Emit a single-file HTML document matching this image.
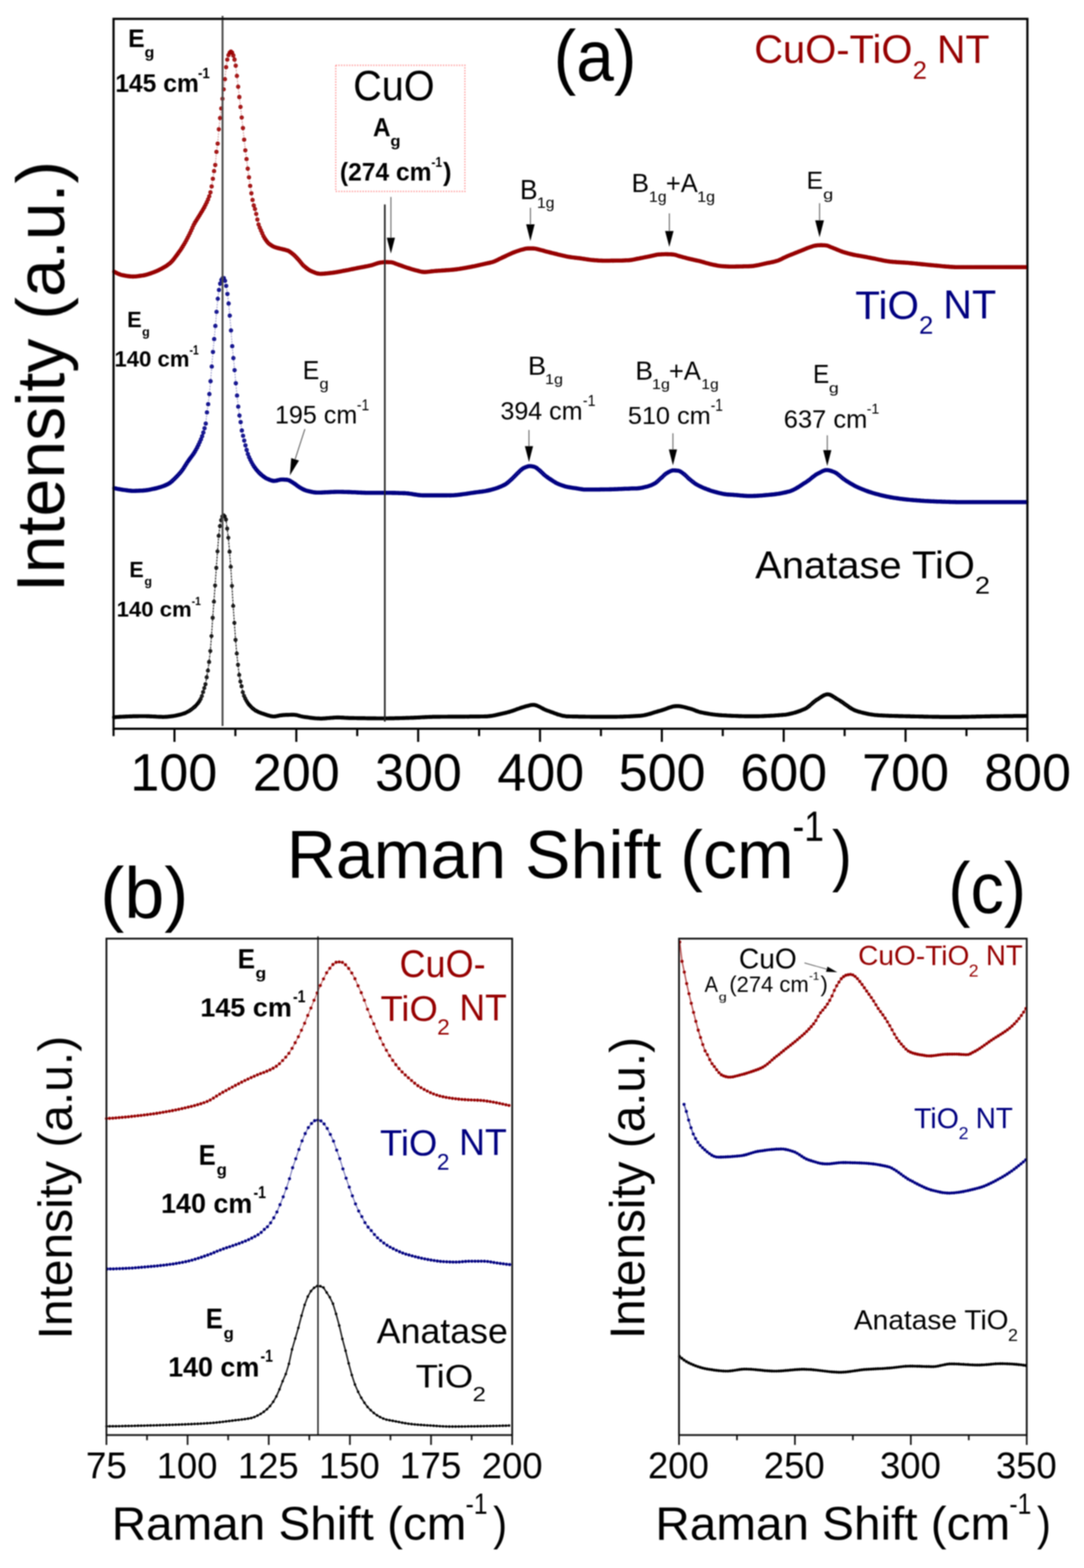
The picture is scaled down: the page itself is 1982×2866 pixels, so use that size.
<!DOCTYPE html>
<html><head><meta charset="utf-8"><title>Raman spectra</title><style>html,body{margin:0;padding:0;background:#fff;}svg{display:block;}</style></head><body>
<svg width="1982" height="2866" viewBox="0 0 1982 2866" font-family="Liberation Sans, Arial, Helvetica, sans-serif">
<rect width="1982" height="2866" fill="#fff"/>
<defs><filter id="soft" filterUnits="userSpaceOnUse" x="0" y="0" width="1982" height="2866"><feGaussianBlur stdDeviation="0.8"/></filter></defs>
<g filter="url(#soft)">
<path d="M208.8,496.6 L211.0,497.8 L213.2,498.9 L215.4,500.0 L217.6,500.9 L219.8,501.8 L222.0,502.5 L224.2,503.0 L226.4,503.4 L228.6,503.9 L230.8,504.2 L233.0,504.6 L235.2,504.9 L237.4,505.1 L239.6,505.3 L241.8,505.4 L244.0,505.4 L246.2,505.3 L248.4,505.2 L250.6,505.0 L252.8,504.7 L255.0,504.4 L257.2,504.1 L259.4,503.8 L261.6,503.5 L263.8,503.1 L266.0,502.6 L268.2,502.0 L270.4,501.3 L272.6,500.6 L274.8,499.9 L277.0,499.1 L279.2,498.3 L281.4,497.5 L283.6,496.6 L285.8,495.7 L288.0,494.7 L290.2,493.7 L292.4,492.6 L294.6,491.5 L296.8,490.3 L299.0,489.1 L301.2,487.8 L303.4,486.5 L305.6,485.0 L307.8,483.4 L310.0,481.7 L312.2,479.8 L314.4,477.5 L316.6,475.0 L318.8,472.2 L321.0,469.3 L323.2,466.4 L325.4,463.4 L327.6,460.3 L329.8,457.2 L332.0,453.9 L334.2,450.4 L336.4,446.8 L338.6,443.0 L340.8,439.0 L343.0,434.8 L345.2,430.5 L347.4,426.1 L349.6,421.3 L351.8,416.4 L354.0,411.6 L356.2,407.4 L358.4,403.7 L360.6,400.2 L362.8,396.8 L365.0,393.3 L367.2,389.6 L369.4,386.0 L371.6,382.3 L373.8,378.4 L376.0,374.1 L378.2,369.6 L380.4,364.6 L382.6,358.8 L384.8,351.6 L387.0,340.8 L389.2,326.8 L391.4,312.7 L393.6,301.6 L395.8,277.6 L398.0,262.5 L400.2,236.2 L402.4,215.8 L404.6,198.2 L406.8,180.5 L409.0,163.3 L411.2,144.7 L413.4,122.7 L415.6,109.0 L417.8,100.8 L420.0,96.4 L422.2,94.4 L424.4,96.3 L426.6,101.4 L428.8,108.9 L431.0,120.1 L433.2,138.7 L435.4,158.5 L437.6,177.4 L439.8,195.4 L442.0,214.8 L444.2,234.1 L446.4,255.2 L448.6,274.8 L450.8,290.8 L453.0,308.3 L455.2,324.0 L457.4,339.8 L459.6,353.3 L461.8,365.5 L464.0,375.5 L466.2,382.0 L468.4,391.0 L470.6,401.2 L472.8,410.2 L475.0,416.1 L477.2,421.2 L479.4,426.3 L481.6,431.2 L483.8,435.2 L486.0,438.6 L488.2,441.6 L490.4,444.1 L492.6,446.0 L494.8,447.6 L497.0,449.1 L499.2,450.3 L501.4,451.3 L503.6,452.1 L505.8,452.8 L508.0,453.4 L510.2,453.9 L512.4,454.5 L514.6,455.0 L516.8,455.6 L519.0,456.1 L521.2,456.6 L523.4,457.2 L525.6,457.9 L527.8,458.8 L530.0,460.2 L532.2,461.8 L534.4,463.5 L536.6,465.3 L538.8,467.3 L541.0,469.5 L543.2,471.9 L545.4,474.2 L547.6,476.7 L549.8,479.5 L552.0,482.2 L554.2,484.7 L556.4,486.8 L558.6,488.6 L560.8,490.4 L563.0,492.0 L565.2,493.5 L567.4,494.7 L569.6,495.7 L571.8,496.7 L574.0,497.6 L576.2,498.5 L578.4,499.2 L580.6,499.9 L582.8,500.3 L585.0,500.5 L587.2,500.5 L589.4,500.4 L591.6,500.3 L593.8,500.1 L596.0,499.9 L598.2,499.7 L600.4,499.4 L602.6,499.2 L604.8,498.9 L607.0,498.7 L609.2,498.4 L611.4,498.1 L613.6,497.7 L615.8,497.4 L618.0,497.0 L620.2,496.6 L622.4,496.2 L624.6,495.7 L626.8,495.3 L629.0,494.9 L631.2,494.5 L633.4,494.1 L635.6,493.7 L637.8,493.2 L640.0,492.8 L642.2,492.3 L644.4,491.9 L646.6,491.4 L648.8,491.0 L651.0,490.5 L653.2,490.1 L655.4,489.6 L657.6,489.2 L659.8,488.8 L662.0,488.4 L664.2,488.0 L666.4,487.6 L668.6,487.1 L670.8,486.7 L673.0,486.2 L675.2,485.8 L677.4,485.3 L679.6,484.7 L681.8,484.0 L684.0,483.3 L686.2,482.5 L688.4,481.7 L690.6,481.1 L692.8,480.5 L695.0,480.1 L697.2,479.7 L699.4,479.5 L701.6,479.2 L703.8,479.1 L706.0,479.1 L708.2,479.1 L710.4,479.2 L712.6,479.2 L714.8,479.3 L717.0,479.7 L719.2,480.3 L721.4,481.1 L723.6,482.0 L725.8,482.8 L728.0,483.6 L730.2,484.4 L732.4,485.1 L734.6,485.9 L736.8,486.7 L739.0,487.5 L741.2,488.3 L743.4,489.0 L745.6,489.7 L747.8,490.4 L750.0,491.1 L752.2,491.8 L754.4,492.5 L756.6,493.1 L758.8,493.7 L761.0,494.2 L763.2,494.8 L765.4,495.4 L767.6,496.0 L769.8,496.5 L772.0,496.9 L774.2,497.1 L776.4,497.2 L778.6,497.1 L780.8,497.0 L783.0,496.7 L785.2,496.5 L787.4,496.2 L789.6,495.9 L791.8,495.7 L794.0,495.5 L796.2,495.3 L798.4,495.1 L800.6,495.0 L802.8,494.8 L805.0,494.7 L807.2,494.5 L809.4,494.4 L811.6,494.2 L813.8,494.1 L816.0,493.9 L818.2,493.8 L820.4,493.6 L822.6,493.5 L824.8,493.3 L827.0,493.1 L829.2,492.9 L831.4,492.6 L833.6,492.4 L835.8,492.1 L838.0,491.8 L840.2,491.5 L842.4,491.1 L844.6,490.8 L846.8,490.4 L849.0,490.0 L851.2,489.6 L853.4,489.2 L855.6,488.8 L857.8,488.4 L860.0,488.0 L862.2,487.6 L864.4,487.1 L866.6,486.7 L868.8,486.2 L871.0,485.8 L873.2,485.3 L875.4,484.8 L877.6,484.3 L879.8,483.8 L882.0,483.3 L884.2,482.8 L886.4,482.3 L888.6,481.8 L890.8,481.3 L893.0,480.9 L895.2,480.4 L897.4,479.8 L899.6,479.2 L901.8,478.5 L904.0,477.7 L906.2,476.7 L908.4,475.7 L910.6,474.7 L912.8,473.6 L915.0,472.5 L917.2,471.4 L919.4,470.4 L921.6,469.4 L923.8,468.4 L926.0,467.3 L928.2,466.3 L930.4,465.3 L932.6,464.3 L934.8,463.3 L937.0,462.3 L939.2,461.4 L941.4,460.6 L943.6,459.8 L945.8,459.0 L948.0,458.2 L950.2,457.5 L952.4,456.8 L954.6,456.2 L956.8,455.7 L959.0,455.1 L961.2,454.6 L963.4,454.2 L965.6,454.1 L967.8,454.1 L970.0,454.1 L972.2,454.1 L974.4,454.1 L976.6,454.2 L978.8,454.5 L981.0,455.0 L983.2,455.6 L985.4,456.1 L987.6,456.7 L989.8,457.2 L992.0,457.8 L994.2,458.4 L996.4,459.1 L998.6,459.7 L1000.8,460.2 L1003.0,460.8 L1005.2,461.4 L1007.4,461.9 L1009.6,462.5 L1011.8,463.0 L1014.0,463.6 L1016.2,464.1 L1018.4,464.6 L1020.6,465.2 L1022.8,465.7 L1025.0,466.2 L1027.2,466.8 L1029.4,467.3 L1031.6,467.8 L1033.8,468.3 L1036.0,468.8 L1038.2,469.2 L1040.4,469.6 L1042.6,469.9 L1044.8,470.3 L1047.0,470.5 L1049.2,470.8 L1051.4,471.1 L1053.6,471.3 L1055.8,471.6 L1058.0,471.8 L1060.2,472.1 L1062.4,472.4 L1064.6,472.7 L1066.8,473.1 L1069.0,473.4 L1071.2,473.8 L1073.4,474.1 L1075.6,474.4 L1077.8,474.7 L1080.0,475.0 L1082.2,475.2 L1084.4,475.4 L1086.6,475.6 L1088.8,475.8 L1091.0,475.9 L1093.2,476.1 L1095.4,476.2 L1097.6,476.4 L1099.8,476.4 L1102.0,476.5 L1104.2,476.5 L1106.4,476.5 L1108.6,476.5 L1110.8,476.5 L1113.0,476.5 L1115.2,476.5 L1117.4,476.4 L1119.6,476.4 L1121.8,476.4 L1124.0,476.4 L1126.2,476.3 L1128.4,476.3 L1130.6,476.3 L1132.8,476.3 L1135.0,476.2 L1137.2,476.2 L1139.4,476.1 L1141.6,476.0 L1143.8,475.9 L1146.0,475.8 L1148.2,475.7 L1150.4,475.6 L1152.6,475.4 L1154.8,475.1 L1157.0,474.7 L1159.2,474.3 L1161.4,473.9 L1163.6,473.4 L1165.8,472.9 L1168.0,472.5 L1170.2,472.1 L1172.4,471.6 L1174.6,471.2 L1176.8,470.8 L1179.0,470.3 L1181.2,469.9 L1183.4,469.5 L1185.6,469.0 L1187.8,468.6 L1190.0,468.1 L1192.2,467.6 L1194.4,467.1 L1196.6,466.6 L1198.8,466.1 L1201.0,465.6 L1203.2,465.3 L1205.4,465.1 L1207.6,465.0 L1209.8,464.9 L1212.0,464.8 L1214.2,464.7 L1216.4,464.6 L1218.6,464.6 L1220.8,464.6 L1223.0,464.7 L1225.2,464.7 L1227.4,464.9 L1229.6,465.1 L1231.8,465.3 L1234.0,465.7 L1236.2,466.3 L1238.4,467.0 L1240.6,467.7 L1242.8,468.4 L1245.0,469.0 L1247.2,469.6 L1249.4,470.2 L1251.6,470.8 L1253.8,471.4 L1256.0,472.0 L1258.2,472.6 L1260.4,473.1 L1262.6,473.6 L1264.8,474.1 L1267.0,474.6 L1269.2,475.1 L1271.4,475.6 L1273.6,476.1 L1275.8,476.5 L1278.0,477.0 L1280.2,477.6 L1282.4,478.1 L1284.6,478.8 L1286.8,479.4 L1289.0,480.0 L1291.2,480.7 L1293.4,481.3 L1295.6,481.9 L1297.8,482.5 L1300.0,483.0 L1302.2,483.5 L1304.4,484.0 L1306.6,484.4 L1308.8,484.9 L1311.0,485.3 L1313.2,485.7 L1315.4,486.0 L1317.6,486.3 L1319.8,486.5 L1322.0,486.6 L1324.2,486.8 L1326.4,486.9 L1328.6,487.0 L1330.8,487.1 L1333.0,487.2 L1335.2,487.2 L1337.4,487.2 L1339.6,487.2 L1341.8,487.2 L1344.0,487.2 L1346.2,487.1 L1348.4,487.1 L1350.6,487.1 L1352.8,487.0 L1355.0,487.0 L1357.2,487.0 L1359.4,486.9 L1361.6,486.8 L1363.8,486.8 L1366.0,486.7 L1368.2,486.7 L1370.4,486.6 L1372.6,486.5 L1374.8,486.4 L1377.0,486.2 L1379.2,485.9 L1381.4,485.5 L1383.6,485.1 L1385.8,484.7 L1388.0,484.2 L1390.2,483.7 L1392.4,483.2 L1394.6,482.7 L1396.8,482.2 L1399.0,481.7 L1401.2,481.3 L1403.4,480.8 L1405.6,480.4 L1407.8,480.0 L1410.0,479.5 L1412.2,479.1 L1414.4,478.6 L1416.6,478.0 L1418.8,477.4 L1421.0,476.8 L1423.2,476.0 L1425.4,475.1 L1427.6,474.1 L1429.8,473.0 L1432.0,471.9 L1434.2,470.8 L1436.4,469.7 L1438.6,468.7 L1440.8,467.8 L1443.0,466.9 L1445.2,466.0 L1447.4,465.1 L1449.6,464.2 L1451.8,463.4 L1454.0,462.5 L1456.2,461.6 L1458.4,460.8 L1460.6,459.9 L1462.8,459.0 L1465.0,458.1 L1467.2,457.2 L1469.4,456.3 L1471.6,455.4 L1473.8,454.5 L1476.0,453.6 L1478.2,452.8 L1480.4,452.0 L1482.6,451.3 L1484.8,450.5 L1487.0,449.8 L1489.2,449.3 L1491.4,448.9 L1493.6,448.6 L1495.8,448.3 L1498.0,448.2 L1500.2,448.1 L1502.4,448.1 L1504.6,448.2 L1506.8,448.3 L1509.0,448.5 L1511.2,448.7 L1513.4,449.3 L1515.6,450.1 L1517.8,451.1 L1520.0,452.0 L1522.2,452.8 L1524.4,453.7 L1526.6,454.6 L1528.8,455.5 L1531.0,456.4 L1533.2,457.3 L1535.4,458.2 L1537.6,459.1 L1539.8,459.9 L1542.0,460.7 L1544.2,461.4 L1546.4,462.0 L1548.6,462.6 L1550.8,463.2 L1553.0,463.8 L1555.2,464.4 L1557.4,464.9 L1559.6,465.4 L1561.8,465.9 L1564.0,466.3 L1566.2,466.7 L1568.4,467.1 L1570.6,467.5 L1572.8,467.8 L1575.0,468.2 L1577.2,468.6 L1579.4,469.0 L1581.6,469.4 L1583.8,469.8 L1586.0,470.2 L1588.2,470.7 L1590.4,471.1 L1592.6,471.6 L1594.8,472.0 L1597.0,472.4 L1599.2,472.8 L1601.4,473.3 L1603.6,473.7 L1605.8,474.2 L1608.0,474.7 L1610.2,475.1 L1612.4,475.6 L1614.6,476.1 L1616.8,476.5 L1619.0,476.9 L1621.2,477.3 L1623.4,477.6 L1625.6,477.9 L1627.8,478.2 L1630.0,478.4 L1632.2,478.6 L1634.4,478.8 L1636.6,478.9 L1638.8,479.1 L1641.0,479.2 L1643.2,479.4 L1645.4,479.5 L1647.6,479.6 L1649.8,479.8 L1652.0,479.9 L1654.2,480.0 L1656.4,480.2 L1658.6,480.3 L1660.8,480.5 L1663.0,480.7 L1665.2,480.9 L1667.4,481.1 L1669.6,481.3 L1671.8,481.5 L1674.0,481.7 L1676.2,481.9 L1678.4,482.2 L1680.6,482.4 L1682.8,482.6 L1685.0,482.9 L1687.2,483.1 L1689.4,483.3 L1691.6,483.5 L1693.8,483.8 L1696.0,484.0 L1698.2,484.2 L1700.4,484.4 L1702.6,484.6 L1704.8,484.8 L1707.0,485.0 L1709.2,485.2 L1711.4,485.4 L1713.6,485.6 L1715.8,485.8 L1718.0,486.0 L1720.2,486.3 L1722.4,486.5 L1724.6,486.7 L1726.8,486.9 L1729.0,487.1 L1731.2,487.2 L1733.4,487.4 L1735.6,487.6 L1737.8,487.7 L1740.0,487.9 L1742.2,488.0 L1744.4,488.1 L1746.6,488.2 L1748.8,488.2 L1751.0,488.3 L1753.2,488.3 L1755.4,488.3 L1757.6,488.3 L1759.8,488.3 L1762.0,488.3 L1764.2,488.3 L1766.4,488.3 L1768.6,488.3 L1770.8,488.3 L1773.0,488.3 L1775.2,488.3 L1777.4,488.3 L1779.6,488.3 L1781.8,488.3 L1784.0,488.3 L1786.2,488.3 L1788.4,488.3 L1790.6,488.3 L1792.8,488.3 L1795.0,488.3 L1797.2,488.3 L1799.4,488.3 L1801.6,488.3 L1803.8,488.3 L1806.0,488.3 L1808.2,488.3 L1810.4,488.3 L1812.6,488.3 L1814.8,488.3 L1817.0,488.3 L1819.2,488.3 L1821.4,488.3 L1823.6,488.3 L1825.8,488.3 L1828.0,488.3 L1830.2,488.3 L1832.4,488.3 L1834.6,488.3 L1836.8,488.3 L1839.0,488.3 L1841.2,488.3 L1843.4,488.3 L1845.6,488.3 L1847.8,488.3 L1850.0,488.3 L1852.2,488.3 L1854.4,488.3 L1856.6,488.3 L1858.8,488.3 L1861.0,488.3 L1863.2,488.3 L1865.4,488.3 L1867.6,488.3 L1869.8,488.3 L1872.0,488.3 L1874.2,488.3 L1876.4,488.3" fill="none" stroke="#960000" stroke-width="1.6" stroke-opacity="0.45" stroke-dasharray="3 2"/>
<path d="M205.7,496.6a3.1,3.1 0 1,0 6.2,0a3.1,3.1 0 1,0 -6.2,0M207.9,497.8a3.1,3.1 0 1,0 6.2,0a3.1,3.1 0 1,0 -6.2,0M210.1,498.9a3.1,3.1 0 1,0 6.2,0a3.1,3.1 0 1,0 -6.2,0M212.3,500.0a3.1,3.1 0 1,0 6.2,0a3.1,3.1 0 1,0 -6.2,0M214.5,500.9a3.1,3.1 0 1,0 6.2,0a3.1,3.1 0 1,0 -6.2,0M216.7,501.8a3.1,3.1 0 1,0 6.2,0a3.1,3.1 0 1,0 -6.2,0M218.9,502.5a3.1,3.1 0 1,0 6.2,0a3.1,3.1 0 1,0 -6.2,0M221.1,503.0a3.1,3.1 0 1,0 6.2,0a3.1,3.1 0 1,0 -6.2,0M223.3,503.4a3.1,3.1 0 1,0 6.2,0a3.1,3.1 0 1,0 -6.2,0M225.5,503.9a3.1,3.1 0 1,0 6.2,0a3.1,3.1 0 1,0 -6.2,0M227.7,504.2a3.1,3.1 0 1,0 6.2,0a3.1,3.1 0 1,0 -6.2,0M229.9,504.6a3.1,3.1 0 1,0 6.2,0a3.1,3.1 0 1,0 -6.2,0M232.1,504.9a3.1,3.1 0 1,0 6.2,0a3.1,3.1 0 1,0 -6.2,0M234.3,505.1a3.1,3.1 0 1,0 6.2,0a3.1,3.1 0 1,0 -6.2,0M236.5,505.3a3.1,3.1 0 1,0 6.2,0a3.1,3.1 0 1,0 -6.2,0M238.7,505.4a3.1,3.1 0 1,0 6.2,0a3.1,3.1 0 1,0 -6.2,0M240.9,505.4a3.1,3.1 0 1,0 6.2,0a3.1,3.1 0 1,0 -6.2,0M243.1,505.3a3.1,3.1 0 1,0 6.2,0a3.1,3.1 0 1,0 -6.2,0M245.3,505.2a3.1,3.1 0 1,0 6.2,0a3.1,3.1 0 1,0 -6.2,0M247.5,505.0a3.1,3.1 0 1,0 6.2,0a3.1,3.1 0 1,0 -6.2,0M249.7,504.7a3.1,3.1 0 1,0 6.2,0a3.1,3.1 0 1,0 -6.2,0M251.9,504.4a3.1,3.1 0 1,0 6.2,0a3.1,3.1 0 1,0 -6.2,0M254.1,504.1a3.1,3.1 0 1,0 6.2,0a3.1,3.1 0 1,0 -6.2,0M256.3,503.8a3.1,3.1 0 1,0 6.2,0a3.1,3.1 0 1,0 -6.2,0M258.5,503.5a3.1,3.1 0 1,0 6.2,0a3.1,3.1 0 1,0 -6.2,0M260.7,503.1a3.1,3.1 0 1,0 6.2,0a3.1,3.1 0 1,0 -6.2,0M262.9,502.6a3.1,3.1 0 1,0 6.2,0a3.1,3.1 0 1,0 -6.2,0M265.1,502.0a3.1,3.1 0 1,0 6.2,0a3.1,3.1 0 1,0 -6.2,0M267.3,501.3a3.1,3.1 0 1,0 6.2,0a3.1,3.1 0 1,0 -6.2,0M269.5,500.6a3.1,3.1 0 1,0 6.2,0a3.1,3.1 0 1,0 -6.2,0M271.7,499.9a3.1,3.1 0 1,0 6.2,0a3.1,3.1 0 1,0 -6.2,0M273.9,499.1a3.1,3.1 0 1,0 6.2,0a3.1,3.1 0 1,0 -6.2,0M276.1,498.3a3.1,3.1 0 1,0 6.2,0a3.1,3.1 0 1,0 -6.2,0M278.3,497.5a3.1,3.1 0 1,0 6.2,0a3.1,3.1 0 1,0 -6.2,0M280.5,496.6a3.1,3.1 0 1,0 6.2,0a3.1,3.1 0 1,0 -6.2,0M282.7,495.7a3.1,3.1 0 1,0 6.2,0a3.1,3.1 0 1,0 -6.2,0M284.9,494.7a3.1,3.1 0 1,0 6.2,0a3.1,3.1 0 1,0 -6.2,0M287.1,493.7a3.1,3.1 0 1,0 6.2,0a3.1,3.1 0 1,0 -6.2,0M289.3,492.6a3.1,3.1 0 1,0 6.2,0a3.1,3.1 0 1,0 -6.2,0M291.5,491.5a3.1,3.1 0 1,0 6.2,0a3.1,3.1 0 1,0 -6.2,0M293.7,490.3a3.1,3.1 0 1,0 6.2,0a3.1,3.1 0 1,0 -6.2,0M295.9,489.1a3.1,3.1 0 1,0 6.2,0a3.1,3.1 0 1,0 -6.2,0M298.1,487.8a3.1,3.1 0 1,0 6.2,0a3.1,3.1 0 1,0 -6.2,0M300.3,486.5a3.1,3.1 0 1,0 6.2,0a3.1,3.1 0 1,0 -6.2,0M302.5,485.0a3.1,3.1 0 1,0 6.2,0a3.1,3.1 0 1,0 -6.2,0M304.7,483.4a3.1,3.1 0 1,0 6.2,0a3.1,3.1 0 1,0 -6.2,0M306.9,481.7a3.1,3.1 0 1,0 6.2,0a3.1,3.1 0 1,0 -6.2,0M309.1,479.8a3.1,3.1 0 1,0 6.2,0a3.1,3.1 0 1,0 -6.2,0M311.3,477.5a3.1,3.1 0 1,0 6.2,0a3.1,3.1 0 1,0 -6.2,0M313.5,475.0a3.1,3.1 0 1,0 6.2,0a3.1,3.1 0 1,0 -6.2,0M315.7,472.2a3.1,3.1 0 1,0 6.2,0a3.1,3.1 0 1,0 -6.2,0M317.9,469.3a3.1,3.1 0 1,0 6.2,0a3.1,3.1 0 1,0 -6.2,0M320.1,466.4a3.1,3.1 0 1,0 6.2,0a3.1,3.1 0 1,0 -6.2,0M322.3,463.4a3.1,3.1 0 1,0 6.2,0a3.1,3.1 0 1,0 -6.2,0M324.5,460.3a3.1,3.1 0 1,0 6.2,0a3.1,3.1 0 1,0 -6.2,0M326.7,457.2a3.1,3.1 0 1,0 6.2,0a3.1,3.1 0 1,0 -6.2,0M328.9,453.9a3.1,3.1 0 1,0 6.2,0a3.1,3.1 0 1,0 -6.2,0M331.1,450.4a3.1,3.1 0 1,0 6.2,0a3.1,3.1 0 1,0 -6.2,0M333.3,446.8a3.1,3.1 0 1,0 6.2,0a3.1,3.1 0 1,0 -6.2,0M335.5,443.0a3.1,3.1 0 1,0 6.2,0a3.1,3.1 0 1,0 -6.2,0M337.7,439.0a3.1,3.1 0 1,0 6.2,0a3.1,3.1 0 1,0 -6.2,0M339.9,434.8a3.1,3.1 0 1,0 6.2,0a3.1,3.1 0 1,0 -6.2,0M342.1,430.5a3.1,3.1 0 1,0 6.2,0a3.1,3.1 0 1,0 -6.2,0M344.3,426.1a3.1,3.1 0 1,0 6.2,0a3.1,3.1 0 1,0 -6.2,0M346.5,421.3a3.1,3.1 0 1,0 6.2,0a3.1,3.1 0 1,0 -6.2,0M348.7,416.4a3.1,3.1 0 1,0 6.2,0a3.1,3.1 0 1,0 -6.2,0M350.9,411.6a3.1,3.1 0 1,0 6.2,0a3.1,3.1 0 1,0 -6.2,0M353.1,407.4a3.1,3.1 0 1,0 6.2,0a3.1,3.1 0 1,0 -6.2,0M355.3,403.7a3.1,3.1 0 1,0 6.2,0a3.1,3.1 0 1,0 -6.2,0M357.5,400.2a3.1,3.1 0 1,0 6.2,0a3.1,3.1 0 1,0 -6.2,0M359.7,396.8a3.1,3.1 0 1,0 6.2,0a3.1,3.1 0 1,0 -6.2,0M361.9,393.3a3.1,3.1 0 1,0 6.2,0a3.1,3.1 0 1,0 -6.2,0M364.1,389.6a3.1,3.1 0 1,0 6.2,0a3.1,3.1 0 1,0 -6.2,0M366.3,386.0a3.1,3.1 0 1,0 6.2,0a3.1,3.1 0 1,0 -6.2,0M368.5,382.3a3.1,3.1 0 1,0 6.2,0a3.1,3.1 0 1,0 -6.2,0M370.7,378.4a3.1,3.1 0 1,0 6.2,0a3.1,3.1 0 1,0 -6.2,0M372.9,374.1a3.1,3.1 0 1,0 6.2,0a3.1,3.1 0 1,0 -6.2,0M375.1,369.6a3.1,3.1 0 1,0 6.2,0a3.1,3.1 0 1,0 -6.2,0M377.3,364.6a3.1,3.1 0 1,0 6.2,0a3.1,3.1 0 1,0 -6.2,0M379.5,358.8a3.1,3.1 0 1,0 6.2,0a3.1,3.1 0 1,0 -6.2,0M381.7,351.6a3.1,3.1 0 1,0 6.2,0a3.1,3.1 0 1,0 -6.2,0M383.9,340.8a3.1,3.1 0 1,0 6.2,0a3.1,3.1 0 1,0 -6.2,0M386.1,326.8a3.1,3.1 0 1,0 6.2,0a3.1,3.1 0 1,0 -6.2,0M388.3,312.7a3.1,3.1 0 1,0 6.2,0a3.1,3.1 0 1,0 -6.2,0M390.5,301.6a3.1,3.1 0 1,0 6.2,0a3.1,3.1 0 1,0 -6.2,0M392.7,277.6a3.1,3.1 0 1,0 6.2,0a3.1,3.1 0 1,0 -6.2,0M394.9,262.5a3.1,3.1 0 1,0 6.2,0a3.1,3.1 0 1,0 -6.2,0M397.1,236.2a3.1,3.1 0 1,0 6.2,0a3.1,3.1 0 1,0 -6.2,0M399.3,215.8a3.1,3.1 0 1,0 6.2,0a3.1,3.1 0 1,0 -6.2,0M401.5,198.2a3.1,3.1 0 1,0 6.2,0a3.1,3.1 0 1,0 -6.2,0M403.7,180.5a3.1,3.1 0 1,0 6.2,0a3.1,3.1 0 1,0 -6.2,0M405.9,163.3a3.1,3.1 0 1,0 6.2,0a3.1,3.1 0 1,0 -6.2,0M408.1,144.7a3.1,3.1 0 1,0 6.2,0a3.1,3.1 0 1,0 -6.2,0M410.3,122.7a3.1,3.1 0 1,0 6.2,0a3.1,3.1 0 1,0 -6.2,0M412.5,109.0a3.1,3.1 0 1,0 6.2,0a3.1,3.1 0 1,0 -6.2,0M414.7,100.8a3.1,3.1 0 1,0 6.2,0a3.1,3.1 0 1,0 -6.2,0M416.9,96.4a3.1,3.1 0 1,0 6.2,0a3.1,3.1 0 1,0 -6.2,0M419.1,94.4a3.1,3.1 0 1,0 6.2,0a3.1,3.1 0 1,0 -6.2,0M421.3,96.3a3.1,3.1 0 1,0 6.2,0a3.1,3.1 0 1,0 -6.2,0M423.5,101.4a3.1,3.1 0 1,0 6.2,0a3.1,3.1 0 1,0 -6.2,0M425.7,108.9a3.1,3.1 0 1,0 6.2,0a3.1,3.1 0 1,0 -6.2,0M427.9,120.1a3.1,3.1 0 1,0 6.2,0a3.1,3.1 0 1,0 -6.2,0M430.1,138.7a3.1,3.1 0 1,0 6.2,0a3.1,3.1 0 1,0 -6.2,0M432.3,158.5a3.1,3.1 0 1,0 6.2,0a3.1,3.1 0 1,0 -6.2,0M434.5,177.4a3.1,3.1 0 1,0 6.2,0a3.1,3.1 0 1,0 -6.2,0M436.7,195.4a3.1,3.1 0 1,0 6.2,0a3.1,3.1 0 1,0 -6.2,0M438.9,214.8a3.1,3.1 0 1,0 6.2,0a3.1,3.1 0 1,0 -6.2,0M441.1,234.1a3.1,3.1 0 1,0 6.2,0a3.1,3.1 0 1,0 -6.2,0M443.3,255.2a3.1,3.1 0 1,0 6.2,0a3.1,3.1 0 1,0 -6.2,0M445.5,274.8a3.1,3.1 0 1,0 6.2,0a3.1,3.1 0 1,0 -6.2,0M447.7,290.8a3.1,3.1 0 1,0 6.2,0a3.1,3.1 0 1,0 -6.2,0M449.9,308.3a3.1,3.1 0 1,0 6.2,0a3.1,3.1 0 1,0 -6.2,0M452.1,324.0a3.1,3.1 0 1,0 6.2,0a3.1,3.1 0 1,0 -6.2,0M454.3,339.8a3.1,3.1 0 1,0 6.2,0a3.1,3.1 0 1,0 -6.2,0M456.5,353.3a3.1,3.1 0 1,0 6.2,0a3.1,3.1 0 1,0 -6.2,0M458.7,365.5a3.1,3.1 0 1,0 6.2,0a3.1,3.1 0 1,0 -6.2,0M460.9,375.5a3.1,3.1 0 1,0 6.2,0a3.1,3.1 0 1,0 -6.2,0M463.1,382.0a3.1,3.1 0 1,0 6.2,0a3.1,3.1 0 1,0 -6.2,0M465.3,391.0a3.1,3.1 0 1,0 6.2,0a3.1,3.1 0 1,0 -6.2,0M467.5,401.2a3.1,3.1 0 1,0 6.2,0a3.1,3.1 0 1,0 -6.2,0M469.7,410.2a3.1,3.1 0 1,0 6.2,0a3.1,3.1 0 1,0 -6.2,0M471.9,416.1a3.1,3.1 0 1,0 6.2,0a3.1,3.1 0 1,0 -6.2,0M474.1,421.2a3.1,3.1 0 1,0 6.2,0a3.1,3.1 0 1,0 -6.2,0M476.3,426.3a3.1,3.1 0 1,0 6.2,0a3.1,3.1 0 1,0 -6.2,0M478.5,431.2a3.1,3.1 0 1,0 6.2,0a3.1,3.1 0 1,0 -6.2,0M480.7,435.2a3.1,3.1 0 1,0 6.2,0a3.1,3.1 0 1,0 -6.2,0M482.9,438.6a3.1,3.1 0 1,0 6.2,0a3.1,3.1 0 1,0 -6.2,0M485.1,441.6a3.1,3.1 0 1,0 6.2,0a3.1,3.1 0 1,0 -6.2,0M487.3,444.1a3.1,3.1 0 1,0 6.2,0a3.1,3.1 0 1,0 -6.2,0M489.5,446.0a3.1,3.1 0 1,0 6.2,0a3.1,3.1 0 1,0 -6.2,0M491.7,447.6a3.1,3.1 0 1,0 6.2,0a3.1,3.1 0 1,0 -6.2,0M493.9,449.1a3.1,3.1 0 1,0 6.2,0a3.1,3.1 0 1,0 -6.2,0M496.1,450.3a3.1,3.1 0 1,0 6.2,0a3.1,3.1 0 1,0 -6.2,0M498.3,451.3a3.1,3.1 0 1,0 6.2,0a3.1,3.1 0 1,0 -6.2,0M500.5,452.1a3.1,3.1 0 1,0 6.2,0a3.1,3.1 0 1,0 -6.2,0M502.7,452.8a3.1,3.1 0 1,0 6.2,0a3.1,3.1 0 1,0 -6.2,0M504.9,453.4a3.1,3.1 0 1,0 6.2,0a3.1,3.1 0 1,0 -6.2,0M507.1,453.9a3.1,3.1 0 1,0 6.2,0a3.1,3.1 0 1,0 -6.2,0M509.3,454.5a3.1,3.1 0 1,0 6.2,0a3.1,3.1 0 1,0 -6.2,0M511.5,455.0a3.1,3.1 0 1,0 6.2,0a3.1,3.1 0 1,0 -6.2,0M513.7,455.6a3.1,3.1 0 1,0 6.2,0a3.1,3.1 0 1,0 -6.2,0M515.9,456.1a3.1,3.1 0 1,0 6.2,0a3.1,3.1 0 1,0 -6.2,0M518.1,456.6a3.1,3.1 0 1,0 6.2,0a3.1,3.1 0 1,0 -6.2,0M520.3,457.2a3.1,3.1 0 1,0 6.2,0a3.1,3.1 0 1,0 -6.2,0M522.5,457.9a3.1,3.1 0 1,0 6.2,0a3.1,3.1 0 1,0 -6.2,0M524.7,458.8a3.1,3.1 0 1,0 6.2,0a3.1,3.1 0 1,0 -6.2,0M526.9,460.2a3.1,3.1 0 1,0 6.2,0a3.1,3.1 0 1,0 -6.2,0M529.1,461.8a3.1,3.1 0 1,0 6.2,0a3.1,3.1 0 1,0 -6.2,0M531.3,463.5a3.1,3.1 0 1,0 6.2,0a3.1,3.1 0 1,0 -6.2,0M533.5,465.3a3.1,3.1 0 1,0 6.2,0a3.1,3.1 0 1,0 -6.2,0M535.7,467.3a3.1,3.1 0 1,0 6.2,0a3.1,3.1 0 1,0 -6.2,0M537.9,469.5a3.1,3.1 0 1,0 6.2,0a3.1,3.1 0 1,0 -6.2,0M540.1,471.9a3.1,3.1 0 1,0 6.2,0a3.1,3.1 0 1,0 -6.2,0M542.3,474.2a3.1,3.1 0 1,0 6.2,0a3.1,3.1 0 1,0 -6.2,0M544.5,476.7a3.1,3.1 0 1,0 6.2,0a3.1,3.1 0 1,0 -6.2,0M546.7,479.5a3.1,3.1 0 1,0 6.2,0a3.1,3.1 0 1,0 -6.2,0M548.9,482.2a3.1,3.1 0 1,0 6.2,0a3.1,3.1 0 1,0 -6.2,0M551.1,484.7a3.1,3.1 0 1,0 6.2,0a3.1,3.1 0 1,0 -6.2,0M553.3,486.8a3.1,3.1 0 1,0 6.2,0a3.1,3.1 0 1,0 -6.2,0M555.5,488.6a3.1,3.1 0 1,0 6.2,0a3.1,3.1 0 1,0 -6.2,0M557.7,490.4a3.1,3.1 0 1,0 6.2,0a3.1,3.1 0 1,0 -6.2,0M559.9,492.0a3.1,3.1 0 1,0 6.2,0a3.1,3.1 0 1,0 -6.2,0M562.1,493.5a3.1,3.1 0 1,0 6.2,0a3.1,3.1 0 1,0 -6.2,0M564.3,494.7a3.1,3.1 0 1,0 6.2,0a3.1,3.1 0 1,0 -6.2,0M566.5,495.7a3.1,3.1 0 1,0 6.2,0a3.1,3.1 0 1,0 -6.2,0M568.7,496.7a3.1,3.1 0 1,0 6.2,0a3.1,3.1 0 1,0 -6.2,0M570.9,497.6a3.1,3.1 0 1,0 6.2,0a3.1,3.1 0 1,0 -6.2,0M573.1,498.5a3.1,3.1 0 1,0 6.2,0a3.1,3.1 0 1,0 -6.2,0M575.3,499.2a3.1,3.1 0 1,0 6.2,0a3.1,3.1 0 1,0 -6.2,0M577.5,499.9a3.1,3.1 0 1,0 6.2,0a3.1,3.1 0 1,0 -6.2,0M579.7,500.3a3.1,3.1 0 1,0 6.2,0a3.1,3.1 0 1,0 -6.2,0M581.9,500.5a3.1,3.1 0 1,0 6.2,0a3.1,3.1 0 1,0 -6.2,0M584.1,500.5a3.1,3.1 0 1,0 6.2,0a3.1,3.1 0 1,0 -6.2,0M586.3,500.4a3.1,3.1 0 1,0 6.2,0a3.1,3.1 0 1,0 -6.2,0M588.5,500.3a3.1,3.1 0 1,0 6.2,0a3.1,3.1 0 1,0 -6.2,0M590.7,500.1a3.1,3.1 0 1,0 6.2,0a3.1,3.1 0 1,0 -6.2,0M592.9,499.9a3.1,3.1 0 1,0 6.2,0a3.1,3.1 0 1,0 -6.2,0M595.1,499.7a3.1,3.1 0 1,0 6.2,0a3.1,3.1 0 1,0 -6.2,0M597.3,499.4a3.1,3.1 0 1,0 6.2,0a3.1,3.1 0 1,0 -6.2,0M599.5,499.2a3.1,3.1 0 1,0 6.2,0a3.1,3.1 0 1,0 -6.2,0M601.7,498.9a3.1,3.1 0 1,0 6.2,0a3.1,3.1 0 1,0 -6.2,0M603.9,498.7a3.1,3.1 0 1,0 6.2,0a3.1,3.1 0 1,0 -6.2,0M606.1,498.4a3.1,3.1 0 1,0 6.2,0a3.1,3.1 0 1,0 -6.2,0M608.3,498.1a3.1,3.1 0 1,0 6.2,0a3.1,3.1 0 1,0 -6.2,0M610.5,497.7a3.1,3.1 0 1,0 6.2,0a3.1,3.1 0 1,0 -6.2,0M612.7,497.4a3.1,3.1 0 1,0 6.2,0a3.1,3.1 0 1,0 -6.2,0M614.9,497.0a3.1,3.1 0 1,0 6.2,0a3.1,3.1 0 1,0 -6.2,0M617.1,496.6a3.1,3.1 0 1,0 6.2,0a3.1,3.1 0 1,0 -6.2,0M619.3,496.2a3.1,3.1 0 1,0 6.2,0a3.1,3.1 0 1,0 -6.2,0M621.5,495.7a3.1,3.1 0 1,0 6.2,0a3.1,3.1 0 1,0 -6.2,0M623.7,495.3a3.1,3.1 0 1,0 6.2,0a3.1,3.1 0 1,0 -6.2,0M625.9,494.9a3.1,3.1 0 1,0 6.2,0a3.1,3.1 0 1,0 -6.2,0M628.1,494.5a3.1,3.1 0 1,0 6.2,0a3.1,3.1 0 1,0 -6.2,0M630.3,494.1a3.1,3.1 0 1,0 6.2,0a3.1,3.1 0 1,0 -6.2,0M632.5,493.7a3.1,3.1 0 1,0 6.2,0a3.1,3.1 0 1,0 -6.2,0M634.7,493.2a3.1,3.1 0 1,0 6.2,0a3.1,3.1 0 1,0 -6.2,0M636.9,492.8a3.1,3.1 0 1,0 6.2,0a3.1,3.1 0 1,0 -6.2,0M639.1,492.3a3.1,3.1 0 1,0 6.2,0a3.1,3.1 0 1,0 -6.2,0M641.3,491.9a3.1,3.1 0 1,0 6.2,0a3.1,3.1 0 1,0 -6.2,0M643.5,491.4a3.1,3.1 0 1,0 6.2,0a3.1,3.1 0 1,0 -6.2,0M645.7,491.0a3.1,3.1 0 1,0 6.2,0a3.1,3.1 0 1,0 -6.2,0M647.9,490.5a3.1,3.1 0 1,0 6.2,0a3.1,3.1 0 1,0 -6.2,0M650.1,490.1a3.1,3.1 0 1,0 6.2,0a3.1,3.1 0 1,0 -6.2,0M652.3,489.6a3.1,3.1 0 1,0 6.2,0a3.1,3.1 0 1,0 -6.2,0M654.5,489.2a3.1,3.1 0 1,0 6.2,0a3.1,3.1 0 1,0 -6.2,0M656.7,488.8a3.1,3.1 0 1,0 6.2,0a3.1,3.1 0 1,0 -6.2,0M658.9,488.4a3.1,3.1 0 1,0 6.2,0a3.1,3.1 0 1,0 -6.2,0M661.1,488.0a3.1,3.1 0 1,0 6.2,0a3.1,3.1 0 1,0 -6.2,0M663.3,487.6a3.1,3.1 0 1,0 6.2,0a3.1,3.1 0 1,0 -6.2,0M665.5,487.1a3.1,3.1 0 1,0 6.2,0a3.1,3.1 0 1,0 -6.2,0M667.7,486.7a3.1,3.1 0 1,0 6.2,0a3.1,3.1 0 1,0 -6.2,0M669.9,486.2a3.1,3.1 0 1,0 6.2,0a3.1,3.1 0 1,0 -6.2,0M672.1,485.8a3.1,3.1 0 1,0 6.2,0a3.1,3.1 0 1,0 -6.2,0M674.3,485.3a3.1,3.1 0 1,0 6.2,0a3.1,3.1 0 1,0 -6.2,0M676.5,484.7a3.1,3.1 0 1,0 6.2,0a3.1,3.1 0 1,0 -6.2,0M678.7,484.0a3.1,3.1 0 1,0 6.2,0a3.1,3.1 0 1,0 -6.2,0M680.9,483.3a3.1,3.1 0 1,0 6.2,0a3.1,3.1 0 1,0 -6.2,0M683.1,482.5a3.1,3.1 0 1,0 6.2,0a3.1,3.1 0 1,0 -6.2,0M685.3,481.7a3.1,3.1 0 1,0 6.2,0a3.1,3.1 0 1,0 -6.2,0M687.5,481.1a3.1,3.1 0 1,0 6.2,0a3.1,3.1 0 1,0 -6.2,0M689.7,480.5a3.1,3.1 0 1,0 6.2,0a3.1,3.1 0 1,0 -6.2,0M691.9,480.1a3.1,3.1 0 1,0 6.2,0a3.1,3.1 0 1,0 -6.2,0M694.1,479.7a3.1,3.1 0 1,0 6.2,0a3.1,3.1 0 1,0 -6.2,0M696.3,479.5a3.1,3.1 0 1,0 6.2,0a3.1,3.1 0 1,0 -6.2,0M698.5,479.2a3.1,3.1 0 1,0 6.2,0a3.1,3.1 0 1,0 -6.2,0M700.7,479.1a3.1,3.1 0 1,0 6.2,0a3.1,3.1 0 1,0 -6.2,0M702.9,479.1a3.1,3.1 0 1,0 6.2,0a3.1,3.1 0 1,0 -6.2,0M705.1,479.1a3.1,3.1 0 1,0 6.2,0a3.1,3.1 0 1,0 -6.2,0M707.3,479.2a3.1,3.1 0 1,0 6.2,0a3.1,3.1 0 1,0 -6.2,0M709.5,479.2a3.1,3.1 0 1,0 6.2,0a3.1,3.1 0 1,0 -6.2,0M711.7,479.3a3.1,3.1 0 1,0 6.2,0a3.1,3.1 0 1,0 -6.2,0M713.9,479.7a3.1,3.1 0 1,0 6.2,0a3.1,3.1 0 1,0 -6.2,0M716.1,480.3a3.1,3.1 0 1,0 6.2,0a3.1,3.1 0 1,0 -6.2,0M718.3,481.1a3.1,3.1 0 1,0 6.2,0a3.1,3.1 0 1,0 -6.2,0M720.5,482.0a3.1,3.1 0 1,0 6.2,0a3.1,3.1 0 1,0 -6.2,0M722.7,482.8a3.1,3.1 0 1,0 6.2,0a3.1,3.1 0 1,0 -6.2,0M724.9,483.6a3.1,3.1 0 1,0 6.2,0a3.1,3.1 0 1,0 -6.2,0M727.1,484.4a3.1,3.1 0 1,0 6.2,0a3.1,3.1 0 1,0 -6.2,0M729.3,485.1a3.1,3.1 0 1,0 6.2,0a3.1,3.1 0 1,0 -6.2,0M731.5,485.9a3.1,3.1 0 1,0 6.2,0a3.1,3.1 0 1,0 -6.2,0M733.7,486.7a3.1,3.1 0 1,0 6.2,0a3.1,3.1 0 1,0 -6.2,0M735.9,487.5a3.1,3.1 0 1,0 6.2,0a3.1,3.1 0 1,0 -6.2,0M738.1,488.3a3.1,3.1 0 1,0 6.2,0a3.1,3.1 0 1,0 -6.2,0M740.3,489.0a3.1,3.1 0 1,0 6.2,0a3.1,3.1 0 1,0 -6.2,0M742.5,489.7a3.1,3.1 0 1,0 6.2,0a3.1,3.1 0 1,0 -6.2,0M744.7,490.4a3.1,3.1 0 1,0 6.2,0a3.1,3.1 0 1,0 -6.2,0M746.9,491.1a3.1,3.1 0 1,0 6.2,0a3.1,3.1 0 1,0 -6.2,0M749.1,491.8a3.1,3.1 0 1,0 6.2,0a3.1,3.1 0 1,0 -6.2,0M751.3,492.5a3.1,3.1 0 1,0 6.2,0a3.1,3.1 0 1,0 -6.2,0M753.5,493.1a3.1,3.1 0 1,0 6.2,0a3.1,3.1 0 1,0 -6.2,0M755.7,493.7a3.1,3.1 0 1,0 6.2,0a3.1,3.1 0 1,0 -6.2,0M757.9,494.2a3.1,3.1 0 1,0 6.2,0a3.1,3.1 0 1,0 -6.2,0M760.1,494.8a3.1,3.1 0 1,0 6.2,0a3.1,3.1 0 1,0 -6.2,0M762.3,495.4a3.1,3.1 0 1,0 6.2,0a3.1,3.1 0 1,0 -6.2,0M764.5,496.0a3.1,3.1 0 1,0 6.2,0a3.1,3.1 0 1,0 -6.2,0M766.7,496.5a3.1,3.1 0 1,0 6.2,0a3.1,3.1 0 1,0 -6.2,0M768.9,496.9a3.1,3.1 0 1,0 6.2,0a3.1,3.1 0 1,0 -6.2,0M771.1,497.1a3.1,3.1 0 1,0 6.2,0a3.1,3.1 0 1,0 -6.2,0M773.3,497.2a3.1,3.1 0 1,0 6.2,0a3.1,3.1 0 1,0 -6.2,0M775.5,497.1a3.1,3.1 0 1,0 6.2,0a3.1,3.1 0 1,0 -6.2,0M777.7,497.0a3.1,3.1 0 1,0 6.2,0a3.1,3.1 0 1,0 -6.2,0M779.9,496.7a3.1,3.1 0 1,0 6.2,0a3.1,3.1 0 1,0 -6.2,0M782.1,496.5a3.1,3.1 0 1,0 6.2,0a3.1,3.1 0 1,0 -6.2,0M784.3,496.2a3.1,3.1 0 1,0 6.2,0a3.1,3.1 0 1,0 -6.2,0M786.5,495.9a3.1,3.1 0 1,0 6.2,0a3.1,3.1 0 1,0 -6.2,0M788.7,495.7a3.1,3.1 0 1,0 6.2,0a3.1,3.1 0 1,0 -6.2,0M790.9,495.5a3.1,3.1 0 1,0 6.2,0a3.1,3.1 0 1,0 -6.2,0M793.1,495.3a3.1,3.1 0 1,0 6.2,0a3.1,3.1 0 1,0 -6.2,0M795.3,495.1a3.1,3.1 0 1,0 6.2,0a3.1,3.1 0 1,0 -6.2,0M797.5,495.0a3.1,3.1 0 1,0 6.2,0a3.1,3.1 0 1,0 -6.2,0M799.7,494.8a3.1,3.1 0 1,0 6.2,0a3.1,3.1 0 1,0 -6.2,0M801.9,494.7a3.1,3.1 0 1,0 6.2,0a3.1,3.1 0 1,0 -6.2,0M804.1,494.5a3.1,3.1 0 1,0 6.2,0a3.1,3.1 0 1,0 -6.2,0M806.3,494.4a3.1,3.1 0 1,0 6.2,0a3.1,3.1 0 1,0 -6.2,0M808.5,494.2a3.1,3.1 0 1,0 6.2,0a3.1,3.1 0 1,0 -6.2,0M810.7,494.1a3.1,3.1 0 1,0 6.2,0a3.1,3.1 0 1,0 -6.2,0M812.9,493.9a3.1,3.1 0 1,0 6.2,0a3.1,3.1 0 1,0 -6.2,0M815.1,493.8a3.1,3.1 0 1,0 6.2,0a3.1,3.1 0 1,0 -6.2,0M817.3,493.6a3.1,3.1 0 1,0 6.2,0a3.1,3.1 0 1,0 -6.2,0M819.5,493.5a3.1,3.1 0 1,0 6.2,0a3.1,3.1 0 1,0 -6.2,0M821.7,493.3a3.1,3.1 0 1,0 6.2,0a3.1,3.1 0 1,0 -6.2,0M823.9,493.1a3.1,3.1 0 1,0 6.2,0a3.1,3.1 0 1,0 -6.2,0M826.1,492.9a3.1,3.1 0 1,0 6.2,0a3.1,3.1 0 1,0 -6.2,0M828.3,492.6a3.1,3.1 0 1,0 6.2,0a3.1,3.1 0 1,0 -6.2,0M830.5,492.4a3.1,3.1 0 1,0 6.2,0a3.1,3.1 0 1,0 -6.2,0M832.7,492.1a3.1,3.1 0 1,0 6.2,0a3.1,3.1 0 1,0 -6.2,0M834.9,491.8a3.1,3.1 0 1,0 6.2,0a3.1,3.1 0 1,0 -6.2,0M837.1,491.5a3.1,3.1 0 1,0 6.2,0a3.1,3.1 0 1,0 -6.2,0M839.3,491.1a3.1,3.1 0 1,0 6.2,0a3.1,3.1 0 1,0 -6.2,0M841.5,490.8a3.1,3.1 0 1,0 6.2,0a3.1,3.1 0 1,0 -6.2,0M843.7,490.4a3.1,3.1 0 1,0 6.2,0a3.1,3.1 0 1,0 -6.2,0M845.9,490.0a3.1,3.1 0 1,0 6.2,0a3.1,3.1 0 1,0 -6.2,0M848.1,489.6a3.1,3.1 0 1,0 6.2,0a3.1,3.1 0 1,0 -6.2,0M850.3,489.2a3.1,3.1 0 1,0 6.2,0a3.1,3.1 0 1,0 -6.2,0M852.5,488.8a3.1,3.1 0 1,0 6.2,0a3.1,3.1 0 1,0 -6.2,0M854.7,488.4a3.1,3.1 0 1,0 6.2,0a3.1,3.1 0 1,0 -6.2,0M856.9,488.0a3.1,3.1 0 1,0 6.2,0a3.1,3.1 0 1,0 -6.2,0M859.1,487.6a3.1,3.1 0 1,0 6.2,0a3.1,3.1 0 1,0 -6.2,0M861.3,487.1a3.1,3.1 0 1,0 6.2,0a3.1,3.1 0 1,0 -6.2,0M863.5,486.7a3.1,3.1 0 1,0 6.2,0a3.1,3.1 0 1,0 -6.2,0M865.7,486.2a3.1,3.1 0 1,0 6.2,0a3.1,3.1 0 1,0 -6.2,0M867.9,485.8a3.1,3.1 0 1,0 6.2,0a3.1,3.1 0 1,0 -6.2,0M870.1,485.3a3.1,3.1 0 1,0 6.2,0a3.1,3.1 0 1,0 -6.2,0M872.3,484.8a3.1,3.1 0 1,0 6.2,0a3.1,3.1 0 1,0 -6.2,0M874.5,484.3a3.1,3.1 0 1,0 6.2,0a3.1,3.1 0 1,0 -6.2,0M876.7,483.8a3.1,3.1 0 1,0 6.2,0a3.1,3.1 0 1,0 -6.2,0M878.9,483.3a3.1,3.1 0 1,0 6.2,0a3.1,3.1 0 1,0 -6.2,0M881.1,482.8a3.1,3.1 0 1,0 6.2,0a3.1,3.1 0 1,0 -6.2,0M883.3,482.3a3.1,3.1 0 1,0 6.2,0a3.1,3.1 0 1,0 -6.2,0M885.5,481.8a3.1,3.1 0 1,0 6.2,0a3.1,3.1 0 1,0 -6.2,0M887.7,481.3a3.1,3.1 0 1,0 6.2,0a3.1,3.1 0 1,0 -6.2,0M889.9,480.9a3.1,3.1 0 1,0 6.2,0a3.1,3.1 0 1,0 -6.2,0M892.1,480.4a3.1,3.1 0 1,0 6.2,0a3.1,3.1 0 1,0 -6.2,0M894.3,479.8a3.1,3.1 0 1,0 6.2,0a3.1,3.1 0 1,0 -6.2,0M896.5,479.2a3.1,3.1 0 1,0 6.2,0a3.1,3.1 0 1,0 -6.2,0M898.7,478.5a3.1,3.1 0 1,0 6.2,0a3.1,3.1 0 1,0 -6.2,0M900.9,477.7a3.1,3.1 0 1,0 6.2,0a3.1,3.1 0 1,0 -6.2,0M903.1,476.7a3.1,3.1 0 1,0 6.2,0a3.1,3.1 0 1,0 -6.2,0M905.3,475.7a3.1,3.1 0 1,0 6.2,0a3.1,3.1 0 1,0 -6.2,0M907.5,474.7a3.1,3.1 0 1,0 6.2,0a3.1,3.1 0 1,0 -6.2,0M909.7,473.6a3.1,3.1 0 1,0 6.2,0a3.1,3.1 0 1,0 -6.2,0M911.9,472.5a3.1,3.1 0 1,0 6.2,0a3.1,3.1 0 1,0 -6.2,0M914.1,471.4a3.1,3.1 0 1,0 6.2,0a3.1,3.1 0 1,0 -6.2,0M916.3,470.4a3.1,3.1 0 1,0 6.2,0a3.1,3.1 0 1,0 -6.2,0M918.5,469.4a3.1,3.1 0 1,0 6.2,0a3.1,3.1 0 1,0 -6.2,0M920.7,468.4a3.1,3.1 0 1,0 6.2,0a3.1,3.1 0 1,0 -6.2,0M922.9,467.3a3.1,3.1 0 1,0 6.2,0a3.1,3.1 0 1,0 -6.2,0M925.1,466.3a3.1,3.1 0 1,0 6.2,0a3.1,3.1 0 1,0 -6.2,0M927.3,465.3a3.1,3.1 0 1,0 6.2,0a3.1,3.1 0 1,0 -6.2,0M929.5,464.3a3.1,3.1 0 1,0 6.2,0a3.1,3.1 0 1,0 -6.2,0M931.7,463.3a3.1,3.1 0 1,0 6.2,0a3.1,3.1 0 1,0 -6.2,0M933.9,462.3a3.1,3.1 0 1,0 6.2,0a3.1,3.1 0 1,0 -6.2,0M936.1,461.4a3.1,3.1 0 1,0 6.2,0a3.1,3.1 0 1,0 -6.2,0M938.3,460.6a3.1,3.1 0 1,0 6.2,0a3.1,3.1 0 1,0 -6.2,0M940.5,459.8a3.1,3.1 0 1,0 6.2,0a3.1,3.1 0 1,0 -6.2,0M942.7,459.0a3.1,3.1 0 1,0 6.2,0a3.1,3.1 0 1,0 -6.2,0M944.9,458.2a3.1,3.1 0 1,0 6.2,0a3.1,3.1 0 1,0 -6.2,0M947.1,457.5a3.1,3.1 0 1,0 6.2,0a3.1,3.1 0 1,0 -6.2,0M949.3,456.8a3.1,3.1 0 1,0 6.2,0a3.1,3.1 0 1,0 -6.2,0M951.5,456.2a3.1,3.1 0 1,0 6.2,0a3.1,3.1 0 1,0 -6.2,0M953.7,455.7a3.1,3.1 0 1,0 6.2,0a3.1,3.1 0 1,0 -6.2,0M955.9,455.1a3.1,3.1 0 1,0 6.2,0a3.1,3.1 0 1,0 -6.2,0M958.1,454.6a3.1,3.1 0 1,0 6.2,0a3.1,3.1 0 1,0 -6.2,0M960.3,454.2a3.1,3.1 0 1,0 6.2,0a3.1,3.1 0 1,0 -6.2,0M962.5,454.1a3.1,3.1 0 1,0 6.2,0a3.1,3.1 0 1,0 -6.2,0M964.7,454.1a3.1,3.1 0 1,0 6.2,0a3.1,3.1 0 1,0 -6.2,0M966.9,454.1a3.1,3.1 0 1,0 6.2,0a3.1,3.1 0 1,0 -6.2,0M969.1,454.1a3.1,3.1 0 1,0 6.2,0a3.1,3.1 0 1,0 -6.2,0M971.3,454.1a3.1,3.1 0 1,0 6.2,0a3.1,3.1 0 1,0 -6.2,0M973.5,454.2a3.1,3.1 0 1,0 6.2,0a3.1,3.1 0 1,0 -6.2,0M975.7,454.5a3.1,3.1 0 1,0 6.2,0a3.1,3.1 0 1,0 -6.2,0M977.9,455.0a3.1,3.1 0 1,0 6.2,0a3.1,3.1 0 1,0 -6.2,0M980.1,455.6a3.1,3.1 0 1,0 6.2,0a3.1,3.1 0 1,0 -6.2,0M982.3,456.1a3.1,3.1 0 1,0 6.2,0a3.1,3.1 0 1,0 -6.2,0M984.5,456.7a3.1,3.1 0 1,0 6.2,0a3.1,3.1 0 1,0 -6.2,0M986.7,457.2a3.1,3.1 0 1,0 6.2,0a3.1,3.1 0 1,0 -6.2,0M988.9,457.8a3.1,3.1 0 1,0 6.2,0a3.1,3.1 0 1,0 -6.2,0M991.1,458.4a3.1,3.1 0 1,0 6.2,0a3.1,3.1 0 1,0 -6.2,0M993.3,459.1a3.1,3.1 0 1,0 6.2,0a3.1,3.1 0 1,0 -6.2,0M995.5,459.7a3.1,3.1 0 1,0 6.2,0a3.1,3.1 0 1,0 -6.2,0M997.7,460.2a3.1,3.1 0 1,0 6.2,0a3.1,3.1 0 1,0 -6.2,0M999.9,460.8a3.1,3.1 0 1,0 6.2,0a3.1,3.1 0 1,0 -6.2,0M1002.1,461.4a3.1,3.1 0 1,0 6.2,0a3.1,3.1 0 1,0 -6.2,0M1004.3,461.9a3.1,3.1 0 1,0 6.2,0a3.1,3.1 0 1,0 -6.2,0M1006.5,462.5a3.1,3.1 0 1,0 6.2,0a3.1,3.1 0 1,0 -6.2,0M1008.7,463.0a3.1,3.1 0 1,0 6.2,0a3.1,3.1 0 1,0 -6.2,0M1010.9,463.6a3.1,3.1 0 1,0 6.2,0a3.1,3.1 0 1,0 -6.2,0M1013.1,464.1a3.1,3.1 0 1,0 6.2,0a3.1,3.1 0 1,0 -6.2,0M1015.3,464.6a3.1,3.1 0 1,0 6.2,0a3.1,3.1 0 1,0 -6.2,0M1017.5,465.2a3.1,3.1 0 1,0 6.2,0a3.1,3.1 0 1,0 -6.2,0M1019.7,465.7a3.1,3.1 0 1,0 6.2,0a3.1,3.1 0 1,0 -6.2,0M1021.9,466.2a3.1,3.1 0 1,0 6.2,0a3.1,3.1 0 1,0 -6.2,0M1024.1,466.8a3.1,3.1 0 1,0 6.2,0a3.1,3.1 0 1,0 -6.2,0M1026.3,467.3a3.1,3.1 0 1,0 6.2,0a3.1,3.1 0 1,0 -6.2,0M1028.5,467.8a3.1,3.1 0 1,0 6.2,0a3.1,3.1 0 1,0 -6.2,0M1030.7,468.3a3.1,3.1 0 1,0 6.2,0a3.1,3.1 0 1,0 -6.2,0M1032.9,468.8a3.1,3.1 0 1,0 6.2,0a3.1,3.1 0 1,0 -6.2,0M1035.1,469.2a3.1,3.1 0 1,0 6.2,0a3.1,3.1 0 1,0 -6.2,0M1037.3,469.6a3.1,3.1 0 1,0 6.2,0a3.1,3.1 0 1,0 -6.2,0M1039.5,469.9a3.1,3.1 0 1,0 6.2,0a3.1,3.1 0 1,0 -6.2,0M1041.7,470.3a3.1,3.1 0 1,0 6.2,0a3.1,3.1 0 1,0 -6.2,0M1043.9,470.5a3.1,3.1 0 1,0 6.2,0a3.1,3.1 0 1,0 -6.2,0M1046.1,470.8a3.1,3.1 0 1,0 6.2,0a3.1,3.1 0 1,0 -6.2,0M1048.3,471.1a3.1,3.1 0 1,0 6.2,0a3.1,3.1 0 1,0 -6.2,0M1050.5,471.3a3.1,3.1 0 1,0 6.2,0a3.1,3.1 0 1,0 -6.2,0M1052.7,471.6a3.1,3.1 0 1,0 6.2,0a3.1,3.1 0 1,0 -6.2,0M1054.9,471.8a3.1,3.1 0 1,0 6.2,0a3.1,3.1 0 1,0 -6.2,0M1057.1,472.1a3.1,3.1 0 1,0 6.2,0a3.1,3.1 0 1,0 -6.2,0M1059.3,472.4a3.1,3.1 0 1,0 6.2,0a3.1,3.1 0 1,0 -6.2,0M1061.5,472.7a3.1,3.1 0 1,0 6.2,0a3.1,3.1 0 1,0 -6.2,0M1063.7,473.1a3.1,3.1 0 1,0 6.2,0a3.1,3.1 0 1,0 -6.2,0M1065.9,473.4a3.1,3.1 0 1,0 6.2,0a3.1,3.1 0 1,0 -6.2,0M1068.1,473.8a3.1,3.1 0 1,0 6.2,0a3.1,3.1 0 1,0 -6.2,0M1070.3,474.1a3.1,3.1 0 1,0 6.2,0a3.1,3.1 0 1,0 -6.2,0M1072.5,474.4a3.1,3.1 0 1,0 6.2,0a3.1,3.1 0 1,0 -6.2,0M1074.7,474.7a3.1,3.1 0 1,0 6.2,0a3.1,3.1 0 1,0 -6.2,0M1076.9,475.0a3.1,3.1 0 1,0 6.2,0a3.1,3.1 0 1,0 -6.2,0M1079.1,475.2a3.1,3.1 0 1,0 6.2,0a3.1,3.1 0 1,0 -6.2,0M1081.3,475.4a3.1,3.1 0 1,0 6.2,0a3.1,3.1 0 1,0 -6.2,0M1083.5,475.6a3.1,3.1 0 1,0 6.2,0a3.1,3.1 0 1,0 -6.2,0M1085.7,475.8a3.1,3.1 0 1,0 6.2,0a3.1,3.1 0 1,0 -6.2,0M1087.9,475.9a3.1,3.1 0 1,0 6.2,0a3.1,3.1 0 1,0 -6.2,0M1090.1,476.1a3.1,3.1 0 1,0 6.2,0a3.1,3.1 0 1,0 -6.2,0M1092.3,476.2a3.1,3.1 0 1,0 6.2,0a3.1,3.1 0 1,0 -6.2,0M1094.5,476.4a3.1,3.1 0 1,0 6.2,0a3.1,3.1 0 1,0 -6.2,0M1096.7,476.4a3.1,3.1 0 1,0 6.2,0a3.1,3.1 0 1,0 -6.2,0M1098.9,476.5a3.1,3.1 0 1,0 6.2,0a3.1,3.1 0 1,0 -6.2,0M1101.1,476.5a3.1,3.1 0 1,0 6.2,0a3.1,3.1 0 1,0 -6.2,0M1103.3,476.5a3.1,3.1 0 1,0 6.2,0a3.1,3.1 0 1,0 -6.2,0M1105.5,476.5a3.1,3.1 0 1,0 6.2,0a3.1,3.1 0 1,0 -6.2,0M1107.7,476.5a3.1,3.1 0 1,0 6.2,0a3.1,3.1 0 1,0 -6.2,0M1109.9,476.5a3.1,3.1 0 1,0 6.2,0a3.1,3.1 0 1,0 -6.2,0M1112.1,476.5a3.1,3.1 0 1,0 6.2,0a3.1,3.1 0 1,0 -6.2,0M1114.3,476.4a3.1,3.1 0 1,0 6.2,0a3.1,3.1 0 1,0 -6.2,0M1116.5,476.4a3.1,3.1 0 1,0 6.2,0a3.1,3.1 0 1,0 -6.2,0M1118.7,476.4a3.1,3.1 0 1,0 6.2,0a3.1,3.1 0 1,0 -6.2,0M1120.9,476.4a3.1,3.1 0 1,0 6.2,0a3.1,3.1 0 1,0 -6.2,0M1123.1,476.3a3.1,3.1 0 1,0 6.2,0a3.1,3.1 0 1,0 -6.2,0M1125.3,476.3a3.1,3.1 0 1,0 6.2,0a3.1,3.1 0 1,0 -6.2,0M1127.5,476.3a3.1,3.1 0 1,0 6.2,0a3.1,3.1 0 1,0 -6.2,0M1129.7,476.3a3.1,3.1 0 1,0 6.2,0a3.1,3.1 0 1,0 -6.2,0M1131.9,476.2a3.1,3.1 0 1,0 6.2,0a3.1,3.1 0 1,0 -6.2,0M1134.1,476.2a3.1,3.1 0 1,0 6.2,0a3.1,3.1 0 1,0 -6.2,0M1136.3,476.1a3.1,3.1 0 1,0 6.2,0a3.1,3.1 0 1,0 -6.2,0M1138.5,476.0a3.1,3.1 0 1,0 6.2,0a3.1,3.1 0 1,0 -6.2,0M1140.7,475.9a3.1,3.1 0 1,0 6.2,0a3.1,3.1 0 1,0 -6.2,0M1142.9,475.8a3.1,3.1 0 1,0 6.2,0a3.1,3.1 0 1,0 -6.2,0M1145.1,475.7a3.1,3.1 0 1,0 6.2,0a3.1,3.1 0 1,0 -6.2,0M1147.3,475.6a3.1,3.1 0 1,0 6.2,0a3.1,3.1 0 1,0 -6.2,0M1149.5,475.4a3.1,3.1 0 1,0 6.2,0a3.1,3.1 0 1,0 -6.2,0M1151.7,475.1a3.1,3.1 0 1,0 6.2,0a3.1,3.1 0 1,0 -6.2,0M1153.9,474.7a3.1,3.1 0 1,0 6.2,0a3.1,3.1 0 1,0 -6.2,0M1156.1,474.3a3.1,3.1 0 1,0 6.2,0a3.1,3.1 0 1,0 -6.2,0M1158.3,473.9a3.1,3.1 0 1,0 6.2,0a3.1,3.1 0 1,0 -6.2,0M1160.5,473.4a3.1,3.1 0 1,0 6.2,0a3.1,3.1 0 1,0 -6.2,0M1162.7,472.9a3.1,3.1 0 1,0 6.2,0a3.1,3.1 0 1,0 -6.2,0M1164.9,472.5a3.1,3.1 0 1,0 6.2,0a3.1,3.1 0 1,0 -6.2,0M1167.1,472.1a3.1,3.1 0 1,0 6.2,0a3.1,3.1 0 1,0 -6.2,0M1169.3,471.6a3.1,3.1 0 1,0 6.2,0a3.1,3.1 0 1,0 -6.2,0M1171.5,471.2a3.1,3.1 0 1,0 6.2,0a3.1,3.1 0 1,0 -6.2,0M1173.7,470.8a3.1,3.1 0 1,0 6.2,0a3.1,3.1 0 1,0 -6.2,0M1175.9,470.3a3.1,3.1 0 1,0 6.2,0a3.1,3.1 0 1,0 -6.2,0M1178.1,469.9a3.1,3.1 0 1,0 6.2,0a3.1,3.1 0 1,0 -6.2,0M1180.3,469.5a3.1,3.1 0 1,0 6.2,0a3.1,3.1 0 1,0 -6.2,0M1182.5,469.0a3.1,3.1 0 1,0 6.2,0a3.1,3.1 0 1,0 -6.2,0M1184.7,468.6a3.1,3.1 0 1,0 6.2,0a3.1,3.1 0 1,0 -6.2,0M1186.9,468.1a3.1,3.1 0 1,0 6.2,0a3.1,3.1 0 1,0 -6.2,0M1189.1,467.6a3.1,3.1 0 1,0 6.2,0a3.1,3.1 0 1,0 -6.2,0M1191.3,467.1a3.1,3.1 0 1,0 6.2,0a3.1,3.1 0 1,0 -6.2,0M1193.5,466.6a3.1,3.1 0 1,0 6.2,0a3.1,3.1 0 1,0 -6.2,0M1195.7,466.1a3.1,3.1 0 1,0 6.2,0a3.1,3.1 0 1,0 -6.2,0M1197.9,465.6a3.1,3.1 0 1,0 6.2,0a3.1,3.1 0 1,0 -6.2,0M1200.1,465.3a3.1,3.1 0 1,0 6.2,0a3.1,3.1 0 1,0 -6.2,0M1202.3,465.1a3.1,3.1 0 1,0 6.2,0a3.1,3.1 0 1,0 -6.2,0M1204.5,465.0a3.1,3.1 0 1,0 6.2,0a3.1,3.1 0 1,0 -6.2,0M1206.7,464.9a3.1,3.1 0 1,0 6.2,0a3.1,3.1 0 1,0 -6.2,0M1208.9,464.8a3.1,3.1 0 1,0 6.2,0a3.1,3.1 0 1,0 -6.2,0M1211.1,464.7a3.1,3.1 0 1,0 6.2,0a3.1,3.1 0 1,0 -6.2,0M1213.3,464.6a3.1,3.1 0 1,0 6.2,0a3.1,3.1 0 1,0 -6.2,0M1215.5,464.6a3.1,3.1 0 1,0 6.2,0a3.1,3.1 0 1,0 -6.2,0M1217.7,464.6a3.1,3.1 0 1,0 6.2,0a3.1,3.1 0 1,0 -6.2,0M1219.9,464.7a3.1,3.1 0 1,0 6.2,0a3.1,3.1 0 1,0 -6.2,0M1222.1,464.7a3.1,3.1 0 1,0 6.2,0a3.1,3.1 0 1,0 -6.2,0M1224.3,464.9a3.1,3.1 0 1,0 6.2,0a3.1,3.1 0 1,0 -6.2,0M1226.5,465.1a3.1,3.1 0 1,0 6.2,0a3.1,3.1 0 1,0 -6.2,0M1228.7,465.3a3.1,3.1 0 1,0 6.2,0a3.1,3.1 0 1,0 -6.2,0M1230.9,465.7a3.1,3.1 0 1,0 6.2,0a3.1,3.1 0 1,0 -6.2,0M1233.1,466.3a3.1,3.1 0 1,0 6.2,0a3.1,3.1 0 1,0 -6.2,0M1235.3,467.0a3.1,3.1 0 1,0 6.2,0a3.1,3.1 0 1,0 -6.2,0M1237.5,467.7a3.1,3.1 0 1,0 6.2,0a3.1,3.1 0 1,0 -6.2,0M1239.7,468.4a3.1,3.1 0 1,0 6.2,0a3.1,3.1 0 1,0 -6.2,0M1241.9,469.0a3.1,3.1 0 1,0 6.2,0a3.1,3.1 0 1,0 -6.2,0M1244.1,469.6a3.1,3.1 0 1,0 6.2,0a3.1,3.1 0 1,0 -6.2,0M1246.3,470.2a3.1,3.1 0 1,0 6.2,0a3.1,3.1 0 1,0 -6.2,0M1248.5,470.8a3.1,3.1 0 1,0 6.2,0a3.1,3.1 0 1,0 -6.2,0M1250.7,471.4a3.1,3.1 0 1,0 6.2,0a3.1,3.1 0 1,0 -6.2,0M1252.9,472.0a3.1,3.1 0 1,0 6.2,0a3.1,3.1 0 1,0 -6.2,0M1255.1,472.6a3.1,3.1 0 1,0 6.2,0a3.1,3.1 0 1,0 -6.2,0M1257.3,473.1a3.1,3.1 0 1,0 6.2,0a3.1,3.1 0 1,0 -6.2,0M1259.5,473.6a3.1,3.1 0 1,0 6.2,0a3.1,3.1 0 1,0 -6.2,0M1261.7,474.1a3.1,3.1 0 1,0 6.2,0a3.1,3.1 0 1,0 -6.2,0M1263.9,474.6a3.1,3.1 0 1,0 6.2,0a3.1,3.1 0 1,0 -6.2,0M1266.1,475.1a3.1,3.1 0 1,0 6.2,0a3.1,3.1 0 1,0 -6.2,0M1268.3,475.6a3.1,3.1 0 1,0 6.2,0a3.1,3.1 0 1,0 -6.2,0M1270.5,476.1a3.1,3.1 0 1,0 6.2,0a3.1,3.1 0 1,0 -6.2,0M1272.7,476.5a3.1,3.1 0 1,0 6.2,0a3.1,3.1 0 1,0 -6.2,0M1274.9,477.0a3.1,3.1 0 1,0 6.2,0a3.1,3.1 0 1,0 -6.2,0M1277.1,477.6a3.1,3.1 0 1,0 6.2,0a3.1,3.1 0 1,0 -6.2,0M1279.3,478.1a3.1,3.1 0 1,0 6.2,0a3.1,3.1 0 1,0 -6.2,0M1281.5,478.8a3.1,3.1 0 1,0 6.2,0a3.1,3.1 0 1,0 -6.2,0M1283.7,479.4a3.1,3.1 0 1,0 6.2,0a3.1,3.1 0 1,0 -6.2,0M1285.9,480.0a3.1,3.1 0 1,0 6.2,0a3.1,3.1 0 1,0 -6.2,0M1288.1,480.7a3.1,3.1 0 1,0 6.2,0a3.1,3.1 0 1,0 -6.2,0M1290.3,481.3a3.1,3.1 0 1,0 6.2,0a3.1,3.1 0 1,0 -6.2,0M1292.5,481.9a3.1,3.1 0 1,0 6.2,0a3.1,3.1 0 1,0 -6.2,0M1294.7,482.5a3.1,3.1 0 1,0 6.2,0a3.1,3.1 0 1,0 -6.2,0M1296.9,483.0a3.1,3.1 0 1,0 6.2,0a3.1,3.1 0 1,0 -6.2,0M1299.1,483.5a3.1,3.1 0 1,0 6.2,0a3.1,3.1 0 1,0 -6.2,0M1301.3,484.0a3.1,3.1 0 1,0 6.2,0a3.1,3.1 0 1,0 -6.2,0M1303.5,484.4a3.1,3.1 0 1,0 6.2,0a3.1,3.1 0 1,0 -6.2,0M1305.7,484.9a3.1,3.1 0 1,0 6.2,0a3.1,3.1 0 1,0 -6.2,0M1307.9,485.3a3.1,3.1 0 1,0 6.2,0a3.1,3.1 0 1,0 -6.2,0M1310.1,485.7a3.1,3.1 0 1,0 6.2,0a3.1,3.1 0 1,0 -6.2,0M1312.3,486.0a3.1,3.1 0 1,0 6.2,0a3.1,3.1 0 1,0 -6.2,0M1314.5,486.3a3.1,3.1 0 1,0 6.2,0a3.1,3.1 0 1,0 -6.2,0M1316.7,486.5a3.1,3.1 0 1,0 6.2,0a3.1,3.1 0 1,0 -6.2,0M1318.9,486.6a3.1,3.1 0 1,0 6.2,0a3.1,3.1 0 1,0 -6.2,0M1321.1,486.8a3.1,3.1 0 1,0 6.2,0a3.1,3.1 0 1,0 -6.2,0M1323.3,486.9a3.1,3.1 0 1,0 6.2,0a3.1,3.1 0 1,0 -6.2,0M1325.5,487.0a3.1,3.1 0 1,0 6.2,0a3.1,3.1 0 1,0 -6.2,0M1327.7,487.1a3.1,3.1 0 1,0 6.2,0a3.1,3.1 0 1,0 -6.2,0M1329.9,487.2a3.1,3.1 0 1,0 6.2,0a3.1,3.1 0 1,0 -6.2,0M1332.1,487.2a3.1,3.1 0 1,0 6.2,0a3.1,3.1 0 1,0 -6.2,0M1334.3,487.2a3.1,3.1 0 1,0 6.2,0a3.1,3.1 0 1,0 -6.2,0M1336.5,487.2a3.1,3.1 0 1,0 6.2,0a3.1,3.1 0 1,0 -6.2,0M1338.7,487.2a3.1,3.1 0 1,0 6.2,0a3.1,3.1 0 1,0 -6.2,0M1340.9,487.2a3.1,3.1 0 1,0 6.2,0a3.1,3.1 0 1,0 -6.2,0M1343.1,487.1a3.1,3.1 0 1,0 6.2,0a3.1,3.1 0 1,0 -6.2,0M1345.3,487.1a3.1,3.1 0 1,0 6.2,0a3.1,3.1 0 1,0 -6.2,0M1347.5,487.1a3.1,3.1 0 1,0 6.2,0a3.1,3.1 0 1,0 -6.2,0M1349.7,487.0a3.1,3.1 0 1,0 6.2,0a3.1,3.1 0 1,0 -6.2,0M1351.9,487.0a3.1,3.1 0 1,0 6.2,0a3.1,3.1 0 1,0 -6.2,0M1354.1,487.0a3.1,3.1 0 1,0 6.2,0a3.1,3.1 0 1,0 -6.2,0M1356.3,486.9a3.1,3.1 0 1,0 6.2,0a3.1,3.1 0 1,0 -6.2,0M1358.5,486.8a3.1,3.1 0 1,0 6.2,0a3.1,3.1 0 1,0 -6.2,0M1360.7,486.8a3.1,3.1 0 1,0 6.2,0a3.1,3.1 0 1,0 -6.2,0M1362.9,486.7a3.1,3.1 0 1,0 6.2,0a3.1,3.1 0 1,0 -6.2,0M1365.1,486.7a3.1,3.1 0 1,0 6.2,0a3.1,3.1 0 1,0 -6.2,0M1367.3,486.6a3.1,3.1 0 1,0 6.2,0a3.1,3.1 0 1,0 -6.2,0M1369.5,486.5a3.1,3.1 0 1,0 6.2,0a3.1,3.1 0 1,0 -6.2,0M1371.7,486.4a3.1,3.1 0 1,0 6.2,0a3.1,3.1 0 1,0 -6.2,0M1373.9,486.2a3.1,3.1 0 1,0 6.2,0a3.1,3.1 0 1,0 -6.2,0M1376.1,485.9a3.1,3.1 0 1,0 6.2,0a3.1,3.1 0 1,0 -6.2,0M1378.3,485.5a3.1,3.1 0 1,0 6.2,0a3.1,3.1 0 1,0 -6.2,0M1380.5,485.1a3.1,3.1 0 1,0 6.2,0a3.1,3.1 0 1,0 -6.2,0M1382.7,484.7a3.1,3.1 0 1,0 6.2,0a3.1,3.1 0 1,0 -6.2,0M1384.9,484.2a3.1,3.1 0 1,0 6.2,0a3.1,3.1 0 1,0 -6.2,0M1387.1,483.7a3.1,3.1 0 1,0 6.2,0a3.1,3.1 0 1,0 -6.2,0M1389.3,483.2a3.1,3.1 0 1,0 6.2,0a3.1,3.1 0 1,0 -6.2,0M1391.5,482.7a3.1,3.1 0 1,0 6.2,0a3.1,3.1 0 1,0 -6.2,0M1393.7,482.2a3.1,3.1 0 1,0 6.2,0a3.1,3.1 0 1,0 -6.2,0M1395.9,481.7a3.1,3.1 0 1,0 6.2,0a3.1,3.1 0 1,0 -6.2,0M1398.1,481.3a3.1,3.1 0 1,0 6.2,0a3.1,3.1 0 1,0 -6.2,0M1400.3,480.8a3.1,3.1 0 1,0 6.2,0a3.1,3.1 0 1,0 -6.2,0M1402.5,480.4a3.1,3.1 0 1,0 6.2,0a3.1,3.1 0 1,0 -6.2,0M1404.7,480.0a3.1,3.1 0 1,0 6.2,0a3.1,3.1 0 1,0 -6.2,0M1406.9,479.5a3.1,3.1 0 1,0 6.2,0a3.1,3.1 0 1,0 -6.2,0M1409.1,479.1a3.1,3.1 0 1,0 6.2,0a3.1,3.1 0 1,0 -6.2,0M1411.3,478.6a3.1,3.1 0 1,0 6.2,0a3.1,3.1 0 1,0 -6.2,0M1413.5,478.0a3.1,3.1 0 1,0 6.2,0a3.1,3.1 0 1,0 -6.2,0M1415.7,477.4a3.1,3.1 0 1,0 6.2,0a3.1,3.1 0 1,0 -6.2,0M1417.9,476.8a3.1,3.1 0 1,0 6.2,0a3.1,3.1 0 1,0 -6.2,0M1420.1,476.0a3.1,3.1 0 1,0 6.2,0a3.1,3.1 0 1,0 -6.2,0M1422.3,475.1a3.1,3.1 0 1,0 6.2,0a3.1,3.1 0 1,0 -6.2,0M1424.5,474.1a3.1,3.1 0 1,0 6.2,0a3.1,3.1 0 1,0 -6.2,0M1426.7,473.0a3.1,3.1 0 1,0 6.2,0a3.1,3.1 0 1,0 -6.2,0M1428.9,471.9a3.1,3.1 0 1,0 6.2,0a3.1,3.1 0 1,0 -6.2,0M1431.1,470.8a3.1,3.1 0 1,0 6.2,0a3.1,3.1 0 1,0 -6.2,0M1433.3,469.7a3.1,3.1 0 1,0 6.2,0a3.1,3.1 0 1,0 -6.2,0M1435.5,468.7a3.1,3.1 0 1,0 6.2,0a3.1,3.1 0 1,0 -6.2,0M1437.7,467.8a3.1,3.1 0 1,0 6.2,0a3.1,3.1 0 1,0 -6.2,0M1439.9,466.9a3.1,3.1 0 1,0 6.2,0a3.1,3.1 0 1,0 -6.2,0M1442.1,466.0a3.1,3.1 0 1,0 6.2,0a3.1,3.1 0 1,0 -6.2,0M1444.3,465.1a3.1,3.1 0 1,0 6.2,0a3.1,3.1 0 1,0 -6.2,0M1446.5,464.2a3.1,3.1 0 1,0 6.2,0a3.1,3.1 0 1,0 -6.2,0M1448.7,463.4a3.1,3.1 0 1,0 6.2,0a3.1,3.1 0 1,0 -6.2,0M1450.9,462.5a3.1,3.1 0 1,0 6.2,0a3.1,3.1 0 1,0 -6.2,0M1453.1,461.6a3.1,3.1 0 1,0 6.2,0a3.1,3.1 0 1,0 -6.2,0M1455.3,460.8a3.1,3.1 0 1,0 6.2,0a3.1,3.1 0 1,0 -6.2,0M1457.5,459.9a3.1,3.1 0 1,0 6.2,0a3.1,3.1 0 1,0 -6.2,0M1459.7,459.0a3.1,3.1 0 1,0 6.2,0a3.1,3.1 0 1,0 -6.2,0M1461.9,458.1a3.1,3.1 0 1,0 6.2,0a3.1,3.1 0 1,0 -6.2,0M1464.1,457.2a3.1,3.1 0 1,0 6.2,0a3.1,3.1 0 1,0 -6.2,0M1466.3,456.3a3.1,3.1 0 1,0 6.2,0a3.1,3.1 0 1,0 -6.2,0M1468.5,455.4a3.1,3.1 0 1,0 6.2,0a3.1,3.1 0 1,0 -6.2,0M1470.7,454.5a3.1,3.1 0 1,0 6.2,0a3.1,3.1 0 1,0 -6.2,0M1472.9,453.6a3.1,3.1 0 1,0 6.2,0a3.1,3.1 0 1,0 -6.2,0M1475.1,452.8a3.1,3.1 0 1,0 6.2,0a3.1,3.1 0 1,0 -6.2,0M1477.3,452.0a3.1,3.1 0 1,0 6.2,0a3.1,3.1 0 1,0 -6.2,0M1479.5,451.3a3.1,3.1 0 1,0 6.2,0a3.1,3.1 0 1,0 -6.2,0M1481.7,450.5a3.1,3.1 0 1,0 6.2,0a3.1,3.1 0 1,0 -6.2,0M1483.9,449.8a3.1,3.1 0 1,0 6.2,0a3.1,3.1 0 1,0 -6.2,0M1486.1,449.3a3.1,3.1 0 1,0 6.2,0a3.1,3.1 0 1,0 -6.2,0M1488.3,448.9a3.1,3.1 0 1,0 6.2,0a3.1,3.1 0 1,0 -6.2,0M1490.5,448.6a3.1,3.1 0 1,0 6.2,0a3.1,3.1 0 1,0 -6.2,0M1492.7,448.3a3.1,3.1 0 1,0 6.2,0a3.1,3.1 0 1,0 -6.2,0M1494.9,448.2a3.1,3.1 0 1,0 6.2,0a3.1,3.1 0 1,0 -6.2,0M1497.1,448.1a3.1,3.1 0 1,0 6.2,0a3.1,3.1 0 1,0 -6.2,0M1499.3,448.1a3.1,3.1 0 1,0 6.2,0a3.1,3.1 0 1,0 -6.2,0M1501.5,448.2a3.1,3.1 0 1,0 6.2,0a3.1,3.1 0 1,0 -6.2,0M1503.7,448.3a3.1,3.1 0 1,0 6.2,0a3.1,3.1 0 1,0 -6.2,0M1505.9,448.5a3.1,3.1 0 1,0 6.2,0a3.1,3.1 0 1,0 -6.2,0M1508.1,448.7a3.1,3.1 0 1,0 6.2,0a3.1,3.1 0 1,0 -6.2,0M1510.3,449.3a3.1,3.1 0 1,0 6.2,0a3.1,3.1 0 1,0 -6.2,0M1512.5,450.1a3.1,3.1 0 1,0 6.2,0a3.1,3.1 0 1,0 -6.2,0M1514.7,451.1a3.1,3.1 0 1,0 6.2,0a3.1,3.1 0 1,0 -6.2,0M1516.9,452.0a3.1,3.1 0 1,0 6.2,0a3.1,3.1 0 1,0 -6.2,0M1519.1,452.8a3.1,3.1 0 1,0 6.2,0a3.1,3.1 0 1,0 -6.2,0M1521.3,453.7a3.1,3.1 0 1,0 6.2,0a3.1,3.1 0 1,0 -6.2,0M1523.5,454.6a3.1,3.1 0 1,0 6.2,0a3.1,3.1 0 1,0 -6.2,0M1525.7,455.5a3.1,3.1 0 1,0 6.2,0a3.1,3.1 0 1,0 -6.2,0M1527.9,456.4a3.1,3.1 0 1,0 6.2,0a3.1,3.1 0 1,0 -6.2,0M1530.1,457.3a3.1,3.1 0 1,0 6.2,0a3.1,3.1 0 1,0 -6.2,0M1532.3,458.2a3.1,3.1 0 1,0 6.2,0a3.1,3.1 0 1,0 -6.2,0M1534.5,459.1a3.1,3.1 0 1,0 6.2,0a3.1,3.1 0 1,0 -6.2,0M1536.7,459.9a3.1,3.1 0 1,0 6.2,0a3.1,3.1 0 1,0 -6.2,0M1538.9,460.7a3.1,3.1 0 1,0 6.2,0a3.1,3.1 0 1,0 -6.2,0M1541.1,461.4a3.1,3.1 0 1,0 6.2,0a3.1,3.1 0 1,0 -6.2,0M1543.3,462.0a3.1,3.1 0 1,0 6.2,0a3.1,3.1 0 1,0 -6.2,0M1545.5,462.6a3.1,3.1 0 1,0 6.2,0a3.1,3.1 0 1,0 -6.2,0M1547.7,463.2a3.1,3.1 0 1,0 6.2,0a3.1,3.1 0 1,0 -6.2,0M1549.9,463.8a3.1,3.1 0 1,0 6.2,0a3.1,3.1 0 1,0 -6.2,0M1552.1,464.4a3.1,3.1 0 1,0 6.2,0a3.1,3.1 0 1,0 -6.2,0M1554.3,464.9a3.1,3.1 0 1,0 6.2,0a3.1,3.1 0 1,0 -6.2,0M1556.5,465.4a3.1,3.1 0 1,0 6.2,0a3.1,3.1 0 1,0 -6.2,0M1558.7,465.9a3.1,3.1 0 1,0 6.2,0a3.1,3.1 0 1,0 -6.2,0M1560.9,466.3a3.1,3.1 0 1,0 6.2,0a3.1,3.1 0 1,0 -6.2,0M1563.1,466.7a3.1,3.1 0 1,0 6.2,0a3.1,3.1 0 1,0 -6.2,0M1565.3,467.1a3.1,3.1 0 1,0 6.2,0a3.1,3.1 0 1,0 -6.2,0M1567.5,467.5a3.1,3.1 0 1,0 6.2,0a3.1,3.1 0 1,0 -6.2,0M1569.7,467.8a3.1,3.1 0 1,0 6.2,0a3.1,3.1 0 1,0 -6.2,0M1571.9,468.2a3.1,3.1 0 1,0 6.2,0a3.1,3.1 0 1,0 -6.2,0M1574.1,468.6a3.1,3.1 0 1,0 6.2,0a3.1,3.1 0 1,0 -6.2,0M1576.3,469.0a3.1,3.1 0 1,0 6.2,0a3.1,3.1 0 1,0 -6.2,0M1578.5,469.4a3.1,3.1 0 1,0 6.2,0a3.1,3.1 0 1,0 -6.2,0M1580.7,469.8a3.1,3.1 0 1,0 6.2,0a3.1,3.1 0 1,0 -6.2,0M1582.9,470.2a3.1,3.1 0 1,0 6.2,0a3.1,3.1 0 1,0 -6.2,0M1585.1,470.7a3.1,3.1 0 1,0 6.2,0a3.1,3.1 0 1,0 -6.2,0M1587.3,471.1a3.1,3.1 0 1,0 6.2,0a3.1,3.1 0 1,0 -6.2,0M1589.5,471.6a3.1,3.1 0 1,0 6.2,0a3.1,3.1 0 1,0 -6.2,0M1591.7,472.0a3.1,3.1 0 1,0 6.2,0a3.1,3.1 0 1,0 -6.2,0M1593.9,472.4a3.1,3.1 0 1,0 6.2,0a3.1,3.1 0 1,0 -6.2,0M1596.1,472.8a3.1,3.1 0 1,0 6.2,0a3.1,3.1 0 1,0 -6.2,0M1598.3,473.3a3.1,3.1 0 1,0 6.2,0a3.1,3.1 0 1,0 -6.2,0M1600.5,473.7a3.1,3.1 0 1,0 6.2,0a3.1,3.1 0 1,0 -6.2,0M1602.7,474.2a3.1,3.1 0 1,0 6.2,0a3.1,3.1 0 1,0 -6.2,0M1604.9,474.7a3.1,3.1 0 1,0 6.2,0a3.1,3.1 0 1,0 -6.2,0M1607.1,475.1a3.1,3.1 0 1,0 6.2,0a3.1,3.1 0 1,0 -6.2,0M1609.3,475.6a3.1,3.1 0 1,0 6.2,0a3.1,3.1 0 1,0 -6.2,0M1611.5,476.1a3.1,3.1 0 1,0 6.2,0a3.1,3.1 0 1,0 -6.2,0M1613.7,476.5a3.1,3.1 0 1,0 6.2,0a3.1,3.1 0 1,0 -6.2,0M1615.9,476.9a3.1,3.1 0 1,0 6.2,0a3.1,3.1 0 1,0 -6.2,0M1618.1,477.3a3.1,3.1 0 1,0 6.2,0a3.1,3.1 0 1,0 -6.2,0M1620.3,477.6a3.1,3.1 0 1,0 6.2,0a3.1,3.1 0 1,0 -6.2,0M1622.5,477.9a3.1,3.1 0 1,0 6.2,0a3.1,3.1 0 1,0 -6.2,0M1624.7,478.2a3.1,3.1 0 1,0 6.2,0a3.1,3.1 0 1,0 -6.2,0M1626.9,478.4a3.1,3.1 0 1,0 6.2,0a3.1,3.1 0 1,0 -6.2,0M1629.1,478.6a3.1,3.1 0 1,0 6.2,0a3.1,3.1 0 1,0 -6.2,0M1631.3,478.8a3.1,3.1 0 1,0 6.2,0a3.1,3.1 0 1,0 -6.2,0M1633.5,478.9a3.1,3.1 0 1,0 6.2,0a3.1,3.1 0 1,0 -6.2,0M1635.7,479.1a3.1,3.1 0 1,0 6.2,0a3.1,3.1 0 1,0 -6.2,0M1637.9,479.2a3.1,3.1 0 1,0 6.2,0a3.1,3.1 0 1,0 -6.2,0M1640.1,479.4a3.1,3.1 0 1,0 6.2,0a3.1,3.1 0 1,0 -6.2,0M1642.3,479.5a3.1,3.1 0 1,0 6.2,0a3.1,3.1 0 1,0 -6.2,0M1644.5,479.6a3.1,3.1 0 1,0 6.2,0a3.1,3.1 0 1,0 -6.2,0M1646.7,479.8a3.1,3.1 0 1,0 6.2,0a3.1,3.1 0 1,0 -6.2,0M1648.9,479.9a3.1,3.1 0 1,0 6.2,0a3.1,3.1 0 1,0 -6.2,0M1651.1,480.0a3.1,3.1 0 1,0 6.2,0a3.1,3.1 0 1,0 -6.2,0M1653.3,480.2a3.1,3.1 0 1,0 6.2,0a3.1,3.1 0 1,0 -6.2,0M1655.5,480.3a3.1,3.1 0 1,0 6.2,0a3.1,3.1 0 1,0 -6.2,0M1657.7,480.5a3.1,3.1 0 1,0 6.2,0a3.1,3.1 0 1,0 -6.2,0M1659.9,480.7a3.1,3.1 0 1,0 6.2,0a3.1,3.1 0 1,0 -6.2,0M1662.1,480.9a3.1,3.1 0 1,0 6.2,0a3.1,3.1 0 1,0 -6.2,0M1664.3,481.1a3.1,3.1 0 1,0 6.2,0a3.1,3.1 0 1,0 -6.2,0M1666.5,481.3a3.1,3.1 0 1,0 6.2,0a3.1,3.1 0 1,0 -6.2,0M1668.7,481.5a3.1,3.1 0 1,0 6.2,0a3.1,3.1 0 1,0 -6.2,0M1670.9,481.7a3.1,3.1 0 1,0 6.2,0a3.1,3.1 0 1,0 -6.2,0M1673.1,481.9a3.1,3.1 0 1,0 6.2,0a3.1,3.1 0 1,0 -6.2,0M1675.3,482.2a3.1,3.1 0 1,0 6.2,0a3.1,3.1 0 1,0 -6.2,0M1677.5,482.4a3.1,3.1 0 1,0 6.2,0a3.1,3.1 0 1,0 -6.2,0M1679.7,482.6a3.1,3.1 0 1,0 6.2,0a3.1,3.1 0 1,0 -6.2,0M1681.9,482.9a3.1,3.1 0 1,0 6.2,0a3.1,3.1 0 1,0 -6.2,0M1684.1,483.1a3.1,3.1 0 1,0 6.2,0a3.1,3.1 0 1,0 -6.2,0M1686.3,483.3a3.1,3.1 0 1,0 6.2,0a3.1,3.1 0 1,0 -6.2,0M1688.5,483.5a3.1,3.1 0 1,0 6.2,0a3.1,3.1 0 1,0 -6.2,0M1690.7,483.8a3.1,3.1 0 1,0 6.2,0a3.1,3.1 0 1,0 -6.2,0M1692.9,484.0a3.1,3.1 0 1,0 6.2,0a3.1,3.1 0 1,0 -6.2,0M1695.1,484.2a3.1,3.1 0 1,0 6.2,0a3.1,3.1 0 1,0 -6.2,0M1697.3,484.4a3.1,3.1 0 1,0 6.2,0a3.1,3.1 0 1,0 -6.2,0M1699.5,484.6a3.1,3.1 0 1,0 6.2,0a3.1,3.1 0 1,0 -6.2,0M1701.7,484.8a3.1,3.1 0 1,0 6.2,0a3.1,3.1 0 1,0 -6.2,0M1703.9,485.0a3.1,3.1 0 1,0 6.2,0a3.1,3.1 0 1,0 -6.2,0M1706.1,485.2a3.1,3.1 0 1,0 6.2,0a3.1,3.1 0 1,0 -6.2,0M1708.3,485.4a3.1,3.1 0 1,0 6.2,0a3.1,3.1 0 1,0 -6.2,0M1710.5,485.6a3.1,3.1 0 1,0 6.2,0a3.1,3.1 0 1,0 -6.2,0M1712.7,485.8a3.1,3.1 0 1,0 6.2,0a3.1,3.1 0 1,0 -6.2,0M1714.9,486.0a3.1,3.1 0 1,0 6.2,0a3.1,3.1 0 1,0 -6.2,0M1717.1,486.3a3.1,3.1 0 1,0 6.2,0a3.1,3.1 0 1,0 -6.2,0M1719.3,486.5a3.1,3.1 0 1,0 6.2,0a3.1,3.1 0 1,0 -6.2,0M1721.5,486.7a3.1,3.1 0 1,0 6.2,0a3.1,3.1 0 1,0 -6.2,0M1723.7,486.9a3.1,3.1 0 1,0 6.2,0a3.1,3.1 0 1,0 -6.2,0M1725.9,487.1a3.1,3.1 0 1,0 6.2,0a3.1,3.1 0 1,0 -6.2,0M1728.1,487.2a3.1,3.1 0 1,0 6.2,0a3.1,3.1 0 1,0 -6.2,0M1730.3,487.4a3.1,3.1 0 1,0 6.2,0a3.1,3.1 0 1,0 -6.2,0M1732.5,487.6a3.1,3.1 0 1,0 6.2,0a3.1,3.1 0 1,0 -6.2,0M1734.7,487.7a3.1,3.1 0 1,0 6.2,0a3.1,3.1 0 1,0 -6.2,0M1736.9,487.9a3.1,3.1 0 1,0 6.2,0a3.1,3.1 0 1,0 -6.2,0M1739.1,488.0a3.1,3.1 0 1,0 6.2,0a3.1,3.1 0 1,0 -6.2,0M1741.3,488.1a3.1,3.1 0 1,0 6.2,0a3.1,3.1 0 1,0 -6.2,0M1743.5,488.2a3.1,3.1 0 1,0 6.2,0a3.1,3.1 0 1,0 -6.2,0M1745.7,488.2a3.1,3.1 0 1,0 6.2,0a3.1,3.1 0 1,0 -6.2,0M1747.9,488.3a3.1,3.1 0 1,0 6.2,0a3.1,3.1 0 1,0 -6.2,0M1750.1,488.3a3.1,3.1 0 1,0 6.2,0a3.1,3.1 0 1,0 -6.2,0M1752.3,488.3a3.1,3.1 0 1,0 6.2,0a3.1,3.1 0 1,0 -6.2,0M1754.5,488.3a3.1,3.1 0 1,0 6.2,0a3.1,3.1 0 1,0 -6.2,0M1756.7,488.3a3.1,3.1 0 1,0 6.2,0a3.1,3.1 0 1,0 -6.2,0M1758.9,488.3a3.1,3.1 0 1,0 6.2,0a3.1,3.1 0 1,0 -6.2,0M1761.1,488.3a3.1,3.1 0 1,0 6.2,0a3.1,3.1 0 1,0 -6.2,0M1763.3,488.3a3.1,3.1 0 1,0 6.2,0a3.1,3.1 0 1,0 -6.2,0M1765.5,488.3a3.1,3.1 0 1,0 6.2,0a3.1,3.1 0 1,0 -6.2,0M1767.7,488.3a3.1,3.1 0 1,0 6.2,0a3.1,3.1 0 1,0 -6.2,0M1769.9,488.3a3.1,3.1 0 1,0 6.2,0a3.1,3.1 0 1,0 -6.2,0M1772.1,488.3a3.1,3.1 0 1,0 6.2,0a3.1,3.1 0 1,0 -6.2,0M1774.3,488.3a3.1,3.1 0 1,0 6.2,0a3.1,3.1 0 1,0 -6.2,0M1776.5,488.3a3.1,3.1 0 1,0 6.2,0a3.1,3.1 0 1,0 -6.2,0M1778.7,488.3a3.1,3.1 0 1,0 6.2,0a3.1,3.1 0 1,0 -6.2,0M1780.9,488.3a3.1,3.1 0 1,0 6.2,0a3.1,3.1 0 1,0 -6.2,0M1783.1,488.3a3.1,3.1 0 1,0 6.2,0a3.1,3.1 0 1,0 -6.2,0M1785.3,488.3a3.1,3.1 0 1,0 6.2,0a3.1,3.1 0 1,0 -6.2,0M1787.5,488.3a3.1,3.1 0 1,0 6.2,0a3.1,3.1 0 1,0 -6.2,0M1789.7,488.3a3.1,3.1 0 1,0 6.2,0a3.1,3.1 0 1,0 -6.2,0M1791.9,488.3a3.1,3.1 0 1,0 6.2,0a3.1,3.1 0 1,0 -6.2,0M1794.1,488.3a3.1,3.1 0 1,0 6.2,0a3.1,3.1 0 1,0 -6.2,0M1796.3,488.3a3.1,3.1 0 1,0 6.2,0a3.1,3.1 0 1,0 -6.2,0M1798.5,488.3a3.1,3.1 0 1,0 6.2,0a3.1,3.1 0 1,0 -6.2,0M1800.7,488.3a3.1,3.1 0 1,0 6.2,0a3.1,3.1 0 1,0 -6.2,0M1802.9,488.3a3.1,3.1 0 1,0 6.2,0a3.1,3.1 0 1,0 -6.2,0M1805.1,488.3a3.1,3.1 0 1,0 6.2,0a3.1,3.1 0 1,0 -6.2,0M1807.3,488.3a3.1,3.1 0 1,0 6.2,0a3.1,3.1 0 1,0 -6.2,0M1809.5,488.3a3.1,3.1 0 1,0 6.2,0a3.1,3.1 0 1,0 -6.2,0M1811.7,488.3a3.1,3.1 0 1,0 6.2,0a3.1,3.1 0 1,0 -6.2,0M1813.9,488.3a3.1,3.1 0 1,0 6.2,0a3.1,3.1 0 1,0 -6.2,0M1816.1,488.3a3.1,3.1 0 1,0 6.2,0a3.1,3.1 0 1,0 -6.2,0M1818.3,488.3a3.1,3.1 0 1,0 6.2,0a3.1,3.1 0 1,0 -6.2,0M1820.5,488.3a3.1,3.1 0 1,0 6.2,0a3.1,3.1 0 1,0 -6.2,0M1822.7,488.3a3.1,3.1 0 1,0 6.2,0a3.1,3.1 0 1,0 -6.2,0M1824.9,488.3a3.1,3.1 0 1,0 6.2,0a3.1,3.1 0 1,0 -6.2,0M1827.1,488.3a3.1,3.1 0 1,0 6.2,0a3.1,3.1 0 1,0 -6.2,0M1829.3,488.3a3.1,3.1 0 1,0 6.2,0a3.1,3.1 0 1,0 -6.2,0M1831.5,488.3a3.1,3.1 0 1,0 6.2,0a3.1,3.1 0 1,0 -6.2,0M1833.7,488.3a3.1,3.1 0 1,0 6.2,0a3.1,3.1 0 1,0 -6.2,0M1835.9,488.3a3.1,3.1 0 1,0 6.2,0a3.1,3.1 0 1,0 -6.2,0M1838.1,488.3a3.1,3.1 0 1,0 6.2,0a3.1,3.1 0 1,0 -6.2,0M1840.3,488.3a3.1,3.1 0 1,0 6.2,0a3.1,3.1 0 1,0 -6.2,0M1842.5,488.3a3.1,3.1 0 1,0 6.2,0a3.1,3.1 0 1,0 -6.2,0M1844.7,488.3a3.1,3.1 0 1,0 6.2,0a3.1,3.1 0 1,0 -6.2,0M1846.9,488.3a3.1,3.1 0 1,0 6.2,0a3.1,3.1 0 1,0 -6.2,0M1849.1,488.3a3.1,3.1 0 1,0 6.2,0a3.1,3.1 0 1,0 -6.2,0M1851.3,488.3a3.1,3.1 0 1,0 6.2,0a3.1,3.1 0 1,0 -6.2,0M1853.5,488.3a3.1,3.1 0 1,0 6.2,0a3.1,3.1 0 1,0 -6.2,0M1855.7,488.3a3.1,3.1 0 1,0 6.2,0a3.1,3.1 0 1,0 -6.2,0M1857.9,488.3a3.1,3.1 0 1,0 6.2,0a3.1,3.1 0 1,0 -6.2,0M1860.1,488.3a3.1,3.1 0 1,0 6.2,0a3.1,3.1 0 1,0 -6.2,0M1862.3,488.3a3.1,3.1 0 1,0 6.2,0a3.1,3.1 0 1,0 -6.2,0M1864.5,488.3a3.1,3.1 0 1,0 6.2,0a3.1,3.1 0 1,0 -6.2,0M1866.7,488.3a3.1,3.1 0 1,0 6.2,0a3.1,3.1 0 1,0 -6.2,0M1868.9,488.3a3.1,3.1 0 1,0 6.2,0a3.1,3.1 0 1,0 -6.2,0M1871.1,488.3a3.1,3.1 0 1,0 6.2,0a3.1,3.1 0 1,0 -6.2,0M1873.3,488.3a3.1,3.1 0 1,0 6.2,0a3.1,3.1 0 1,0 -6.2,0" fill="#ac1c1c" stroke="#960000" stroke-width="1.4"/>
<path d="M209.0,892.2 L211.2,892.7 L213.4,893.2 L215.6,893.7 L217.8,894.1 L220.0,894.5 L222.2,894.9 L224.4,895.2 L226.6,895.5 L228.8,895.8 L231.0,896.1 L233.2,896.4 L235.4,896.7 L237.6,896.9 L239.8,897.1 L242.0,897.2 L244.2,897.2 L246.4,897.2 L248.6,897.1 L250.8,897.1 L253.0,897.0 L255.2,896.9 L257.4,896.8 L259.6,896.7 L261.8,896.6 L264.0,896.4 L266.2,896.2 L268.4,895.9 L270.6,895.6 L272.8,895.2 L275.0,894.8 L277.2,894.3 L279.4,893.8 L281.6,893.4 L283.8,892.9 L286.0,892.4 L288.2,891.8 L290.4,891.1 L292.6,890.5 L294.8,889.8 L297.0,889.0 L299.2,888.2 L301.4,887.4 L303.6,886.4 L305.8,885.4 L308.0,884.2 L310.2,882.9 L312.4,881.3 L314.6,879.4 L316.8,877.3 L319.0,875.2 L321.2,873.1 L323.4,870.8 L325.6,868.5 L327.8,866.1 L330.0,863.5 L332.2,860.7 L334.4,857.7 L336.6,854.4 L338.8,850.9 L341.0,847.4 L343.2,844.0 L345.4,840.9 L347.6,837.9 L349.8,835.0 L352.0,832.0 L354.2,828.9 L356.4,825.4 L358.6,821.6 L360.8,817.4 L363.0,812.9 L365.2,808.0 L367.4,803.0 L369.6,797.3 L371.8,790.6 L374.0,782.7 L376.2,774.2 L378.4,753.7 L380.6,738.8 L382.8,720.3 L385.0,696.8 L387.2,670.0 L389.4,643.3 L391.6,619.7 L393.8,595.7 L396.0,570.0 L398.2,546.1 L400.4,530.0 L402.6,518.4 L404.8,511.5 L407.0,508.6 L409.2,508.3 L411.4,513.3 L413.6,522.5 L415.8,537.2 L418.0,554.8 L420.2,576.9 L422.4,604.0 L424.6,632.7 L426.8,654.5 L429.0,676.6 L431.2,700.5 L433.4,723.0 L435.6,743.3 L437.8,759.5 L440.0,771.6 L442.2,786.9 L444.4,796.5 L446.6,805.2 L448.8,814.1 L451.0,822.4 L453.2,829.7 L455.4,835.5 L457.6,840.3 L459.8,844.6 L462.0,848.6 L464.2,852.2 L466.4,855.3 L468.6,858.2 L470.8,860.8 L473.0,863.3 L475.2,865.4 L477.4,867.4 L479.6,869.2 L481.8,870.9 L484.0,872.5 L486.2,873.9 L488.4,875.0 L490.6,875.9 L492.8,876.9 L495.0,877.7 L497.2,878.4 L499.4,878.9 L501.6,879.0 L503.8,878.8 L506.0,878.4 L508.2,877.8 L510.4,877.2 L512.6,876.7 L514.8,876.5 L517.0,876.5 L519.2,876.6 L521.4,876.8 L523.6,876.9 L525.8,877.2 L528.0,877.8 L530.2,878.9 L532.4,880.2 L534.6,881.6 L536.8,883.0 L539.0,884.4 L541.2,886.0 L543.4,887.7 L545.6,889.3 L547.8,890.8 L550.0,892.0 L552.2,893.2 L554.4,894.4 L556.6,895.4 L558.8,896.3 L561.0,897.0 L563.2,897.6 L565.4,898.1 L567.6,898.6 L569.8,899.1 L572.0,899.5 L574.2,899.9 L576.4,900.1 L578.6,900.3 L580.8,900.3 L583.0,900.3 L585.2,900.2 L587.4,900.2 L589.6,900.1 L591.8,900.0 L594.0,899.9 L596.2,899.8 L598.4,899.7 L600.6,899.6 L602.8,899.6 L605.0,899.4 L607.2,899.3 L609.4,899.2 L611.6,899.1 L613.8,899.1 L616.0,899.0 L618.2,899.0 L620.4,899.0 L622.6,899.0 L624.8,899.1 L627.0,899.1 L629.2,899.2 L631.4,899.2 L633.6,899.3 L635.8,899.4 L638.0,899.4 L640.2,899.5 L642.4,899.6 L644.6,899.7 L646.8,899.7 L649.0,899.8 L651.2,900.0 L653.4,900.1 L655.6,900.2 L657.8,900.3 L660.0,900.4 L662.2,900.5 L664.4,900.6 L666.6,900.6 L668.8,900.7 L671.0,900.8 L673.2,900.8 L675.4,900.8 L677.6,900.8 L679.8,900.8 L682.0,900.8 L684.2,900.8 L686.4,900.8 L688.6,900.8 L690.8,900.8 L693.0,900.8 L695.2,900.8 L697.4,900.8 L699.6,900.8 L701.8,900.8 L704.0,900.8 L706.2,900.8 L708.4,900.8 L710.6,900.8 L712.8,900.8 L715.0,900.8 L717.2,900.9 L719.4,900.9 L721.6,900.9 L723.8,901.0 L726.0,901.0 L728.2,901.1 L730.4,901.2 L732.6,901.2 L734.8,901.3 L737.0,901.4 L739.2,901.4 L741.4,901.5 L743.6,901.7 L745.8,901.9 L748.0,902.2 L750.2,902.5 L752.4,902.8 L754.6,903.2 L756.8,903.6 L759.0,903.9 L761.2,904.3 L763.4,904.6 L765.6,904.9 L767.8,905.1 L770.0,905.3 L772.2,905.4 L774.4,905.4 L776.6,905.4 L778.8,905.4 L781.0,905.4 L783.2,905.4 L785.4,905.4 L787.6,905.4 L789.8,905.4 L792.0,905.4 L794.2,905.4 L796.4,905.4 L798.6,905.4 L800.8,905.4 L803.0,905.4 L805.2,905.4 L807.4,905.4 L809.6,905.4 L811.8,905.4 L814.0,905.4 L816.2,905.4 L818.4,905.4 L820.6,905.4 L822.8,905.4 L825.0,905.4 L827.2,905.3 L829.4,905.2 L831.6,905.0 L833.8,904.9 L836.0,904.7 L838.2,904.4 L840.4,904.2 L842.6,903.9 L844.8,903.6 L847.0,903.3 L849.2,903.0 L851.4,902.7 L853.6,902.4 L855.8,902.0 L858.0,901.7 L860.2,901.3 L862.4,901.0 L864.6,900.7 L866.8,900.4 L869.0,900.1 L871.2,899.8 L873.4,899.5 L875.6,899.2 L877.8,898.9 L880.0,898.7 L882.2,898.4 L884.4,898.0 L886.6,897.7 L888.8,897.3 L891.0,896.9 L893.2,896.4 L895.4,895.9 L897.6,895.4 L899.8,894.8 L902.0,894.1 L904.2,893.5 L906.4,892.8 L908.6,892.0 L910.8,891.3 L913.0,890.4 L915.2,889.5 L917.4,888.6 L919.6,887.5 L921.8,886.4 L924.0,885.2 L926.2,883.7 L928.4,882.1 L930.6,880.2 L932.8,878.3 L935.0,876.3 L937.2,874.2 L939.4,872.0 L941.6,869.8 L943.8,867.5 L946.0,865.4 L948.2,863.3 L950.4,861.1 L952.6,859.0 L954.8,857.2 L957.0,855.7 L959.2,854.7 L961.4,853.8 L963.6,853.0 L965.8,852.4 L968.0,852.0 L970.2,852.0 L972.4,852.3 L974.6,852.8 L976.8,853.3 L979.0,854.1 L981.2,855.4 L983.4,857.2 L985.6,859.1 L987.8,860.9 L990.0,863.0 L992.2,865.1 L994.4,867.2 L996.6,869.1 L998.8,870.8 L1001.0,872.4 L1003.2,874.0 L1005.4,875.4 L1007.6,876.9 L1009.8,878.3 L1012.0,879.7 L1014.2,881.1 L1016.4,882.4 L1018.6,883.6 L1020.8,884.6 L1023.0,885.5 L1025.2,886.3 L1027.4,887.1 L1029.6,887.9 L1031.8,888.6 L1034.0,889.2 L1036.2,889.7 L1038.4,890.2 L1040.6,890.6 L1042.8,891.0 L1045.0,891.3 L1047.2,891.7 L1049.4,892.0 L1051.6,892.3 L1053.8,892.6 L1056.0,893.0 L1058.2,893.4 L1060.4,893.8 L1062.6,894.1 L1064.8,894.4 L1067.0,894.7 L1069.2,894.8 L1071.4,894.8 L1073.6,894.8 L1075.8,894.8 L1078.0,894.8 L1080.2,894.8 L1082.4,894.8 L1084.6,894.8 L1086.8,894.7 L1089.0,894.7 L1091.2,894.7 L1093.4,894.7 L1095.6,894.7 L1097.8,894.6 L1100.0,894.6 L1102.2,894.6 L1104.4,894.6 L1106.6,894.5 L1108.8,894.5 L1111.0,894.5 L1113.2,894.5 L1115.4,894.4 L1117.6,894.4 L1119.8,894.3 L1122.0,894.2 L1124.2,894.1 L1126.4,894.1 L1128.6,894.0 L1130.8,893.9 L1133.0,893.8 L1135.2,893.7 L1137.4,893.6 L1139.6,893.5 L1141.8,893.4 L1144.0,893.3 L1146.2,893.2 L1148.4,893.2 L1150.6,893.1 L1152.8,893.0 L1155.0,892.9 L1157.2,892.9 L1159.4,892.8 L1161.6,892.8 L1163.8,892.7 L1166.0,892.6 L1168.2,892.4 L1170.4,892.1 L1172.6,891.8 L1174.8,891.4 L1177.0,890.9 L1179.2,890.3 L1181.4,889.8 L1183.6,889.2 L1185.8,888.5 L1188.0,887.8 L1190.2,887.0 L1192.4,886.0 L1194.6,885.0 L1196.8,883.8 L1199.0,882.5 L1201.2,880.7 L1203.4,878.7 L1205.6,876.6 L1207.8,874.6 L1210.0,872.7 L1212.2,870.6 L1214.4,868.5 L1216.6,866.6 L1218.8,865.0 L1221.0,863.7 L1223.2,862.5 L1225.4,861.4 L1227.6,860.5 L1229.8,859.9 L1232.0,859.8 L1234.2,859.9 L1236.4,860.0 L1238.6,860.2 L1240.8,860.5 L1243.0,861.3 L1245.2,862.6 L1247.4,864.1 L1249.6,865.7 L1251.8,867.4 L1254.0,869.5 L1256.2,871.6 L1258.4,873.7 L1260.6,875.7 L1262.8,877.5 L1265.0,879.3 L1267.2,881.0 L1269.4,882.7 L1271.6,884.2 L1273.8,885.6 L1276.0,886.9 L1278.2,888.0 L1280.4,889.1 L1282.6,890.1 L1284.8,891.1 L1287.0,892.0 L1289.2,892.9 L1291.4,893.8 L1293.6,894.6 L1295.8,895.4 L1298.0,896.2 L1300.2,897.0 L1302.4,897.7 L1304.6,898.4 L1306.8,899.0 L1309.0,899.6 L1311.2,900.1 L1313.4,900.7 L1315.6,901.2 L1317.8,901.8 L1320.0,902.3 L1322.2,902.7 L1324.4,903.1 L1326.6,903.4 L1328.8,903.7 L1331.0,903.9 L1333.2,904.0 L1335.4,904.1 L1337.6,904.3 L1339.8,904.4 L1342.0,904.6 L1344.2,904.7 L1346.4,904.9 L1348.6,905.1 L1350.8,905.3 L1353.0,905.6 L1355.2,905.8 L1357.4,905.9 L1359.6,906.1 L1361.8,906.3 L1364.0,906.4 L1366.2,906.5 L1368.4,906.6 L1370.6,906.6 L1372.8,906.6 L1375.0,906.6 L1377.2,906.5 L1379.4,906.4 L1381.6,906.4 L1383.8,906.2 L1386.0,906.1 L1388.2,906.0 L1390.4,905.8 L1392.6,905.7 L1394.8,905.5 L1397.0,905.3 L1399.2,905.1 L1401.4,904.9 L1403.6,904.7 L1405.8,904.5 L1408.0,904.3 L1410.2,904.1 L1412.4,903.9 L1414.6,903.7 L1416.8,903.4 L1419.0,903.1 L1421.2,902.8 L1423.4,902.5 L1425.6,902.1 L1427.8,901.7 L1430.0,901.3 L1432.2,900.8 L1434.4,900.4 L1436.6,899.9 L1438.8,899.3 L1441.0,898.8 L1443.2,898.2 L1445.4,897.5 L1447.6,896.6 L1449.8,895.7 L1452.0,894.6 L1454.2,893.5 L1456.4,892.2 L1458.6,890.9 L1460.8,889.6 L1463.0,888.2 L1465.2,886.8 L1467.4,885.3 L1469.6,883.9 L1471.8,882.5 L1474.0,881.1 L1476.2,879.6 L1478.4,878.0 L1480.6,876.4 L1482.8,874.6 L1485.0,872.9 L1487.2,871.1 L1489.4,869.5 L1491.6,867.9 L1493.8,866.6 L1496.0,865.3 L1498.2,864.2 L1500.4,863.0 L1502.6,861.9 L1504.8,860.8 L1507.0,860.0 L1509.2,859.4 L1511.4,859.2 L1513.6,859.3 L1515.8,859.7 L1518.0,860.2 L1520.2,860.9 L1522.4,861.7 L1524.6,862.5 L1526.8,863.5 L1529.0,864.8 L1531.2,866.3 L1533.4,868.0 L1535.6,869.8 L1537.8,871.7 L1540.0,873.5 L1542.2,875.3 L1544.4,876.9 L1546.6,878.4 L1548.8,879.8 L1551.0,881.1 L1553.2,882.5 L1555.4,883.8 L1557.6,885.1 L1559.8,886.3 L1562.0,887.5 L1564.2,888.7 L1566.4,889.8 L1568.6,890.8 L1570.8,891.8 L1573.0,892.7 L1575.2,893.6 L1577.4,894.5 L1579.6,895.4 L1581.8,896.3 L1584.0,897.1 L1586.2,897.9 L1588.4,898.7 L1590.6,899.4 L1592.8,900.1 L1595.0,900.8 L1597.2,901.5 L1599.4,902.1 L1601.6,902.7 L1603.8,903.3 L1606.0,903.9 L1608.2,904.5 L1610.4,905.1 L1612.6,905.6 L1614.8,906.1 L1617.0,906.6 L1619.2,907.1 L1621.4,907.6 L1623.6,908.0 L1625.8,908.4 L1628.0,908.9 L1630.2,909.2 L1632.4,909.6 L1634.6,910.0 L1636.8,910.3 L1639.0,910.6 L1641.2,910.9 L1643.4,911.3 L1645.6,911.6 L1647.8,911.8 L1650.0,912.1 L1652.2,912.4 L1654.4,912.6 L1656.6,912.9 L1658.8,913.1 L1661.0,913.3 L1663.2,913.5 L1665.4,913.7 L1667.6,913.9 L1669.8,914.1 L1672.0,914.3 L1674.2,914.4 L1676.4,914.6 L1678.6,914.8 L1680.8,914.9 L1683.0,915.1 L1685.2,915.2 L1687.4,915.4 L1689.6,915.5 L1691.8,915.7 L1694.0,915.8 L1696.2,915.9 L1698.4,916.0 L1700.6,916.1 L1702.8,916.2 L1705.0,916.3 L1707.2,916.4 L1709.4,916.5 L1711.6,916.6 L1713.8,916.7 L1716.0,916.8 L1718.2,916.8 L1720.4,916.9 L1722.6,917.0 L1724.8,917.1 L1727.0,917.1 L1729.2,917.2 L1731.4,917.3 L1733.6,917.3 L1735.8,917.4 L1738.0,917.5 L1740.2,917.5 L1742.4,917.6 L1744.6,917.6 L1746.8,917.6 L1749.0,917.7 L1751.2,917.7 L1753.4,917.7 L1755.6,917.7 L1757.8,917.7 L1760.0,917.7 L1762.2,917.7 L1764.4,917.7 L1766.6,917.7 L1768.8,917.7 L1771.0,917.7 L1773.2,917.7 L1775.4,917.7 L1777.6,917.7 L1779.8,917.7 L1782.0,917.7 L1784.2,917.7 L1786.4,917.7 L1788.6,917.7 L1790.8,917.7 L1793.0,917.7 L1795.2,917.7 L1797.4,917.7 L1799.6,917.7 L1801.8,917.7 L1804.0,917.7 L1806.2,917.7 L1808.4,917.7 L1810.6,917.7 L1812.8,917.7 L1815.0,917.7 L1817.2,917.7 L1819.4,917.7 L1821.6,917.7 L1823.8,917.7 L1826.0,917.7 L1828.2,917.7 L1830.4,917.7 L1832.6,917.7 L1834.8,917.7 L1837.0,917.7 L1839.2,917.7 L1841.4,917.7 L1843.6,917.7 L1845.8,917.7 L1848.0,917.7 L1850.2,917.7 L1852.4,917.7 L1854.6,917.7 L1856.8,917.7 L1859.0,917.7 L1861.2,917.7 L1863.4,917.7 L1865.6,917.7 L1867.8,917.7 L1870.0,917.7 L1872.2,917.7 L1874.4,917.7 L1876.6,917.7" fill="none" stroke="#000080" stroke-width="1.6" stroke-opacity="0.45" stroke-dasharray="3 2"/>
<path d="M205.9,892.2a3.1,3.1 0 1,0 6.2,0a3.1,3.1 0 1,0 -6.2,0M208.1,892.7a3.1,3.1 0 1,0 6.2,0a3.1,3.1 0 1,0 -6.2,0M210.3,893.2a3.1,3.1 0 1,0 6.2,0a3.1,3.1 0 1,0 -6.2,0M212.5,893.7a3.1,3.1 0 1,0 6.2,0a3.1,3.1 0 1,0 -6.2,0M214.7,894.1a3.1,3.1 0 1,0 6.2,0a3.1,3.1 0 1,0 -6.2,0M216.9,894.5a3.1,3.1 0 1,0 6.2,0a3.1,3.1 0 1,0 -6.2,0M219.1,894.9a3.1,3.1 0 1,0 6.2,0a3.1,3.1 0 1,0 -6.2,0M221.3,895.2a3.1,3.1 0 1,0 6.2,0a3.1,3.1 0 1,0 -6.2,0M223.5,895.5a3.1,3.1 0 1,0 6.2,0a3.1,3.1 0 1,0 -6.2,0M225.7,895.8a3.1,3.1 0 1,0 6.2,0a3.1,3.1 0 1,0 -6.2,0M227.9,896.1a3.1,3.1 0 1,0 6.2,0a3.1,3.1 0 1,0 -6.2,0M230.1,896.4a3.1,3.1 0 1,0 6.2,0a3.1,3.1 0 1,0 -6.2,0M232.3,896.7a3.1,3.1 0 1,0 6.2,0a3.1,3.1 0 1,0 -6.2,0M234.5,896.9a3.1,3.1 0 1,0 6.2,0a3.1,3.1 0 1,0 -6.2,0M236.7,897.1a3.1,3.1 0 1,0 6.2,0a3.1,3.1 0 1,0 -6.2,0M238.9,897.2a3.1,3.1 0 1,0 6.2,0a3.1,3.1 0 1,0 -6.2,0M241.1,897.2a3.1,3.1 0 1,0 6.2,0a3.1,3.1 0 1,0 -6.2,0M243.3,897.2a3.1,3.1 0 1,0 6.2,0a3.1,3.1 0 1,0 -6.2,0M245.5,897.1a3.1,3.1 0 1,0 6.2,0a3.1,3.1 0 1,0 -6.2,0M247.7,897.1a3.1,3.1 0 1,0 6.2,0a3.1,3.1 0 1,0 -6.2,0M249.9,897.0a3.1,3.1 0 1,0 6.2,0a3.1,3.1 0 1,0 -6.2,0M252.1,896.9a3.1,3.1 0 1,0 6.2,0a3.1,3.1 0 1,0 -6.2,0M254.3,896.8a3.1,3.1 0 1,0 6.2,0a3.1,3.1 0 1,0 -6.2,0M256.5,896.7a3.1,3.1 0 1,0 6.2,0a3.1,3.1 0 1,0 -6.2,0M258.7,896.6a3.1,3.1 0 1,0 6.2,0a3.1,3.1 0 1,0 -6.2,0M260.9,896.4a3.1,3.1 0 1,0 6.2,0a3.1,3.1 0 1,0 -6.2,0M263.1,896.2a3.1,3.1 0 1,0 6.2,0a3.1,3.1 0 1,0 -6.2,0M265.3,895.9a3.1,3.1 0 1,0 6.2,0a3.1,3.1 0 1,0 -6.2,0M267.5,895.6a3.1,3.1 0 1,0 6.2,0a3.1,3.1 0 1,0 -6.2,0M269.7,895.2a3.1,3.1 0 1,0 6.2,0a3.1,3.1 0 1,0 -6.2,0M271.9,894.8a3.1,3.1 0 1,0 6.2,0a3.1,3.1 0 1,0 -6.2,0M274.1,894.3a3.1,3.1 0 1,0 6.2,0a3.1,3.1 0 1,0 -6.2,0M276.3,893.8a3.1,3.1 0 1,0 6.2,0a3.1,3.1 0 1,0 -6.2,0M278.5,893.4a3.1,3.1 0 1,0 6.2,0a3.1,3.1 0 1,0 -6.2,0M280.7,892.9a3.1,3.1 0 1,0 6.2,0a3.1,3.1 0 1,0 -6.2,0M282.9,892.4a3.1,3.1 0 1,0 6.2,0a3.1,3.1 0 1,0 -6.2,0M285.1,891.8a3.1,3.1 0 1,0 6.2,0a3.1,3.1 0 1,0 -6.2,0M287.3,891.1a3.1,3.1 0 1,0 6.2,0a3.1,3.1 0 1,0 -6.2,0M289.5,890.5a3.1,3.1 0 1,0 6.2,0a3.1,3.1 0 1,0 -6.2,0M291.7,889.8a3.1,3.1 0 1,0 6.2,0a3.1,3.1 0 1,0 -6.2,0M293.9,889.0a3.1,3.1 0 1,0 6.2,0a3.1,3.1 0 1,0 -6.2,0M296.1,888.2a3.1,3.1 0 1,0 6.2,0a3.1,3.1 0 1,0 -6.2,0M298.3,887.4a3.1,3.1 0 1,0 6.2,0a3.1,3.1 0 1,0 -6.2,0M300.5,886.4a3.1,3.1 0 1,0 6.2,0a3.1,3.1 0 1,0 -6.2,0M302.7,885.4a3.1,3.1 0 1,0 6.2,0a3.1,3.1 0 1,0 -6.2,0M304.9,884.2a3.1,3.1 0 1,0 6.2,0a3.1,3.1 0 1,0 -6.2,0M307.1,882.9a3.1,3.1 0 1,0 6.2,0a3.1,3.1 0 1,0 -6.2,0M309.3,881.3a3.1,3.1 0 1,0 6.2,0a3.1,3.1 0 1,0 -6.2,0M311.5,879.4a3.1,3.1 0 1,0 6.2,0a3.1,3.1 0 1,0 -6.2,0M313.7,877.3a3.1,3.1 0 1,0 6.2,0a3.1,3.1 0 1,0 -6.2,0M315.9,875.2a3.1,3.1 0 1,0 6.2,0a3.1,3.1 0 1,0 -6.2,0M318.1,873.1a3.1,3.1 0 1,0 6.2,0a3.1,3.1 0 1,0 -6.2,0M320.3,870.8a3.1,3.1 0 1,0 6.2,0a3.1,3.1 0 1,0 -6.2,0M322.5,868.5a3.1,3.1 0 1,0 6.2,0a3.1,3.1 0 1,0 -6.2,0M324.7,866.1a3.1,3.1 0 1,0 6.2,0a3.1,3.1 0 1,0 -6.2,0M326.9,863.5a3.1,3.1 0 1,0 6.2,0a3.1,3.1 0 1,0 -6.2,0M329.1,860.7a3.1,3.1 0 1,0 6.2,0a3.1,3.1 0 1,0 -6.2,0M331.3,857.7a3.1,3.1 0 1,0 6.2,0a3.1,3.1 0 1,0 -6.2,0M333.5,854.4a3.1,3.1 0 1,0 6.2,0a3.1,3.1 0 1,0 -6.2,0M335.7,850.9a3.1,3.1 0 1,0 6.2,0a3.1,3.1 0 1,0 -6.2,0M337.9,847.4a3.1,3.1 0 1,0 6.2,0a3.1,3.1 0 1,0 -6.2,0M340.1,844.0a3.1,3.1 0 1,0 6.2,0a3.1,3.1 0 1,0 -6.2,0M342.3,840.9a3.1,3.1 0 1,0 6.2,0a3.1,3.1 0 1,0 -6.2,0M344.5,837.9a3.1,3.1 0 1,0 6.2,0a3.1,3.1 0 1,0 -6.2,0M346.7,835.0a3.1,3.1 0 1,0 6.2,0a3.1,3.1 0 1,0 -6.2,0M348.9,832.0a3.1,3.1 0 1,0 6.2,0a3.1,3.1 0 1,0 -6.2,0M351.1,828.9a3.1,3.1 0 1,0 6.2,0a3.1,3.1 0 1,0 -6.2,0M353.3,825.4a3.1,3.1 0 1,0 6.2,0a3.1,3.1 0 1,0 -6.2,0M355.5,821.6a3.1,3.1 0 1,0 6.2,0a3.1,3.1 0 1,0 -6.2,0M357.7,817.4a3.1,3.1 0 1,0 6.2,0a3.1,3.1 0 1,0 -6.2,0M359.9,812.9a3.1,3.1 0 1,0 6.2,0a3.1,3.1 0 1,0 -6.2,0M362.1,808.0a3.1,3.1 0 1,0 6.2,0a3.1,3.1 0 1,0 -6.2,0M364.3,803.0a3.1,3.1 0 1,0 6.2,0a3.1,3.1 0 1,0 -6.2,0M366.5,797.3a3.1,3.1 0 1,0 6.2,0a3.1,3.1 0 1,0 -6.2,0M368.7,790.6a3.1,3.1 0 1,0 6.2,0a3.1,3.1 0 1,0 -6.2,0M370.9,782.7a3.1,3.1 0 1,0 6.2,0a3.1,3.1 0 1,0 -6.2,0M373.1,774.2a3.1,3.1 0 1,0 6.2,0a3.1,3.1 0 1,0 -6.2,0M375.3,753.7a3.1,3.1 0 1,0 6.2,0a3.1,3.1 0 1,0 -6.2,0M377.5,738.8a3.1,3.1 0 1,0 6.2,0a3.1,3.1 0 1,0 -6.2,0M379.7,720.3a3.1,3.1 0 1,0 6.2,0a3.1,3.1 0 1,0 -6.2,0M381.9,696.8a3.1,3.1 0 1,0 6.2,0a3.1,3.1 0 1,0 -6.2,0M384.1,670.0a3.1,3.1 0 1,0 6.2,0a3.1,3.1 0 1,0 -6.2,0M386.3,643.3a3.1,3.1 0 1,0 6.2,0a3.1,3.1 0 1,0 -6.2,0M388.5,619.7a3.1,3.1 0 1,0 6.2,0a3.1,3.1 0 1,0 -6.2,0M390.7,595.7a3.1,3.1 0 1,0 6.2,0a3.1,3.1 0 1,0 -6.2,0M392.9,570.0a3.1,3.1 0 1,0 6.2,0a3.1,3.1 0 1,0 -6.2,0M395.1,546.1a3.1,3.1 0 1,0 6.2,0a3.1,3.1 0 1,0 -6.2,0M397.3,530.0a3.1,3.1 0 1,0 6.2,0a3.1,3.1 0 1,0 -6.2,0M399.5,518.4a3.1,3.1 0 1,0 6.2,0a3.1,3.1 0 1,0 -6.2,0M401.7,511.5a3.1,3.1 0 1,0 6.2,0a3.1,3.1 0 1,0 -6.2,0M403.9,508.6a3.1,3.1 0 1,0 6.2,0a3.1,3.1 0 1,0 -6.2,0M406.1,508.3a3.1,3.1 0 1,0 6.2,0a3.1,3.1 0 1,0 -6.2,0M408.3,513.3a3.1,3.1 0 1,0 6.2,0a3.1,3.1 0 1,0 -6.2,0M410.5,522.5a3.1,3.1 0 1,0 6.2,0a3.1,3.1 0 1,0 -6.2,0M412.7,537.2a3.1,3.1 0 1,0 6.2,0a3.1,3.1 0 1,0 -6.2,0M414.9,554.8a3.1,3.1 0 1,0 6.2,0a3.1,3.1 0 1,0 -6.2,0M417.1,576.9a3.1,3.1 0 1,0 6.2,0a3.1,3.1 0 1,0 -6.2,0M419.3,604.0a3.1,3.1 0 1,0 6.2,0a3.1,3.1 0 1,0 -6.2,0M421.5,632.7a3.1,3.1 0 1,0 6.2,0a3.1,3.1 0 1,0 -6.2,0M423.7,654.5a3.1,3.1 0 1,0 6.2,0a3.1,3.1 0 1,0 -6.2,0M425.9,676.6a3.1,3.1 0 1,0 6.2,0a3.1,3.1 0 1,0 -6.2,0M428.1,700.5a3.1,3.1 0 1,0 6.2,0a3.1,3.1 0 1,0 -6.2,0M430.3,723.0a3.1,3.1 0 1,0 6.2,0a3.1,3.1 0 1,0 -6.2,0M432.5,743.3a3.1,3.1 0 1,0 6.2,0a3.1,3.1 0 1,0 -6.2,0M434.7,759.5a3.1,3.1 0 1,0 6.2,0a3.1,3.1 0 1,0 -6.2,0M436.9,771.6a3.1,3.1 0 1,0 6.2,0a3.1,3.1 0 1,0 -6.2,0M439.1,786.9a3.1,3.1 0 1,0 6.2,0a3.1,3.1 0 1,0 -6.2,0M441.3,796.5a3.1,3.1 0 1,0 6.2,0a3.1,3.1 0 1,0 -6.2,0M443.5,805.2a3.1,3.1 0 1,0 6.2,0a3.1,3.1 0 1,0 -6.2,0M445.7,814.1a3.1,3.1 0 1,0 6.2,0a3.1,3.1 0 1,0 -6.2,0M447.9,822.4a3.1,3.1 0 1,0 6.2,0a3.1,3.1 0 1,0 -6.2,0M450.1,829.7a3.1,3.1 0 1,0 6.2,0a3.1,3.1 0 1,0 -6.2,0M452.3,835.5a3.1,3.1 0 1,0 6.2,0a3.1,3.1 0 1,0 -6.2,0M454.5,840.3a3.1,3.1 0 1,0 6.2,0a3.1,3.1 0 1,0 -6.2,0M456.7,844.6a3.1,3.1 0 1,0 6.2,0a3.1,3.1 0 1,0 -6.2,0M458.9,848.6a3.1,3.1 0 1,0 6.2,0a3.1,3.1 0 1,0 -6.2,0M461.1,852.2a3.1,3.1 0 1,0 6.2,0a3.1,3.1 0 1,0 -6.2,0M463.3,855.3a3.1,3.1 0 1,0 6.2,0a3.1,3.1 0 1,0 -6.2,0M465.5,858.2a3.1,3.1 0 1,0 6.2,0a3.1,3.1 0 1,0 -6.2,0M467.7,860.8a3.1,3.1 0 1,0 6.2,0a3.1,3.1 0 1,0 -6.2,0M469.9,863.3a3.1,3.1 0 1,0 6.2,0a3.1,3.1 0 1,0 -6.2,0M472.1,865.4a3.1,3.1 0 1,0 6.2,0a3.1,3.1 0 1,0 -6.2,0M474.3,867.4a3.1,3.1 0 1,0 6.2,0a3.1,3.1 0 1,0 -6.2,0M476.5,869.2a3.1,3.1 0 1,0 6.2,0a3.1,3.1 0 1,0 -6.2,0M478.7,870.9a3.1,3.1 0 1,0 6.2,0a3.1,3.1 0 1,0 -6.2,0M480.9,872.5a3.1,3.1 0 1,0 6.2,0a3.1,3.1 0 1,0 -6.2,0M483.1,873.9a3.1,3.1 0 1,0 6.2,0a3.1,3.1 0 1,0 -6.2,0M485.3,875.0a3.1,3.1 0 1,0 6.2,0a3.1,3.1 0 1,0 -6.2,0M487.5,875.9a3.1,3.1 0 1,0 6.2,0a3.1,3.1 0 1,0 -6.2,0M489.7,876.9a3.1,3.1 0 1,0 6.2,0a3.1,3.1 0 1,0 -6.2,0M491.9,877.7a3.1,3.1 0 1,0 6.2,0a3.1,3.1 0 1,0 -6.2,0M494.1,878.4a3.1,3.1 0 1,0 6.2,0a3.1,3.1 0 1,0 -6.2,0M496.3,878.9a3.1,3.1 0 1,0 6.2,0a3.1,3.1 0 1,0 -6.2,0M498.5,879.0a3.1,3.1 0 1,0 6.2,0a3.1,3.1 0 1,0 -6.2,0M500.7,878.8a3.1,3.1 0 1,0 6.2,0a3.1,3.1 0 1,0 -6.2,0M502.9,878.4a3.1,3.1 0 1,0 6.2,0a3.1,3.1 0 1,0 -6.2,0M505.1,877.8a3.1,3.1 0 1,0 6.2,0a3.1,3.1 0 1,0 -6.2,0M507.3,877.2a3.1,3.1 0 1,0 6.2,0a3.1,3.1 0 1,0 -6.2,0M509.5,876.7a3.1,3.1 0 1,0 6.2,0a3.1,3.1 0 1,0 -6.2,0M511.7,876.5a3.1,3.1 0 1,0 6.2,0a3.1,3.1 0 1,0 -6.2,0M513.9,876.5a3.1,3.1 0 1,0 6.2,0a3.1,3.1 0 1,0 -6.2,0M516.1,876.6a3.1,3.1 0 1,0 6.2,0a3.1,3.1 0 1,0 -6.2,0M518.3,876.8a3.1,3.1 0 1,0 6.2,0a3.1,3.1 0 1,0 -6.2,0M520.5,876.9a3.1,3.1 0 1,0 6.2,0a3.1,3.1 0 1,0 -6.2,0M522.7,877.2a3.1,3.1 0 1,0 6.2,0a3.1,3.1 0 1,0 -6.2,0M524.9,877.8a3.1,3.1 0 1,0 6.2,0a3.1,3.1 0 1,0 -6.2,0M527.1,878.9a3.1,3.1 0 1,0 6.2,0a3.1,3.1 0 1,0 -6.2,0M529.3,880.2a3.1,3.1 0 1,0 6.2,0a3.1,3.1 0 1,0 -6.2,0M531.5,881.6a3.1,3.1 0 1,0 6.2,0a3.1,3.1 0 1,0 -6.2,0M533.7,883.0a3.1,3.1 0 1,0 6.2,0a3.1,3.1 0 1,0 -6.2,0M535.9,884.4a3.1,3.1 0 1,0 6.2,0a3.1,3.1 0 1,0 -6.2,0M538.1,886.0a3.1,3.1 0 1,0 6.2,0a3.1,3.1 0 1,0 -6.2,0M540.3,887.7a3.1,3.1 0 1,0 6.2,0a3.1,3.1 0 1,0 -6.2,0M542.5,889.3a3.1,3.1 0 1,0 6.2,0a3.1,3.1 0 1,0 -6.2,0M544.7,890.8a3.1,3.1 0 1,0 6.2,0a3.1,3.1 0 1,0 -6.2,0M546.9,892.0a3.1,3.1 0 1,0 6.2,0a3.1,3.1 0 1,0 -6.2,0M549.1,893.2a3.1,3.1 0 1,0 6.2,0a3.1,3.1 0 1,0 -6.2,0M551.3,894.4a3.1,3.1 0 1,0 6.2,0a3.1,3.1 0 1,0 -6.2,0M553.5,895.4a3.1,3.1 0 1,0 6.2,0a3.1,3.1 0 1,0 -6.2,0M555.7,896.3a3.1,3.1 0 1,0 6.2,0a3.1,3.1 0 1,0 -6.2,0M557.9,897.0a3.1,3.1 0 1,0 6.2,0a3.1,3.1 0 1,0 -6.2,0M560.1,897.6a3.1,3.1 0 1,0 6.2,0a3.1,3.1 0 1,0 -6.2,0M562.3,898.1a3.1,3.1 0 1,0 6.2,0a3.1,3.1 0 1,0 -6.2,0M564.5,898.6a3.1,3.1 0 1,0 6.2,0a3.1,3.1 0 1,0 -6.2,0M566.7,899.1a3.1,3.1 0 1,0 6.2,0a3.1,3.1 0 1,0 -6.2,0M568.9,899.5a3.1,3.1 0 1,0 6.2,0a3.1,3.1 0 1,0 -6.2,0M571.1,899.9a3.1,3.1 0 1,0 6.2,0a3.1,3.1 0 1,0 -6.2,0M573.3,900.1a3.1,3.1 0 1,0 6.2,0a3.1,3.1 0 1,0 -6.2,0M575.5,900.3a3.1,3.1 0 1,0 6.2,0a3.1,3.1 0 1,0 -6.2,0M577.7,900.3a3.1,3.1 0 1,0 6.2,0a3.1,3.1 0 1,0 -6.2,0M579.9,900.3a3.1,3.1 0 1,0 6.2,0a3.1,3.1 0 1,0 -6.2,0M582.1,900.2a3.1,3.1 0 1,0 6.2,0a3.1,3.1 0 1,0 -6.2,0M584.3,900.2a3.1,3.1 0 1,0 6.2,0a3.1,3.1 0 1,0 -6.2,0M586.5,900.1a3.1,3.1 0 1,0 6.2,0a3.1,3.1 0 1,0 -6.2,0M588.7,900.0a3.1,3.1 0 1,0 6.2,0a3.1,3.1 0 1,0 -6.2,0M590.9,899.9a3.1,3.1 0 1,0 6.2,0a3.1,3.1 0 1,0 -6.2,0M593.1,899.8a3.1,3.1 0 1,0 6.2,0a3.1,3.1 0 1,0 -6.2,0M595.3,899.7a3.1,3.1 0 1,0 6.2,0a3.1,3.1 0 1,0 -6.2,0M597.5,899.6a3.1,3.1 0 1,0 6.2,0a3.1,3.1 0 1,0 -6.2,0M599.7,899.6a3.1,3.1 0 1,0 6.2,0a3.1,3.1 0 1,0 -6.2,0M601.9,899.4a3.1,3.1 0 1,0 6.2,0a3.1,3.1 0 1,0 -6.2,0M604.1,899.3a3.1,3.1 0 1,0 6.2,0a3.1,3.1 0 1,0 -6.2,0M606.3,899.2a3.1,3.1 0 1,0 6.2,0a3.1,3.1 0 1,0 -6.2,0M608.5,899.1a3.1,3.1 0 1,0 6.2,0a3.1,3.1 0 1,0 -6.2,0M610.7,899.1a3.1,3.1 0 1,0 6.2,0a3.1,3.1 0 1,0 -6.2,0M612.9,899.0a3.1,3.1 0 1,0 6.2,0a3.1,3.1 0 1,0 -6.2,0M615.1,899.0a3.1,3.1 0 1,0 6.2,0a3.1,3.1 0 1,0 -6.2,0M617.3,899.0a3.1,3.1 0 1,0 6.2,0a3.1,3.1 0 1,0 -6.2,0M619.5,899.0a3.1,3.1 0 1,0 6.2,0a3.1,3.1 0 1,0 -6.2,0M621.7,899.1a3.1,3.1 0 1,0 6.2,0a3.1,3.1 0 1,0 -6.2,0M623.9,899.1a3.1,3.1 0 1,0 6.2,0a3.1,3.1 0 1,0 -6.2,0M626.1,899.2a3.1,3.1 0 1,0 6.2,0a3.1,3.1 0 1,0 -6.2,0M628.3,899.2a3.1,3.1 0 1,0 6.2,0a3.1,3.1 0 1,0 -6.2,0M630.5,899.3a3.1,3.1 0 1,0 6.2,0a3.1,3.1 0 1,0 -6.2,0M632.7,899.4a3.1,3.1 0 1,0 6.2,0a3.1,3.1 0 1,0 -6.2,0M634.9,899.4a3.1,3.1 0 1,0 6.2,0a3.1,3.1 0 1,0 -6.2,0M637.1,899.5a3.1,3.1 0 1,0 6.2,0a3.1,3.1 0 1,0 -6.2,0M639.3,899.6a3.1,3.1 0 1,0 6.2,0a3.1,3.1 0 1,0 -6.2,0M641.5,899.7a3.1,3.1 0 1,0 6.2,0a3.1,3.1 0 1,0 -6.2,0M643.7,899.7a3.1,3.1 0 1,0 6.2,0a3.1,3.1 0 1,0 -6.2,0M645.9,899.8a3.1,3.1 0 1,0 6.2,0a3.1,3.1 0 1,0 -6.2,0M648.1,900.0a3.1,3.1 0 1,0 6.2,0a3.1,3.1 0 1,0 -6.2,0M650.3,900.1a3.1,3.1 0 1,0 6.2,0a3.1,3.1 0 1,0 -6.2,0M652.5,900.2a3.1,3.1 0 1,0 6.2,0a3.1,3.1 0 1,0 -6.2,0M654.7,900.3a3.1,3.1 0 1,0 6.2,0a3.1,3.1 0 1,0 -6.2,0M656.9,900.4a3.1,3.1 0 1,0 6.2,0a3.1,3.1 0 1,0 -6.2,0M659.1,900.5a3.1,3.1 0 1,0 6.2,0a3.1,3.1 0 1,0 -6.2,0M661.3,900.6a3.1,3.1 0 1,0 6.2,0a3.1,3.1 0 1,0 -6.2,0M663.5,900.6a3.1,3.1 0 1,0 6.2,0a3.1,3.1 0 1,0 -6.2,0M665.7,900.7a3.1,3.1 0 1,0 6.2,0a3.1,3.1 0 1,0 -6.2,0M667.9,900.8a3.1,3.1 0 1,0 6.2,0a3.1,3.1 0 1,0 -6.2,0M670.1,900.8a3.1,3.1 0 1,0 6.2,0a3.1,3.1 0 1,0 -6.2,0M672.3,900.8a3.1,3.1 0 1,0 6.2,0a3.1,3.1 0 1,0 -6.2,0M674.5,900.8a3.1,3.1 0 1,0 6.2,0a3.1,3.1 0 1,0 -6.2,0M676.7,900.8a3.1,3.1 0 1,0 6.2,0a3.1,3.1 0 1,0 -6.2,0M678.9,900.8a3.1,3.1 0 1,0 6.2,0a3.1,3.1 0 1,0 -6.2,0M681.1,900.8a3.1,3.1 0 1,0 6.2,0a3.1,3.1 0 1,0 -6.2,0M683.3,900.8a3.1,3.1 0 1,0 6.2,0a3.1,3.1 0 1,0 -6.2,0M685.5,900.8a3.1,3.1 0 1,0 6.2,0a3.1,3.1 0 1,0 -6.2,0M687.7,900.8a3.1,3.1 0 1,0 6.2,0a3.1,3.1 0 1,0 -6.2,0M689.9,900.8a3.1,3.1 0 1,0 6.2,0a3.1,3.1 0 1,0 -6.2,0M692.1,900.8a3.1,3.1 0 1,0 6.2,0a3.1,3.1 0 1,0 -6.2,0M694.3,900.8a3.1,3.1 0 1,0 6.2,0a3.1,3.1 0 1,0 -6.2,0M696.5,900.8a3.1,3.1 0 1,0 6.2,0a3.1,3.1 0 1,0 -6.2,0M698.7,900.8a3.1,3.1 0 1,0 6.2,0a3.1,3.1 0 1,0 -6.2,0M700.9,900.8a3.1,3.1 0 1,0 6.2,0a3.1,3.1 0 1,0 -6.2,0M703.1,900.8a3.1,3.1 0 1,0 6.2,0a3.1,3.1 0 1,0 -6.2,0M705.3,900.8a3.1,3.1 0 1,0 6.2,0a3.1,3.1 0 1,0 -6.2,0M707.5,900.8a3.1,3.1 0 1,0 6.2,0a3.1,3.1 0 1,0 -6.2,0M709.7,900.8a3.1,3.1 0 1,0 6.2,0a3.1,3.1 0 1,0 -6.2,0M711.9,900.8a3.1,3.1 0 1,0 6.2,0a3.1,3.1 0 1,0 -6.2,0M714.1,900.9a3.1,3.1 0 1,0 6.2,0a3.1,3.1 0 1,0 -6.2,0M716.3,900.9a3.1,3.1 0 1,0 6.2,0a3.1,3.1 0 1,0 -6.2,0M718.5,900.9a3.1,3.1 0 1,0 6.2,0a3.1,3.1 0 1,0 -6.2,0M720.7,901.0a3.1,3.1 0 1,0 6.2,0a3.1,3.1 0 1,0 -6.2,0M722.9,901.0a3.1,3.1 0 1,0 6.2,0a3.1,3.1 0 1,0 -6.2,0M725.1,901.1a3.1,3.1 0 1,0 6.2,0a3.1,3.1 0 1,0 -6.2,0M727.3,901.2a3.1,3.1 0 1,0 6.2,0a3.1,3.1 0 1,0 -6.2,0M729.5,901.2a3.1,3.1 0 1,0 6.2,0a3.1,3.1 0 1,0 -6.2,0M731.7,901.3a3.1,3.1 0 1,0 6.2,0a3.1,3.1 0 1,0 -6.2,0M733.9,901.4a3.1,3.1 0 1,0 6.2,0a3.1,3.1 0 1,0 -6.2,0M736.1,901.4a3.1,3.1 0 1,0 6.2,0a3.1,3.1 0 1,0 -6.2,0M738.3,901.5a3.1,3.1 0 1,0 6.2,0a3.1,3.1 0 1,0 -6.2,0M740.5,901.7a3.1,3.1 0 1,0 6.2,0a3.1,3.1 0 1,0 -6.2,0M742.7,901.9a3.1,3.1 0 1,0 6.2,0a3.1,3.1 0 1,0 -6.2,0M744.9,902.2a3.1,3.1 0 1,0 6.2,0a3.1,3.1 0 1,0 -6.2,0M747.1,902.5a3.1,3.1 0 1,0 6.2,0a3.1,3.1 0 1,0 -6.2,0M749.3,902.8a3.1,3.1 0 1,0 6.2,0a3.1,3.1 0 1,0 -6.2,0M751.5,903.2a3.1,3.1 0 1,0 6.2,0a3.1,3.1 0 1,0 -6.2,0M753.7,903.6a3.1,3.1 0 1,0 6.2,0a3.1,3.1 0 1,0 -6.2,0M755.9,903.9a3.1,3.1 0 1,0 6.2,0a3.1,3.1 0 1,0 -6.2,0M758.1,904.3a3.1,3.1 0 1,0 6.2,0a3.1,3.1 0 1,0 -6.2,0M760.3,904.6a3.1,3.1 0 1,0 6.2,0a3.1,3.1 0 1,0 -6.2,0M762.5,904.9a3.1,3.1 0 1,0 6.2,0a3.1,3.1 0 1,0 -6.2,0M764.7,905.1a3.1,3.1 0 1,0 6.2,0a3.1,3.1 0 1,0 -6.2,0M766.9,905.3a3.1,3.1 0 1,0 6.2,0a3.1,3.1 0 1,0 -6.2,0M769.1,905.4a3.1,3.1 0 1,0 6.2,0a3.1,3.1 0 1,0 -6.2,0M771.3,905.4a3.1,3.1 0 1,0 6.2,0a3.1,3.1 0 1,0 -6.2,0M773.5,905.4a3.1,3.1 0 1,0 6.2,0a3.1,3.1 0 1,0 -6.2,0M775.7,905.4a3.1,3.1 0 1,0 6.2,0a3.1,3.1 0 1,0 -6.2,0M777.9,905.4a3.1,3.1 0 1,0 6.2,0a3.1,3.1 0 1,0 -6.2,0M780.1,905.4a3.1,3.1 0 1,0 6.2,0a3.1,3.1 0 1,0 -6.2,0M782.3,905.4a3.1,3.1 0 1,0 6.2,0a3.1,3.1 0 1,0 -6.2,0M784.5,905.4a3.1,3.1 0 1,0 6.2,0a3.1,3.1 0 1,0 -6.2,0M786.7,905.4a3.1,3.1 0 1,0 6.2,0a3.1,3.1 0 1,0 -6.2,0M788.9,905.4a3.1,3.1 0 1,0 6.2,0a3.1,3.1 0 1,0 -6.2,0M791.1,905.4a3.1,3.1 0 1,0 6.2,0a3.1,3.1 0 1,0 -6.2,0M793.3,905.4a3.1,3.1 0 1,0 6.2,0a3.1,3.1 0 1,0 -6.2,0M795.5,905.4a3.1,3.1 0 1,0 6.2,0a3.1,3.1 0 1,0 -6.2,0M797.7,905.4a3.1,3.1 0 1,0 6.2,0a3.1,3.1 0 1,0 -6.2,0M799.9,905.4a3.1,3.1 0 1,0 6.2,0a3.1,3.1 0 1,0 -6.2,0M802.1,905.4a3.1,3.1 0 1,0 6.2,0a3.1,3.1 0 1,0 -6.2,0M804.3,905.4a3.1,3.1 0 1,0 6.2,0a3.1,3.1 0 1,0 -6.2,0M806.5,905.4a3.1,3.1 0 1,0 6.2,0a3.1,3.1 0 1,0 -6.2,0M808.7,905.4a3.1,3.1 0 1,0 6.2,0a3.1,3.1 0 1,0 -6.2,0M810.9,905.4a3.1,3.1 0 1,0 6.2,0a3.1,3.1 0 1,0 -6.2,0M813.1,905.4a3.1,3.1 0 1,0 6.2,0a3.1,3.1 0 1,0 -6.2,0M815.3,905.4a3.1,3.1 0 1,0 6.2,0a3.1,3.1 0 1,0 -6.2,0M817.5,905.4a3.1,3.1 0 1,0 6.2,0a3.1,3.1 0 1,0 -6.2,0M819.7,905.4a3.1,3.1 0 1,0 6.2,0a3.1,3.1 0 1,0 -6.2,0M821.9,905.4a3.1,3.1 0 1,0 6.2,0a3.1,3.1 0 1,0 -6.2,0M824.1,905.3a3.1,3.1 0 1,0 6.2,0a3.1,3.1 0 1,0 -6.2,0M826.3,905.2a3.1,3.1 0 1,0 6.2,0a3.1,3.1 0 1,0 -6.2,0M828.5,905.0a3.1,3.1 0 1,0 6.2,0a3.1,3.1 0 1,0 -6.2,0M830.7,904.9a3.1,3.1 0 1,0 6.2,0a3.1,3.1 0 1,0 -6.2,0M832.9,904.7a3.1,3.1 0 1,0 6.2,0a3.1,3.1 0 1,0 -6.2,0M835.1,904.4a3.1,3.1 0 1,0 6.2,0a3.1,3.1 0 1,0 -6.2,0M837.3,904.2a3.1,3.1 0 1,0 6.2,0a3.1,3.1 0 1,0 -6.2,0M839.5,903.9a3.1,3.1 0 1,0 6.2,0a3.1,3.1 0 1,0 -6.2,0M841.7,903.6a3.1,3.1 0 1,0 6.2,0a3.1,3.1 0 1,0 -6.2,0M843.9,903.3a3.1,3.1 0 1,0 6.2,0a3.1,3.1 0 1,0 -6.2,0M846.1,903.0a3.1,3.1 0 1,0 6.2,0a3.1,3.1 0 1,0 -6.2,0M848.3,902.7a3.1,3.1 0 1,0 6.2,0a3.1,3.1 0 1,0 -6.2,0M850.5,902.4a3.1,3.1 0 1,0 6.2,0a3.1,3.1 0 1,0 -6.2,0M852.7,902.0a3.1,3.1 0 1,0 6.2,0a3.1,3.1 0 1,0 -6.2,0M854.9,901.7a3.1,3.1 0 1,0 6.2,0a3.1,3.1 0 1,0 -6.2,0M857.1,901.3a3.1,3.1 0 1,0 6.2,0a3.1,3.1 0 1,0 -6.2,0M859.3,901.0a3.1,3.1 0 1,0 6.2,0a3.1,3.1 0 1,0 -6.2,0M861.5,900.7a3.1,3.1 0 1,0 6.2,0a3.1,3.1 0 1,0 -6.2,0M863.7,900.4a3.1,3.1 0 1,0 6.2,0a3.1,3.1 0 1,0 -6.2,0M865.9,900.1a3.1,3.1 0 1,0 6.2,0a3.1,3.1 0 1,0 -6.2,0M868.1,899.8a3.1,3.1 0 1,0 6.2,0a3.1,3.1 0 1,0 -6.2,0M870.3,899.5a3.1,3.1 0 1,0 6.2,0a3.1,3.1 0 1,0 -6.2,0M872.5,899.2a3.1,3.1 0 1,0 6.2,0a3.1,3.1 0 1,0 -6.2,0M874.7,898.9a3.1,3.1 0 1,0 6.2,0a3.1,3.1 0 1,0 -6.2,0M876.9,898.7a3.1,3.1 0 1,0 6.2,0a3.1,3.1 0 1,0 -6.2,0M879.1,898.4a3.1,3.1 0 1,0 6.2,0a3.1,3.1 0 1,0 -6.2,0M881.3,898.0a3.1,3.1 0 1,0 6.2,0a3.1,3.1 0 1,0 -6.2,0M883.5,897.7a3.1,3.1 0 1,0 6.2,0a3.1,3.1 0 1,0 -6.2,0M885.7,897.3a3.1,3.1 0 1,0 6.2,0a3.1,3.1 0 1,0 -6.2,0M887.9,896.9a3.1,3.1 0 1,0 6.2,0a3.1,3.1 0 1,0 -6.2,0M890.1,896.4a3.1,3.1 0 1,0 6.2,0a3.1,3.1 0 1,0 -6.2,0M892.3,895.9a3.1,3.1 0 1,0 6.2,0a3.1,3.1 0 1,0 -6.2,0M894.5,895.4a3.1,3.1 0 1,0 6.2,0a3.1,3.1 0 1,0 -6.2,0M896.7,894.8a3.1,3.1 0 1,0 6.2,0a3.1,3.1 0 1,0 -6.2,0M898.9,894.1a3.1,3.1 0 1,0 6.2,0a3.1,3.1 0 1,0 -6.2,0M901.1,893.5a3.1,3.1 0 1,0 6.2,0a3.1,3.1 0 1,0 -6.2,0M903.3,892.8a3.1,3.1 0 1,0 6.2,0a3.1,3.1 0 1,0 -6.2,0M905.5,892.0a3.1,3.1 0 1,0 6.2,0a3.1,3.1 0 1,0 -6.2,0M907.7,891.3a3.1,3.1 0 1,0 6.2,0a3.1,3.1 0 1,0 -6.2,0M909.9,890.4a3.1,3.1 0 1,0 6.2,0a3.1,3.1 0 1,0 -6.2,0M912.1,889.5a3.1,3.1 0 1,0 6.2,0a3.1,3.1 0 1,0 -6.2,0M914.3,888.6a3.1,3.1 0 1,0 6.2,0a3.1,3.1 0 1,0 -6.2,0M916.5,887.5a3.1,3.1 0 1,0 6.2,0a3.1,3.1 0 1,0 -6.2,0M918.7,886.4a3.1,3.1 0 1,0 6.2,0a3.1,3.1 0 1,0 -6.2,0M920.9,885.2a3.1,3.1 0 1,0 6.2,0a3.1,3.1 0 1,0 -6.2,0M923.1,883.7a3.1,3.1 0 1,0 6.2,0a3.1,3.1 0 1,0 -6.2,0M925.3,882.1a3.1,3.1 0 1,0 6.2,0a3.1,3.1 0 1,0 -6.2,0M927.5,880.2a3.1,3.1 0 1,0 6.2,0a3.1,3.1 0 1,0 -6.2,0M929.7,878.3a3.1,3.1 0 1,0 6.2,0a3.1,3.1 0 1,0 -6.2,0M931.9,876.3a3.1,3.1 0 1,0 6.2,0a3.1,3.1 0 1,0 -6.2,0M934.1,874.2a3.1,3.1 0 1,0 6.2,0a3.1,3.1 0 1,0 -6.2,0M936.3,872.0a3.1,3.1 0 1,0 6.2,0a3.1,3.1 0 1,0 -6.2,0M938.5,869.8a3.1,3.1 0 1,0 6.2,0a3.1,3.1 0 1,0 -6.2,0M940.7,867.5a3.1,3.1 0 1,0 6.2,0a3.1,3.1 0 1,0 -6.2,0M942.9,865.4a3.1,3.1 0 1,0 6.2,0a3.1,3.1 0 1,0 -6.2,0M945.1,863.3a3.1,3.1 0 1,0 6.2,0a3.1,3.1 0 1,0 -6.2,0M947.3,861.1a3.1,3.1 0 1,0 6.2,0a3.1,3.1 0 1,0 -6.2,0M949.5,859.0a3.1,3.1 0 1,0 6.2,0a3.1,3.1 0 1,0 -6.2,0M951.7,857.2a3.1,3.1 0 1,0 6.2,0a3.1,3.1 0 1,0 -6.2,0M953.9,855.7a3.1,3.1 0 1,0 6.2,0a3.1,3.1 0 1,0 -6.2,0M956.1,854.7a3.1,3.1 0 1,0 6.2,0a3.1,3.1 0 1,0 -6.2,0M958.3,853.8a3.1,3.1 0 1,0 6.2,0a3.1,3.1 0 1,0 -6.2,0M960.5,853.0a3.1,3.1 0 1,0 6.2,0a3.1,3.1 0 1,0 -6.2,0M962.7,852.4a3.1,3.1 0 1,0 6.2,0a3.1,3.1 0 1,0 -6.2,0M964.9,852.0a3.1,3.1 0 1,0 6.2,0a3.1,3.1 0 1,0 -6.2,0M967.1,852.0a3.1,3.1 0 1,0 6.2,0a3.1,3.1 0 1,0 -6.2,0M969.3,852.3a3.1,3.1 0 1,0 6.2,0a3.1,3.1 0 1,0 -6.2,0M971.5,852.8a3.1,3.1 0 1,0 6.2,0a3.1,3.1 0 1,0 -6.2,0M973.7,853.3a3.1,3.1 0 1,0 6.2,0a3.1,3.1 0 1,0 -6.2,0M975.9,854.1a3.1,3.1 0 1,0 6.2,0a3.1,3.1 0 1,0 -6.2,0M978.1,855.4a3.1,3.1 0 1,0 6.2,0a3.1,3.1 0 1,0 -6.2,0M980.3,857.2a3.1,3.1 0 1,0 6.2,0a3.1,3.1 0 1,0 -6.2,0M982.5,859.1a3.1,3.1 0 1,0 6.2,0a3.1,3.1 0 1,0 -6.2,0M984.7,860.9a3.1,3.1 0 1,0 6.2,0a3.1,3.1 0 1,0 -6.2,0M986.9,863.0a3.1,3.1 0 1,0 6.2,0a3.1,3.1 0 1,0 -6.2,0M989.1,865.1a3.1,3.1 0 1,0 6.2,0a3.1,3.1 0 1,0 -6.2,0M991.3,867.2a3.1,3.1 0 1,0 6.2,0a3.1,3.1 0 1,0 -6.2,0M993.5,869.1a3.1,3.1 0 1,0 6.2,0a3.1,3.1 0 1,0 -6.2,0M995.7,870.8a3.1,3.1 0 1,0 6.2,0a3.1,3.1 0 1,0 -6.2,0M997.9,872.4a3.1,3.1 0 1,0 6.2,0a3.1,3.1 0 1,0 -6.2,0M1000.1,874.0a3.1,3.1 0 1,0 6.2,0a3.1,3.1 0 1,0 -6.2,0M1002.3,875.4a3.1,3.1 0 1,0 6.2,0a3.1,3.1 0 1,0 -6.2,0M1004.5,876.9a3.1,3.1 0 1,0 6.2,0a3.1,3.1 0 1,0 -6.2,0M1006.7,878.3a3.1,3.1 0 1,0 6.2,0a3.1,3.1 0 1,0 -6.2,0M1008.9,879.7a3.1,3.1 0 1,0 6.2,0a3.1,3.1 0 1,0 -6.2,0M1011.1,881.1a3.1,3.1 0 1,0 6.2,0a3.1,3.1 0 1,0 -6.2,0M1013.3,882.4a3.1,3.1 0 1,0 6.2,0a3.1,3.1 0 1,0 -6.2,0M1015.5,883.6a3.1,3.1 0 1,0 6.2,0a3.1,3.1 0 1,0 -6.2,0M1017.7,884.6a3.1,3.1 0 1,0 6.2,0a3.1,3.1 0 1,0 -6.2,0M1019.9,885.5a3.1,3.1 0 1,0 6.2,0a3.1,3.1 0 1,0 -6.2,0M1022.1,886.3a3.1,3.1 0 1,0 6.2,0a3.1,3.1 0 1,0 -6.2,0M1024.3,887.1a3.1,3.1 0 1,0 6.2,0a3.1,3.1 0 1,0 -6.2,0M1026.5,887.9a3.1,3.1 0 1,0 6.2,0a3.1,3.1 0 1,0 -6.2,0M1028.7,888.6a3.1,3.1 0 1,0 6.2,0a3.1,3.1 0 1,0 -6.2,0M1030.9,889.2a3.1,3.1 0 1,0 6.2,0a3.1,3.1 0 1,0 -6.2,0M1033.1,889.7a3.1,3.1 0 1,0 6.2,0a3.1,3.1 0 1,0 -6.2,0M1035.3,890.2a3.1,3.1 0 1,0 6.2,0a3.1,3.1 0 1,0 -6.2,0M1037.5,890.6a3.1,3.1 0 1,0 6.2,0a3.1,3.1 0 1,0 -6.2,0M1039.7,891.0a3.1,3.1 0 1,0 6.2,0a3.1,3.1 0 1,0 -6.2,0M1041.9,891.3a3.1,3.1 0 1,0 6.2,0a3.1,3.1 0 1,0 -6.2,0M1044.1,891.7a3.1,3.1 0 1,0 6.2,0a3.1,3.1 0 1,0 -6.2,0M1046.3,892.0a3.1,3.1 0 1,0 6.2,0a3.1,3.1 0 1,0 -6.2,0M1048.5,892.3a3.1,3.1 0 1,0 6.2,0a3.1,3.1 0 1,0 -6.2,0M1050.7,892.6a3.1,3.1 0 1,0 6.2,0a3.1,3.1 0 1,0 -6.2,0M1052.9,893.0a3.1,3.1 0 1,0 6.2,0a3.1,3.1 0 1,0 -6.2,0M1055.1,893.4a3.1,3.1 0 1,0 6.2,0a3.1,3.1 0 1,0 -6.2,0M1057.3,893.8a3.1,3.1 0 1,0 6.2,0a3.1,3.1 0 1,0 -6.2,0M1059.5,894.1a3.1,3.1 0 1,0 6.2,0a3.1,3.1 0 1,0 -6.2,0M1061.7,894.4a3.1,3.1 0 1,0 6.2,0a3.1,3.1 0 1,0 -6.2,0M1063.9,894.7a3.1,3.1 0 1,0 6.2,0a3.1,3.1 0 1,0 -6.2,0M1066.1,894.8a3.1,3.1 0 1,0 6.2,0a3.1,3.1 0 1,0 -6.2,0M1068.3,894.8a3.1,3.1 0 1,0 6.2,0a3.1,3.1 0 1,0 -6.2,0M1070.5,894.8a3.1,3.1 0 1,0 6.2,0a3.1,3.1 0 1,0 -6.2,0M1072.7,894.8a3.1,3.1 0 1,0 6.2,0a3.1,3.1 0 1,0 -6.2,0M1074.9,894.8a3.1,3.1 0 1,0 6.2,0a3.1,3.1 0 1,0 -6.2,0M1077.1,894.8a3.1,3.1 0 1,0 6.2,0a3.1,3.1 0 1,0 -6.2,0M1079.3,894.8a3.1,3.1 0 1,0 6.2,0a3.1,3.1 0 1,0 -6.2,0M1081.5,894.8a3.1,3.1 0 1,0 6.2,0a3.1,3.1 0 1,0 -6.2,0M1083.7,894.7a3.1,3.1 0 1,0 6.2,0a3.1,3.1 0 1,0 -6.2,0M1085.9,894.7a3.1,3.1 0 1,0 6.2,0a3.1,3.1 0 1,0 -6.2,0M1088.1,894.7a3.1,3.1 0 1,0 6.2,0a3.1,3.1 0 1,0 -6.2,0M1090.3,894.7a3.1,3.1 0 1,0 6.2,0a3.1,3.1 0 1,0 -6.2,0M1092.5,894.7a3.1,3.1 0 1,0 6.2,0a3.1,3.1 0 1,0 -6.2,0M1094.7,894.6a3.1,3.1 0 1,0 6.2,0a3.1,3.1 0 1,0 -6.2,0M1096.9,894.6a3.1,3.1 0 1,0 6.2,0a3.1,3.1 0 1,0 -6.2,0M1099.1,894.6a3.1,3.1 0 1,0 6.2,0a3.1,3.1 0 1,0 -6.2,0M1101.3,894.6a3.1,3.1 0 1,0 6.2,0a3.1,3.1 0 1,0 -6.2,0M1103.5,894.5a3.1,3.1 0 1,0 6.2,0a3.1,3.1 0 1,0 -6.2,0M1105.7,894.5a3.1,3.1 0 1,0 6.2,0a3.1,3.1 0 1,0 -6.2,0M1107.9,894.5a3.1,3.1 0 1,0 6.2,0a3.1,3.1 0 1,0 -6.2,0M1110.1,894.5a3.1,3.1 0 1,0 6.2,0a3.1,3.1 0 1,0 -6.2,0M1112.3,894.4a3.1,3.1 0 1,0 6.2,0a3.1,3.1 0 1,0 -6.2,0M1114.5,894.4a3.1,3.1 0 1,0 6.2,0a3.1,3.1 0 1,0 -6.2,0M1116.7,894.3a3.1,3.1 0 1,0 6.2,0a3.1,3.1 0 1,0 -6.2,0M1118.9,894.2a3.1,3.1 0 1,0 6.2,0a3.1,3.1 0 1,0 -6.2,0M1121.1,894.1a3.1,3.1 0 1,0 6.2,0a3.1,3.1 0 1,0 -6.2,0M1123.3,894.1a3.1,3.1 0 1,0 6.2,0a3.1,3.1 0 1,0 -6.2,0M1125.5,894.0a3.1,3.1 0 1,0 6.2,0a3.1,3.1 0 1,0 -6.2,0M1127.7,893.9a3.1,3.1 0 1,0 6.2,0a3.1,3.1 0 1,0 -6.2,0M1129.9,893.8a3.1,3.1 0 1,0 6.2,0a3.1,3.1 0 1,0 -6.2,0M1132.1,893.7a3.1,3.1 0 1,0 6.2,0a3.1,3.1 0 1,0 -6.2,0M1134.3,893.6a3.1,3.1 0 1,0 6.2,0a3.1,3.1 0 1,0 -6.2,0M1136.5,893.5a3.1,3.1 0 1,0 6.2,0a3.1,3.1 0 1,0 -6.2,0M1138.7,893.4a3.1,3.1 0 1,0 6.2,0a3.1,3.1 0 1,0 -6.2,0M1140.9,893.3a3.1,3.1 0 1,0 6.2,0a3.1,3.1 0 1,0 -6.2,0M1143.1,893.2a3.1,3.1 0 1,0 6.2,0a3.1,3.1 0 1,0 -6.2,0M1145.3,893.2a3.1,3.1 0 1,0 6.2,0a3.1,3.1 0 1,0 -6.2,0M1147.5,893.1a3.1,3.1 0 1,0 6.2,0a3.1,3.1 0 1,0 -6.2,0M1149.7,893.0a3.1,3.1 0 1,0 6.2,0a3.1,3.1 0 1,0 -6.2,0M1151.9,892.9a3.1,3.1 0 1,0 6.2,0a3.1,3.1 0 1,0 -6.2,0M1154.1,892.9a3.1,3.1 0 1,0 6.2,0a3.1,3.1 0 1,0 -6.2,0M1156.3,892.8a3.1,3.1 0 1,0 6.2,0a3.1,3.1 0 1,0 -6.2,0M1158.5,892.8a3.1,3.1 0 1,0 6.2,0a3.1,3.1 0 1,0 -6.2,0M1160.7,892.7a3.1,3.1 0 1,0 6.2,0a3.1,3.1 0 1,0 -6.2,0M1162.9,892.6a3.1,3.1 0 1,0 6.2,0a3.1,3.1 0 1,0 -6.2,0M1165.1,892.4a3.1,3.1 0 1,0 6.2,0a3.1,3.1 0 1,0 -6.2,0M1167.3,892.1a3.1,3.1 0 1,0 6.2,0a3.1,3.1 0 1,0 -6.2,0M1169.5,891.8a3.1,3.1 0 1,0 6.2,0a3.1,3.1 0 1,0 -6.2,0M1171.7,891.4a3.1,3.1 0 1,0 6.2,0a3.1,3.1 0 1,0 -6.2,0M1173.9,890.9a3.1,3.1 0 1,0 6.2,0a3.1,3.1 0 1,0 -6.2,0M1176.1,890.3a3.1,3.1 0 1,0 6.2,0a3.1,3.1 0 1,0 -6.2,0M1178.3,889.8a3.1,3.1 0 1,0 6.2,0a3.1,3.1 0 1,0 -6.2,0M1180.5,889.2a3.1,3.1 0 1,0 6.2,0a3.1,3.1 0 1,0 -6.2,0M1182.7,888.5a3.1,3.1 0 1,0 6.2,0a3.1,3.1 0 1,0 -6.2,0M1184.9,887.8a3.1,3.1 0 1,0 6.2,0a3.1,3.1 0 1,0 -6.2,0M1187.1,887.0a3.1,3.1 0 1,0 6.2,0a3.1,3.1 0 1,0 -6.2,0M1189.3,886.0a3.1,3.1 0 1,0 6.2,0a3.1,3.1 0 1,0 -6.2,0M1191.5,885.0a3.1,3.1 0 1,0 6.2,0a3.1,3.1 0 1,0 -6.2,0M1193.7,883.8a3.1,3.1 0 1,0 6.2,0a3.1,3.1 0 1,0 -6.2,0M1195.9,882.5a3.1,3.1 0 1,0 6.2,0a3.1,3.1 0 1,0 -6.2,0M1198.1,880.7a3.1,3.1 0 1,0 6.2,0a3.1,3.1 0 1,0 -6.2,0M1200.3,878.7a3.1,3.1 0 1,0 6.2,0a3.1,3.1 0 1,0 -6.2,0M1202.5,876.6a3.1,3.1 0 1,0 6.2,0a3.1,3.1 0 1,0 -6.2,0M1204.7,874.6a3.1,3.1 0 1,0 6.2,0a3.1,3.1 0 1,0 -6.2,0M1206.9,872.7a3.1,3.1 0 1,0 6.2,0a3.1,3.1 0 1,0 -6.2,0M1209.1,870.6a3.1,3.1 0 1,0 6.2,0a3.1,3.1 0 1,0 -6.2,0M1211.3,868.5a3.1,3.1 0 1,0 6.2,0a3.1,3.1 0 1,0 -6.2,0M1213.5,866.6a3.1,3.1 0 1,0 6.2,0a3.1,3.1 0 1,0 -6.2,0M1215.7,865.0a3.1,3.1 0 1,0 6.2,0a3.1,3.1 0 1,0 -6.2,0M1217.9,863.7a3.1,3.1 0 1,0 6.2,0a3.1,3.1 0 1,0 -6.2,0M1220.1,862.5a3.1,3.1 0 1,0 6.2,0a3.1,3.1 0 1,0 -6.2,0M1222.3,861.4a3.1,3.1 0 1,0 6.2,0a3.1,3.1 0 1,0 -6.2,0M1224.5,860.5a3.1,3.1 0 1,0 6.2,0a3.1,3.1 0 1,0 -6.2,0M1226.7,859.9a3.1,3.1 0 1,0 6.2,0a3.1,3.1 0 1,0 -6.2,0M1228.9,859.8a3.1,3.1 0 1,0 6.2,0a3.1,3.1 0 1,0 -6.2,0M1231.1,859.9a3.1,3.1 0 1,0 6.2,0a3.1,3.1 0 1,0 -6.2,0M1233.3,860.0a3.1,3.1 0 1,0 6.2,0a3.1,3.1 0 1,0 -6.2,0M1235.5,860.2a3.1,3.1 0 1,0 6.2,0a3.1,3.1 0 1,0 -6.2,0M1237.7,860.5a3.1,3.1 0 1,0 6.2,0a3.1,3.1 0 1,0 -6.2,0M1239.9,861.3a3.1,3.1 0 1,0 6.2,0a3.1,3.1 0 1,0 -6.2,0M1242.1,862.6a3.1,3.1 0 1,0 6.2,0a3.1,3.1 0 1,0 -6.2,0M1244.3,864.1a3.1,3.1 0 1,0 6.2,0a3.1,3.1 0 1,0 -6.2,0M1246.5,865.7a3.1,3.1 0 1,0 6.2,0a3.1,3.1 0 1,0 -6.2,0M1248.7,867.4a3.1,3.1 0 1,0 6.2,0a3.1,3.1 0 1,0 -6.2,0M1250.9,869.5a3.1,3.1 0 1,0 6.2,0a3.1,3.1 0 1,0 -6.2,0M1253.1,871.6a3.1,3.1 0 1,0 6.2,0a3.1,3.1 0 1,0 -6.2,0M1255.3,873.7a3.1,3.1 0 1,0 6.2,0a3.1,3.1 0 1,0 -6.2,0M1257.5,875.7a3.1,3.1 0 1,0 6.2,0a3.1,3.1 0 1,0 -6.2,0M1259.7,877.5a3.1,3.1 0 1,0 6.2,0a3.1,3.1 0 1,0 -6.2,0M1261.9,879.3a3.1,3.1 0 1,0 6.2,0a3.1,3.1 0 1,0 -6.2,0M1264.1,881.0a3.1,3.1 0 1,0 6.2,0a3.1,3.1 0 1,0 -6.2,0M1266.3,882.7a3.1,3.1 0 1,0 6.2,0a3.1,3.1 0 1,0 -6.2,0M1268.5,884.2a3.1,3.1 0 1,0 6.2,0a3.1,3.1 0 1,0 -6.2,0M1270.7,885.6a3.1,3.1 0 1,0 6.2,0a3.1,3.1 0 1,0 -6.2,0M1272.9,886.9a3.1,3.1 0 1,0 6.2,0a3.1,3.1 0 1,0 -6.2,0M1275.1,888.0a3.1,3.1 0 1,0 6.2,0a3.1,3.1 0 1,0 -6.2,0M1277.3,889.1a3.1,3.1 0 1,0 6.2,0a3.1,3.1 0 1,0 -6.2,0M1279.5,890.1a3.1,3.1 0 1,0 6.2,0a3.1,3.1 0 1,0 -6.2,0M1281.7,891.1a3.1,3.1 0 1,0 6.2,0a3.1,3.1 0 1,0 -6.2,0M1283.9,892.0a3.1,3.1 0 1,0 6.2,0a3.1,3.1 0 1,0 -6.2,0M1286.1,892.9a3.1,3.1 0 1,0 6.2,0a3.1,3.1 0 1,0 -6.2,0M1288.3,893.8a3.1,3.1 0 1,0 6.2,0a3.1,3.1 0 1,0 -6.2,0M1290.5,894.6a3.1,3.1 0 1,0 6.2,0a3.1,3.1 0 1,0 -6.2,0M1292.7,895.4a3.1,3.1 0 1,0 6.2,0a3.1,3.1 0 1,0 -6.2,0M1294.9,896.2a3.1,3.1 0 1,0 6.2,0a3.1,3.1 0 1,0 -6.2,0M1297.1,897.0a3.1,3.1 0 1,0 6.2,0a3.1,3.1 0 1,0 -6.2,0M1299.3,897.7a3.1,3.1 0 1,0 6.2,0a3.1,3.1 0 1,0 -6.2,0M1301.5,898.4a3.1,3.1 0 1,0 6.2,0a3.1,3.1 0 1,0 -6.2,0M1303.7,899.0a3.1,3.1 0 1,0 6.2,0a3.1,3.1 0 1,0 -6.2,0M1305.9,899.6a3.1,3.1 0 1,0 6.2,0a3.1,3.1 0 1,0 -6.2,0M1308.1,900.1a3.1,3.1 0 1,0 6.2,0a3.1,3.1 0 1,0 -6.2,0M1310.3,900.7a3.1,3.1 0 1,0 6.2,0a3.1,3.1 0 1,0 -6.2,0M1312.5,901.2a3.1,3.1 0 1,0 6.2,0a3.1,3.1 0 1,0 -6.2,0M1314.7,901.8a3.1,3.1 0 1,0 6.2,0a3.1,3.1 0 1,0 -6.2,0M1316.9,902.3a3.1,3.1 0 1,0 6.2,0a3.1,3.1 0 1,0 -6.2,0M1319.1,902.7a3.1,3.1 0 1,0 6.2,0a3.1,3.1 0 1,0 -6.2,0M1321.3,903.1a3.1,3.1 0 1,0 6.2,0a3.1,3.1 0 1,0 -6.2,0M1323.5,903.4a3.1,3.1 0 1,0 6.2,0a3.1,3.1 0 1,0 -6.2,0M1325.7,903.7a3.1,3.1 0 1,0 6.2,0a3.1,3.1 0 1,0 -6.2,0M1327.9,903.9a3.1,3.1 0 1,0 6.2,0a3.1,3.1 0 1,0 -6.2,0M1330.1,904.0a3.1,3.1 0 1,0 6.2,0a3.1,3.1 0 1,0 -6.2,0M1332.3,904.1a3.1,3.1 0 1,0 6.2,0a3.1,3.1 0 1,0 -6.2,0M1334.5,904.3a3.1,3.1 0 1,0 6.2,0a3.1,3.1 0 1,0 -6.2,0M1336.7,904.4a3.1,3.1 0 1,0 6.2,0a3.1,3.1 0 1,0 -6.2,0M1338.9,904.6a3.1,3.1 0 1,0 6.2,0a3.1,3.1 0 1,0 -6.2,0M1341.1,904.7a3.1,3.1 0 1,0 6.2,0a3.1,3.1 0 1,0 -6.2,0M1343.3,904.9a3.1,3.1 0 1,0 6.2,0a3.1,3.1 0 1,0 -6.2,0M1345.5,905.1a3.1,3.1 0 1,0 6.2,0a3.1,3.1 0 1,0 -6.2,0M1347.7,905.3a3.1,3.1 0 1,0 6.2,0a3.1,3.1 0 1,0 -6.2,0M1349.9,905.6a3.1,3.1 0 1,0 6.2,0a3.1,3.1 0 1,0 -6.2,0M1352.1,905.8a3.1,3.1 0 1,0 6.2,0a3.1,3.1 0 1,0 -6.2,0M1354.3,905.9a3.1,3.1 0 1,0 6.2,0a3.1,3.1 0 1,0 -6.2,0M1356.5,906.1a3.1,3.1 0 1,0 6.2,0a3.1,3.1 0 1,0 -6.2,0M1358.7,906.3a3.1,3.1 0 1,0 6.2,0a3.1,3.1 0 1,0 -6.2,0M1360.9,906.4a3.1,3.1 0 1,0 6.2,0a3.1,3.1 0 1,0 -6.2,0M1363.1,906.5a3.1,3.1 0 1,0 6.2,0a3.1,3.1 0 1,0 -6.2,0M1365.3,906.6a3.1,3.1 0 1,0 6.2,0a3.1,3.1 0 1,0 -6.2,0M1367.5,906.6a3.1,3.1 0 1,0 6.2,0a3.1,3.1 0 1,0 -6.2,0M1369.7,906.6a3.1,3.1 0 1,0 6.2,0a3.1,3.1 0 1,0 -6.2,0M1371.9,906.6a3.1,3.1 0 1,0 6.2,0a3.1,3.1 0 1,0 -6.2,0M1374.1,906.5a3.1,3.1 0 1,0 6.2,0a3.1,3.1 0 1,0 -6.2,0M1376.3,906.4a3.1,3.1 0 1,0 6.2,0a3.1,3.1 0 1,0 -6.2,0M1378.5,906.4a3.1,3.1 0 1,0 6.2,0a3.1,3.1 0 1,0 -6.2,0M1380.7,906.2a3.1,3.1 0 1,0 6.2,0a3.1,3.1 0 1,0 -6.2,0M1382.9,906.1a3.1,3.1 0 1,0 6.2,0a3.1,3.1 0 1,0 -6.2,0M1385.1,906.0a3.1,3.1 0 1,0 6.2,0a3.1,3.1 0 1,0 -6.2,0M1387.3,905.8a3.1,3.1 0 1,0 6.2,0a3.1,3.1 0 1,0 -6.2,0M1389.5,905.7a3.1,3.1 0 1,0 6.2,0a3.1,3.1 0 1,0 -6.2,0M1391.7,905.5a3.1,3.1 0 1,0 6.2,0a3.1,3.1 0 1,0 -6.2,0M1393.9,905.3a3.1,3.1 0 1,0 6.2,0a3.1,3.1 0 1,0 -6.2,0M1396.1,905.1a3.1,3.1 0 1,0 6.2,0a3.1,3.1 0 1,0 -6.2,0M1398.3,904.9a3.1,3.1 0 1,0 6.2,0a3.1,3.1 0 1,0 -6.2,0M1400.5,904.7a3.1,3.1 0 1,0 6.2,0a3.1,3.1 0 1,0 -6.2,0M1402.7,904.5a3.1,3.1 0 1,0 6.2,0a3.1,3.1 0 1,0 -6.2,0M1404.9,904.3a3.1,3.1 0 1,0 6.2,0a3.1,3.1 0 1,0 -6.2,0M1407.1,904.1a3.1,3.1 0 1,0 6.2,0a3.1,3.1 0 1,0 -6.2,0M1409.3,903.9a3.1,3.1 0 1,0 6.2,0a3.1,3.1 0 1,0 -6.2,0M1411.5,903.7a3.1,3.1 0 1,0 6.2,0a3.1,3.1 0 1,0 -6.2,0M1413.7,903.4a3.1,3.1 0 1,0 6.2,0a3.1,3.1 0 1,0 -6.2,0M1415.9,903.1a3.1,3.1 0 1,0 6.2,0a3.1,3.1 0 1,0 -6.2,0M1418.1,902.8a3.1,3.1 0 1,0 6.2,0a3.1,3.1 0 1,0 -6.2,0M1420.3,902.5a3.1,3.1 0 1,0 6.2,0a3.1,3.1 0 1,0 -6.2,0M1422.5,902.1a3.1,3.1 0 1,0 6.2,0a3.1,3.1 0 1,0 -6.2,0M1424.7,901.7a3.1,3.1 0 1,0 6.2,0a3.1,3.1 0 1,0 -6.2,0M1426.9,901.3a3.1,3.1 0 1,0 6.2,0a3.1,3.1 0 1,0 -6.2,0M1429.1,900.8a3.1,3.1 0 1,0 6.2,0a3.1,3.1 0 1,0 -6.2,0M1431.3,900.4a3.1,3.1 0 1,0 6.2,0a3.1,3.1 0 1,0 -6.2,0M1433.5,899.9a3.1,3.1 0 1,0 6.2,0a3.1,3.1 0 1,0 -6.2,0M1435.7,899.3a3.1,3.1 0 1,0 6.2,0a3.1,3.1 0 1,0 -6.2,0M1437.9,898.8a3.1,3.1 0 1,0 6.2,0a3.1,3.1 0 1,0 -6.2,0M1440.1,898.2a3.1,3.1 0 1,0 6.2,0a3.1,3.1 0 1,0 -6.2,0M1442.3,897.5a3.1,3.1 0 1,0 6.2,0a3.1,3.1 0 1,0 -6.2,0M1444.5,896.6a3.1,3.1 0 1,0 6.2,0a3.1,3.1 0 1,0 -6.2,0M1446.7,895.7a3.1,3.1 0 1,0 6.2,0a3.1,3.1 0 1,0 -6.2,0M1448.9,894.6a3.1,3.1 0 1,0 6.2,0a3.1,3.1 0 1,0 -6.2,0M1451.1,893.5a3.1,3.1 0 1,0 6.2,0a3.1,3.1 0 1,0 -6.2,0M1453.3,892.2a3.1,3.1 0 1,0 6.2,0a3.1,3.1 0 1,0 -6.2,0M1455.5,890.9a3.1,3.1 0 1,0 6.2,0a3.1,3.1 0 1,0 -6.2,0M1457.7,889.6a3.1,3.1 0 1,0 6.2,0a3.1,3.1 0 1,0 -6.2,0M1459.9,888.2a3.1,3.1 0 1,0 6.2,0a3.1,3.1 0 1,0 -6.2,0M1462.1,886.8a3.1,3.1 0 1,0 6.2,0a3.1,3.1 0 1,0 -6.2,0M1464.3,885.3a3.1,3.1 0 1,0 6.2,0a3.1,3.1 0 1,0 -6.2,0M1466.5,883.9a3.1,3.1 0 1,0 6.2,0a3.1,3.1 0 1,0 -6.2,0M1468.7,882.5a3.1,3.1 0 1,0 6.2,0a3.1,3.1 0 1,0 -6.2,0M1470.9,881.1a3.1,3.1 0 1,0 6.2,0a3.1,3.1 0 1,0 -6.2,0M1473.1,879.6a3.1,3.1 0 1,0 6.2,0a3.1,3.1 0 1,0 -6.2,0M1475.3,878.0a3.1,3.1 0 1,0 6.2,0a3.1,3.1 0 1,0 -6.2,0M1477.5,876.4a3.1,3.1 0 1,0 6.2,0a3.1,3.1 0 1,0 -6.2,0M1479.7,874.6a3.1,3.1 0 1,0 6.2,0a3.1,3.1 0 1,0 -6.2,0M1481.9,872.9a3.1,3.1 0 1,0 6.2,0a3.1,3.1 0 1,0 -6.2,0M1484.1,871.1a3.1,3.1 0 1,0 6.2,0a3.1,3.1 0 1,0 -6.2,0M1486.3,869.5a3.1,3.1 0 1,0 6.2,0a3.1,3.1 0 1,0 -6.2,0M1488.5,867.9a3.1,3.1 0 1,0 6.2,0a3.1,3.1 0 1,0 -6.2,0M1490.7,866.6a3.1,3.1 0 1,0 6.2,0a3.1,3.1 0 1,0 -6.2,0M1492.9,865.3a3.1,3.1 0 1,0 6.2,0a3.1,3.1 0 1,0 -6.2,0M1495.1,864.2a3.1,3.1 0 1,0 6.2,0a3.1,3.1 0 1,0 -6.2,0M1497.3,863.0a3.1,3.1 0 1,0 6.2,0a3.1,3.1 0 1,0 -6.2,0M1499.5,861.9a3.1,3.1 0 1,0 6.2,0a3.1,3.1 0 1,0 -6.2,0M1501.7,860.8a3.1,3.1 0 1,0 6.2,0a3.1,3.1 0 1,0 -6.2,0M1503.9,860.0a3.1,3.1 0 1,0 6.2,0a3.1,3.1 0 1,0 -6.2,0M1506.1,859.4a3.1,3.1 0 1,0 6.2,0a3.1,3.1 0 1,0 -6.2,0M1508.3,859.2a3.1,3.1 0 1,0 6.2,0a3.1,3.1 0 1,0 -6.2,0M1510.5,859.3a3.1,3.1 0 1,0 6.2,0a3.1,3.1 0 1,0 -6.2,0M1512.7,859.7a3.1,3.1 0 1,0 6.2,0a3.1,3.1 0 1,0 -6.2,0M1514.9,860.2a3.1,3.1 0 1,0 6.2,0a3.1,3.1 0 1,0 -6.2,0M1517.1,860.9a3.1,3.1 0 1,0 6.2,0a3.1,3.1 0 1,0 -6.2,0M1519.3,861.7a3.1,3.1 0 1,0 6.2,0a3.1,3.1 0 1,0 -6.2,0M1521.5,862.5a3.1,3.1 0 1,0 6.2,0a3.1,3.1 0 1,0 -6.2,0M1523.7,863.5a3.1,3.1 0 1,0 6.2,0a3.1,3.1 0 1,0 -6.2,0M1525.9,864.8a3.1,3.1 0 1,0 6.2,0a3.1,3.1 0 1,0 -6.2,0M1528.1,866.3a3.1,3.1 0 1,0 6.2,0a3.1,3.1 0 1,0 -6.2,0M1530.3,868.0a3.1,3.1 0 1,0 6.2,0a3.1,3.1 0 1,0 -6.2,0M1532.5,869.8a3.1,3.1 0 1,0 6.2,0a3.1,3.1 0 1,0 -6.2,0M1534.7,871.7a3.1,3.1 0 1,0 6.2,0a3.1,3.1 0 1,0 -6.2,0M1536.9,873.5a3.1,3.1 0 1,0 6.2,0a3.1,3.1 0 1,0 -6.2,0M1539.1,875.3a3.1,3.1 0 1,0 6.2,0a3.1,3.1 0 1,0 -6.2,0M1541.3,876.9a3.1,3.1 0 1,0 6.2,0a3.1,3.1 0 1,0 -6.2,0M1543.5,878.4a3.1,3.1 0 1,0 6.2,0a3.1,3.1 0 1,0 -6.2,0M1545.7,879.8a3.1,3.1 0 1,0 6.2,0a3.1,3.1 0 1,0 -6.2,0M1547.9,881.1a3.1,3.1 0 1,0 6.2,0a3.1,3.1 0 1,0 -6.2,0M1550.1,882.5a3.1,3.1 0 1,0 6.2,0a3.1,3.1 0 1,0 -6.2,0M1552.3,883.8a3.1,3.1 0 1,0 6.2,0a3.1,3.1 0 1,0 -6.2,0M1554.5,885.1a3.1,3.1 0 1,0 6.2,0a3.1,3.1 0 1,0 -6.2,0M1556.7,886.3a3.1,3.1 0 1,0 6.2,0a3.1,3.1 0 1,0 -6.2,0M1558.9,887.5a3.1,3.1 0 1,0 6.2,0a3.1,3.1 0 1,0 -6.2,0M1561.1,888.7a3.1,3.1 0 1,0 6.2,0a3.1,3.1 0 1,0 -6.2,0M1563.3,889.8a3.1,3.1 0 1,0 6.2,0a3.1,3.1 0 1,0 -6.2,0M1565.5,890.8a3.1,3.1 0 1,0 6.2,0a3.1,3.1 0 1,0 -6.2,0M1567.7,891.8a3.1,3.1 0 1,0 6.2,0a3.1,3.1 0 1,0 -6.2,0M1569.9,892.7a3.1,3.1 0 1,0 6.2,0a3.1,3.1 0 1,0 -6.2,0M1572.1,893.6a3.1,3.1 0 1,0 6.2,0a3.1,3.1 0 1,0 -6.2,0M1574.3,894.5a3.1,3.1 0 1,0 6.2,0a3.1,3.1 0 1,0 -6.2,0M1576.5,895.4a3.1,3.1 0 1,0 6.2,0a3.1,3.1 0 1,0 -6.2,0M1578.7,896.3a3.1,3.1 0 1,0 6.2,0a3.1,3.1 0 1,0 -6.2,0M1580.9,897.1a3.1,3.1 0 1,0 6.2,0a3.1,3.1 0 1,0 -6.2,0M1583.1,897.9a3.1,3.1 0 1,0 6.2,0a3.1,3.1 0 1,0 -6.2,0M1585.3,898.7a3.1,3.1 0 1,0 6.2,0a3.1,3.1 0 1,0 -6.2,0M1587.5,899.4a3.1,3.1 0 1,0 6.2,0a3.1,3.1 0 1,0 -6.2,0M1589.7,900.1a3.1,3.1 0 1,0 6.2,0a3.1,3.1 0 1,0 -6.2,0M1591.9,900.8a3.1,3.1 0 1,0 6.2,0a3.1,3.1 0 1,0 -6.2,0M1594.1,901.5a3.1,3.1 0 1,0 6.2,0a3.1,3.1 0 1,0 -6.2,0M1596.3,902.1a3.1,3.1 0 1,0 6.2,0a3.1,3.1 0 1,0 -6.2,0M1598.5,902.7a3.1,3.1 0 1,0 6.2,0a3.1,3.1 0 1,0 -6.2,0M1600.7,903.3a3.1,3.1 0 1,0 6.2,0a3.1,3.1 0 1,0 -6.2,0M1602.9,903.9a3.1,3.1 0 1,0 6.2,0a3.1,3.1 0 1,0 -6.2,0M1605.1,904.5a3.1,3.1 0 1,0 6.2,0a3.1,3.1 0 1,0 -6.2,0M1607.3,905.1a3.1,3.1 0 1,0 6.2,0a3.1,3.1 0 1,0 -6.2,0M1609.5,905.6a3.1,3.1 0 1,0 6.2,0a3.1,3.1 0 1,0 -6.2,0M1611.7,906.1a3.1,3.1 0 1,0 6.2,0a3.1,3.1 0 1,0 -6.2,0M1613.9,906.6a3.1,3.1 0 1,0 6.2,0a3.1,3.1 0 1,0 -6.2,0M1616.1,907.1a3.1,3.1 0 1,0 6.2,0a3.1,3.1 0 1,0 -6.2,0M1618.3,907.6a3.1,3.1 0 1,0 6.2,0a3.1,3.1 0 1,0 -6.2,0M1620.5,908.0a3.1,3.1 0 1,0 6.2,0a3.1,3.1 0 1,0 -6.2,0M1622.7,908.4a3.1,3.1 0 1,0 6.2,0a3.1,3.1 0 1,0 -6.2,0M1624.9,908.9a3.1,3.1 0 1,0 6.2,0a3.1,3.1 0 1,0 -6.2,0M1627.1,909.2a3.1,3.1 0 1,0 6.2,0a3.1,3.1 0 1,0 -6.2,0M1629.3,909.6a3.1,3.1 0 1,0 6.2,0a3.1,3.1 0 1,0 -6.2,0M1631.5,910.0a3.1,3.1 0 1,0 6.2,0a3.1,3.1 0 1,0 -6.2,0M1633.7,910.3a3.1,3.1 0 1,0 6.2,0a3.1,3.1 0 1,0 -6.2,0M1635.9,910.6a3.1,3.1 0 1,0 6.2,0a3.1,3.1 0 1,0 -6.2,0M1638.1,910.9a3.1,3.1 0 1,0 6.2,0a3.1,3.1 0 1,0 -6.2,0M1640.3,911.3a3.1,3.1 0 1,0 6.2,0a3.1,3.1 0 1,0 -6.2,0M1642.5,911.6a3.1,3.1 0 1,0 6.2,0a3.1,3.1 0 1,0 -6.2,0M1644.7,911.8a3.1,3.1 0 1,0 6.2,0a3.1,3.1 0 1,0 -6.2,0M1646.9,912.1a3.1,3.1 0 1,0 6.2,0a3.1,3.1 0 1,0 -6.2,0M1649.1,912.4a3.1,3.1 0 1,0 6.2,0a3.1,3.1 0 1,0 -6.2,0M1651.3,912.6a3.1,3.1 0 1,0 6.2,0a3.1,3.1 0 1,0 -6.2,0M1653.5,912.9a3.1,3.1 0 1,0 6.2,0a3.1,3.1 0 1,0 -6.2,0M1655.7,913.1a3.1,3.1 0 1,0 6.2,0a3.1,3.1 0 1,0 -6.2,0M1657.9,913.3a3.1,3.1 0 1,0 6.2,0a3.1,3.1 0 1,0 -6.2,0M1660.1,913.5a3.1,3.1 0 1,0 6.2,0a3.1,3.1 0 1,0 -6.2,0M1662.3,913.7a3.1,3.1 0 1,0 6.2,0a3.1,3.1 0 1,0 -6.2,0M1664.5,913.9a3.1,3.1 0 1,0 6.2,0a3.1,3.1 0 1,0 -6.2,0M1666.7,914.1a3.1,3.1 0 1,0 6.2,0a3.1,3.1 0 1,0 -6.2,0M1668.9,914.3a3.1,3.1 0 1,0 6.2,0a3.1,3.1 0 1,0 -6.2,0M1671.1,914.4a3.1,3.1 0 1,0 6.2,0a3.1,3.1 0 1,0 -6.2,0M1673.3,914.6a3.1,3.1 0 1,0 6.2,0a3.1,3.1 0 1,0 -6.2,0M1675.5,914.8a3.1,3.1 0 1,0 6.2,0a3.1,3.1 0 1,0 -6.2,0M1677.7,914.9a3.1,3.1 0 1,0 6.2,0a3.1,3.1 0 1,0 -6.2,0M1679.9,915.1a3.1,3.1 0 1,0 6.2,0a3.1,3.1 0 1,0 -6.2,0M1682.1,915.2a3.1,3.1 0 1,0 6.2,0a3.1,3.1 0 1,0 -6.2,0M1684.3,915.4a3.1,3.1 0 1,0 6.2,0a3.1,3.1 0 1,0 -6.2,0M1686.5,915.5a3.1,3.1 0 1,0 6.2,0a3.1,3.1 0 1,0 -6.2,0M1688.7,915.7a3.1,3.1 0 1,0 6.2,0a3.1,3.1 0 1,0 -6.2,0M1690.9,915.8a3.1,3.1 0 1,0 6.2,0a3.1,3.1 0 1,0 -6.2,0M1693.1,915.9a3.1,3.1 0 1,0 6.2,0a3.1,3.1 0 1,0 -6.2,0M1695.3,916.0a3.1,3.1 0 1,0 6.2,0a3.1,3.1 0 1,0 -6.2,0M1697.5,916.1a3.1,3.1 0 1,0 6.2,0a3.1,3.1 0 1,0 -6.2,0M1699.7,916.2a3.1,3.1 0 1,0 6.2,0a3.1,3.1 0 1,0 -6.2,0M1701.9,916.3a3.1,3.1 0 1,0 6.2,0a3.1,3.1 0 1,0 -6.2,0M1704.1,916.4a3.1,3.1 0 1,0 6.2,0a3.1,3.1 0 1,0 -6.2,0M1706.3,916.5a3.1,3.1 0 1,0 6.2,0a3.1,3.1 0 1,0 -6.2,0M1708.5,916.6a3.1,3.1 0 1,0 6.2,0a3.1,3.1 0 1,0 -6.2,0M1710.7,916.7a3.1,3.1 0 1,0 6.2,0a3.1,3.1 0 1,0 -6.2,0M1712.9,916.8a3.1,3.1 0 1,0 6.2,0a3.1,3.1 0 1,0 -6.2,0M1715.1,916.8a3.1,3.1 0 1,0 6.2,0a3.1,3.1 0 1,0 -6.2,0M1717.3,916.9a3.1,3.1 0 1,0 6.2,0a3.1,3.1 0 1,0 -6.2,0M1719.5,917.0a3.1,3.1 0 1,0 6.2,0a3.1,3.1 0 1,0 -6.2,0M1721.7,917.1a3.1,3.1 0 1,0 6.2,0a3.1,3.1 0 1,0 -6.2,0M1723.9,917.1a3.1,3.1 0 1,0 6.2,0a3.1,3.1 0 1,0 -6.2,0M1726.1,917.2a3.1,3.1 0 1,0 6.2,0a3.1,3.1 0 1,0 -6.2,0M1728.3,917.3a3.1,3.1 0 1,0 6.2,0a3.1,3.1 0 1,0 -6.2,0M1730.5,917.3a3.1,3.1 0 1,0 6.2,0a3.1,3.1 0 1,0 -6.2,0M1732.7,917.4a3.1,3.1 0 1,0 6.2,0a3.1,3.1 0 1,0 -6.2,0M1734.9,917.5a3.1,3.1 0 1,0 6.2,0a3.1,3.1 0 1,0 -6.2,0M1737.1,917.5a3.1,3.1 0 1,0 6.2,0a3.1,3.1 0 1,0 -6.2,0M1739.3,917.6a3.1,3.1 0 1,0 6.2,0a3.1,3.1 0 1,0 -6.2,0M1741.5,917.6a3.1,3.1 0 1,0 6.2,0a3.1,3.1 0 1,0 -6.2,0M1743.7,917.6a3.1,3.1 0 1,0 6.2,0a3.1,3.1 0 1,0 -6.2,0M1745.9,917.7a3.1,3.1 0 1,0 6.2,0a3.1,3.1 0 1,0 -6.2,0M1748.1,917.7a3.1,3.1 0 1,0 6.2,0a3.1,3.1 0 1,0 -6.2,0M1750.3,917.7a3.1,3.1 0 1,0 6.2,0a3.1,3.1 0 1,0 -6.2,0M1752.5,917.7a3.1,3.1 0 1,0 6.2,0a3.1,3.1 0 1,0 -6.2,0M1754.7,917.7a3.1,3.1 0 1,0 6.2,0a3.1,3.1 0 1,0 -6.2,0M1756.9,917.7a3.1,3.1 0 1,0 6.2,0a3.1,3.1 0 1,0 -6.2,0M1759.1,917.7a3.1,3.1 0 1,0 6.2,0a3.1,3.1 0 1,0 -6.2,0M1761.3,917.7a3.1,3.1 0 1,0 6.2,0a3.1,3.1 0 1,0 -6.2,0M1763.5,917.7a3.1,3.1 0 1,0 6.2,0a3.1,3.1 0 1,0 -6.2,0M1765.7,917.7a3.1,3.1 0 1,0 6.2,0a3.1,3.1 0 1,0 -6.2,0M1767.9,917.7a3.1,3.1 0 1,0 6.2,0a3.1,3.1 0 1,0 -6.2,0M1770.1,917.7a3.1,3.1 0 1,0 6.2,0a3.1,3.1 0 1,0 -6.2,0M1772.3,917.7a3.1,3.1 0 1,0 6.2,0a3.1,3.1 0 1,0 -6.2,0M1774.5,917.7a3.1,3.1 0 1,0 6.2,0a3.1,3.1 0 1,0 -6.2,0M1776.7,917.7a3.1,3.1 0 1,0 6.2,0a3.1,3.1 0 1,0 -6.2,0M1778.9,917.7a3.1,3.1 0 1,0 6.2,0a3.1,3.1 0 1,0 -6.2,0M1781.1,917.7a3.1,3.1 0 1,0 6.2,0a3.1,3.1 0 1,0 -6.2,0M1783.3,917.7a3.1,3.1 0 1,0 6.2,0a3.1,3.1 0 1,0 -6.2,0M1785.5,917.7a3.1,3.1 0 1,0 6.2,0a3.1,3.1 0 1,0 -6.2,0M1787.7,917.7a3.1,3.1 0 1,0 6.2,0a3.1,3.1 0 1,0 -6.2,0M1789.9,917.7a3.1,3.1 0 1,0 6.2,0a3.1,3.1 0 1,0 -6.2,0M1792.1,917.7a3.1,3.1 0 1,0 6.2,0a3.1,3.1 0 1,0 -6.2,0M1794.3,917.7a3.1,3.1 0 1,0 6.2,0a3.1,3.1 0 1,0 -6.2,0M1796.5,917.7a3.1,3.1 0 1,0 6.2,0a3.1,3.1 0 1,0 -6.2,0M1798.7,917.7a3.1,3.1 0 1,0 6.2,0a3.1,3.1 0 1,0 -6.2,0M1800.9,917.7a3.1,3.1 0 1,0 6.2,0a3.1,3.1 0 1,0 -6.2,0M1803.1,917.7a3.1,3.1 0 1,0 6.2,0a3.1,3.1 0 1,0 -6.2,0M1805.3,917.7a3.1,3.1 0 1,0 6.2,0a3.1,3.1 0 1,0 -6.2,0M1807.5,917.7a3.1,3.1 0 1,0 6.2,0a3.1,3.1 0 1,0 -6.2,0M1809.7,917.7a3.1,3.1 0 1,0 6.2,0a3.1,3.1 0 1,0 -6.2,0M1811.9,917.7a3.1,3.1 0 1,0 6.2,0a3.1,3.1 0 1,0 -6.2,0M1814.1,917.7a3.1,3.1 0 1,0 6.2,0a3.1,3.1 0 1,0 -6.2,0M1816.3,917.7a3.1,3.1 0 1,0 6.2,0a3.1,3.1 0 1,0 -6.2,0M1818.5,917.7a3.1,3.1 0 1,0 6.2,0a3.1,3.1 0 1,0 -6.2,0M1820.7,917.7a3.1,3.1 0 1,0 6.2,0a3.1,3.1 0 1,0 -6.2,0M1822.9,917.7a3.1,3.1 0 1,0 6.2,0a3.1,3.1 0 1,0 -6.2,0M1825.1,917.7a3.1,3.1 0 1,0 6.2,0a3.1,3.1 0 1,0 -6.2,0M1827.3,917.7a3.1,3.1 0 1,0 6.2,0a3.1,3.1 0 1,0 -6.2,0M1829.5,917.7a3.1,3.1 0 1,0 6.2,0a3.1,3.1 0 1,0 -6.2,0M1831.7,917.7a3.1,3.1 0 1,0 6.2,0a3.1,3.1 0 1,0 -6.2,0M1833.9,917.7a3.1,3.1 0 1,0 6.2,0a3.1,3.1 0 1,0 -6.2,0M1836.1,917.7a3.1,3.1 0 1,0 6.2,0a3.1,3.1 0 1,0 -6.2,0M1838.3,917.7a3.1,3.1 0 1,0 6.2,0a3.1,3.1 0 1,0 -6.2,0M1840.5,917.7a3.1,3.1 0 1,0 6.2,0a3.1,3.1 0 1,0 -6.2,0M1842.7,917.7a3.1,3.1 0 1,0 6.2,0a3.1,3.1 0 1,0 -6.2,0M1844.9,917.7a3.1,3.1 0 1,0 6.2,0a3.1,3.1 0 1,0 -6.2,0M1847.1,917.7a3.1,3.1 0 1,0 6.2,0a3.1,3.1 0 1,0 -6.2,0M1849.3,917.7a3.1,3.1 0 1,0 6.2,0a3.1,3.1 0 1,0 -6.2,0M1851.5,917.7a3.1,3.1 0 1,0 6.2,0a3.1,3.1 0 1,0 -6.2,0M1853.7,917.7a3.1,3.1 0 1,0 6.2,0a3.1,3.1 0 1,0 -6.2,0M1855.9,917.7a3.1,3.1 0 1,0 6.2,0a3.1,3.1 0 1,0 -6.2,0M1858.1,917.7a3.1,3.1 0 1,0 6.2,0a3.1,3.1 0 1,0 -6.2,0M1860.3,917.7a3.1,3.1 0 1,0 6.2,0a3.1,3.1 0 1,0 -6.2,0M1862.5,917.7a3.1,3.1 0 1,0 6.2,0a3.1,3.1 0 1,0 -6.2,0M1864.7,917.7a3.1,3.1 0 1,0 6.2,0a3.1,3.1 0 1,0 -6.2,0M1866.9,917.7a3.1,3.1 0 1,0 6.2,0a3.1,3.1 0 1,0 -6.2,0M1869.1,917.7a3.1,3.1 0 1,0 6.2,0a3.1,3.1 0 1,0 -6.2,0M1871.3,917.7a3.1,3.1 0 1,0 6.2,0a3.1,3.1 0 1,0 -6.2,0M1873.5,917.7a3.1,3.1 0 1,0 6.2,0a3.1,3.1 0 1,0 -6.2,0" fill="#1c1c98" stroke="#000080" stroke-width="1.4"/>
<path d="M208.5,1311.0 L210.7,1310.8 L212.9,1310.7 L215.1,1310.5 L217.3,1310.4 L219.5,1310.2 L221.7,1310.1 L223.9,1310.0 L226.1,1309.9 L228.3,1309.8 L230.5,1309.7 L232.7,1309.6 L234.9,1309.5 L237.1,1309.4 L239.3,1309.3 L241.5,1309.3 L243.7,1309.2 L245.9,1309.2 L248.1,1309.1 L250.3,1309.1 L252.5,1309.1 L254.7,1309.0 L256.9,1309.0 L259.1,1309.0 L261.3,1309.0 L263.5,1309.0 L265.7,1309.0 L267.9,1309.1 L270.1,1309.1 L272.3,1309.2 L274.5,1309.3 L276.7,1309.4 L278.9,1309.5 L281.1,1309.6 L283.3,1309.7 L285.5,1309.9 L287.7,1310.0 L289.9,1310.1 L292.1,1310.1 L294.3,1310.2 L296.5,1310.3 L298.7,1310.3 L300.9,1310.3 L303.1,1310.2 L305.3,1310.1 L307.5,1309.9 L309.7,1309.7 L311.9,1309.4 L314.1,1309.1 L316.3,1308.8 L318.5,1308.5 L320.7,1308.1 L322.9,1307.7 L325.1,1307.2 L327.3,1306.7 L329.5,1306.2 L331.7,1305.5 L333.9,1304.8 L336.1,1304.1 L338.3,1303.3 L340.5,1302.3 L342.7,1301.2 L344.9,1300.0 L347.1,1298.6 L349.3,1297.1 L351.5,1295.5 L353.7,1293.7 L355.9,1291.9 L358.1,1289.8 L360.3,1287.3 L362.5,1284.5 L364.7,1281.3 L366.9,1277.5 L369.1,1272.2 L371.3,1264.9 L373.5,1257.6 L375.7,1250.6 L377.9,1237.9 L380.1,1225.7 L382.3,1209.9 L384.5,1189.8 L386.7,1162.5 L388.9,1129.2 L391.1,1099.7 L393.3,1070.1 L395.5,1037.8 L397.7,1007.8 L399.9,979.3 L402.1,961.5 L404.3,950.7 L406.5,944.0 L408.7,941.9 L410.9,944.1 L413.1,949.6 L415.3,966.2 L417.5,982.8 L419.7,1008.4 L421.9,1036.0 L424.1,1070.8 L426.3,1107.5 L428.5,1138.5 L430.7,1169.5 L432.9,1194.5 L435.1,1215.1 L437.3,1233.7 L439.5,1245.6 L441.7,1254.4 L443.9,1265.3 L446.1,1271.8 L448.3,1276.6 L450.5,1280.8 L452.7,1284.4 L454.9,1287.4 L457.1,1289.9 L459.3,1292.2 L461.5,1294.3 L463.7,1296.2 L465.9,1297.8 L468.1,1299.2 L470.3,1300.3 L472.5,1301.4 L474.7,1302.3 L476.9,1303.2 L479.1,1304.0 L481.3,1304.7 L483.5,1305.4 L485.7,1306.1 L487.9,1306.9 L490.1,1307.6 L492.3,1308.2 L494.5,1308.8 L496.7,1309.2 L498.9,1309.5 L501.1,1309.5 L503.3,1309.3 L505.5,1309.0 L507.7,1308.6 L509.9,1308.2 L512.1,1307.7 L514.3,1307.4 L516.5,1307.1 L518.7,1306.9 L520.9,1306.8 L523.1,1306.7 L525.3,1306.6 L527.5,1306.6 L529.7,1306.5 L531.9,1306.4 L534.1,1306.4 L536.3,1306.4 L538.5,1306.5 L540.7,1306.8 L542.9,1307.2 L545.1,1307.8 L547.3,1308.4 L549.5,1309.0 L551.7,1309.5 L553.9,1310.0 L556.1,1310.3 L558.3,1310.6 L560.5,1310.9 L562.7,1311.2 L564.9,1311.5 L567.1,1311.8 L569.3,1312.1 L571.5,1312.3 L573.7,1312.6 L575.9,1312.8 L578.1,1313.0 L580.3,1313.1 L582.5,1313.2 L584.7,1313.3 L586.9,1313.3 L589.1,1313.3 L591.3,1313.2 L593.5,1313.1 L595.7,1312.9 L597.9,1312.7 L600.1,1312.5 L602.3,1312.3 L604.5,1312.2 L606.7,1312.0 L608.9,1311.8 L611.1,1311.6 L613.3,1311.5 L615.5,1311.4 L617.7,1311.4 L619.9,1311.4 L622.1,1311.5 L624.3,1311.6 L626.5,1311.7 L628.7,1311.8 L630.9,1312.0 L633.1,1312.1 L635.3,1312.2 L637.5,1312.3 L639.7,1312.3 L641.9,1312.4 L644.1,1312.4 L646.3,1312.4 L648.5,1312.5 L650.7,1312.5 L652.9,1312.6 L655.1,1312.6 L657.3,1312.6 L659.5,1312.7 L661.7,1312.7 L663.9,1312.7 L666.1,1312.7 L668.3,1312.8 L670.5,1312.8 L672.7,1312.8 L674.9,1312.9 L677.1,1312.9 L679.3,1312.9 L681.5,1312.9 L683.7,1312.9 L685.9,1312.9 L688.1,1313.0 L690.3,1313.0 L692.5,1313.0 L694.7,1313.0 L696.9,1313.0 L699.1,1313.0 L701.3,1313.0 L703.5,1313.0 L705.7,1313.0 L707.9,1313.0 L710.1,1313.0 L712.3,1312.9 L714.5,1312.9 L716.7,1312.9 L718.9,1312.8 L721.1,1312.8 L723.3,1312.7 L725.5,1312.7 L727.7,1312.6 L729.9,1312.6 L732.1,1312.5 L734.3,1312.5 L736.5,1312.4 L738.7,1312.3 L740.9,1312.3 L743.1,1312.2 L745.3,1312.1 L747.5,1312.1 L749.7,1312.0 L751.9,1311.9 L754.1,1311.9 L756.3,1311.8 L758.5,1311.7 L760.7,1311.6 L762.9,1311.5 L765.1,1311.4 L767.3,1311.3 L769.5,1311.2 L771.7,1311.0 L773.9,1310.9 L776.1,1310.8 L778.3,1310.7 L780.5,1310.6 L782.7,1310.5 L784.9,1310.4 L787.1,1310.4 L789.3,1310.3 L791.5,1310.2 L793.7,1310.2 L795.9,1310.2 L798.1,1310.1 L800.3,1310.1 L802.5,1310.1 L804.7,1310.1 L806.9,1310.0 L809.1,1310.0 L811.3,1310.0 L813.5,1310.0 L815.7,1310.0 L817.9,1310.0 L820.1,1309.9 L822.3,1309.9 L824.5,1309.9 L826.7,1309.9 L828.9,1309.9 L831.1,1309.9 L833.3,1309.9 L835.5,1309.9 L837.7,1309.9 L839.9,1309.8 L842.1,1309.8 L844.3,1309.8 L846.5,1309.8 L848.7,1309.8 L850.9,1309.8 L853.1,1309.8 L855.3,1309.8 L857.5,1309.8 L859.7,1309.7 L861.9,1309.7 L864.1,1309.7 L866.3,1309.7 L868.5,1309.7 L870.7,1309.6 L872.9,1309.6 L875.1,1309.6 L877.3,1309.6 L879.5,1309.5 L881.7,1309.5 L883.9,1309.5 L886.1,1309.4 L888.3,1309.4 L890.5,1309.3 L892.7,1309.2 L894.9,1308.9 L897.1,1308.7 L899.3,1308.4 L901.5,1308.0 L903.7,1307.6 L905.9,1307.2 L908.1,1306.7 L910.3,1306.2 L912.5,1305.7 L914.7,1305.2 L916.9,1304.7 L919.1,1304.1 L921.3,1303.6 L923.5,1303.1 L925.7,1302.6 L927.9,1302.0 L930.1,1301.4 L932.3,1300.8 L934.5,1300.1 L936.7,1299.4 L938.9,1298.6 L941.1,1297.8 L943.3,1297.0 L945.5,1296.2 L947.7,1295.5 L949.9,1294.7 L952.1,1293.9 L954.3,1293.2 L956.5,1292.5 L958.7,1291.8 L960.9,1291.2 L963.1,1290.6 L965.3,1290.1 L967.5,1289.5 L969.7,1288.9 L971.9,1288.5 L974.1,1288.3 L976.3,1288.4 L978.5,1288.8 L980.7,1289.4 L982.9,1290.3 L985.1,1291.3 L987.3,1292.3 L989.5,1293.5 L991.7,1294.7 L993.9,1295.9 L996.1,1297.0 L998.3,1297.9 L1000.5,1298.8 L1002.7,1299.5 L1004.9,1300.3 L1007.1,1301.1 L1009.3,1301.9 L1011.5,1302.7 L1013.7,1303.6 L1015.9,1304.3 L1018.1,1305.1 L1020.3,1305.9 L1022.5,1306.5 L1024.7,1307.2 L1026.9,1307.8 L1029.1,1308.3 L1031.3,1308.7 L1033.5,1309.0 L1035.7,1309.3 L1037.9,1309.4 L1040.1,1309.4 L1042.3,1309.5 L1044.5,1309.5 L1046.7,1309.6 L1048.9,1309.6 L1051.1,1309.7 L1053.3,1309.7 L1055.5,1309.7 L1057.7,1309.8 L1059.9,1309.8 L1062.1,1309.8 L1064.3,1309.9 L1066.5,1309.9 L1068.7,1309.9 L1070.9,1310.0 L1073.1,1310.0 L1075.3,1310.0 L1077.5,1310.0 L1079.7,1310.1 L1081.9,1310.1 L1084.1,1310.1 L1086.3,1310.1 L1088.5,1310.1 L1090.7,1310.1 L1092.9,1310.1 L1095.1,1310.2 L1097.3,1310.2 L1099.5,1310.2 L1101.7,1310.2 L1103.9,1310.2 L1106.1,1310.2 L1108.3,1310.2 L1110.5,1310.2 L1112.7,1310.2 L1114.9,1310.2 L1117.1,1310.2 L1119.3,1310.2 L1121.5,1310.2 L1123.7,1310.1 L1125.9,1310.1 L1128.1,1310.1 L1130.3,1310.0 L1132.5,1310.0 L1134.7,1309.9 L1136.9,1309.8 L1139.1,1309.8 L1141.3,1309.7 L1143.5,1309.6 L1145.7,1309.5 L1147.9,1309.5 L1150.1,1309.4 L1152.3,1309.3 L1154.5,1309.2 L1156.7,1309.1 L1158.9,1308.9 L1161.1,1308.8 L1163.3,1308.7 L1165.5,1308.6 L1167.7,1308.4 L1169.9,1308.3 L1172.1,1308.1 L1174.3,1307.9 L1176.5,1307.5 L1178.7,1307.1 L1180.9,1306.6 L1183.1,1306.1 L1185.3,1305.5 L1187.5,1304.9 L1189.7,1304.3 L1191.9,1303.6 L1194.1,1302.9 L1196.3,1302.2 L1198.5,1301.5 L1200.7,1300.9 L1202.9,1300.2 L1205.1,1299.6 L1207.3,1299.0 L1209.5,1298.3 L1211.7,1297.6 L1213.9,1296.9 L1216.1,1296.1 L1218.3,1295.3 L1220.5,1294.5 L1222.7,1293.7 L1224.9,1293.0 L1227.1,1292.3 L1229.3,1291.7 L1231.5,1291.2 L1233.7,1290.9 L1235.9,1290.7 L1238.1,1290.6 L1240.3,1290.7 L1242.5,1290.9 L1244.7,1291.2 L1246.9,1291.6 L1249.1,1292.0 L1251.3,1292.5 L1253.5,1293.1 L1255.7,1293.7 L1257.9,1294.3 L1260.1,1294.9 L1262.3,1295.5 L1264.5,1296.1 L1266.7,1296.8 L1268.9,1297.6 L1271.1,1298.5 L1273.3,1299.4 L1275.5,1300.2 L1277.7,1301.0 L1279.9,1301.6 L1282.1,1302.1 L1284.3,1302.5 L1286.5,1303.0 L1288.7,1303.4 L1290.9,1303.8 L1293.1,1304.2 L1295.3,1304.6 L1297.5,1305.0 L1299.7,1305.3 L1301.9,1305.7 L1304.1,1306.0 L1306.3,1306.2 L1308.5,1306.5 L1310.7,1306.7 L1312.9,1306.9 L1315.1,1307.1 L1317.3,1307.2 L1319.5,1307.4 L1321.7,1307.5 L1323.9,1307.6 L1326.1,1307.7 L1328.3,1307.8 L1330.5,1308.0 L1332.7,1308.1 L1334.9,1308.2 L1337.1,1308.3 L1339.3,1308.4 L1341.5,1308.5 L1343.7,1308.5 L1345.9,1308.6 L1348.1,1308.7 L1350.3,1308.8 L1352.5,1308.8 L1354.7,1308.9 L1356.9,1309.0 L1359.1,1309.0 L1361.3,1309.1 L1363.5,1309.1 L1365.7,1309.1 L1367.9,1309.2 L1370.1,1309.2 L1372.3,1309.2 L1374.5,1309.2 L1376.7,1309.2 L1378.9,1309.2 L1381.1,1309.2 L1383.3,1309.1 L1385.5,1309.1 L1387.7,1309.1 L1389.9,1309.0 L1392.1,1309.0 L1394.3,1308.9 L1396.5,1308.8 L1398.7,1308.7 L1400.9,1308.6 L1403.1,1308.5 L1405.3,1308.4 L1407.5,1308.3 L1409.7,1308.2 L1411.9,1308.1 L1414.1,1308.0 L1416.3,1307.8 L1418.5,1307.7 L1420.7,1307.5 L1422.9,1307.4 L1425.1,1307.2 L1427.3,1307.0 L1429.5,1306.9 L1431.7,1306.7 L1433.9,1306.5 L1436.1,1306.3 L1438.3,1306.0 L1440.5,1305.6 L1442.7,1305.2 L1444.9,1304.7 L1447.1,1304.2 L1449.3,1303.6 L1451.5,1303.0 L1453.7,1302.4 L1455.9,1301.7 L1458.1,1300.9 L1460.3,1300.2 L1462.5,1299.4 L1464.7,1298.5 L1466.9,1297.6 L1469.1,1296.7 L1471.3,1295.8 L1473.5,1294.7 L1475.7,1293.3 L1477.9,1291.7 L1480.1,1289.9 L1482.3,1288.0 L1484.5,1286.1 L1486.7,1284.2 L1488.9,1282.3 L1491.1,1280.6 L1493.3,1279.1 L1495.5,1277.8 L1497.7,1276.3 L1499.9,1274.8 L1502.1,1273.4 L1504.3,1272.1 L1506.5,1270.9 L1508.7,1270.0 L1510.9,1269.3 L1513.1,1269.1 L1515.3,1269.3 L1517.5,1269.9 L1519.7,1270.9 L1521.9,1272.1 L1524.1,1273.5 L1526.3,1274.9 L1528.5,1276.4 L1530.7,1277.8 L1532.9,1279.0 L1535.1,1280.3 L1537.3,1281.7 L1539.5,1283.2 L1541.7,1284.7 L1543.9,1286.3 L1546.1,1287.8 L1548.3,1289.4 L1550.5,1290.9 L1552.7,1292.5 L1554.9,1293.9 L1557.1,1295.3 L1559.3,1296.5 L1561.5,1297.6 L1563.7,1298.6 L1565.9,1299.4 L1568.1,1300.1 L1570.3,1300.8 L1572.5,1301.4 L1574.7,1302.0 L1576.9,1302.6 L1579.1,1303.1 L1581.3,1303.7 L1583.5,1304.2 L1585.7,1304.6 L1587.9,1305.1 L1590.1,1305.5 L1592.3,1305.9 L1594.5,1306.2 L1596.7,1306.5 L1598.9,1306.8 L1601.1,1307.0 L1603.3,1307.2 L1605.5,1307.3 L1607.7,1307.5 L1609.9,1307.6 L1612.1,1307.7 L1614.3,1307.8 L1616.5,1307.9 L1618.7,1308.0 L1620.9,1308.1 L1623.1,1308.2 L1625.3,1308.3 L1627.5,1308.3 L1629.7,1308.4 L1631.9,1308.5 L1634.1,1308.5 L1636.3,1308.6 L1638.5,1308.7 L1640.7,1308.7 L1642.9,1308.8 L1645.1,1308.8 L1647.3,1308.9 L1649.5,1308.9 L1651.7,1309.0 L1653.9,1309.0 L1656.1,1309.1 L1658.3,1309.1 L1660.5,1309.2 L1662.7,1309.2 L1664.9,1309.3 L1667.1,1309.3 L1669.3,1309.4 L1671.5,1309.4 L1673.7,1309.5 L1675.9,1309.5 L1678.1,1309.5 L1680.3,1309.6 L1682.5,1309.6 L1684.7,1309.7 L1686.9,1309.7 L1689.1,1309.8 L1691.3,1309.8 L1693.5,1309.9 L1695.7,1309.9 L1697.9,1310.0 L1700.1,1310.0 L1702.3,1310.0 L1704.5,1310.1 L1706.7,1310.1 L1708.9,1310.1 L1711.1,1310.2 L1713.3,1310.2 L1715.5,1310.2 L1717.7,1310.3 L1719.9,1310.3 L1722.1,1310.3 L1724.3,1310.3 L1726.5,1310.4 L1728.7,1310.4 L1730.9,1310.4 L1733.1,1310.4 L1735.3,1310.4 L1737.5,1310.4 L1739.7,1310.4 L1741.9,1310.4 L1744.1,1310.4 L1746.3,1310.4 L1748.5,1310.4 L1750.7,1310.3 L1752.9,1310.3 L1755.1,1310.3 L1757.3,1310.3 L1759.5,1310.2 L1761.7,1310.2 L1763.9,1310.2 L1766.1,1310.1 L1768.3,1310.1 L1770.5,1310.1 L1772.7,1310.0 L1774.9,1310.0 L1777.1,1309.9 L1779.3,1309.9 L1781.5,1309.8 L1783.7,1309.8 L1785.9,1309.7 L1788.1,1309.7 L1790.3,1309.6 L1792.5,1309.6 L1794.7,1309.6 L1796.9,1309.5 L1799.1,1309.5 L1801.3,1309.4 L1803.5,1309.4 L1805.7,1309.3 L1807.9,1309.3 L1810.1,1309.3 L1812.3,1309.2 L1814.5,1309.2 L1816.7,1309.2 L1818.9,1309.2 L1821.1,1309.1 L1823.3,1309.1 L1825.5,1309.1 L1827.7,1309.0 L1829.9,1309.0 L1832.1,1309.0 L1834.3,1309.0 L1836.5,1308.9 L1838.7,1308.9 L1840.9,1308.9 L1843.1,1308.9 L1845.3,1308.8 L1847.5,1308.8 L1849.7,1308.8 L1851.9,1308.8 L1854.1,1308.7 L1856.3,1308.7 L1858.5,1308.7 L1860.7,1308.7 L1862.9,1308.6 L1865.1,1308.6 L1867.3,1308.6 L1869.5,1308.6 L1871.7,1308.6 L1873.9,1308.5 L1876.1,1308.5" fill="none" stroke="#000" stroke-width="1.8" stroke-opacity="0.9" stroke-dasharray="4 1.5"/>
<path d="M205.6,1311.0a2.9,2.9 0 1,0 5.8,0a2.9,2.9 0 1,0 -5.8,0M207.8,1310.8a2.9,2.9 0 1,0 5.8,0a2.9,2.9 0 1,0 -5.8,0M210.0,1310.7a2.9,2.9 0 1,0 5.8,0a2.9,2.9 0 1,0 -5.8,0M212.2,1310.5a2.9,2.9 0 1,0 5.8,0a2.9,2.9 0 1,0 -5.8,0M214.4,1310.4a2.9,2.9 0 1,0 5.8,0a2.9,2.9 0 1,0 -5.8,0M216.6,1310.2a2.9,2.9 0 1,0 5.8,0a2.9,2.9 0 1,0 -5.8,0M218.8,1310.1a2.9,2.9 0 1,0 5.8,0a2.9,2.9 0 1,0 -5.8,0M221.0,1310.0a2.9,2.9 0 1,0 5.8,0a2.9,2.9 0 1,0 -5.8,0M223.2,1309.9a2.9,2.9 0 1,0 5.8,0a2.9,2.9 0 1,0 -5.8,0M225.4,1309.8a2.9,2.9 0 1,0 5.8,0a2.9,2.9 0 1,0 -5.8,0M227.6,1309.7a2.9,2.9 0 1,0 5.8,0a2.9,2.9 0 1,0 -5.8,0M229.8,1309.6a2.9,2.9 0 1,0 5.8,0a2.9,2.9 0 1,0 -5.8,0M232.0,1309.5a2.9,2.9 0 1,0 5.8,0a2.9,2.9 0 1,0 -5.8,0M234.2,1309.4a2.9,2.9 0 1,0 5.8,0a2.9,2.9 0 1,0 -5.8,0M236.4,1309.3a2.9,2.9 0 1,0 5.8,0a2.9,2.9 0 1,0 -5.8,0M238.6,1309.3a2.9,2.9 0 1,0 5.8,0a2.9,2.9 0 1,0 -5.8,0M240.8,1309.2a2.9,2.9 0 1,0 5.8,0a2.9,2.9 0 1,0 -5.8,0M243.0,1309.2a2.9,2.9 0 1,0 5.8,0a2.9,2.9 0 1,0 -5.8,0M245.2,1309.1a2.9,2.9 0 1,0 5.8,0a2.9,2.9 0 1,0 -5.8,0M247.4,1309.1a2.9,2.9 0 1,0 5.8,0a2.9,2.9 0 1,0 -5.8,0M249.6,1309.1a2.9,2.9 0 1,0 5.8,0a2.9,2.9 0 1,0 -5.8,0M251.8,1309.0a2.9,2.9 0 1,0 5.8,0a2.9,2.9 0 1,0 -5.8,0M254.0,1309.0a2.9,2.9 0 1,0 5.8,0a2.9,2.9 0 1,0 -5.8,0M256.2,1309.0a2.9,2.9 0 1,0 5.8,0a2.9,2.9 0 1,0 -5.8,0M258.4,1309.0a2.9,2.9 0 1,0 5.8,0a2.9,2.9 0 1,0 -5.8,0M260.6,1309.0a2.9,2.9 0 1,0 5.8,0a2.9,2.9 0 1,0 -5.8,0M262.8,1309.0a2.9,2.9 0 1,0 5.8,0a2.9,2.9 0 1,0 -5.8,0M265.0,1309.1a2.9,2.9 0 1,0 5.8,0a2.9,2.9 0 1,0 -5.8,0M267.2,1309.1a2.9,2.9 0 1,0 5.8,0a2.9,2.9 0 1,0 -5.8,0M269.4,1309.2a2.9,2.9 0 1,0 5.8,0a2.9,2.9 0 1,0 -5.8,0M271.6,1309.3a2.9,2.9 0 1,0 5.8,0a2.9,2.9 0 1,0 -5.8,0M273.8,1309.4a2.9,2.9 0 1,0 5.8,0a2.9,2.9 0 1,0 -5.8,0M276.0,1309.5a2.9,2.9 0 1,0 5.8,0a2.9,2.9 0 1,0 -5.8,0M278.2,1309.6a2.9,2.9 0 1,0 5.8,0a2.9,2.9 0 1,0 -5.8,0M280.4,1309.7a2.9,2.9 0 1,0 5.8,0a2.9,2.9 0 1,0 -5.8,0M282.6,1309.9a2.9,2.9 0 1,0 5.8,0a2.9,2.9 0 1,0 -5.8,0M284.8,1310.0a2.9,2.9 0 1,0 5.8,0a2.9,2.9 0 1,0 -5.8,0M287.0,1310.1a2.9,2.9 0 1,0 5.8,0a2.9,2.9 0 1,0 -5.8,0M289.2,1310.1a2.9,2.9 0 1,0 5.8,0a2.9,2.9 0 1,0 -5.8,0M291.4,1310.2a2.9,2.9 0 1,0 5.8,0a2.9,2.9 0 1,0 -5.8,0M293.6,1310.3a2.9,2.9 0 1,0 5.8,0a2.9,2.9 0 1,0 -5.8,0M295.8,1310.3a2.9,2.9 0 1,0 5.8,0a2.9,2.9 0 1,0 -5.8,0M298.0,1310.3a2.9,2.9 0 1,0 5.8,0a2.9,2.9 0 1,0 -5.8,0M300.2,1310.2a2.9,2.9 0 1,0 5.8,0a2.9,2.9 0 1,0 -5.8,0M302.4,1310.1a2.9,2.9 0 1,0 5.8,0a2.9,2.9 0 1,0 -5.8,0M304.6,1309.9a2.9,2.9 0 1,0 5.8,0a2.9,2.9 0 1,0 -5.8,0M306.8,1309.7a2.9,2.9 0 1,0 5.8,0a2.9,2.9 0 1,0 -5.8,0M309.0,1309.4a2.9,2.9 0 1,0 5.8,0a2.9,2.9 0 1,0 -5.8,0M311.2,1309.1a2.9,2.9 0 1,0 5.8,0a2.9,2.9 0 1,0 -5.8,0M313.4,1308.8a2.9,2.9 0 1,0 5.8,0a2.9,2.9 0 1,0 -5.8,0M315.6,1308.5a2.9,2.9 0 1,0 5.8,0a2.9,2.9 0 1,0 -5.8,0M317.8,1308.1a2.9,2.9 0 1,0 5.8,0a2.9,2.9 0 1,0 -5.8,0M320.0,1307.7a2.9,2.9 0 1,0 5.8,0a2.9,2.9 0 1,0 -5.8,0M322.2,1307.2a2.9,2.9 0 1,0 5.8,0a2.9,2.9 0 1,0 -5.8,0M324.4,1306.7a2.9,2.9 0 1,0 5.8,0a2.9,2.9 0 1,0 -5.8,0M326.6,1306.2a2.9,2.9 0 1,0 5.8,0a2.9,2.9 0 1,0 -5.8,0M328.8,1305.5a2.9,2.9 0 1,0 5.8,0a2.9,2.9 0 1,0 -5.8,0M331.0,1304.8a2.9,2.9 0 1,0 5.8,0a2.9,2.9 0 1,0 -5.8,0M333.2,1304.1a2.9,2.9 0 1,0 5.8,0a2.9,2.9 0 1,0 -5.8,0M335.4,1303.3a2.9,2.9 0 1,0 5.8,0a2.9,2.9 0 1,0 -5.8,0M337.6,1302.3a2.9,2.9 0 1,0 5.8,0a2.9,2.9 0 1,0 -5.8,0M339.8,1301.2a2.9,2.9 0 1,0 5.8,0a2.9,2.9 0 1,0 -5.8,0M342.0,1300.0a2.9,2.9 0 1,0 5.8,0a2.9,2.9 0 1,0 -5.8,0M344.2,1298.6a2.9,2.9 0 1,0 5.8,0a2.9,2.9 0 1,0 -5.8,0M346.4,1297.1a2.9,2.9 0 1,0 5.8,0a2.9,2.9 0 1,0 -5.8,0M348.6,1295.5a2.9,2.9 0 1,0 5.8,0a2.9,2.9 0 1,0 -5.8,0M350.8,1293.7a2.9,2.9 0 1,0 5.8,0a2.9,2.9 0 1,0 -5.8,0M353.0,1291.9a2.9,2.9 0 1,0 5.8,0a2.9,2.9 0 1,0 -5.8,0M355.2,1289.8a2.9,2.9 0 1,0 5.8,0a2.9,2.9 0 1,0 -5.8,0M357.4,1287.3a2.9,2.9 0 1,0 5.8,0a2.9,2.9 0 1,0 -5.8,0M359.6,1284.5a2.9,2.9 0 1,0 5.8,0a2.9,2.9 0 1,0 -5.8,0M361.8,1281.3a2.9,2.9 0 1,0 5.8,0a2.9,2.9 0 1,0 -5.8,0M364.0,1277.5a2.9,2.9 0 1,0 5.8,0a2.9,2.9 0 1,0 -5.8,0M366.2,1272.2a2.9,2.9 0 1,0 5.8,0a2.9,2.9 0 1,0 -5.8,0M368.4,1264.9a2.9,2.9 0 1,0 5.8,0a2.9,2.9 0 1,0 -5.8,0M370.6,1257.6a2.9,2.9 0 1,0 5.8,0a2.9,2.9 0 1,0 -5.8,0M372.8,1250.6a2.9,2.9 0 1,0 5.8,0a2.9,2.9 0 1,0 -5.8,0M375.0,1237.9a2.9,2.9 0 1,0 5.8,0a2.9,2.9 0 1,0 -5.8,0M377.2,1225.7a2.9,2.9 0 1,0 5.8,0a2.9,2.9 0 1,0 -5.8,0M379.4,1209.9a2.9,2.9 0 1,0 5.8,0a2.9,2.9 0 1,0 -5.8,0M381.6,1189.8a2.9,2.9 0 1,0 5.8,0a2.9,2.9 0 1,0 -5.8,0M383.8,1162.5a2.9,2.9 0 1,0 5.8,0a2.9,2.9 0 1,0 -5.8,0M386.0,1129.2a2.9,2.9 0 1,0 5.8,0a2.9,2.9 0 1,0 -5.8,0M388.2,1099.7a2.9,2.9 0 1,0 5.8,0a2.9,2.9 0 1,0 -5.8,0M390.4,1070.1a2.9,2.9 0 1,0 5.8,0a2.9,2.9 0 1,0 -5.8,0M392.6,1037.8a2.9,2.9 0 1,0 5.8,0a2.9,2.9 0 1,0 -5.8,0M394.8,1007.8a2.9,2.9 0 1,0 5.8,0a2.9,2.9 0 1,0 -5.8,0M397.0,979.3a2.9,2.9 0 1,0 5.8,0a2.9,2.9 0 1,0 -5.8,0M399.2,961.5a2.9,2.9 0 1,0 5.8,0a2.9,2.9 0 1,0 -5.8,0M401.4,950.7a2.9,2.9 0 1,0 5.8,0a2.9,2.9 0 1,0 -5.8,0M403.6,944.0a2.9,2.9 0 1,0 5.8,0a2.9,2.9 0 1,0 -5.8,0M405.8,941.9a2.9,2.9 0 1,0 5.8,0a2.9,2.9 0 1,0 -5.8,0M408.0,944.1a2.9,2.9 0 1,0 5.8,0a2.9,2.9 0 1,0 -5.8,0M410.2,949.6a2.9,2.9 0 1,0 5.8,0a2.9,2.9 0 1,0 -5.8,0M412.4,966.2a2.9,2.9 0 1,0 5.8,0a2.9,2.9 0 1,0 -5.8,0M414.6,982.8a2.9,2.9 0 1,0 5.8,0a2.9,2.9 0 1,0 -5.8,0M416.8,1008.4a2.9,2.9 0 1,0 5.8,0a2.9,2.9 0 1,0 -5.8,0M419.0,1036.0a2.9,2.9 0 1,0 5.8,0a2.9,2.9 0 1,0 -5.8,0M421.2,1070.8a2.9,2.9 0 1,0 5.8,0a2.9,2.9 0 1,0 -5.8,0M423.4,1107.5a2.9,2.9 0 1,0 5.8,0a2.9,2.9 0 1,0 -5.8,0M425.6,1138.5a2.9,2.9 0 1,0 5.8,0a2.9,2.9 0 1,0 -5.8,0M427.8,1169.5a2.9,2.9 0 1,0 5.8,0a2.9,2.9 0 1,0 -5.8,0M430.0,1194.5a2.9,2.9 0 1,0 5.8,0a2.9,2.9 0 1,0 -5.8,0M432.2,1215.1a2.9,2.9 0 1,0 5.8,0a2.9,2.9 0 1,0 -5.8,0M434.4,1233.7a2.9,2.9 0 1,0 5.8,0a2.9,2.9 0 1,0 -5.8,0M436.6,1245.6a2.9,2.9 0 1,0 5.8,0a2.9,2.9 0 1,0 -5.8,0M438.8,1254.4a2.9,2.9 0 1,0 5.8,0a2.9,2.9 0 1,0 -5.8,0M441.0,1265.3a2.9,2.9 0 1,0 5.8,0a2.9,2.9 0 1,0 -5.8,0M443.2,1271.8a2.9,2.9 0 1,0 5.8,0a2.9,2.9 0 1,0 -5.8,0M445.4,1276.6a2.9,2.9 0 1,0 5.8,0a2.9,2.9 0 1,0 -5.8,0M447.6,1280.8a2.9,2.9 0 1,0 5.8,0a2.9,2.9 0 1,0 -5.8,0M449.8,1284.4a2.9,2.9 0 1,0 5.8,0a2.9,2.9 0 1,0 -5.8,0M452.0,1287.4a2.9,2.9 0 1,0 5.8,0a2.9,2.9 0 1,0 -5.8,0M454.2,1289.9a2.9,2.9 0 1,0 5.8,0a2.9,2.9 0 1,0 -5.8,0M456.4,1292.2a2.9,2.9 0 1,0 5.8,0a2.9,2.9 0 1,0 -5.8,0M458.6,1294.3a2.9,2.9 0 1,0 5.8,0a2.9,2.9 0 1,0 -5.8,0M460.8,1296.2a2.9,2.9 0 1,0 5.8,0a2.9,2.9 0 1,0 -5.8,0M463.0,1297.8a2.9,2.9 0 1,0 5.8,0a2.9,2.9 0 1,0 -5.8,0M465.2,1299.2a2.9,2.9 0 1,0 5.8,0a2.9,2.9 0 1,0 -5.8,0M467.4,1300.3a2.9,2.9 0 1,0 5.8,0a2.9,2.9 0 1,0 -5.8,0M469.6,1301.4a2.9,2.9 0 1,0 5.8,0a2.9,2.9 0 1,0 -5.8,0M471.8,1302.3a2.9,2.9 0 1,0 5.8,0a2.9,2.9 0 1,0 -5.8,0M474.0,1303.2a2.9,2.9 0 1,0 5.8,0a2.9,2.9 0 1,0 -5.8,0M476.2,1304.0a2.9,2.9 0 1,0 5.8,0a2.9,2.9 0 1,0 -5.8,0M478.4,1304.7a2.9,2.9 0 1,0 5.8,0a2.9,2.9 0 1,0 -5.8,0M480.6,1305.4a2.9,2.9 0 1,0 5.8,0a2.9,2.9 0 1,0 -5.8,0M482.8,1306.1a2.9,2.9 0 1,0 5.8,0a2.9,2.9 0 1,0 -5.8,0M485.0,1306.9a2.9,2.9 0 1,0 5.8,0a2.9,2.9 0 1,0 -5.8,0M487.2,1307.6a2.9,2.9 0 1,0 5.8,0a2.9,2.9 0 1,0 -5.8,0M489.4,1308.2a2.9,2.9 0 1,0 5.8,0a2.9,2.9 0 1,0 -5.8,0M491.6,1308.8a2.9,2.9 0 1,0 5.8,0a2.9,2.9 0 1,0 -5.8,0M493.8,1309.2a2.9,2.9 0 1,0 5.8,0a2.9,2.9 0 1,0 -5.8,0M496.0,1309.5a2.9,2.9 0 1,0 5.8,0a2.9,2.9 0 1,0 -5.8,0M498.2,1309.5a2.9,2.9 0 1,0 5.8,0a2.9,2.9 0 1,0 -5.8,0M500.4,1309.3a2.9,2.9 0 1,0 5.8,0a2.9,2.9 0 1,0 -5.8,0M502.6,1309.0a2.9,2.9 0 1,0 5.8,0a2.9,2.9 0 1,0 -5.8,0M504.8,1308.6a2.9,2.9 0 1,0 5.8,0a2.9,2.9 0 1,0 -5.8,0M507.0,1308.2a2.9,2.9 0 1,0 5.8,0a2.9,2.9 0 1,0 -5.8,0M509.2,1307.7a2.9,2.9 0 1,0 5.8,0a2.9,2.9 0 1,0 -5.8,0M511.4,1307.4a2.9,2.9 0 1,0 5.8,0a2.9,2.9 0 1,0 -5.8,0M513.6,1307.1a2.9,2.9 0 1,0 5.8,0a2.9,2.9 0 1,0 -5.8,0M515.8,1306.9a2.9,2.9 0 1,0 5.8,0a2.9,2.9 0 1,0 -5.8,0M518.0,1306.8a2.9,2.9 0 1,0 5.8,0a2.9,2.9 0 1,0 -5.8,0M520.2,1306.7a2.9,2.9 0 1,0 5.8,0a2.9,2.9 0 1,0 -5.8,0M522.4,1306.6a2.9,2.9 0 1,0 5.8,0a2.9,2.9 0 1,0 -5.8,0M524.6,1306.6a2.9,2.9 0 1,0 5.8,0a2.9,2.9 0 1,0 -5.8,0M526.8,1306.5a2.9,2.9 0 1,0 5.8,0a2.9,2.9 0 1,0 -5.8,0M529.0,1306.4a2.9,2.9 0 1,0 5.8,0a2.9,2.9 0 1,0 -5.8,0M531.2,1306.4a2.9,2.9 0 1,0 5.8,0a2.9,2.9 0 1,0 -5.8,0M533.4,1306.4a2.9,2.9 0 1,0 5.8,0a2.9,2.9 0 1,0 -5.8,0M535.6,1306.5a2.9,2.9 0 1,0 5.8,0a2.9,2.9 0 1,0 -5.8,0M537.8,1306.8a2.9,2.9 0 1,0 5.8,0a2.9,2.9 0 1,0 -5.8,0M540.0,1307.2a2.9,2.9 0 1,0 5.8,0a2.9,2.9 0 1,0 -5.8,0M542.2,1307.8a2.9,2.9 0 1,0 5.8,0a2.9,2.9 0 1,0 -5.8,0M544.4,1308.4a2.9,2.9 0 1,0 5.8,0a2.9,2.9 0 1,0 -5.8,0M546.6,1309.0a2.9,2.9 0 1,0 5.8,0a2.9,2.9 0 1,0 -5.8,0M548.8,1309.5a2.9,2.9 0 1,0 5.8,0a2.9,2.9 0 1,0 -5.8,0M551.0,1310.0a2.9,2.9 0 1,0 5.8,0a2.9,2.9 0 1,0 -5.8,0M553.2,1310.3a2.9,2.9 0 1,0 5.8,0a2.9,2.9 0 1,0 -5.8,0M555.4,1310.6a2.9,2.9 0 1,0 5.8,0a2.9,2.9 0 1,0 -5.8,0M557.6,1310.9a2.9,2.9 0 1,0 5.8,0a2.9,2.9 0 1,0 -5.8,0M559.8,1311.2a2.9,2.9 0 1,0 5.8,0a2.9,2.9 0 1,0 -5.8,0M562.0,1311.5a2.9,2.9 0 1,0 5.8,0a2.9,2.9 0 1,0 -5.8,0M564.2,1311.8a2.9,2.9 0 1,0 5.8,0a2.9,2.9 0 1,0 -5.8,0M566.4,1312.1a2.9,2.9 0 1,0 5.8,0a2.9,2.9 0 1,0 -5.8,0M568.6,1312.3a2.9,2.9 0 1,0 5.8,0a2.9,2.9 0 1,0 -5.8,0M570.8,1312.6a2.9,2.9 0 1,0 5.8,0a2.9,2.9 0 1,0 -5.8,0M573.0,1312.8a2.9,2.9 0 1,0 5.8,0a2.9,2.9 0 1,0 -5.8,0M575.2,1313.0a2.9,2.9 0 1,0 5.8,0a2.9,2.9 0 1,0 -5.8,0M577.4,1313.1a2.9,2.9 0 1,0 5.8,0a2.9,2.9 0 1,0 -5.8,0M579.6,1313.2a2.9,2.9 0 1,0 5.8,0a2.9,2.9 0 1,0 -5.8,0M581.8,1313.3a2.9,2.9 0 1,0 5.8,0a2.9,2.9 0 1,0 -5.8,0M584.0,1313.3a2.9,2.9 0 1,0 5.8,0a2.9,2.9 0 1,0 -5.8,0M586.2,1313.3a2.9,2.9 0 1,0 5.8,0a2.9,2.9 0 1,0 -5.8,0M588.4,1313.2a2.9,2.9 0 1,0 5.8,0a2.9,2.9 0 1,0 -5.8,0M590.6,1313.1a2.9,2.9 0 1,0 5.8,0a2.9,2.9 0 1,0 -5.8,0M592.8,1312.9a2.9,2.9 0 1,0 5.8,0a2.9,2.9 0 1,0 -5.8,0M595.0,1312.7a2.9,2.9 0 1,0 5.8,0a2.9,2.9 0 1,0 -5.8,0M597.2,1312.5a2.9,2.9 0 1,0 5.8,0a2.9,2.9 0 1,0 -5.8,0M599.4,1312.3a2.9,2.9 0 1,0 5.8,0a2.9,2.9 0 1,0 -5.8,0M601.6,1312.2a2.9,2.9 0 1,0 5.8,0a2.9,2.9 0 1,0 -5.8,0M603.8,1312.0a2.9,2.9 0 1,0 5.8,0a2.9,2.9 0 1,0 -5.8,0M606.0,1311.8a2.9,2.9 0 1,0 5.8,0a2.9,2.9 0 1,0 -5.8,0M608.2,1311.6a2.9,2.9 0 1,0 5.8,0a2.9,2.9 0 1,0 -5.8,0M610.4,1311.5a2.9,2.9 0 1,0 5.8,0a2.9,2.9 0 1,0 -5.8,0M612.6,1311.4a2.9,2.9 0 1,0 5.8,0a2.9,2.9 0 1,0 -5.8,0M614.8,1311.4a2.9,2.9 0 1,0 5.8,0a2.9,2.9 0 1,0 -5.8,0M617.0,1311.4a2.9,2.9 0 1,0 5.8,0a2.9,2.9 0 1,0 -5.8,0M619.2,1311.5a2.9,2.9 0 1,0 5.8,0a2.9,2.9 0 1,0 -5.8,0M621.4,1311.6a2.9,2.9 0 1,0 5.8,0a2.9,2.9 0 1,0 -5.8,0M623.6,1311.7a2.9,2.9 0 1,0 5.8,0a2.9,2.9 0 1,0 -5.8,0M625.8,1311.8a2.9,2.9 0 1,0 5.8,0a2.9,2.9 0 1,0 -5.8,0M628.0,1312.0a2.9,2.9 0 1,0 5.8,0a2.9,2.9 0 1,0 -5.8,0M630.2,1312.1a2.9,2.9 0 1,0 5.8,0a2.9,2.9 0 1,0 -5.8,0M632.4,1312.2a2.9,2.9 0 1,0 5.8,0a2.9,2.9 0 1,0 -5.8,0M634.6,1312.3a2.9,2.9 0 1,0 5.8,0a2.9,2.9 0 1,0 -5.8,0M636.8,1312.3a2.9,2.9 0 1,0 5.8,0a2.9,2.9 0 1,0 -5.8,0M639.0,1312.4a2.9,2.9 0 1,0 5.8,0a2.9,2.9 0 1,0 -5.8,0M641.2,1312.4a2.9,2.9 0 1,0 5.8,0a2.9,2.9 0 1,0 -5.8,0M643.4,1312.4a2.9,2.9 0 1,0 5.8,0a2.9,2.9 0 1,0 -5.8,0M645.6,1312.5a2.9,2.9 0 1,0 5.8,0a2.9,2.9 0 1,0 -5.8,0M647.8,1312.5a2.9,2.9 0 1,0 5.8,0a2.9,2.9 0 1,0 -5.8,0M650.0,1312.6a2.9,2.9 0 1,0 5.8,0a2.9,2.9 0 1,0 -5.8,0M652.2,1312.6a2.9,2.9 0 1,0 5.8,0a2.9,2.9 0 1,0 -5.8,0M654.4,1312.6a2.9,2.9 0 1,0 5.8,0a2.9,2.9 0 1,0 -5.8,0M656.6,1312.7a2.9,2.9 0 1,0 5.8,0a2.9,2.9 0 1,0 -5.8,0M658.8,1312.7a2.9,2.9 0 1,0 5.8,0a2.9,2.9 0 1,0 -5.8,0M661.0,1312.7a2.9,2.9 0 1,0 5.8,0a2.9,2.9 0 1,0 -5.8,0M663.2,1312.7a2.9,2.9 0 1,0 5.8,0a2.9,2.9 0 1,0 -5.8,0M665.4,1312.8a2.9,2.9 0 1,0 5.8,0a2.9,2.9 0 1,0 -5.8,0M667.6,1312.8a2.9,2.9 0 1,0 5.8,0a2.9,2.9 0 1,0 -5.8,0M669.8,1312.8a2.9,2.9 0 1,0 5.8,0a2.9,2.9 0 1,0 -5.8,0M672.0,1312.9a2.9,2.9 0 1,0 5.8,0a2.9,2.9 0 1,0 -5.8,0M674.2,1312.9a2.9,2.9 0 1,0 5.8,0a2.9,2.9 0 1,0 -5.8,0M676.4,1312.9a2.9,2.9 0 1,0 5.8,0a2.9,2.9 0 1,0 -5.8,0M678.6,1312.9a2.9,2.9 0 1,0 5.8,0a2.9,2.9 0 1,0 -5.8,0M680.8,1312.9a2.9,2.9 0 1,0 5.8,0a2.9,2.9 0 1,0 -5.8,0M683.0,1312.9a2.9,2.9 0 1,0 5.8,0a2.9,2.9 0 1,0 -5.8,0M685.2,1313.0a2.9,2.9 0 1,0 5.8,0a2.9,2.9 0 1,0 -5.8,0M687.4,1313.0a2.9,2.9 0 1,0 5.8,0a2.9,2.9 0 1,0 -5.8,0M689.6,1313.0a2.9,2.9 0 1,0 5.8,0a2.9,2.9 0 1,0 -5.8,0M691.8,1313.0a2.9,2.9 0 1,0 5.8,0a2.9,2.9 0 1,0 -5.8,0M694.0,1313.0a2.9,2.9 0 1,0 5.8,0a2.9,2.9 0 1,0 -5.8,0M696.2,1313.0a2.9,2.9 0 1,0 5.8,0a2.9,2.9 0 1,0 -5.8,0M698.4,1313.0a2.9,2.9 0 1,0 5.8,0a2.9,2.9 0 1,0 -5.8,0M700.6,1313.0a2.9,2.9 0 1,0 5.8,0a2.9,2.9 0 1,0 -5.8,0M702.8,1313.0a2.9,2.9 0 1,0 5.8,0a2.9,2.9 0 1,0 -5.8,0M705.0,1313.0a2.9,2.9 0 1,0 5.8,0a2.9,2.9 0 1,0 -5.8,0M707.2,1313.0a2.9,2.9 0 1,0 5.8,0a2.9,2.9 0 1,0 -5.8,0M709.4,1312.9a2.9,2.9 0 1,0 5.8,0a2.9,2.9 0 1,0 -5.8,0M711.6,1312.9a2.9,2.9 0 1,0 5.8,0a2.9,2.9 0 1,0 -5.8,0M713.8,1312.9a2.9,2.9 0 1,0 5.8,0a2.9,2.9 0 1,0 -5.8,0M716.0,1312.8a2.9,2.9 0 1,0 5.8,0a2.9,2.9 0 1,0 -5.8,0M718.2,1312.8a2.9,2.9 0 1,0 5.8,0a2.9,2.9 0 1,0 -5.8,0M720.4,1312.7a2.9,2.9 0 1,0 5.8,0a2.9,2.9 0 1,0 -5.8,0M722.6,1312.7a2.9,2.9 0 1,0 5.8,0a2.9,2.9 0 1,0 -5.8,0M724.8,1312.6a2.9,2.9 0 1,0 5.8,0a2.9,2.9 0 1,0 -5.8,0M727.0,1312.6a2.9,2.9 0 1,0 5.8,0a2.9,2.9 0 1,0 -5.8,0M729.2,1312.5a2.9,2.9 0 1,0 5.8,0a2.9,2.9 0 1,0 -5.8,0M731.4,1312.5a2.9,2.9 0 1,0 5.8,0a2.9,2.9 0 1,0 -5.8,0M733.6,1312.4a2.9,2.9 0 1,0 5.8,0a2.9,2.9 0 1,0 -5.8,0M735.8,1312.3a2.9,2.9 0 1,0 5.8,0a2.9,2.9 0 1,0 -5.8,0M738.0,1312.3a2.9,2.9 0 1,0 5.8,0a2.9,2.9 0 1,0 -5.8,0M740.2,1312.2a2.9,2.9 0 1,0 5.8,0a2.9,2.9 0 1,0 -5.8,0M742.4,1312.1a2.9,2.9 0 1,0 5.8,0a2.9,2.9 0 1,0 -5.8,0M744.6,1312.1a2.9,2.9 0 1,0 5.8,0a2.9,2.9 0 1,0 -5.8,0M746.8,1312.0a2.9,2.9 0 1,0 5.8,0a2.9,2.9 0 1,0 -5.8,0M749.0,1311.9a2.9,2.9 0 1,0 5.8,0a2.9,2.9 0 1,0 -5.8,0M751.2,1311.9a2.9,2.9 0 1,0 5.8,0a2.9,2.9 0 1,0 -5.8,0M753.4,1311.8a2.9,2.9 0 1,0 5.8,0a2.9,2.9 0 1,0 -5.8,0M755.6,1311.7a2.9,2.9 0 1,0 5.8,0a2.9,2.9 0 1,0 -5.8,0M757.8,1311.6a2.9,2.9 0 1,0 5.8,0a2.9,2.9 0 1,0 -5.8,0M760.0,1311.5a2.9,2.9 0 1,0 5.8,0a2.9,2.9 0 1,0 -5.8,0M762.2,1311.4a2.9,2.9 0 1,0 5.8,0a2.9,2.9 0 1,0 -5.8,0M764.4,1311.3a2.9,2.9 0 1,0 5.8,0a2.9,2.9 0 1,0 -5.8,0M766.6,1311.2a2.9,2.9 0 1,0 5.8,0a2.9,2.9 0 1,0 -5.8,0M768.8,1311.0a2.9,2.9 0 1,0 5.8,0a2.9,2.9 0 1,0 -5.8,0M771.0,1310.9a2.9,2.9 0 1,0 5.8,0a2.9,2.9 0 1,0 -5.8,0M773.2,1310.8a2.9,2.9 0 1,0 5.8,0a2.9,2.9 0 1,0 -5.8,0M775.4,1310.7a2.9,2.9 0 1,0 5.8,0a2.9,2.9 0 1,0 -5.8,0M777.6,1310.6a2.9,2.9 0 1,0 5.8,0a2.9,2.9 0 1,0 -5.8,0M779.8,1310.5a2.9,2.9 0 1,0 5.8,0a2.9,2.9 0 1,0 -5.8,0M782.0,1310.4a2.9,2.9 0 1,0 5.8,0a2.9,2.9 0 1,0 -5.8,0M784.2,1310.4a2.9,2.9 0 1,0 5.8,0a2.9,2.9 0 1,0 -5.8,0M786.4,1310.3a2.9,2.9 0 1,0 5.8,0a2.9,2.9 0 1,0 -5.8,0M788.6,1310.2a2.9,2.9 0 1,0 5.8,0a2.9,2.9 0 1,0 -5.8,0M790.8,1310.2a2.9,2.9 0 1,0 5.8,0a2.9,2.9 0 1,0 -5.8,0M793.0,1310.2a2.9,2.9 0 1,0 5.8,0a2.9,2.9 0 1,0 -5.8,0M795.2,1310.1a2.9,2.9 0 1,0 5.8,0a2.9,2.9 0 1,0 -5.8,0M797.4,1310.1a2.9,2.9 0 1,0 5.8,0a2.9,2.9 0 1,0 -5.8,0M799.6,1310.1a2.9,2.9 0 1,0 5.8,0a2.9,2.9 0 1,0 -5.8,0M801.8,1310.1a2.9,2.9 0 1,0 5.8,0a2.9,2.9 0 1,0 -5.8,0M804.0,1310.0a2.9,2.9 0 1,0 5.8,0a2.9,2.9 0 1,0 -5.8,0M806.2,1310.0a2.9,2.9 0 1,0 5.8,0a2.9,2.9 0 1,0 -5.8,0M808.4,1310.0a2.9,2.9 0 1,0 5.8,0a2.9,2.9 0 1,0 -5.8,0M810.6,1310.0a2.9,2.9 0 1,0 5.8,0a2.9,2.9 0 1,0 -5.8,0M812.8,1310.0a2.9,2.9 0 1,0 5.8,0a2.9,2.9 0 1,0 -5.8,0M815.0,1310.0a2.9,2.9 0 1,0 5.8,0a2.9,2.9 0 1,0 -5.8,0M817.2,1309.9a2.9,2.9 0 1,0 5.8,0a2.9,2.9 0 1,0 -5.8,0M819.4,1309.9a2.9,2.9 0 1,0 5.8,0a2.9,2.9 0 1,0 -5.8,0M821.6,1309.9a2.9,2.9 0 1,0 5.8,0a2.9,2.9 0 1,0 -5.8,0M823.8,1309.9a2.9,2.9 0 1,0 5.8,0a2.9,2.9 0 1,0 -5.8,0M826.0,1309.9a2.9,2.9 0 1,0 5.8,0a2.9,2.9 0 1,0 -5.8,0M828.2,1309.9a2.9,2.9 0 1,0 5.8,0a2.9,2.9 0 1,0 -5.8,0M830.4,1309.9a2.9,2.9 0 1,0 5.8,0a2.9,2.9 0 1,0 -5.8,0M832.6,1309.9a2.9,2.9 0 1,0 5.8,0a2.9,2.9 0 1,0 -5.8,0M834.8,1309.9a2.9,2.9 0 1,0 5.8,0a2.9,2.9 0 1,0 -5.8,0M837.0,1309.8a2.9,2.9 0 1,0 5.8,0a2.9,2.9 0 1,0 -5.8,0M839.2,1309.8a2.9,2.9 0 1,0 5.8,0a2.9,2.9 0 1,0 -5.8,0M841.4,1309.8a2.9,2.9 0 1,0 5.8,0a2.9,2.9 0 1,0 -5.8,0M843.6,1309.8a2.9,2.9 0 1,0 5.8,0a2.9,2.9 0 1,0 -5.8,0M845.8,1309.8a2.9,2.9 0 1,0 5.8,0a2.9,2.9 0 1,0 -5.8,0M848.0,1309.8a2.9,2.9 0 1,0 5.8,0a2.9,2.9 0 1,0 -5.8,0M850.2,1309.8a2.9,2.9 0 1,0 5.8,0a2.9,2.9 0 1,0 -5.8,0M852.4,1309.8a2.9,2.9 0 1,0 5.8,0a2.9,2.9 0 1,0 -5.8,0M854.6,1309.8a2.9,2.9 0 1,0 5.8,0a2.9,2.9 0 1,0 -5.8,0M856.8,1309.7a2.9,2.9 0 1,0 5.8,0a2.9,2.9 0 1,0 -5.8,0M859.0,1309.7a2.9,2.9 0 1,0 5.8,0a2.9,2.9 0 1,0 -5.8,0M861.2,1309.7a2.9,2.9 0 1,0 5.8,0a2.9,2.9 0 1,0 -5.8,0M863.4,1309.7a2.9,2.9 0 1,0 5.8,0a2.9,2.9 0 1,0 -5.8,0M865.6,1309.7a2.9,2.9 0 1,0 5.8,0a2.9,2.9 0 1,0 -5.8,0M867.8,1309.6a2.9,2.9 0 1,0 5.8,0a2.9,2.9 0 1,0 -5.8,0M870.0,1309.6a2.9,2.9 0 1,0 5.8,0a2.9,2.9 0 1,0 -5.8,0M872.2,1309.6a2.9,2.9 0 1,0 5.8,0a2.9,2.9 0 1,0 -5.8,0M874.4,1309.6a2.9,2.9 0 1,0 5.8,0a2.9,2.9 0 1,0 -5.8,0M876.6,1309.5a2.9,2.9 0 1,0 5.8,0a2.9,2.9 0 1,0 -5.8,0M878.8,1309.5a2.9,2.9 0 1,0 5.8,0a2.9,2.9 0 1,0 -5.8,0M881.0,1309.5a2.9,2.9 0 1,0 5.8,0a2.9,2.9 0 1,0 -5.8,0M883.2,1309.4a2.9,2.9 0 1,0 5.8,0a2.9,2.9 0 1,0 -5.8,0M885.4,1309.4a2.9,2.9 0 1,0 5.8,0a2.9,2.9 0 1,0 -5.8,0M887.6,1309.3a2.9,2.9 0 1,0 5.8,0a2.9,2.9 0 1,0 -5.8,0M889.8,1309.2a2.9,2.9 0 1,0 5.8,0a2.9,2.9 0 1,0 -5.8,0M892.0,1308.9a2.9,2.9 0 1,0 5.8,0a2.9,2.9 0 1,0 -5.8,0M894.2,1308.7a2.9,2.9 0 1,0 5.8,0a2.9,2.9 0 1,0 -5.8,0M896.4,1308.4a2.9,2.9 0 1,0 5.8,0a2.9,2.9 0 1,0 -5.8,0M898.6,1308.0a2.9,2.9 0 1,0 5.8,0a2.9,2.9 0 1,0 -5.8,0M900.8,1307.6a2.9,2.9 0 1,0 5.8,0a2.9,2.9 0 1,0 -5.8,0M903.0,1307.2a2.9,2.9 0 1,0 5.8,0a2.9,2.9 0 1,0 -5.8,0M905.2,1306.7a2.9,2.9 0 1,0 5.8,0a2.9,2.9 0 1,0 -5.8,0M907.4,1306.2a2.9,2.9 0 1,0 5.8,0a2.9,2.9 0 1,0 -5.8,0M909.6,1305.7a2.9,2.9 0 1,0 5.8,0a2.9,2.9 0 1,0 -5.8,0M911.8,1305.2a2.9,2.9 0 1,0 5.8,0a2.9,2.9 0 1,0 -5.8,0M914.0,1304.7a2.9,2.9 0 1,0 5.8,0a2.9,2.9 0 1,0 -5.8,0M916.2,1304.1a2.9,2.9 0 1,0 5.8,0a2.9,2.9 0 1,0 -5.8,0M918.4,1303.6a2.9,2.9 0 1,0 5.8,0a2.9,2.9 0 1,0 -5.8,0M920.6,1303.1a2.9,2.9 0 1,0 5.8,0a2.9,2.9 0 1,0 -5.8,0M922.8,1302.6a2.9,2.9 0 1,0 5.8,0a2.9,2.9 0 1,0 -5.8,0M925.0,1302.0a2.9,2.9 0 1,0 5.8,0a2.9,2.9 0 1,0 -5.8,0M927.2,1301.4a2.9,2.9 0 1,0 5.8,0a2.9,2.9 0 1,0 -5.8,0M929.4,1300.8a2.9,2.9 0 1,0 5.8,0a2.9,2.9 0 1,0 -5.8,0M931.6,1300.1a2.9,2.9 0 1,0 5.8,0a2.9,2.9 0 1,0 -5.8,0M933.8,1299.4a2.9,2.9 0 1,0 5.8,0a2.9,2.9 0 1,0 -5.8,0M936.0,1298.6a2.9,2.9 0 1,0 5.8,0a2.9,2.9 0 1,0 -5.8,0M938.2,1297.8a2.9,2.9 0 1,0 5.8,0a2.9,2.9 0 1,0 -5.8,0M940.4,1297.0a2.9,2.9 0 1,0 5.8,0a2.9,2.9 0 1,0 -5.8,0M942.6,1296.2a2.9,2.9 0 1,0 5.8,0a2.9,2.9 0 1,0 -5.8,0M944.8,1295.5a2.9,2.9 0 1,0 5.8,0a2.9,2.9 0 1,0 -5.8,0M947.0,1294.7a2.9,2.9 0 1,0 5.8,0a2.9,2.9 0 1,0 -5.8,0M949.2,1293.9a2.9,2.9 0 1,0 5.8,0a2.9,2.9 0 1,0 -5.8,0M951.4,1293.2a2.9,2.9 0 1,0 5.8,0a2.9,2.9 0 1,0 -5.8,0M953.6,1292.5a2.9,2.9 0 1,0 5.8,0a2.9,2.9 0 1,0 -5.8,0M955.8,1291.8a2.9,2.9 0 1,0 5.8,0a2.9,2.9 0 1,0 -5.8,0M958.0,1291.2a2.9,2.9 0 1,0 5.8,0a2.9,2.9 0 1,0 -5.8,0M960.2,1290.6a2.9,2.9 0 1,0 5.8,0a2.9,2.9 0 1,0 -5.8,0M962.4,1290.1a2.9,2.9 0 1,0 5.8,0a2.9,2.9 0 1,0 -5.8,0M964.6,1289.5a2.9,2.9 0 1,0 5.8,0a2.9,2.9 0 1,0 -5.8,0M966.8,1288.9a2.9,2.9 0 1,0 5.8,0a2.9,2.9 0 1,0 -5.8,0M969.0,1288.5a2.9,2.9 0 1,0 5.8,0a2.9,2.9 0 1,0 -5.8,0M971.2,1288.3a2.9,2.9 0 1,0 5.8,0a2.9,2.9 0 1,0 -5.8,0M973.4,1288.4a2.9,2.9 0 1,0 5.8,0a2.9,2.9 0 1,0 -5.8,0M975.6,1288.8a2.9,2.9 0 1,0 5.8,0a2.9,2.9 0 1,0 -5.8,0M977.8,1289.4a2.9,2.9 0 1,0 5.8,0a2.9,2.9 0 1,0 -5.8,0M980.0,1290.3a2.9,2.9 0 1,0 5.8,0a2.9,2.9 0 1,0 -5.8,0M982.2,1291.3a2.9,2.9 0 1,0 5.8,0a2.9,2.9 0 1,0 -5.8,0M984.4,1292.3a2.9,2.9 0 1,0 5.8,0a2.9,2.9 0 1,0 -5.8,0M986.6,1293.5a2.9,2.9 0 1,0 5.8,0a2.9,2.9 0 1,0 -5.8,0M988.8,1294.7a2.9,2.9 0 1,0 5.8,0a2.9,2.9 0 1,0 -5.8,0M991.0,1295.9a2.9,2.9 0 1,0 5.8,0a2.9,2.9 0 1,0 -5.8,0M993.2,1297.0a2.9,2.9 0 1,0 5.8,0a2.9,2.9 0 1,0 -5.8,0M995.4,1297.9a2.9,2.9 0 1,0 5.8,0a2.9,2.9 0 1,0 -5.8,0M997.6,1298.8a2.9,2.9 0 1,0 5.8,0a2.9,2.9 0 1,0 -5.8,0M999.8,1299.5a2.9,2.9 0 1,0 5.8,0a2.9,2.9 0 1,0 -5.8,0M1002.0,1300.3a2.9,2.9 0 1,0 5.8,0a2.9,2.9 0 1,0 -5.8,0M1004.2,1301.1a2.9,2.9 0 1,0 5.8,0a2.9,2.9 0 1,0 -5.8,0M1006.4,1301.9a2.9,2.9 0 1,0 5.8,0a2.9,2.9 0 1,0 -5.8,0M1008.6,1302.7a2.9,2.9 0 1,0 5.8,0a2.9,2.9 0 1,0 -5.8,0M1010.8,1303.6a2.9,2.9 0 1,0 5.8,0a2.9,2.9 0 1,0 -5.8,0M1013.0,1304.3a2.9,2.9 0 1,0 5.8,0a2.9,2.9 0 1,0 -5.8,0M1015.2,1305.1a2.9,2.9 0 1,0 5.8,0a2.9,2.9 0 1,0 -5.8,0M1017.4,1305.9a2.9,2.9 0 1,0 5.8,0a2.9,2.9 0 1,0 -5.8,0M1019.6,1306.5a2.9,2.9 0 1,0 5.8,0a2.9,2.9 0 1,0 -5.8,0M1021.8,1307.2a2.9,2.9 0 1,0 5.8,0a2.9,2.9 0 1,0 -5.8,0M1024.0,1307.8a2.9,2.9 0 1,0 5.8,0a2.9,2.9 0 1,0 -5.8,0M1026.2,1308.3a2.9,2.9 0 1,0 5.8,0a2.9,2.9 0 1,0 -5.8,0M1028.4,1308.7a2.9,2.9 0 1,0 5.8,0a2.9,2.9 0 1,0 -5.8,0M1030.6,1309.0a2.9,2.9 0 1,0 5.8,0a2.9,2.9 0 1,0 -5.8,0M1032.8,1309.3a2.9,2.9 0 1,0 5.8,0a2.9,2.9 0 1,0 -5.8,0M1035.0,1309.4a2.9,2.9 0 1,0 5.8,0a2.9,2.9 0 1,0 -5.8,0M1037.2,1309.4a2.9,2.9 0 1,0 5.8,0a2.9,2.9 0 1,0 -5.8,0M1039.4,1309.5a2.9,2.9 0 1,0 5.8,0a2.9,2.9 0 1,0 -5.8,0M1041.6,1309.5a2.9,2.9 0 1,0 5.8,0a2.9,2.9 0 1,0 -5.8,0M1043.8,1309.6a2.9,2.9 0 1,0 5.8,0a2.9,2.9 0 1,0 -5.8,0M1046.0,1309.6a2.9,2.9 0 1,0 5.8,0a2.9,2.9 0 1,0 -5.8,0M1048.2,1309.7a2.9,2.9 0 1,0 5.8,0a2.9,2.9 0 1,0 -5.8,0M1050.4,1309.7a2.9,2.9 0 1,0 5.8,0a2.9,2.9 0 1,0 -5.8,0M1052.6,1309.7a2.9,2.9 0 1,0 5.8,0a2.9,2.9 0 1,0 -5.8,0M1054.8,1309.8a2.9,2.9 0 1,0 5.8,0a2.9,2.9 0 1,0 -5.8,0M1057.0,1309.8a2.9,2.9 0 1,0 5.8,0a2.9,2.9 0 1,0 -5.8,0M1059.2,1309.8a2.9,2.9 0 1,0 5.8,0a2.9,2.9 0 1,0 -5.8,0M1061.4,1309.9a2.9,2.9 0 1,0 5.8,0a2.9,2.9 0 1,0 -5.8,0M1063.6,1309.9a2.9,2.9 0 1,0 5.8,0a2.9,2.9 0 1,0 -5.8,0M1065.8,1309.9a2.9,2.9 0 1,0 5.8,0a2.9,2.9 0 1,0 -5.8,0M1068.0,1310.0a2.9,2.9 0 1,0 5.8,0a2.9,2.9 0 1,0 -5.8,0M1070.2,1310.0a2.9,2.9 0 1,0 5.8,0a2.9,2.9 0 1,0 -5.8,0M1072.4,1310.0a2.9,2.9 0 1,0 5.8,0a2.9,2.9 0 1,0 -5.8,0M1074.6,1310.0a2.9,2.9 0 1,0 5.8,0a2.9,2.9 0 1,0 -5.8,0M1076.8,1310.1a2.9,2.9 0 1,0 5.8,0a2.9,2.9 0 1,0 -5.8,0M1079.0,1310.1a2.9,2.9 0 1,0 5.8,0a2.9,2.9 0 1,0 -5.8,0M1081.2,1310.1a2.9,2.9 0 1,0 5.8,0a2.9,2.9 0 1,0 -5.8,0M1083.4,1310.1a2.9,2.9 0 1,0 5.8,0a2.9,2.9 0 1,0 -5.8,0M1085.6,1310.1a2.9,2.9 0 1,0 5.8,0a2.9,2.9 0 1,0 -5.8,0M1087.8,1310.1a2.9,2.9 0 1,0 5.8,0a2.9,2.9 0 1,0 -5.8,0M1090.0,1310.1a2.9,2.9 0 1,0 5.8,0a2.9,2.9 0 1,0 -5.8,0M1092.2,1310.2a2.9,2.9 0 1,0 5.8,0a2.9,2.9 0 1,0 -5.8,0M1094.4,1310.2a2.9,2.9 0 1,0 5.8,0a2.9,2.9 0 1,0 -5.8,0M1096.6,1310.2a2.9,2.9 0 1,0 5.8,0a2.9,2.9 0 1,0 -5.8,0M1098.8,1310.2a2.9,2.9 0 1,0 5.8,0a2.9,2.9 0 1,0 -5.8,0M1101.0,1310.2a2.9,2.9 0 1,0 5.8,0a2.9,2.9 0 1,0 -5.8,0M1103.2,1310.2a2.9,2.9 0 1,0 5.8,0a2.9,2.9 0 1,0 -5.8,0M1105.4,1310.2a2.9,2.9 0 1,0 5.8,0a2.9,2.9 0 1,0 -5.8,0M1107.6,1310.2a2.9,2.9 0 1,0 5.8,0a2.9,2.9 0 1,0 -5.8,0M1109.8,1310.2a2.9,2.9 0 1,0 5.8,0a2.9,2.9 0 1,0 -5.8,0M1112.0,1310.2a2.9,2.9 0 1,0 5.8,0a2.9,2.9 0 1,0 -5.8,0M1114.2,1310.2a2.9,2.9 0 1,0 5.8,0a2.9,2.9 0 1,0 -5.8,0M1116.4,1310.2a2.9,2.9 0 1,0 5.8,0a2.9,2.9 0 1,0 -5.8,0M1118.6,1310.2a2.9,2.9 0 1,0 5.8,0a2.9,2.9 0 1,0 -5.8,0M1120.8,1310.1a2.9,2.9 0 1,0 5.8,0a2.9,2.9 0 1,0 -5.8,0M1123.0,1310.1a2.9,2.9 0 1,0 5.8,0a2.9,2.9 0 1,0 -5.8,0M1125.2,1310.1a2.9,2.9 0 1,0 5.8,0a2.9,2.9 0 1,0 -5.8,0M1127.4,1310.0a2.9,2.9 0 1,0 5.8,0a2.9,2.9 0 1,0 -5.8,0M1129.6,1310.0a2.9,2.9 0 1,0 5.8,0a2.9,2.9 0 1,0 -5.8,0M1131.8,1309.9a2.9,2.9 0 1,0 5.8,0a2.9,2.9 0 1,0 -5.8,0M1134.0,1309.8a2.9,2.9 0 1,0 5.8,0a2.9,2.9 0 1,0 -5.8,0M1136.2,1309.8a2.9,2.9 0 1,0 5.8,0a2.9,2.9 0 1,0 -5.8,0M1138.4,1309.7a2.9,2.9 0 1,0 5.8,0a2.9,2.9 0 1,0 -5.8,0M1140.6,1309.6a2.9,2.9 0 1,0 5.8,0a2.9,2.9 0 1,0 -5.8,0M1142.8,1309.5a2.9,2.9 0 1,0 5.8,0a2.9,2.9 0 1,0 -5.8,0M1145.0,1309.5a2.9,2.9 0 1,0 5.8,0a2.9,2.9 0 1,0 -5.8,0M1147.2,1309.4a2.9,2.9 0 1,0 5.8,0a2.9,2.9 0 1,0 -5.8,0M1149.4,1309.3a2.9,2.9 0 1,0 5.8,0a2.9,2.9 0 1,0 -5.8,0M1151.6,1309.2a2.9,2.9 0 1,0 5.8,0a2.9,2.9 0 1,0 -5.8,0M1153.8,1309.1a2.9,2.9 0 1,0 5.8,0a2.9,2.9 0 1,0 -5.8,0M1156.0,1308.9a2.9,2.9 0 1,0 5.8,0a2.9,2.9 0 1,0 -5.8,0M1158.2,1308.8a2.9,2.9 0 1,0 5.8,0a2.9,2.9 0 1,0 -5.8,0M1160.4,1308.7a2.9,2.9 0 1,0 5.8,0a2.9,2.9 0 1,0 -5.8,0M1162.6,1308.6a2.9,2.9 0 1,0 5.8,0a2.9,2.9 0 1,0 -5.8,0M1164.8,1308.4a2.9,2.9 0 1,0 5.8,0a2.9,2.9 0 1,0 -5.8,0M1167.0,1308.3a2.9,2.9 0 1,0 5.8,0a2.9,2.9 0 1,0 -5.8,0M1169.2,1308.1a2.9,2.9 0 1,0 5.8,0a2.9,2.9 0 1,0 -5.8,0M1171.4,1307.9a2.9,2.9 0 1,0 5.8,0a2.9,2.9 0 1,0 -5.8,0M1173.6,1307.5a2.9,2.9 0 1,0 5.8,0a2.9,2.9 0 1,0 -5.8,0M1175.8,1307.1a2.9,2.9 0 1,0 5.8,0a2.9,2.9 0 1,0 -5.8,0M1178.0,1306.6a2.9,2.9 0 1,0 5.8,0a2.9,2.9 0 1,0 -5.8,0M1180.2,1306.1a2.9,2.9 0 1,0 5.8,0a2.9,2.9 0 1,0 -5.8,0M1182.4,1305.5a2.9,2.9 0 1,0 5.8,0a2.9,2.9 0 1,0 -5.8,0M1184.6,1304.9a2.9,2.9 0 1,0 5.8,0a2.9,2.9 0 1,0 -5.8,0M1186.8,1304.3a2.9,2.9 0 1,0 5.8,0a2.9,2.9 0 1,0 -5.8,0M1189.0,1303.6a2.9,2.9 0 1,0 5.8,0a2.9,2.9 0 1,0 -5.8,0M1191.2,1302.9a2.9,2.9 0 1,0 5.8,0a2.9,2.9 0 1,0 -5.8,0M1193.4,1302.2a2.9,2.9 0 1,0 5.8,0a2.9,2.9 0 1,0 -5.8,0M1195.6,1301.5a2.9,2.9 0 1,0 5.8,0a2.9,2.9 0 1,0 -5.8,0M1197.8,1300.9a2.9,2.9 0 1,0 5.8,0a2.9,2.9 0 1,0 -5.8,0M1200.0,1300.2a2.9,2.9 0 1,0 5.8,0a2.9,2.9 0 1,0 -5.8,0M1202.2,1299.6a2.9,2.9 0 1,0 5.8,0a2.9,2.9 0 1,0 -5.8,0M1204.4,1299.0a2.9,2.9 0 1,0 5.8,0a2.9,2.9 0 1,0 -5.8,0M1206.6,1298.3a2.9,2.9 0 1,0 5.8,0a2.9,2.9 0 1,0 -5.8,0M1208.8,1297.6a2.9,2.9 0 1,0 5.8,0a2.9,2.9 0 1,0 -5.8,0M1211.0,1296.9a2.9,2.9 0 1,0 5.8,0a2.9,2.9 0 1,0 -5.8,0M1213.2,1296.1a2.9,2.9 0 1,0 5.8,0a2.9,2.9 0 1,0 -5.8,0M1215.4,1295.3a2.9,2.9 0 1,0 5.8,0a2.9,2.9 0 1,0 -5.8,0M1217.6,1294.5a2.9,2.9 0 1,0 5.8,0a2.9,2.9 0 1,0 -5.8,0M1219.8,1293.7a2.9,2.9 0 1,0 5.8,0a2.9,2.9 0 1,0 -5.8,0M1222.0,1293.0a2.9,2.9 0 1,0 5.8,0a2.9,2.9 0 1,0 -5.8,0M1224.2,1292.3a2.9,2.9 0 1,0 5.8,0a2.9,2.9 0 1,0 -5.8,0M1226.4,1291.7a2.9,2.9 0 1,0 5.8,0a2.9,2.9 0 1,0 -5.8,0M1228.6,1291.2a2.9,2.9 0 1,0 5.8,0a2.9,2.9 0 1,0 -5.8,0M1230.8,1290.9a2.9,2.9 0 1,0 5.8,0a2.9,2.9 0 1,0 -5.8,0M1233.0,1290.7a2.9,2.9 0 1,0 5.8,0a2.9,2.9 0 1,0 -5.8,0M1235.2,1290.6a2.9,2.9 0 1,0 5.8,0a2.9,2.9 0 1,0 -5.8,0M1237.4,1290.7a2.9,2.9 0 1,0 5.8,0a2.9,2.9 0 1,0 -5.8,0M1239.6,1290.9a2.9,2.9 0 1,0 5.8,0a2.9,2.9 0 1,0 -5.8,0M1241.8,1291.2a2.9,2.9 0 1,0 5.8,0a2.9,2.9 0 1,0 -5.8,0M1244.0,1291.6a2.9,2.9 0 1,0 5.8,0a2.9,2.9 0 1,0 -5.8,0M1246.2,1292.0a2.9,2.9 0 1,0 5.8,0a2.9,2.9 0 1,0 -5.8,0M1248.4,1292.5a2.9,2.9 0 1,0 5.8,0a2.9,2.9 0 1,0 -5.8,0M1250.6,1293.1a2.9,2.9 0 1,0 5.8,0a2.9,2.9 0 1,0 -5.8,0M1252.8,1293.7a2.9,2.9 0 1,0 5.8,0a2.9,2.9 0 1,0 -5.8,0M1255.0,1294.3a2.9,2.9 0 1,0 5.8,0a2.9,2.9 0 1,0 -5.8,0M1257.2,1294.9a2.9,2.9 0 1,0 5.8,0a2.9,2.9 0 1,0 -5.8,0M1259.4,1295.5a2.9,2.9 0 1,0 5.8,0a2.9,2.9 0 1,0 -5.8,0M1261.6,1296.1a2.9,2.9 0 1,0 5.8,0a2.9,2.9 0 1,0 -5.8,0M1263.8,1296.8a2.9,2.9 0 1,0 5.8,0a2.9,2.9 0 1,0 -5.8,0M1266.0,1297.6a2.9,2.9 0 1,0 5.8,0a2.9,2.9 0 1,0 -5.8,0M1268.2,1298.5a2.9,2.9 0 1,0 5.8,0a2.9,2.9 0 1,0 -5.8,0M1270.4,1299.4a2.9,2.9 0 1,0 5.8,0a2.9,2.9 0 1,0 -5.8,0M1272.6,1300.2a2.9,2.9 0 1,0 5.8,0a2.9,2.9 0 1,0 -5.8,0M1274.8,1301.0a2.9,2.9 0 1,0 5.8,0a2.9,2.9 0 1,0 -5.8,0M1277.0,1301.6a2.9,2.9 0 1,0 5.8,0a2.9,2.9 0 1,0 -5.8,0M1279.2,1302.1a2.9,2.9 0 1,0 5.8,0a2.9,2.9 0 1,0 -5.8,0M1281.4,1302.5a2.9,2.9 0 1,0 5.8,0a2.9,2.9 0 1,0 -5.8,0M1283.6,1303.0a2.9,2.9 0 1,0 5.8,0a2.9,2.9 0 1,0 -5.8,0M1285.8,1303.4a2.9,2.9 0 1,0 5.8,0a2.9,2.9 0 1,0 -5.8,0M1288.0,1303.8a2.9,2.9 0 1,0 5.8,0a2.9,2.9 0 1,0 -5.8,0M1290.2,1304.2a2.9,2.9 0 1,0 5.8,0a2.9,2.9 0 1,0 -5.8,0M1292.4,1304.6a2.9,2.9 0 1,0 5.8,0a2.9,2.9 0 1,0 -5.8,0M1294.6,1305.0a2.9,2.9 0 1,0 5.8,0a2.9,2.9 0 1,0 -5.8,0M1296.8,1305.3a2.9,2.9 0 1,0 5.8,0a2.9,2.9 0 1,0 -5.8,0M1299.0,1305.7a2.9,2.9 0 1,0 5.8,0a2.9,2.9 0 1,0 -5.8,0M1301.2,1306.0a2.9,2.9 0 1,0 5.8,0a2.9,2.9 0 1,0 -5.8,0M1303.4,1306.2a2.9,2.9 0 1,0 5.8,0a2.9,2.9 0 1,0 -5.8,0M1305.6,1306.5a2.9,2.9 0 1,0 5.8,0a2.9,2.9 0 1,0 -5.8,0M1307.8,1306.7a2.9,2.9 0 1,0 5.8,0a2.9,2.9 0 1,0 -5.8,0M1310.0,1306.9a2.9,2.9 0 1,0 5.8,0a2.9,2.9 0 1,0 -5.8,0M1312.2,1307.1a2.9,2.9 0 1,0 5.8,0a2.9,2.9 0 1,0 -5.8,0M1314.4,1307.2a2.9,2.9 0 1,0 5.8,0a2.9,2.9 0 1,0 -5.8,0M1316.6,1307.4a2.9,2.9 0 1,0 5.8,0a2.9,2.9 0 1,0 -5.8,0M1318.8,1307.5a2.9,2.9 0 1,0 5.8,0a2.9,2.9 0 1,0 -5.8,0M1321.0,1307.6a2.9,2.9 0 1,0 5.8,0a2.9,2.9 0 1,0 -5.8,0M1323.2,1307.7a2.9,2.9 0 1,0 5.8,0a2.9,2.9 0 1,0 -5.8,0M1325.4,1307.8a2.9,2.9 0 1,0 5.8,0a2.9,2.9 0 1,0 -5.8,0M1327.6,1308.0a2.9,2.9 0 1,0 5.8,0a2.9,2.9 0 1,0 -5.8,0M1329.8,1308.1a2.9,2.9 0 1,0 5.8,0a2.9,2.9 0 1,0 -5.8,0M1332.0,1308.2a2.9,2.9 0 1,0 5.8,0a2.9,2.9 0 1,0 -5.8,0M1334.2,1308.3a2.9,2.9 0 1,0 5.8,0a2.9,2.9 0 1,0 -5.8,0M1336.4,1308.4a2.9,2.9 0 1,0 5.8,0a2.9,2.9 0 1,0 -5.8,0M1338.6,1308.5a2.9,2.9 0 1,0 5.8,0a2.9,2.9 0 1,0 -5.8,0M1340.8,1308.5a2.9,2.9 0 1,0 5.8,0a2.9,2.9 0 1,0 -5.8,0M1343.0,1308.6a2.9,2.9 0 1,0 5.8,0a2.9,2.9 0 1,0 -5.8,0M1345.2,1308.7a2.9,2.9 0 1,0 5.8,0a2.9,2.9 0 1,0 -5.8,0M1347.4,1308.8a2.9,2.9 0 1,0 5.8,0a2.9,2.9 0 1,0 -5.8,0M1349.6,1308.8a2.9,2.9 0 1,0 5.8,0a2.9,2.9 0 1,0 -5.8,0M1351.8,1308.9a2.9,2.9 0 1,0 5.8,0a2.9,2.9 0 1,0 -5.8,0M1354.0,1309.0a2.9,2.9 0 1,0 5.8,0a2.9,2.9 0 1,0 -5.8,0M1356.2,1309.0a2.9,2.9 0 1,0 5.8,0a2.9,2.9 0 1,0 -5.8,0M1358.4,1309.1a2.9,2.9 0 1,0 5.8,0a2.9,2.9 0 1,0 -5.8,0M1360.6,1309.1a2.9,2.9 0 1,0 5.8,0a2.9,2.9 0 1,0 -5.8,0M1362.8,1309.1a2.9,2.9 0 1,0 5.8,0a2.9,2.9 0 1,0 -5.8,0M1365.0,1309.2a2.9,2.9 0 1,0 5.8,0a2.9,2.9 0 1,0 -5.8,0M1367.2,1309.2a2.9,2.9 0 1,0 5.8,0a2.9,2.9 0 1,0 -5.8,0M1369.4,1309.2a2.9,2.9 0 1,0 5.8,0a2.9,2.9 0 1,0 -5.8,0M1371.6,1309.2a2.9,2.9 0 1,0 5.8,0a2.9,2.9 0 1,0 -5.8,0M1373.8,1309.2a2.9,2.9 0 1,0 5.8,0a2.9,2.9 0 1,0 -5.8,0M1376.0,1309.2a2.9,2.9 0 1,0 5.8,0a2.9,2.9 0 1,0 -5.8,0M1378.2,1309.2a2.9,2.9 0 1,0 5.8,0a2.9,2.9 0 1,0 -5.8,0M1380.4,1309.1a2.9,2.9 0 1,0 5.8,0a2.9,2.9 0 1,0 -5.8,0M1382.6,1309.1a2.9,2.9 0 1,0 5.8,0a2.9,2.9 0 1,0 -5.8,0M1384.8,1309.1a2.9,2.9 0 1,0 5.8,0a2.9,2.9 0 1,0 -5.8,0M1387.0,1309.0a2.9,2.9 0 1,0 5.8,0a2.9,2.9 0 1,0 -5.8,0M1389.2,1309.0a2.9,2.9 0 1,0 5.8,0a2.9,2.9 0 1,0 -5.8,0M1391.4,1308.9a2.9,2.9 0 1,0 5.8,0a2.9,2.9 0 1,0 -5.8,0M1393.6,1308.8a2.9,2.9 0 1,0 5.8,0a2.9,2.9 0 1,0 -5.8,0M1395.8,1308.7a2.9,2.9 0 1,0 5.8,0a2.9,2.9 0 1,0 -5.8,0M1398.0,1308.6a2.9,2.9 0 1,0 5.8,0a2.9,2.9 0 1,0 -5.8,0M1400.2,1308.5a2.9,2.9 0 1,0 5.8,0a2.9,2.9 0 1,0 -5.8,0M1402.4,1308.4a2.9,2.9 0 1,0 5.8,0a2.9,2.9 0 1,0 -5.8,0M1404.6,1308.3a2.9,2.9 0 1,0 5.8,0a2.9,2.9 0 1,0 -5.8,0M1406.8,1308.2a2.9,2.9 0 1,0 5.8,0a2.9,2.9 0 1,0 -5.8,0M1409.0,1308.1a2.9,2.9 0 1,0 5.8,0a2.9,2.9 0 1,0 -5.8,0M1411.2,1308.0a2.9,2.9 0 1,0 5.8,0a2.9,2.9 0 1,0 -5.8,0M1413.4,1307.8a2.9,2.9 0 1,0 5.8,0a2.9,2.9 0 1,0 -5.8,0M1415.6,1307.7a2.9,2.9 0 1,0 5.8,0a2.9,2.9 0 1,0 -5.8,0M1417.8,1307.5a2.9,2.9 0 1,0 5.8,0a2.9,2.9 0 1,0 -5.8,0M1420.0,1307.4a2.9,2.9 0 1,0 5.8,0a2.9,2.9 0 1,0 -5.8,0M1422.2,1307.2a2.9,2.9 0 1,0 5.8,0a2.9,2.9 0 1,0 -5.8,0M1424.4,1307.0a2.9,2.9 0 1,0 5.8,0a2.9,2.9 0 1,0 -5.8,0M1426.6,1306.9a2.9,2.9 0 1,0 5.8,0a2.9,2.9 0 1,0 -5.8,0M1428.8,1306.7a2.9,2.9 0 1,0 5.8,0a2.9,2.9 0 1,0 -5.8,0M1431.0,1306.5a2.9,2.9 0 1,0 5.8,0a2.9,2.9 0 1,0 -5.8,0M1433.2,1306.3a2.9,2.9 0 1,0 5.8,0a2.9,2.9 0 1,0 -5.8,0M1435.4,1306.0a2.9,2.9 0 1,0 5.8,0a2.9,2.9 0 1,0 -5.8,0M1437.6,1305.6a2.9,2.9 0 1,0 5.8,0a2.9,2.9 0 1,0 -5.8,0M1439.8,1305.2a2.9,2.9 0 1,0 5.8,0a2.9,2.9 0 1,0 -5.8,0M1442.0,1304.7a2.9,2.9 0 1,0 5.8,0a2.9,2.9 0 1,0 -5.8,0M1444.2,1304.2a2.9,2.9 0 1,0 5.8,0a2.9,2.9 0 1,0 -5.8,0M1446.4,1303.6a2.9,2.9 0 1,0 5.8,0a2.9,2.9 0 1,0 -5.8,0M1448.6,1303.0a2.9,2.9 0 1,0 5.8,0a2.9,2.9 0 1,0 -5.8,0M1450.8,1302.4a2.9,2.9 0 1,0 5.8,0a2.9,2.9 0 1,0 -5.8,0M1453.0,1301.7a2.9,2.9 0 1,0 5.8,0a2.9,2.9 0 1,0 -5.8,0M1455.2,1300.9a2.9,2.9 0 1,0 5.8,0a2.9,2.9 0 1,0 -5.8,0M1457.4,1300.2a2.9,2.9 0 1,0 5.8,0a2.9,2.9 0 1,0 -5.8,0M1459.6,1299.4a2.9,2.9 0 1,0 5.8,0a2.9,2.9 0 1,0 -5.8,0M1461.8,1298.5a2.9,2.9 0 1,0 5.8,0a2.9,2.9 0 1,0 -5.8,0M1464.0,1297.6a2.9,2.9 0 1,0 5.8,0a2.9,2.9 0 1,0 -5.8,0M1466.2,1296.7a2.9,2.9 0 1,0 5.8,0a2.9,2.9 0 1,0 -5.8,0M1468.4,1295.8a2.9,2.9 0 1,0 5.8,0a2.9,2.9 0 1,0 -5.8,0M1470.6,1294.7a2.9,2.9 0 1,0 5.8,0a2.9,2.9 0 1,0 -5.8,0M1472.8,1293.3a2.9,2.9 0 1,0 5.8,0a2.9,2.9 0 1,0 -5.8,0M1475.0,1291.7a2.9,2.9 0 1,0 5.8,0a2.9,2.9 0 1,0 -5.8,0M1477.2,1289.9a2.9,2.9 0 1,0 5.8,0a2.9,2.9 0 1,0 -5.8,0M1479.4,1288.0a2.9,2.9 0 1,0 5.8,0a2.9,2.9 0 1,0 -5.8,0M1481.6,1286.1a2.9,2.9 0 1,0 5.8,0a2.9,2.9 0 1,0 -5.8,0M1483.8,1284.2a2.9,2.9 0 1,0 5.8,0a2.9,2.9 0 1,0 -5.8,0M1486.0,1282.3a2.9,2.9 0 1,0 5.8,0a2.9,2.9 0 1,0 -5.8,0M1488.2,1280.6a2.9,2.9 0 1,0 5.8,0a2.9,2.9 0 1,0 -5.8,0M1490.4,1279.1a2.9,2.9 0 1,0 5.8,0a2.9,2.9 0 1,0 -5.8,0M1492.6,1277.8a2.9,2.9 0 1,0 5.8,0a2.9,2.9 0 1,0 -5.8,0M1494.8,1276.3a2.9,2.9 0 1,0 5.8,0a2.9,2.9 0 1,0 -5.8,0M1497.0,1274.8a2.9,2.9 0 1,0 5.8,0a2.9,2.9 0 1,0 -5.8,0M1499.2,1273.4a2.9,2.9 0 1,0 5.8,0a2.9,2.9 0 1,0 -5.8,0M1501.4,1272.1a2.9,2.9 0 1,0 5.8,0a2.9,2.9 0 1,0 -5.8,0M1503.6,1270.9a2.9,2.9 0 1,0 5.8,0a2.9,2.9 0 1,0 -5.8,0M1505.8,1270.0a2.9,2.9 0 1,0 5.8,0a2.9,2.9 0 1,0 -5.8,0M1508.0,1269.3a2.9,2.9 0 1,0 5.8,0a2.9,2.9 0 1,0 -5.8,0M1510.2,1269.1a2.9,2.9 0 1,0 5.8,0a2.9,2.9 0 1,0 -5.8,0M1512.4,1269.3a2.9,2.9 0 1,0 5.8,0a2.9,2.9 0 1,0 -5.8,0M1514.6,1269.9a2.9,2.9 0 1,0 5.8,0a2.9,2.9 0 1,0 -5.8,0M1516.8,1270.9a2.9,2.9 0 1,0 5.8,0a2.9,2.9 0 1,0 -5.8,0M1519.0,1272.1a2.9,2.9 0 1,0 5.8,0a2.9,2.9 0 1,0 -5.8,0M1521.2,1273.5a2.9,2.9 0 1,0 5.8,0a2.9,2.9 0 1,0 -5.8,0M1523.4,1274.9a2.9,2.9 0 1,0 5.8,0a2.9,2.9 0 1,0 -5.8,0M1525.6,1276.4a2.9,2.9 0 1,0 5.8,0a2.9,2.9 0 1,0 -5.8,0M1527.8,1277.8a2.9,2.9 0 1,0 5.8,0a2.9,2.9 0 1,0 -5.8,0M1530.0,1279.0a2.9,2.9 0 1,0 5.8,0a2.9,2.9 0 1,0 -5.8,0M1532.2,1280.3a2.9,2.9 0 1,0 5.8,0a2.9,2.9 0 1,0 -5.8,0M1534.4,1281.7a2.9,2.9 0 1,0 5.8,0a2.9,2.9 0 1,0 -5.8,0M1536.6,1283.2a2.9,2.9 0 1,0 5.8,0a2.9,2.9 0 1,0 -5.8,0M1538.8,1284.7a2.9,2.9 0 1,0 5.8,0a2.9,2.9 0 1,0 -5.8,0M1541.0,1286.3a2.9,2.9 0 1,0 5.8,0a2.9,2.9 0 1,0 -5.8,0M1543.2,1287.8a2.9,2.9 0 1,0 5.8,0a2.9,2.9 0 1,0 -5.8,0M1545.4,1289.4a2.9,2.9 0 1,0 5.8,0a2.9,2.9 0 1,0 -5.8,0M1547.6,1290.9a2.9,2.9 0 1,0 5.8,0a2.9,2.9 0 1,0 -5.8,0M1549.8,1292.5a2.9,2.9 0 1,0 5.8,0a2.9,2.9 0 1,0 -5.8,0M1552.0,1293.9a2.9,2.9 0 1,0 5.8,0a2.9,2.9 0 1,0 -5.8,0M1554.2,1295.3a2.9,2.9 0 1,0 5.8,0a2.9,2.9 0 1,0 -5.8,0M1556.4,1296.5a2.9,2.9 0 1,0 5.8,0a2.9,2.9 0 1,0 -5.8,0M1558.6,1297.6a2.9,2.9 0 1,0 5.8,0a2.9,2.9 0 1,0 -5.8,0M1560.8,1298.6a2.9,2.9 0 1,0 5.8,0a2.9,2.9 0 1,0 -5.8,0M1563.0,1299.4a2.9,2.9 0 1,0 5.8,0a2.9,2.9 0 1,0 -5.8,0M1565.2,1300.1a2.9,2.9 0 1,0 5.8,0a2.9,2.9 0 1,0 -5.8,0M1567.4,1300.8a2.9,2.9 0 1,0 5.8,0a2.9,2.9 0 1,0 -5.8,0M1569.6,1301.4a2.9,2.9 0 1,0 5.8,0a2.9,2.9 0 1,0 -5.8,0M1571.8,1302.0a2.9,2.9 0 1,0 5.8,0a2.9,2.9 0 1,0 -5.8,0M1574.0,1302.6a2.9,2.9 0 1,0 5.8,0a2.9,2.9 0 1,0 -5.8,0M1576.2,1303.1a2.9,2.9 0 1,0 5.8,0a2.9,2.9 0 1,0 -5.8,0M1578.4,1303.7a2.9,2.9 0 1,0 5.8,0a2.9,2.9 0 1,0 -5.8,0M1580.6,1304.2a2.9,2.9 0 1,0 5.8,0a2.9,2.9 0 1,0 -5.8,0M1582.8,1304.6a2.9,2.9 0 1,0 5.8,0a2.9,2.9 0 1,0 -5.8,0M1585.0,1305.1a2.9,2.9 0 1,0 5.8,0a2.9,2.9 0 1,0 -5.8,0M1587.2,1305.5a2.9,2.9 0 1,0 5.8,0a2.9,2.9 0 1,0 -5.8,0M1589.4,1305.9a2.9,2.9 0 1,0 5.8,0a2.9,2.9 0 1,0 -5.8,0M1591.6,1306.2a2.9,2.9 0 1,0 5.8,0a2.9,2.9 0 1,0 -5.8,0M1593.8,1306.5a2.9,2.9 0 1,0 5.8,0a2.9,2.9 0 1,0 -5.8,0M1596.0,1306.8a2.9,2.9 0 1,0 5.8,0a2.9,2.9 0 1,0 -5.8,0M1598.2,1307.0a2.9,2.9 0 1,0 5.8,0a2.9,2.9 0 1,0 -5.8,0M1600.4,1307.2a2.9,2.9 0 1,0 5.8,0a2.9,2.9 0 1,0 -5.8,0M1602.6,1307.3a2.9,2.9 0 1,0 5.8,0a2.9,2.9 0 1,0 -5.8,0M1604.8,1307.5a2.9,2.9 0 1,0 5.8,0a2.9,2.9 0 1,0 -5.8,0M1607.0,1307.6a2.9,2.9 0 1,0 5.8,0a2.9,2.9 0 1,0 -5.8,0M1609.2,1307.7a2.9,2.9 0 1,0 5.8,0a2.9,2.9 0 1,0 -5.8,0M1611.4,1307.8a2.9,2.9 0 1,0 5.8,0a2.9,2.9 0 1,0 -5.8,0M1613.6,1307.9a2.9,2.9 0 1,0 5.8,0a2.9,2.9 0 1,0 -5.8,0M1615.8,1308.0a2.9,2.9 0 1,0 5.8,0a2.9,2.9 0 1,0 -5.8,0M1618.0,1308.1a2.9,2.9 0 1,0 5.8,0a2.9,2.9 0 1,0 -5.8,0M1620.2,1308.2a2.9,2.9 0 1,0 5.8,0a2.9,2.9 0 1,0 -5.8,0M1622.4,1308.3a2.9,2.9 0 1,0 5.8,0a2.9,2.9 0 1,0 -5.8,0M1624.6,1308.3a2.9,2.9 0 1,0 5.8,0a2.9,2.9 0 1,0 -5.8,0M1626.8,1308.4a2.9,2.9 0 1,0 5.8,0a2.9,2.9 0 1,0 -5.8,0M1629.0,1308.5a2.9,2.9 0 1,0 5.8,0a2.9,2.9 0 1,0 -5.8,0M1631.2,1308.5a2.9,2.9 0 1,0 5.8,0a2.9,2.9 0 1,0 -5.8,0M1633.4,1308.6a2.9,2.9 0 1,0 5.8,0a2.9,2.9 0 1,0 -5.8,0M1635.6,1308.7a2.9,2.9 0 1,0 5.8,0a2.9,2.9 0 1,0 -5.8,0M1637.8,1308.7a2.9,2.9 0 1,0 5.8,0a2.9,2.9 0 1,0 -5.8,0M1640.0,1308.8a2.9,2.9 0 1,0 5.8,0a2.9,2.9 0 1,0 -5.8,0M1642.2,1308.8a2.9,2.9 0 1,0 5.8,0a2.9,2.9 0 1,0 -5.8,0M1644.4,1308.9a2.9,2.9 0 1,0 5.8,0a2.9,2.9 0 1,0 -5.8,0M1646.6,1308.9a2.9,2.9 0 1,0 5.8,0a2.9,2.9 0 1,0 -5.8,0M1648.8,1309.0a2.9,2.9 0 1,0 5.8,0a2.9,2.9 0 1,0 -5.8,0M1651.0,1309.0a2.9,2.9 0 1,0 5.8,0a2.9,2.9 0 1,0 -5.8,0M1653.2,1309.1a2.9,2.9 0 1,0 5.8,0a2.9,2.9 0 1,0 -5.8,0M1655.4,1309.1a2.9,2.9 0 1,0 5.8,0a2.9,2.9 0 1,0 -5.8,0M1657.6,1309.2a2.9,2.9 0 1,0 5.8,0a2.9,2.9 0 1,0 -5.8,0M1659.8,1309.2a2.9,2.9 0 1,0 5.8,0a2.9,2.9 0 1,0 -5.8,0M1662.0,1309.3a2.9,2.9 0 1,0 5.8,0a2.9,2.9 0 1,0 -5.8,0M1664.2,1309.3a2.9,2.9 0 1,0 5.8,0a2.9,2.9 0 1,0 -5.8,0M1666.4,1309.4a2.9,2.9 0 1,0 5.8,0a2.9,2.9 0 1,0 -5.8,0M1668.6,1309.4a2.9,2.9 0 1,0 5.8,0a2.9,2.9 0 1,0 -5.8,0M1670.8,1309.5a2.9,2.9 0 1,0 5.8,0a2.9,2.9 0 1,0 -5.8,0M1673.0,1309.5a2.9,2.9 0 1,0 5.8,0a2.9,2.9 0 1,0 -5.8,0M1675.2,1309.5a2.9,2.9 0 1,0 5.8,0a2.9,2.9 0 1,0 -5.8,0M1677.4,1309.6a2.9,2.9 0 1,0 5.8,0a2.9,2.9 0 1,0 -5.8,0M1679.6,1309.6a2.9,2.9 0 1,0 5.8,0a2.9,2.9 0 1,0 -5.8,0M1681.8,1309.7a2.9,2.9 0 1,0 5.8,0a2.9,2.9 0 1,0 -5.8,0M1684.0,1309.7a2.9,2.9 0 1,0 5.8,0a2.9,2.9 0 1,0 -5.8,0M1686.2,1309.8a2.9,2.9 0 1,0 5.8,0a2.9,2.9 0 1,0 -5.8,0M1688.4,1309.8a2.9,2.9 0 1,0 5.8,0a2.9,2.9 0 1,0 -5.8,0M1690.6,1309.9a2.9,2.9 0 1,0 5.8,0a2.9,2.9 0 1,0 -5.8,0M1692.8,1309.9a2.9,2.9 0 1,0 5.8,0a2.9,2.9 0 1,0 -5.8,0M1695.0,1310.0a2.9,2.9 0 1,0 5.8,0a2.9,2.9 0 1,0 -5.8,0M1697.2,1310.0a2.9,2.9 0 1,0 5.8,0a2.9,2.9 0 1,0 -5.8,0M1699.4,1310.0a2.9,2.9 0 1,0 5.8,0a2.9,2.9 0 1,0 -5.8,0M1701.6,1310.1a2.9,2.9 0 1,0 5.8,0a2.9,2.9 0 1,0 -5.8,0M1703.8,1310.1a2.9,2.9 0 1,0 5.8,0a2.9,2.9 0 1,0 -5.8,0M1706.0,1310.1a2.9,2.9 0 1,0 5.8,0a2.9,2.9 0 1,0 -5.8,0M1708.2,1310.2a2.9,2.9 0 1,0 5.8,0a2.9,2.9 0 1,0 -5.8,0M1710.4,1310.2a2.9,2.9 0 1,0 5.8,0a2.9,2.9 0 1,0 -5.8,0M1712.6,1310.2a2.9,2.9 0 1,0 5.8,0a2.9,2.9 0 1,0 -5.8,0M1714.8,1310.3a2.9,2.9 0 1,0 5.8,0a2.9,2.9 0 1,0 -5.8,0M1717.0,1310.3a2.9,2.9 0 1,0 5.8,0a2.9,2.9 0 1,0 -5.8,0M1719.2,1310.3a2.9,2.9 0 1,0 5.8,0a2.9,2.9 0 1,0 -5.8,0M1721.4,1310.3a2.9,2.9 0 1,0 5.8,0a2.9,2.9 0 1,0 -5.8,0M1723.6,1310.4a2.9,2.9 0 1,0 5.8,0a2.9,2.9 0 1,0 -5.8,0M1725.8,1310.4a2.9,2.9 0 1,0 5.8,0a2.9,2.9 0 1,0 -5.8,0M1728.0,1310.4a2.9,2.9 0 1,0 5.8,0a2.9,2.9 0 1,0 -5.8,0M1730.2,1310.4a2.9,2.9 0 1,0 5.8,0a2.9,2.9 0 1,0 -5.8,0M1732.4,1310.4a2.9,2.9 0 1,0 5.8,0a2.9,2.9 0 1,0 -5.8,0M1734.6,1310.4a2.9,2.9 0 1,0 5.8,0a2.9,2.9 0 1,0 -5.8,0M1736.8,1310.4a2.9,2.9 0 1,0 5.8,0a2.9,2.9 0 1,0 -5.8,0M1739.0,1310.4a2.9,2.9 0 1,0 5.8,0a2.9,2.9 0 1,0 -5.8,0M1741.2,1310.4a2.9,2.9 0 1,0 5.8,0a2.9,2.9 0 1,0 -5.8,0M1743.4,1310.4a2.9,2.9 0 1,0 5.8,0a2.9,2.9 0 1,0 -5.8,0M1745.6,1310.4a2.9,2.9 0 1,0 5.8,0a2.9,2.9 0 1,0 -5.8,0M1747.8,1310.3a2.9,2.9 0 1,0 5.8,0a2.9,2.9 0 1,0 -5.8,0M1750.0,1310.3a2.9,2.9 0 1,0 5.8,0a2.9,2.9 0 1,0 -5.8,0M1752.2,1310.3a2.9,2.9 0 1,0 5.8,0a2.9,2.9 0 1,0 -5.8,0M1754.4,1310.3a2.9,2.9 0 1,0 5.8,0a2.9,2.9 0 1,0 -5.8,0M1756.6,1310.2a2.9,2.9 0 1,0 5.8,0a2.9,2.9 0 1,0 -5.8,0M1758.8,1310.2a2.9,2.9 0 1,0 5.8,0a2.9,2.9 0 1,0 -5.8,0M1761.0,1310.2a2.9,2.9 0 1,0 5.8,0a2.9,2.9 0 1,0 -5.8,0M1763.2,1310.1a2.9,2.9 0 1,0 5.8,0a2.9,2.9 0 1,0 -5.8,0M1765.4,1310.1a2.9,2.9 0 1,0 5.8,0a2.9,2.9 0 1,0 -5.8,0M1767.6,1310.1a2.9,2.9 0 1,0 5.8,0a2.9,2.9 0 1,0 -5.8,0M1769.8,1310.0a2.9,2.9 0 1,0 5.8,0a2.9,2.9 0 1,0 -5.8,0M1772.0,1310.0a2.9,2.9 0 1,0 5.8,0a2.9,2.9 0 1,0 -5.8,0M1774.2,1309.9a2.9,2.9 0 1,0 5.8,0a2.9,2.9 0 1,0 -5.8,0M1776.4,1309.9a2.9,2.9 0 1,0 5.8,0a2.9,2.9 0 1,0 -5.8,0M1778.6,1309.8a2.9,2.9 0 1,0 5.8,0a2.9,2.9 0 1,0 -5.8,0M1780.8,1309.8a2.9,2.9 0 1,0 5.8,0a2.9,2.9 0 1,0 -5.8,0M1783.0,1309.7a2.9,2.9 0 1,0 5.8,0a2.9,2.9 0 1,0 -5.8,0M1785.2,1309.7a2.9,2.9 0 1,0 5.8,0a2.9,2.9 0 1,0 -5.8,0M1787.4,1309.6a2.9,2.9 0 1,0 5.8,0a2.9,2.9 0 1,0 -5.8,0M1789.6,1309.6a2.9,2.9 0 1,0 5.8,0a2.9,2.9 0 1,0 -5.8,0M1791.8,1309.6a2.9,2.9 0 1,0 5.8,0a2.9,2.9 0 1,0 -5.8,0M1794.0,1309.5a2.9,2.9 0 1,0 5.8,0a2.9,2.9 0 1,0 -5.8,0M1796.2,1309.5a2.9,2.9 0 1,0 5.8,0a2.9,2.9 0 1,0 -5.8,0M1798.4,1309.4a2.9,2.9 0 1,0 5.8,0a2.9,2.9 0 1,0 -5.8,0M1800.6,1309.4a2.9,2.9 0 1,0 5.8,0a2.9,2.9 0 1,0 -5.8,0M1802.8,1309.3a2.9,2.9 0 1,0 5.8,0a2.9,2.9 0 1,0 -5.8,0M1805.0,1309.3a2.9,2.9 0 1,0 5.8,0a2.9,2.9 0 1,0 -5.8,0M1807.2,1309.3a2.9,2.9 0 1,0 5.8,0a2.9,2.9 0 1,0 -5.8,0M1809.4,1309.2a2.9,2.9 0 1,0 5.8,0a2.9,2.9 0 1,0 -5.8,0M1811.6,1309.2a2.9,2.9 0 1,0 5.8,0a2.9,2.9 0 1,0 -5.8,0M1813.8,1309.2a2.9,2.9 0 1,0 5.8,0a2.9,2.9 0 1,0 -5.8,0M1816.0,1309.2a2.9,2.9 0 1,0 5.8,0a2.9,2.9 0 1,0 -5.8,0M1818.2,1309.1a2.9,2.9 0 1,0 5.8,0a2.9,2.9 0 1,0 -5.8,0M1820.4,1309.1a2.9,2.9 0 1,0 5.8,0a2.9,2.9 0 1,0 -5.8,0M1822.6,1309.1a2.9,2.9 0 1,0 5.8,0a2.9,2.9 0 1,0 -5.8,0M1824.8,1309.0a2.9,2.9 0 1,0 5.8,0a2.9,2.9 0 1,0 -5.8,0M1827.0,1309.0a2.9,2.9 0 1,0 5.8,0a2.9,2.9 0 1,0 -5.8,0M1829.2,1309.0a2.9,2.9 0 1,0 5.8,0a2.9,2.9 0 1,0 -5.8,0M1831.4,1309.0a2.9,2.9 0 1,0 5.8,0a2.9,2.9 0 1,0 -5.8,0M1833.6,1308.9a2.9,2.9 0 1,0 5.8,0a2.9,2.9 0 1,0 -5.8,0M1835.8,1308.9a2.9,2.9 0 1,0 5.8,0a2.9,2.9 0 1,0 -5.8,0M1838.0,1308.9a2.9,2.9 0 1,0 5.8,0a2.9,2.9 0 1,0 -5.8,0M1840.2,1308.9a2.9,2.9 0 1,0 5.8,0a2.9,2.9 0 1,0 -5.8,0M1842.4,1308.8a2.9,2.9 0 1,0 5.8,0a2.9,2.9 0 1,0 -5.8,0M1844.6,1308.8a2.9,2.9 0 1,0 5.8,0a2.9,2.9 0 1,0 -5.8,0M1846.8,1308.8a2.9,2.9 0 1,0 5.8,0a2.9,2.9 0 1,0 -5.8,0M1849.0,1308.8a2.9,2.9 0 1,0 5.8,0a2.9,2.9 0 1,0 -5.8,0M1851.2,1308.7a2.9,2.9 0 1,0 5.8,0a2.9,2.9 0 1,0 -5.8,0M1853.4,1308.7a2.9,2.9 0 1,0 5.8,0a2.9,2.9 0 1,0 -5.8,0M1855.6,1308.7a2.9,2.9 0 1,0 5.8,0a2.9,2.9 0 1,0 -5.8,0M1857.8,1308.7a2.9,2.9 0 1,0 5.8,0a2.9,2.9 0 1,0 -5.8,0M1860.0,1308.6a2.9,2.9 0 1,0 5.8,0a2.9,2.9 0 1,0 -5.8,0M1862.2,1308.6a2.9,2.9 0 1,0 5.8,0a2.9,2.9 0 1,0 -5.8,0M1864.4,1308.6a2.9,2.9 0 1,0 5.8,0a2.9,2.9 0 1,0 -5.8,0M1866.6,1308.6a2.9,2.9 0 1,0 5.8,0a2.9,2.9 0 1,0 -5.8,0M1868.8,1308.6a2.9,2.9 0 1,0 5.8,0a2.9,2.9 0 1,0 -5.8,0M1871.0,1308.5a2.9,2.9 0 1,0 5.8,0a2.9,2.9 0 1,0 -5.8,0M1873.2,1308.5a2.9,2.9 0 1,0 5.8,0a2.9,2.9 0 1,0 -5.8,0" fill="#202020" stroke="#000" stroke-width="1.4"/>
<line x1="406.90" y1="29.00" x2="406.90" y2="1327.00" stroke="#454545" stroke-width="3.4"/>
<line x1="703.60" y1="373.70" x2="703.60" y2="1319.00" stroke="#222" stroke-width="3"/>
<rect x="207.6" y="34.5" width="1670.90" height="1297.50" fill="none" stroke="#000" stroke-width="4.0"/>
<line x1="207.60" y1="1332.00" x2="207.60" y2="1345.50" stroke="#000" stroke-width="3.8"/>
<line x1="318.99" y1="1332.00" x2="318.99" y2="1356.00" stroke="#000" stroke-width="3.8"/>
<line x1="430.39" y1="1332.00" x2="430.39" y2="1345.50" stroke="#000" stroke-width="3.8"/>
<line x1="541.78" y1="1332.00" x2="541.78" y2="1356.00" stroke="#000" stroke-width="3.8"/>
<line x1="653.17" y1="1332.00" x2="653.17" y2="1345.50" stroke="#000" stroke-width="3.8"/>
<line x1="764.57" y1="1332.00" x2="764.57" y2="1356.00" stroke="#000" stroke-width="3.8"/>
<line x1="875.96" y1="1332.00" x2="875.96" y2="1345.50" stroke="#000" stroke-width="3.8"/>
<line x1="987.35" y1="1332.00" x2="987.35" y2="1356.00" stroke="#000" stroke-width="3.8"/>
<line x1="1098.75" y1="1332.00" x2="1098.75" y2="1345.50" stroke="#000" stroke-width="3.8"/>
<line x1="1210.14" y1="1332.00" x2="1210.14" y2="1356.00" stroke="#000" stroke-width="3.8"/>
<line x1="1321.53" y1="1332.00" x2="1321.53" y2="1345.50" stroke="#000" stroke-width="3.8"/>
<line x1="1432.93" y1="1332.00" x2="1432.93" y2="1356.00" stroke="#000" stroke-width="3.8"/>
<line x1="1544.32" y1="1332.00" x2="1544.32" y2="1345.50" stroke="#000" stroke-width="3.8"/>
<line x1="1655.71" y1="1332.00" x2="1655.71" y2="1356.00" stroke="#000" stroke-width="3.8"/>
<line x1="1767.11" y1="1332.00" x2="1767.11" y2="1345.50" stroke="#000" stroke-width="3.8"/>
<line x1="1878.50" y1="1332.00" x2="1878.50" y2="1356.00" stroke="#000" stroke-width="3.8"/>
<text transform="matrix(0.9800 0 0 1 238.31 1445.03)" font-size="97.18" fill="#000">100</text>
<text transform="matrix(0.9800 0 0 1 462.33 1445.03)" font-size="97.18" fill="#000">200</text>
<text transform="matrix(0.9800 0 0 1 685.69 1445.03)" font-size="97.18" fill="#000">300</text>
<text transform="matrix(0.9800 0 0 1 909.19 1445.03)" font-size="97.18" fill="#000">400</text>
<text transform="matrix(0.9800 0 0 1 1131.17 1445.03)" font-size="97.18" fill="#000">500</text>
<text transform="matrix(0.9800 0 0 1 1353.43 1445.03)" font-size="97.18" fill="#000">600</text>
<text transform="matrix(0.9800 0 0 1 1576.22 1445.03)" font-size="97.18" fill="#000">700</text>
<text transform="matrix(0.9800 0 0 1 1799.39 1445.03)" font-size="97.18" fill="#000">800</text>
<text transform="matrix(1.0081 0 0 1 524.19 1604.64)" font-size="123.50" fill="#000">Raman Shift (cm</text>
<text transform="matrix(0.8351 0 0 1 1448.95 1536.60)" font-size="77.47" fill="#000">-1</text>
<text transform="matrix(0.8861 0 0 1 1521.24 1604.64)" font-size="123.50" fill="#000">)</text>
<text transform="rotate(-90) matrix(1.0071 0 0 1 -1082.45 117.20)" font-size="123.58" fill="#000">Intensity (a.u.)</text>
<text transform="matrix(0.9454 0 0 1 1012.32 147.58)" font-size="131.01" fill="#000">(a)</text>
<text transform="matrix(1.0109 0 0 1 1378.88 115.48)" font-size="72.24" fill="#960000">CuO-TiO</text>
<text transform="matrix(1.0048 0 0 1 1668.65 144.40)" font-size="46.70" fill="#960000">2</text>
<text transform="matrix(0.9835 0 0 1 1713.30 114.80)" font-size="73.11" fill="#960000">NT</text>
<text transform="matrix(1.0205 0 0 1 1563.77 582.57)" font-size="72.52" fill="#000080">TiO</text>
<text transform="matrix(1.0382 0 0 1 1680.14 610.30)" font-size="45.42" fill="#000080">2</text>
<text transform="matrix(0.9766 0 0 1 1724.86 582.00)" font-size="74.13" fill="#000080">NT</text>
<text transform="matrix(1.0277 0 0 1 1380.85 1056.79)" font-size="71.02" fill="#000">Anatase TiO</text>
<text transform="matrix(1.1209 0 0 1 1782.41 1085.00)" font-size="44.41" fill="#000">2</text>
<text transform="matrix(0.9614 0 0 1 234.27 86.40)" font-size="47.09" font-weight="bold" fill="#000">E</text>
<text transform="matrix(1.0675 0 0 1 264.19 104.96)" font-size="27.56" font-weight="bold" fill="#000">g</text>
<text transform="matrix(0.9686 0 0 1 210.66 167.93)" font-size="46.56" font-weight="bold" fill="#000">145 cm</text>
<text transform="matrix(0.8672 0 0 1 361.95 143.40)" font-size="28.20" font-weight="bold" fill="#000">-1</text>
<text transform="matrix(0.9596 0 0 1 232.44 597.90)" font-size="41.42" font-weight="bold" fill="#000">E</text>
<text transform="matrix(1.0625 0 0 1 259.85 613.70)" font-size="21.70" font-weight="bold" fill="#000">g</text>
<text transform="matrix(0.9936 0 0 1 209.35 669.89)" font-size="40.68" font-weight="bold" fill="#000">140 cm</text>
<text transform="matrix(0.8062 0 0 1 346.46 647.80)" font-size="23.69" font-weight="bold" fill="#000">-1</text>
<text transform="matrix(0.9577 0 0 1 236.46 1054.90)" font-size="41.13" font-weight="bold" fill="#000">E</text>
<text transform="matrix(1.0160 0 0 1 263.96 1070.43)" font-size="22.50" font-weight="bold" fill="#000">g</text>
<text transform="matrix(1.0191 0 0 1 213.25 1127.00)" font-size="39.69" font-weight="bold" fill="#000">140 cm</text>
<text transform="matrix(0.8424 0 0 1 350.46 1106.30)" font-size="22.38" font-weight="bold" fill="#000">-1</text>
<rect x="613.9" y="119.3" width="236.1" height="230.6" fill="none" stroke="#ff5050" stroke-opacity="0.75" stroke-width="2.2" stroke-dasharray="2 2.9"/>
<text transform="matrix(0.9277 0 0 1 645.70 182.82)" font-size="78.11" fill="#000">CuO</text>
<text transform="matrix(0.9259 0 0 1 682.09 248.70)" font-size="47.97" font-weight="bold" fill="#000">A</text>
<text transform="matrix(1.1253 0 0 1 713.75 266.67)" font-size="27.03" font-weight="bold" fill="#000">g</text>
<text transform="matrix(0.9710 0 0 1 621.45 330.47)" font-size="46.30" font-weight="bold" fill="#000">(274 cm</text>
<text transform="matrix(0.8558 0 0 1 788.64 304.60)" font-size="25.87" font-weight="bold" fill="#000">-1</text>
<text transform="translate(810.08 330.38)" font-size="46.73" font-weight="bold" fill="#000">)</text>
<text transform="matrix(0.9775 0 0 1 950.84 363.80)" font-size="49.42" fill="#000">B</text>
<text transform="matrix(1.0361 0 0 1 981.80 379.90)" font-size="27.90" fill="#000">1g</text>
<text transform="matrix(0.9864 0 0 1 1154.68 351.20)" font-size="48.40" fill="#000">B</text>
<text transform="matrix(1.0660 0 0 1 1186.60 368.66)" font-size="27.12" fill="#000">1g</text>
<text transform="matrix(0.9624 0 0 1 1217.52 351.20)" font-size="48.40" fill="#000">+A</text>
<text transform="matrix(1.0849 0 0 1 1274.66 368.66)" font-size="27.12" fill="#000">1g</text>
<text transform="translate(1474.71 344.60)" font-size="45.06" fill="#000">E</text>
<text transform="matrix(1.2983 0 0 1 1505.11 363.80)" font-size="25.50" fill="#000">g</text>
<line x1="714.70" y1="360.00" x2="714.70" y2="436.50" stroke="#555" stroke-width="1.7"/>
<polygon points="714.70,463.50 707.20,434.50 722.20,434.50" fill="#000"/>
<line x1="969.80" y1="379.80" x2="969.80" y2="412.00" stroke="#555" stroke-width="1.7"/>
<polygon points="969.80,440.50 962.05,410.00 977.55,410.00" fill="#000"/>
<line x1="1223.80" y1="390.00" x2="1223.80" y2="424.20" stroke="#555" stroke-width="1.7"/>
<polygon points="1223.80,451.20 1216.05,422.20 1231.55,422.20" fill="#000"/>
<line x1="1498.50" y1="371.40" x2="1498.50" y2="404.80" stroke="#555" stroke-width="1.7"/>
<polygon points="1498.50,433.80 1490.50,402.80 1506.50,402.80" fill="#000"/>
<text transform="matrix(0.9520 0 0 1 553.48 693.00)" font-size="47.67" fill="#000">E</text>
<text transform="matrix(1.1173 0 0 1 584.02 710.63)" font-size="27.25" fill="#000">g</text>
<text transform="matrix(0.9753 0 0 1 502.81 773.73)" font-size="47.03" fill="#000">195 cm</text>
<text transform="matrix(0.8818 0 0 1 652.58 750.20)" font-size="28.78" fill="#000">-1</text>
<line x1="557.50" y1="784.20" x2="538.95" y2="841.41" stroke="#555" stroke-width="1.7"/>
<polygon points="530.00,869.00 532.43,837.20 546.70,841.83" fill="#000"/>
<text transform="matrix(1.0545 0 0 1 965.22 685.10)" font-size="47.24" fill="#000">B</text>
<text transform="matrix(1.1614 0 0 1 996.56 702.43)" font-size="25.33" fill="#000">1g</text>
<text transform="matrix(0.9789 0 0 1 914.96 767.33)" font-size="46.75" fill="#000">394 cm</text>
<text transform="matrix(0.8643 0 0 1 1065.87 742.30)" font-size="29.80" fill="#000">-1</text>
<line x1="967.20" y1="785.90" x2="967.20" y2="817.50" stroke="#555" stroke-width="1.7"/>
<polygon points="967.20,844.50 959.70,815.50 974.70,815.50" fill="#000"/>
<text transform="matrix(1.0187 0 0 1 1161.75 693.50)" font-size="47.24" fill="#000">B</text>
<text transform="matrix(1.1124 0 0 1 1192.06 711.20)" font-size="26.45" fill="#000">1g</text>
<text transform="matrix(0.9914 0 0 1 1223.01 693.50)" font-size="47.24" fill="#000">+A</text>
<text transform="matrix(1.0774 0 0 1 1282.33 711.20)" font-size="26.45" fill="#000">1g</text>
<text transform="matrix(1.0392 0 0 1 1147.95 774.86)" font-size="44.49" fill="#000">510 cm</text>
<text transform="matrix(0.8234 0 0 1 1299.39 751.30)" font-size="30.67" fill="#000">-1</text>
<line x1="1230.40" y1="791.90" x2="1230.40" y2="823.50" stroke="#555" stroke-width="1.7"/>
<polygon points="1230.40,850.50 1222.90,821.50 1237.90,821.50" fill="#000"/>
<text transform="matrix(0.9384 0 0 1 1486.45 700.30)" font-size="47.38" fill="#000">E</text>
<text transform="matrix(1.2332 0 0 1 1515.54 717.63)" font-size="26.31" fill="#000">g</text>
<text transform="matrix(0.9934 0 0 1 1433.02 781.93)" font-size="46.89" fill="#000">637 cm</text>
<text transform="matrix(0.9947 0 0 1 1584.76 755.70)" font-size="26.02" fill="#000">-1</text>
<line x1="1512.60" y1="795.70" x2="1512.60" y2="824.80" stroke="#555" stroke-width="1.7"/>
<polygon points="1512.60,851.80 1505.10,822.80 1520.10,822.80" fill="#000"/>
<path d="M194.7,2044.5 L200.4,2044.1 L206.2,2043.7 L211.9,2043.3 L217.7,2042.8 L223.4,2042.3 L229.2,2041.8 L234.9,2041.2 L240.7,2040.6 L246.4,2040.0 L252.2,2039.3 L257.9,2038.7 L263.7,2038.0 L269.4,2037.3 L275.2,2036.5 L280.9,2035.7 L286.7,2034.9 L292.4,2034.0 L298.2,2033.0 L303.9,2032.0 L309.7,2031.0 L315.4,2029.9 L321.2,2028.8 L326.9,2027.6 L332.7,2026.3 L338.4,2025.0 L344.2,2023.6 L349.9,2022.2 L355.7,2020.7 L361.4,2019.1 L367.2,2017.4 L372.9,2015.5 L378.7,2013.3 L384.4,2010.6 L390.2,2007.1 L395.9,2003.4 L401.7,1999.7 L407.4,1996.4 L413.2,1993.2 L418.9,1990.1 L424.7,1987.0 L430.4,1983.9 L436.2,1980.9 L441.9,1977.9 L447.7,1975.0 L453.4,1972.3 L459.2,1969.6 L464.9,1967.1 L470.7,1964.6 L476.4,1962.3 L482.2,1960.2 L487.9,1957.9 L493.7,1955.4 L499.4,1952.4 L505.2,1948.9 L510.9,1944.3 L516.7,1938.5 L522.5,1932.2 L528.2,1925.2 L534.0,1916.3 L539.7,1905.9 L545.5,1895.1 L551.2,1883.1 L557.0,1870.2 L562.7,1856.1 L568.5,1842.5 L574.2,1828.3 L580.0,1814.9 L585.7,1801.2 L591.5,1789.2 L597.2,1778.1 L603.0,1769.7 L608.7,1762.9 L614.5,1758.9 L620.2,1758.2 L626.0,1759.1 L631.7,1763.4 L637.5,1770.1 L643.2,1778.5 L649.0,1788.9 L654.7,1801.8 L660.5,1814.4 L666.2,1828.2 L672.0,1844.7 L677.7,1858.4 L683.5,1871.3 L689.2,1885.0 L695.0,1897.4 L700.7,1909.2 L706.5,1919.7 L712.2,1929.5 L718.0,1938.1 L723.7,1945.9 L729.5,1953.1 L735.2,1959.2 L741.0,1964.8 L746.7,1970.0 L752.5,1975.0 L758.2,1979.9 L764.0,1984.4 L769.7,1988.0 L775.5,1991.2 L781.2,1994.2 L787.0,1997.1 L792.7,1999.5 L798.5,2001.5 L804.2,2003.2 L810.0,2004.6 L815.7,2005.8 L821.5,2006.8 L827.2,2007.6 L833.0,2008.3 L838.7,2008.9 L844.5,2009.5 L850.2,2009.9 L856.0,2010.2 L861.7,2010.5 L867.5,2010.7 L873.2,2010.9 L879.0,2011.3 L884.7,2011.8 L890.5,2012.6 L896.2,2013.5 L902.0,2014.5 L907.7,2015.6 L913.5,2016.7 L919.2,2018.0 L925.0,2019.2 L930.7,2020.5" fill="none" stroke="#960000" stroke-width="1.8" stroke-opacity="0.6"/>
<path d="M191.9,2044.5a2.8,2.8 0 1,0 5.6,0a2.8,2.8 0 1,0 -5.6,0M197.6,2044.1a2.8,2.8 0 1,0 5.6,0a2.8,2.8 0 1,0 -5.6,0M203.4,2043.7a2.8,2.8 0 1,0 5.6,0a2.8,2.8 0 1,0 -5.6,0M209.1,2043.3a2.8,2.8 0 1,0 5.6,0a2.8,2.8 0 1,0 -5.6,0M214.9,2042.8a2.8,2.8 0 1,0 5.6,0a2.8,2.8 0 1,0 -5.6,0M220.6,2042.3a2.8,2.8 0 1,0 5.6,0a2.8,2.8 0 1,0 -5.6,0M226.4,2041.8a2.8,2.8 0 1,0 5.6,0a2.8,2.8 0 1,0 -5.6,0M232.1,2041.2a2.8,2.8 0 1,0 5.6,0a2.8,2.8 0 1,0 -5.6,0M237.9,2040.6a2.8,2.8 0 1,0 5.6,0a2.8,2.8 0 1,0 -5.6,0M243.6,2040.0a2.8,2.8 0 1,0 5.6,0a2.8,2.8 0 1,0 -5.6,0M249.4,2039.3a2.8,2.8 0 1,0 5.6,0a2.8,2.8 0 1,0 -5.6,0M255.1,2038.7a2.8,2.8 0 1,0 5.6,0a2.8,2.8 0 1,0 -5.6,0M260.9,2038.0a2.8,2.8 0 1,0 5.6,0a2.8,2.8 0 1,0 -5.6,0M266.6,2037.3a2.8,2.8 0 1,0 5.6,0a2.8,2.8 0 1,0 -5.6,0M272.4,2036.5a2.8,2.8 0 1,0 5.6,0a2.8,2.8 0 1,0 -5.6,0M278.1,2035.7a2.8,2.8 0 1,0 5.6,0a2.8,2.8 0 1,0 -5.6,0M283.9,2034.9a2.8,2.8 0 1,0 5.6,0a2.8,2.8 0 1,0 -5.6,0M289.6,2034.0a2.8,2.8 0 1,0 5.6,0a2.8,2.8 0 1,0 -5.6,0M295.4,2033.0a2.8,2.8 0 1,0 5.6,0a2.8,2.8 0 1,0 -5.6,0M301.1,2032.0a2.8,2.8 0 1,0 5.6,0a2.8,2.8 0 1,0 -5.6,0M306.9,2031.0a2.8,2.8 0 1,0 5.6,0a2.8,2.8 0 1,0 -5.6,0M312.6,2029.9a2.8,2.8 0 1,0 5.6,0a2.8,2.8 0 1,0 -5.6,0M318.4,2028.8a2.8,2.8 0 1,0 5.6,0a2.8,2.8 0 1,0 -5.6,0M324.1,2027.6a2.8,2.8 0 1,0 5.6,0a2.8,2.8 0 1,0 -5.6,0M329.9,2026.3a2.8,2.8 0 1,0 5.6,0a2.8,2.8 0 1,0 -5.6,0M335.6,2025.0a2.8,2.8 0 1,0 5.6,0a2.8,2.8 0 1,0 -5.6,0M341.4,2023.6a2.8,2.8 0 1,0 5.6,0a2.8,2.8 0 1,0 -5.6,0M347.1,2022.2a2.8,2.8 0 1,0 5.6,0a2.8,2.8 0 1,0 -5.6,0M352.9,2020.7a2.8,2.8 0 1,0 5.6,0a2.8,2.8 0 1,0 -5.6,0M358.6,2019.1a2.8,2.8 0 1,0 5.6,0a2.8,2.8 0 1,0 -5.6,0M364.4,2017.4a2.8,2.8 0 1,0 5.6,0a2.8,2.8 0 1,0 -5.6,0M370.1,2015.5a2.8,2.8 0 1,0 5.6,0a2.8,2.8 0 1,0 -5.6,0M375.9,2013.3a2.8,2.8 0 1,0 5.6,0a2.8,2.8 0 1,0 -5.6,0M381.6,2010.6a2.8,2.8 0 1,0 5.6,0a2.8,2.8 0 1,0 -5.6,0M387.4,2007.1a2.8,2.8 0 1,0 5.6,0a2.8,2.8 0 1,0 -5.6,0M393.1,2003.4a2.8,2.8 0 1,0 5.6,0a2.8,2.8 0 1,0 -5.6,0M398.9,1999.7a2.8,2.8 0 1,0 5.6,0a2.8,2.8 0 1,0 -5.6,0M404.6,1996.4a2.8,2.8 0 1,0 5.6,0a2.8,2.8 0 1,0 -5.6,0M410.4,1993.2a2.8,2.8 0 1,0 5.6,0a2.8,2.8 0 1,0 -5.6,0M416.1,1990.1a2.8,2.8 0 1,0 5.6,0a2.8,2.8 0 1,0 -5.6,0M421.9,1987.0a2.8,2.8 0 1,0 5.6,0a2.8,2.8 0 1,0 -5.6,0M427.6,1983.9a2.8,2.8 0 1,0 5.6,0a2.8,2.8 0 1,0 -5.6,0M433.4,1980.9a2.8,2.8 0 1,0 5.6,0a2.8,2.8 0 1,0 -5.6,0M439.1,1977.9a2.8,2.8 0 1,0 5.6,0a2.8,2.8 0 1,0 -5.6,0M444.9,1975.0a2.8,2.8 0 1,0 5.6,0a2.8,2.8 0 1,0 -5.6,0M450.6,1972.3a2.8,2.8 0 1,0 5.6,0a2.8,2.8 0 1,0 -5.6,0M456.4,1969.6a2.8,2.8 0 1,0 5.6,0a2.8,2.8 0 1,0 -5.6,0M462.1,1967.1a2.8,2.8 0 1,0 5.6,0a2.8,2.8 0 1,0 -5.6,0M467.9,1964.6a2.8,2.8 0 1,0 5.6,0a2.8,2.8 0 1,0 -5.6,0M473.6,1962.3a2.8,2.8 0 1,0 5.6,0a2.8,2.8 0 1,0 -5.6,0M479.4,1960.2a2.8,2.8 0 1,0 5.6,0a2.8,2.8 0 1,0 -5.6,0M485.1,1957.9a2.8,2.8 0 1,0 5.6,0a2.8,2.8 0 1,0 -5.6,0M490.9,1955.4a2.8,2.8 0 1,0 5.6,0a2.8,2.8 0 1,0 -5.6,0M496.6,1952.4a2.8,2.8 0 1,0 5.6,0a2.8,2.8 0 1,0 -5.6,0M502.4,1948.9a2.8,2.8 0 1,0 5.6,0a2.8,2.8 0 1,0 -5.6,0M508.1,1944.3a2.8,2.8 0 1,0 5.6,0a2.8,2.8 0 1,0 -5.6,0M513.9,1938.5a2.8,2.8 0 1,0 5.6,0a2.8,2.8 0 1,0 -5.6,0M519.7,1932.2a2.8,2.8 0 1,0 5.6,0a2.8,2.8 0 1,0 -5.6,0M525.4,1925.2a2.8,2.8 0 1,0 5.6,0a2.8,2.8 0 1,0 -5.6,0M531.2,1916.3a2.8,2.8 0 1,0 5.6,0a2.8,2.8 0 1,0 -5.6,0M536.9,1905.9a2.8,2.8 0 1,0 5.6,0a2.8,2.8 0 1,0 -5.6,0M542.7,1895.1a2.8,2.8 0 1,0 5.6,0a2.8,2.8 0 1,0 -5.6,0M548.4,1883.1a2.8,2.8 0 1,0 5.6,0a2.8,2.8 0 1,0 -5.6,0M554.2,1870.2a2.8,2.8 0 1,0 5.6,0a2.8,2.8 0 1,0 -5.6,0M559.9,1856.1a2.8,2.8 0 1,0 5.6,0a2.8,2.8 0 1,0 -5.6,0M565.7,1842.5a2.8,2.8 0 1,0 5.6,0a2.8,2.8 0 1,0 -5.6,0M571.4,1828.3a2.8,2.8 0 1,0 5.6,0a2.8,2.8 0 1,0 -5.6,0M577.2,1814.9a2.8,2.8 0 1,0 5.6,0a2.8,2.8 0 1,0 -5.6,0M582.9,1801.2a2.8,2.8 0 1,0 5.6,0a2.8,2.8 0 1,0 -5.6,0M588.7,1789.2a2.8,2.8 0 1,0 5.6,0a2.8,2.8 0 1,0 -5.6,0M594.4,1778.1a2.8,2.8 0 1,0 5.6,0a2.8,2.8 0 1,0 -5.6,0M600.2,1769.7a2.8,2.8 0 1,0 5.6,0a2.8,2.8 0 1,0 -5.6,0M605.9,1762.9a2.8,2.8 0 1,0 5.6,0a2.8,2.8 0 1,0 -5.6,0M611.7,1758.9a2.8,2.8 0 1,0 5.6,0a2.8,2.8 0 1,0 -5.6,0M617.4,1758.2a2.8,2.8 0 1,0 5.6,0a2.8,2.8 0 1,0 -5.6,0M623.2,1759.1a2.8,2.8 0 1,0 5.6,0a2.8,2.8 0 1,0 -5.6,0M628.9,1763.4a2.8,2.8 0 1,0 5.6,0a2.8,2.8 0 1,0 -5.6,0M634.7,1770.1a2.8,2.8 0 1,0 5.6,0a2.8,2.8 0 1,0 -5.6,0M640.4,1778.5a2.8,2.8 0 1,0 5.6,0a2.8,2.8 0 1,0 -5.6,0M646.2,1788.9a2.8,2.8 0 1,0 5.6,0a2.8,2.8 0 1,0 -5.6,0M651.9,1801.8a2.8,2.8 0 1,0 5.6,0a2.8,2.8 0 1,0 -5.6,0M657.7,1814.4a2.8,2.8 0 1,0 5.6,0a2.8,2.8 0 1,0 -5.6,0M663.4,1828.2a2.8,2.8 0 1,0 5.6,0a2.8,2.8 0 1,0 -5.6,0M669.2,1844.7a2.8,2.8 0 1,0 5.6,0a2.8,2.8 0 1,0 -5.6,0M674.9,1858.4a2.8,2.8 0 1,0 5.6,0a2.8,2.8 0 1,0 -5.6,0M680.7,1871.3a2.8,2.8 0 1,0 5.6,0a2.8,2.8 0 1,0 -5.6,0M686.4,1885.0a2.8,2.8 0 1,0 5.6,0a2.8,2.8 0 1,0 -5.6,0M692.2,1897.4a2.8,2.8 0 1,0 5.6,0a2.8,2.8 0 1,0 -5.6,0M697.9,1909.2a2.8,2.8 0 1,0 5.6,0a2.8,2.8 0 1,0 -5.6,0M703.7,1919.7a2.8,2.8 0 1,0 5.6,0a2.8,2.8 0 1,0 -5.6,0M709.4,1929.5a2.8,2.8 0 1,0 5.6,0a2.8,2.8 0 1,0 -5.6,0M715.2,1938.1a2.8,2.8 0 1,0 5.6,0a2.8,2.8 0 1,0 -5.6,0M720.9,1945.9a2.8,2.8 0 1,0 5.6,0a2.8,2.8 0 1,0 -5.6,0M726.7,1953.1a2.8,2.8 0 1,0 5.6,0a2.8,2.8 0 1,0 -5.6,0M732.4,1959.2a2.8,2.8 0 1,0 5.6,0a2.8,2.8 0 1,0 -5.6,0M738.2,1964.8a2.8,2.8 0 1,0 5.6,0a2.8,2.8 0 1,0 -5.6,0M743.9,1970.0a2.8,2.8 0 1,0 5.6,0a2.8,2.8 0 1,0 -5.6,0M749.7,1975.0a2.8,2.8 0 1,0 5.6,0a2.8,2.8 0 1,0 -5.6,0M755.4,1979.9a2.8,2.8 0 1,0 5.6,0a2.8,2.8 0 1,0 -5.6,0M761.2,1984.4a2.8,2.8 0 1,0 5.6,0a2.8,2.8 0 1,0 -5.6,0M766.9,1988.0a2.8,2.8 0 1,0 5.6,0a2.8,2.8 0 1,0 -5.6,0M772.7,1991.2a2.8,2.8 0 1,0 5.6,0a2.8,2.8 0 1,0 -5.6,0M778.4,1994.2a2.8,2.8 0 1,0 5.6,0a2.8,2.8 0 1,0 -5.6,0M784.2,1997.1a2.8,2.8 0 1,0 5.6,0a2.8,2.8 0 1,0 -5.6,0M789.9,1999.5a2.8,2.8 0 1,0 5.6,0a2.8,2.8 0 1,0 -5.6,0M795.7,2001.5a2.8,2.8 0 1,0 5.6,0a2.8,2.8 0 1,0 -5.6,0M801.4,2003.2a2.8,2.8 0 1,0 5.6,0a2.8,2.8 0 1,0 -5.6,0M807.2,2004.6a2.8,2.8 0 1,0 5.6,0a2.8,2.8 0 1,0 -5.6,0M812.9,2005.8a2.8,2.8 0 1,0 5.6,0a2.8,2.8 0 1,0 -5.6,0M818.7,2006.8a2.8,2.8 0 1,0 5.6,0a2.8,2.8 0 1,0 -5.6,0M824.4,2007.6a2.8,2.8 0 1,0 5.6,0a2.8,2.8 0 1,0 -5.6,0M830.2,2008.3a2.8,2.8 0 1,0 5.6,0a2.8,2.8 0 1,0 -5.6,0M835.9,2008.9a2.8,2.8 0 1,0 5.6,0a2.8,2.8 0 1,0 -5.6,0M841.7,2009.5a2.8,2.8 0 1,0 5.6,0a2.8,2.8 0 1,0 -5.6,0M847.4,2009.9a2.8,2.8 0 1,0 5.6,0a2.8,2.8 0 1,0 -5.6,0M853.2,2010.2a2.8,2.8 0 1,0 5.6,0a2.8,2.8 0 1,0 -5.6,0M858.9,2010.5a2.8,2.8 0 1,0 5.6,0a2.8,2.8 0 1,0 -5.6,0M864.7,2010.7a2.8,2.8 0 1,0 5.6,0a2.8,2.8 0 1,0 -5.6,0M870.4,2010.9a2.8,2.8 0 1,0 5.6,0a2.8,2.8 0 1,0 -5.6,0M876.2,2011.3a2.8,2.8 0 1,0 5.6,0a2.8,2.8 0 1,0 -5.6,0M881.9,2011.8a2.8,2.8 0 1,0 5.6,0a2.8,2.8 0 1,0 -5.6,0M887.7,2012.6a2.8,2.8 0 1,0 5.6,0a2.8,2.8 0 1,0 -5.6,0M893.4,2013.5a2.8,2.8 0 1,0 5.6,0a2.8,2.8 0 1,0 -5.6,0M899.2,2014.5a2.8,2.8 0 1,0 5.6,0a2.8,2.8 0 1,0 -5.6,0M904.9,2015.6a2.8,2.8 0 1,0 5.6,0a2.8,2.8 0 1,0 -5.6,0M910.7,2016.7a2.8,2.8 0 1,0 5.6,0a2.8,2.8 0 1,0 -5.6,0M916.4,2018.0a2.8,2.8 0 1,0 5.6,0a2.8,2.8 0 1,0 -5.6,0M922.2,2019.2a2.8,2.8 0 1,0 5.6,0a2.8,2.8 0 1,0 -5.6,0M927.9,2020.5a2.8,2.8 0 1,0 5.6,0a2.8,2.8 0 1,0 -5.6,0" fill="#960000" fill-opacity="1.0"/>
<path d="M195.8,2319.4 L201.6,2319.3 L207.3,2319.2 L213.1,2319.0 L218.8,2318.8 L224.6,2318.6 L230.3,2318.3 L236.1,2318.0 L241.8,2317.7 L247.6,2317.2 L253.3,2316.7 L259.1,2316.3 L264.8,2315.8 L270.6,2315.3 L276.3,2314.8 L282.1,2314.2 L287.8,2313.7 L293.6,2313.1 L299.3,2312.5 L305.1,2311.8 L310.8,2311.0 L316.6,2310.2 L322.3,2309.3 L328.1,2308.3 L333.8,2307.2 L339.6,2306.1 L345.3,2304.8 L351.1,2303.3 L356.8,2301.6 L362.6,2299.7 L368.3,2297.9 L374.1,2295.9 L379.8,2293.9 L385.6,2291.7 L391.3,2289.4 L397.1,2287.0 L402.8,2284.7 L408.6,2282.6 L414.3,2280.6 L420.1,2278.7 L425.8,2276.7 L431.6,2274.7 L437.3,2272.7 L443.1,2270.6 L448.8,2268.2 L454.6,2265.7 L460.3,2262.9 L466.1,2260.0 L471.8,2256.8 L477.6,2252.6 L483.3,2247.1 L489.1,2242.2 L494.8,2235.1 L500.6,2225.9 L506.3,2215.3 L512.0,2201.9 L517.8,2187.6 L523.5,2172.0 L529.3,2154.5 L535.0,2134.4 L540.8,2118.1 L546.5,2101.1 L552.3,2085.3 L558.0,2071.9 L563.8,2061.1 L569.5,2053.5 L575.3,2048.4 L581.0,2047.2 L586.8,2048.7 L592.5,2054.2 L598.3,2062.6 L604.0,2073.5 L609.8,2085.7 L615.5,2102.3 L621.3,2117.7 L627.0,2136.5 L632.8,2153.5 L638.5,2169.8 L644.3,2185.7 L650.0,2200.6 L655.8,2213.6 L661.5,2223.8 L667.3,2234.7 L673.0,2242.9 L678.8,2249.2 L684.5,2256.5 L690.3,2262.5 L696.0,2267.5 L701.8,2272.1 L707.5,2276.1 L713.3,2279.5 L719.0,2282.4 L724.8,2285.2 L730.5,2287.9 L736.3,2290.2 L742.0,2292.2 L747.8,2293.9 L753.5,2295.5 L759.3,2297.0 L765.0,2298.4 L770.8,2299.8 L776.5,2301.0 L782.3,2302.1 L788.0,2303.1 L793.8,2304.0 L799.5,2304.9 L805.3,2305.6 L811.0,2306.0 L816.8,2306.3 L822.5,2306.6 L828.3,2306.7 L834.0,2306.8 L839.8,2306.6 L845.5,2306.1 L851.3,2305.6 L857.0,2305.2 L862.8,2305.2 L868.5,2305.2 L874.3,2305.2 L880.0,2305.2 L885.8,2305.2 L891.5,2305.8 L897.3,2306.6 L903.0,2307.6 L908.8,2308.5 L914.5,2309.2 L920.3,2310.0 L926.0,2310.7 L931.8,2311.4" fill="none" stroke="#000080" stroke-width="1.8" stroke-opacity="0.6"/>
<path d="M193.0,2319.4a2.8,2.8 0 1,0 5.6,0a2.8,2.8 0 1,0 -5.6,0M198.8,2319.3a2.8,2.8 0 1,0 5.6,0a2.8,2.8 0 1,0 -5.6,0M204.5,2319.2a2.8,2.8 0 1,0 5.6,0a2.8,2.8 0 1,0 -5.6,0M210.2,2319.0a2.8,2.8 0 1,0 5.6,0a2.8,2.8 0 1,0 -5.6,0M216.0,2318.8a2.8,2.8 0 1,0 5.6,0a2.8,2.8 0 1,0 -5.6,0M221.8,2318.6a2.8,2.8 0 1,0 5.6,0a2.8,2.8 0 1,0 -5.6,0M227.5,2318.3a2.8,2.8 0 1,0 5.6,0a2.8,2.8 0 1,0 -5.6,0M233.2,2318.0a2.8,2.8 0 1,0 5.6,0a2.8,2.8 0 1,0 -5.6,0M239.0,2317.7a2.8,2.8 0 1,0 5.6,0a2.8,2.8 0 1,0 -5.6,0M244.8,2317.2a2.8,2.8 0 1,0 5.6,0a2.8,2.8 0 1,0 -5.6,0M250.5,2316.7a2.8,2.8 0 1,0 5.6,0a2.8,2.8 0 1,0 -5.6,0M256.2,2316.3a2.8,2.8 0 1,0 5.6,0a2.8,2.8 0 1,0 -5.6,0M262.0,2315.8a2.8,2.8 0 1,0 5.6,0a2.8,2.8 0 1,0 -5.6,0M267.8,2315.3a2.8,2.8 0 1,0 5.6,0a2.8,2.8 0 1,0 -5.6,0M273.5,2314.8a2.8,2.8 0 1,0 5.6,0a2.8,2.8 0 1,0 -5.6,0M279.2,2314.2a2.8,2.8 0 1,0 5.6,0a2.8,2.8 0 1,0 -5.6,0M285.0,2313.7a2.8,2.8 0 1,0 5.6,0a2.8,2.8 0 1,0 -5.6,0M290.8,2313.1a2.8,2.8 0 1,0 5.6,0a2.8,2.8 0 1,0 -5.6,0M296.5,2312.5a2.8,2.8 0 1,0 5.6,0a2.8,2.8 0 1,0 -5.6,0M302.2,2311.8a2.8,2.8 0 1,0 5.6,0a2.8,2.8 0 1,0 -5.6,0M308.0,2311.0a2.8,2.8 0 1,0 5.6,0a2.8,2.8 0 1,0 -5.6,0M313.8,2310.2a2.8,2.8 0 1,0 5.6,0a2.8,2.8 0 1,0 -5.6,0M319.5,2309.3a2.8,2.8 0 1,0 5.6,0a2.8,2.8 0 1,0 -5.6,0M325.2,2308.3a2.8,2.8 0 1,0 5.6,0a2.8,2.8 0 1,0 -5.6,0M331.0,2307.2a2.8,2.8 0 1,0 5.6,0a2.8,2.8 0 1,0 -5.6,0M336.8,2306.1a2.8,2.8 0 1,0 5.6,0a2.8,2.8 0 1,0 -5.6,0M342.5,2304.8a2.8,2.8 0 1,0 5.6,0a2.8,2.8 0 1,0 -5.6,0M348.2,2303.3a2.8,2.8 0 1,0 5.6,0a2.8,2.8 0 1,0 -5.6,0M354.0,2301.6a2.8,2.8 0 1,0 5.6,0a2.8,2.8 0 1,0 -5.6,0M359.8,2299.7a2.8,2.8 0 1,0 5.6,0a2.8,2.8 0 1,0 -5.6,0M365.5,2297.9a2.8,2.8 0 1,0 5.6,0a2.8,2.8 0 1,0 -5.6,0M371.2,2295.9a2.8,2.8 0 1,0 5.6,0a2.8,2.8 0 1,0 -5.6,0M377.0,2293.9a2.8,2.8 0 1,0 5.6,0a2.8,2.8 0 1,0 -5.6,0M382.8,2291.7a2.8,2.8 0 1,0 5.6,0a2.8,2.8 0 1,0 -5.6,0M388.5,2289.4a2.8,2.8 0 1,0 5.6,0a2.8,2.8 0 1,0 -5.6,0M394.2,2287.0a2.8,2.8 0 1,0 5.6,0a2.8,2.8 0 1,0 -5.6,0M400.0,2284.7a2.8,2.8 0 1,0 5.6,0a2.8,2.8 0 1,0 -5.6,0M405.8,2282.6a2.8,2.8 0 1,0 5.6,0a2.8,2.8 0 1,0 -5.6,0M411.5,2280.6a2.8,2.8 0 1,0 5.6,0a2.8,2.8 0 1,0 -5.6,0M417.2,2278.7a2.8,2.8 0 1,0 5.6,0a2.8,2.8 0 1,0 -5.6,0M423.0,2276.7a2.8,2.8 0 1,0 5.6,0a2.8,2.8 0 1,0 -5.6,0M428.8,2274.7a2.8,2.8 0 1,0 5.6,0a2.8,2.8 0 1,0 -5.6,0M434.5,2272.7a2.8,2.8 0 1,0 5.6,0a2.8,2.8 0 1,0 -5.6,0M440.2,2270.6a2.8,2.8 0 1,0 5.6,0a2.8,2.8 0 1,0 -5.6,0M446.0,2268.2a2.8,2.8 0 1,0 5.6,0a2.8,2.8 0 1,0 -5.6,0M451.8,2265.7a2.8,2.8 0 1,0 5.6,0a2.8,2.8 0 1,0 -5.6,0M457.5,2262.9a2.8,2.8 0 1,0 5.6,0a2.8,2.8 0 1,0 -5.6,0M463.2,2260.0a2.8,2.8 0 1,0 5.6,0a2.8,2.8 0 1,0 -5.6,0M469.0,2256.8a2.8,2.8 0 1,0 5.6,0a2.8,2.8 0 1,0 -5.6,0M474.8,2252.6a2.8,2.8 0 1,0 5.6,0a2.8,2.8 0 1,0 -5.6,0M480.5,2247.1a2.8,2.8 0 1,0 5.6,0a2.8,2.8 0 1,0 -5.6,0M486.2,2242.2a2.8,2.8 0 1,0 5.6,0a2.8,2.8 0 1,0 -5.6,0M492.0,2235.1a2.8,2.8 0 1,0 5.6,0a2.8,2.8 0 1,0 -5.6,0M497.8,2225.9a2.8,2.8 0 1,0 5.6,0a2.8,2.8 0 1,0 -5.6,0M503.5,2215.3a2.8,2.8 0 1,0 5.6,0a2.8,2.8 0 1,0 -5.6,0M509.2,2201.9a2.8,2.8 0 1,0 5.6,0a2.8,2.8 0 1,0 -5.6,0M515.0,2187.6a2.8,2.8 0 1,0 5.6,0a2.8,2.8 0 1,0 -5.6,0M520.8,2172.0a2.8,2.8 0 1,0 5.6,0a2.8,2.8 0 1,0 -5.6,0M526.5,2154.5a2.8,2.8 0 1,0 5.6,0a2.8,2.8 0 1,0 -5.6,0M532.2,2134.4a2.8,2.8 0 1,0 5.6,0a2.8,2.8 0 1,0 -5.6,0M538.0,2118.1a2.8,2.8 0 1,0 5.6,0a2.8,2.8 0 1,0 -5.6,0M543.8,2101.1a2.8,2.8 0 1,0 5.6,0a2.8,2.8 0 1,0 -5.6,0M549.5,2085.3a2.8,2.8 0 1,0 5.6,0a2.8,2.8 0 1,0 -5.6,0M555.2,2071.9a2.8,2.8 0 1,0 5.6,0a2.8,2.8 0 1,0 -5.6,0M561.0,2061.1a2.8,2.8 0 1,0 5.6,0a2.8,2.8 0 1,0 -5.6,0M566.8,2053.5a2.8,2.8 0 1,0 5.6,0a2.8,2.8 0 1,0 -5.6,0M572.5,2048.4a2.8,2.8 0 1,0 5.6,0a2.8,2.8 0 1,0 -5.6,0M578.2,2047.2a2.8,2.8 0 1,0 5.6,0a2.8,2.8 0 1,0 -5.6,0M584.0,2048.7a2.8,2.8 0 1,0 5.6,0a2.8,2.8 0 1,0 -5.6,0M589.8,2054.2a2.8,2.8 0 1,0 5.6,0a2.8,2.8 0 1,0 -5.6,0M595.5,2062.6a2.8,2.8 0 1,0 5.6,0a2.8,2.8 0 1,0 -5.6,0M601.2,2073.5a2.8,2.8 0 1,0 5.6,0a2.8,2.8 0 1,0 -5.6,0M607.0,2085.7a2.8,2.8 0 1,0 5.6,0a2.8,2.8 0 1,0 -5.6,0M612.8,2102.3a2.8,2.8 0 1,0 5.6,0a2.8,2.8 0 1,0 -5.6,0M618.5,2117.7a2.8,2.8 0 1,0 5.6,0a2.8,2.8 0 1,0 -5.6,0M624.2,2136.5a2.8,2.8 0 1,0 5.6,0a2.8,2.8 0 1,0 -5.6,0M630.0,2153.5a2.8,2.8 0 1,0 5.6,0a2.8,2.8 0 1,0 -5.6,0M635.8,2169.8a2.8,2.8 0 1,0 5.6,0a2.8,2.8 0 1,0 -5.6,0M641.5,2185.7a2.8,2.8 0 1,0 5.6,0a2.8,2.8 0 1,0 -5.6,0M647.2,2200.6a2.8,2.8 0 1,0 5.6,0a2.8,2.8 0 1,0 -5.6,0M653.0,2213.6a2.8,2.8 0 1,0 5.6,0a2.8,2.8 0 1,0 -5.6,0M658.8,2223.8a2.8,2.8 0 1,0 5.6,0a2.8,2.8 0 1,0 -5.6,0M664.5,2234.7a2.8,2.8 0 1,0 5.6,0a2.8,2.8 0 1,0 -5.6,0M670.2,2242.9a2.8,2.8 0 1,0 5.6,0a2.8,2.8 0 1,0 -5.6,0M676.0,2249.2a2.8,2.8 0 1,0 5.6,0a2.8,2.8 0 1,0 -5.6,0M681.8,2256.5a2.8,2.8 0 1,0 5.6,0a2.8,2.8 0 1,0 -5.6,0M687.5,2262.5a2.8,2.8 0 1,0 5.6,0a2.8,2.8 0 1,0 -5.6,0M693.2,2267.5a2.8,2.8 0 1,0 5.6,0a2.8,2.8 0 1,0 -5.6,0M699.0,2272.1a2.8,2.8 0 1,0 5.6,0a2.8,2.8 0 1,0 -5.6,0M704.8,2276.1a2.8,2.8 0 1,0 5.6,0a2.8,2.8 0 1,0 -5.6,0M710.5,2279.5a2.8,2.8 0 1,0 5.6,0a2.8,2.8 0 1,0 -5.6,0M716.2,2282.4a2.8,2.8 0 1,0 5.6,0a2.8,2.8 0 1,0 -5.6,0M722.0,2285.2a2.8,2.8 0 1,0 5.6,0a2.8,2.8 0 1,0 -5.6,0M727.8,2287.9a2.8,2.8 0 1,0 5.6,0a2.8,2.8 0 1,0 -5.6,0M733.5,2290.2a2.8,2.8 0 1,0 5.6,0a2.8,2.8 0 1,0 -5.6,0M739.2,2292.2a2.8,2.8 0 1,0 5.6,0a2.8,2.8 0 1,0 -5.6,0M745.0,2293.9a2.8,2.8 0 1,0 5.6,0a2.8,2.8 0 1,0 -5.6,0M750.8,2295.5a2.8,2.8 0 1,0 5.6,0a2.8,2.8 0 1,0 -5.6,0M756.5,2297.0a2.8,2.8 0 1,0 5.6,0a2.8,2.8 0 1,0 -5.6,0M762.2,2298.4a2.8,2.8 0 1,0 5.6,0a2.8,2.8 0 1,0 -5.6,0M768.0,2299.8a2.8,2.8 0 1,0 5.6,0a2.8,2.8 0 1,0 -5.6,0M773.8,2301.0a2.8,2.8 0 1,0 5.6,0a2.8,2.8 0 1,0 -5.6,0M779.5,2302.1a2.8,2.8 0 1,0 5.6,0a2.8,2.8 0 1,0 -5.6,0M785.2,2303.1a2.8,2.8 0 1,0 5.6,0a2.8,2.8 0 1,0 -5.6,0M791.0,2304.0a2.8,2.8 0 1,0 5.6,0a2.8,2.8 0 1,0 -5.6,0M796.8,2304.9a2.8,2.8 0 1,0 5.6,0a2.8,2.8 0 1,0 -5.6,0M802.5,2305.6a2.8,2.8 0 1,0 5.6,0a2.8,2.8 0 1,0 -5.6,0M808.2,2306.0a2.8,2.8 0 1,0 5.6,0a2.8,2.8 0 1,0 -5.6,0M814.0,2306.3a2.8,2.8 0 1,0 5.6,0a2.8,2.8 0 1,0 -5.6,0M819.8,2306.6a2.8,2.8 0 1,0 5.6,0a2.8,2.8 0 1,0 -5.6,0M825.5,2306.7a2.8,2.8 0 1,0 5.6,0a2.8,2.8 0 1,0 -5.6,0M831.2,2306.8a2.8,2.8 0 1,0 5.6,0a2.8,2.8 0 1,0 -5.6,0M837.0,2306.6a2.8,2.8 0 1,0 5.6,0a2.8,2.8 0 1,0 -5.6,0M842.8,2306.1a2.8,2.8 0 1,0 5.6,0a2.8,2.8 0 1,0 -5.6,0M848.5,2305.6a2.8,2.8 0 1,0 5.6,0a2.8,2.8 0 1,0 -5.6,0M854.2,2305.2a2.8,2.8 0 1,0 5.6,0a2.8,2.8 0 1,0 -5.6,0M860.0,2305.2a2.8,2.8 0 1,0 5.6,0a2.8,2.8 0 1,0 -5.6,0M865.8,2305.2a2.8,2.8 0 1,0 5.6,0a2.8,2.8 0 1,0 -5.6,0M871.5,2305.2a2.8,2.8 0 1,0 5.6,0a2.8,2.8 0 1,0 -5.6,0M877.2,2305.2a2.8,2.8 0 1,0 5.6,0a2.8,2.8 0 1,0 -5.6,0M883.0,2305.2a2.8,2.8 0 1,0 5.6,0a2.8,2.8 0 1,0 -5.6,0M888.8,2305.8a2.8,2.8 0 1,0 5.6,0a2.8,2.8 0 1,0 -5.6,0M894.5,2306.6a2.8,2.8 0 1,0 5.6,0a2.8,2.8 0 1,0 -5.6,0M900.2,2307.6a2.8,2.8 0 1,0 5.6,0a2.8,2.8 0 1,0 -5.6,0M906.0,2308.5a2.8,2.8 0 1,0 5.6,0a2.8,2.8 0 1,0 -5.6,0M911.8,2309.2a2.8,2.8 0 1,0 5.6,0a2.8,2.8 0 1,0 -5.6,0M917.5,2310.0a2.8,2.8 0 1,0 5.6,0a2.8,2.8 0 1,0 -5.6,0M923.2,2310.7a2.8,2.8 0 1,0 5.6,0a2.8,2.8 0 1,0 -5.6,0M929.0,2311.4a2.8,2.8 0 1,0 5.6,0a2.8,2.8 0 1,0 -5.6,0" fill="#000080" fill-opacity="1.0"/>
<path d="M194.8,2607.1 L200.6,2607.0 L206.3,2606.9 L212.1,2606.9 L217.8,2606.8 L223.6,2606.7 L229.3,2606.5 L235.1,2606.4 L240.8,2606.3 L246.6,2606.2 L252.3,2606.0 L258.1,2605.9 L263.8,2605.8 L269.6,2605.6 L275.3,2605.5 L281.1,2605.3 L286.8,2605.2 L292.6,2605.0 L298.3,2604.8 L304.1,2604.7 L309.8,2604.5 L315.6,2604.3 L321.3,2604.1 L327.1,2603.9 L332.8,2603.7 L338.6,2603.5 L344.3,2603.2 L350.1,2603.0 L355.8,2602.7 L361.6,2602.5 L367.3,2602.2 L373.1,2601.8 L378.8,2601.5 L384.6,2601.1 L390.3,2600.7 L396.1,2600.1 L401.8,2599.5 L407.6,2598.8 L413.3,2598.1 L419.1,2597.4 L424.8,2596.7 L430.6,2595.9 L436.3,2595.3 L442.1,2594.6 L447.8,2593.9 L453.6,2593.0 L459.3,2591.9 L465.1,2590.1 L470.8,2587.4 L476.6,2584.3 L482.3,2580.5 L488.1,2575.8 L493.8,2570.0 L499.6,2562.2 L505.3,2552.4 L511.1,2539.4 L516.8,2524.6 L522.5,2511.6 L528.3,2492.8 L534.0,2466.5 L539.8,2446.6 L545.5,2427.1 L551.3,2404.8 L557.0,2385.1 L562.8,2369.9 L568.5,2359.9 L574.3,2353.9 L580.0,2350.6 L585.8,2351.0 L591.5,2353.5 L597.3,2362.5 L603.0,2371.1 L608.8,2383.0 L614.5,2401.7 L620.3,2422.9 L626.0,2447.3 L631.8,2468.8 L637.5,2491.9 L643.3,2513.3 L649.0,2530.7 L654.8,2544.0 L660.5,2554.8 L666.3,2564.0 L672.0,2571.6 L677.8,2577.6 L683.5,2582.7 L689.3,2586.8 L695.0,2590.2 L700.8,2592.9 L706.5,2594.8 L712.3,2596.0 L718.0,2597.0 L723.8,2598.1 L729.5,2599.2 L735.3,2600.4 L741.0,2601.4 L746.8,2602.3 L752.5,2603.0 L758.3,2603.6 L764.0,2604.1 L769.8,2604.5 L775.5,2604.9 L781.3,2605.3 L787.0,2605.6 L792.8,2606.0 L798.5,2606.4 L804.3,2606.8 L810.0,2607.1 L815.8,2607.3 L821.5,2607.5 L827.3,2607.5 L833.0,2607.5 L838.8,2607.4 L844.5,2607.4 L850.3,2607.3 L856.0,2607.2 L861.8,2607.1 L867.5,2607.1 L873.3,2607.0 L879.0,2606.9 L884.8,2606.8 L890.5,2606.7 L896.3,2606.6 L902.0,2606.4 L907.8,2606.3 L913.5,2606.2 L919.3,2606.0 L925.0,2605.9 L930.8,2605.7" fill="none" stroke="#000" stroke-width="2.6" stroke-opacity="0.95"/>
<path d="M192.4,2607.1a2.4,2.4 0 1,0 4.8,0a2.4,2.4 0 1,0 -4.8,0M198.2,2607.0a2.4,2.4 0 1,0 4.8,0a2.4,2.4 0 1,0 -4.8,0M203.9,2606.9a2.4,2.4 0 1,0 4.8,0a2.4,2.4 0 1,0 -4.8,0M209.7,2606.9a2.4,2.4 0 1,0 4.8,0a2.4,2.4 0 1,0 -4.8,0M215.4,2606.8a2.4,2.4 0 1,0 4.8,0a2.4,2.4 0 1,0 -4.8,0M221.2,2606.7a2.4,2.4 0 1,0 4.8,0a2.4,2.4 0 1,0 -4.8,0M226.9,2606.5a2.4,2.4 0 1,0 4.8,0a2.4,2.4 0 1,0 -4.8,0M232.7,2606.4a2.4,2.4 0 1,0 4.8,0a2.4,2.4 0 1,0 -4.8,0M238.4,2606.3a2.4,2.4 0 1,0 4.8,0a2.4,2.4 0 1,0 -4.8,0M244.2,2606.2a2.4,2.4 0 1,0 4.8,0a2.4,2.4 0 1,0 -4.8,0M249.9,2606.0a2.4,2.4 0 1,0 4.8,0a2.4,2.4 0 1,0 -4.8,0M255.7,2605.9a2.4,2.4 0 1,0 4.8,0a2.4,2.4 0 1,0 -4.8,0M261.4,2605.8a2.4,2.4 0 1,0 4.8,0a2.4,2.4 0 1,0 -4.8,0M267.2,2605.6a2.4,2.4 0 1,0 4.8,0a2.4,2.4 0 1,0 -4.8,0M272.9,2605.5a2.4,2.4 0 1,0 4.8,0a2.4,2.4 0 1,0 -4.8,0M278.7,2605.3a2.4,2.4 0 1,0 4.8,0a2.4,2.4 0 1,0 -4.8,0M284.4,2605.2a2.4,2.4 0 1,0 4.8,0a2.4,2.4 0 1,0 -4.8,0M290.2,2605.0a2.4,2.4 0 1,0 4.8,0a2.4,2.4 0 1,0 -4.8,0M295.9,2604.8a2.4,2.4 0 1,0 4.8,0a2.4,2.4 0 1,0 -4.8,0M301.7,2604.7a2.4,2.4 0 1,0 4.8,0a2.4,2.4 0 1,0 -4.8,0M307.4,2604.5a2.4,2.4 0 1,0 4.8,0a2.4,2.4 0 1,0 -4.8,0M313.2,2604.3a2.4,2.4 0 1,0 4.8,0a2.4,2.4 0 1,0 -4.8,0M318.9,2604.1a2.4,2.4 0 1,0 4.8,0a2.4,2.4 0 1,0 -4.8,0M324.7,2603.9a2.4,2.4 0 1,0 4.8,0a2.4,2.4 0 1,0 -4.8,0M330.4,2603.7a2.4,2.4 0 1,0 4.8,0a2.4,2.4 0 1,0 -4.8,0M336.2,2603.5a2.4,2.4 0 1,0 4.8,0a2.4,2.4 0 1,0 -4.8,0M341.9,2603.2a2.4,2.4 0 1,0 4.8,0a2.4,2.4 0 1,0 -4.8,0M347.7,2603.0a2.4,2.4 0 1,0 4.8,0a2.4,2.4 0 1,0 -4.8,0M353.4,2602.7a2.4,2.4 0 1,0 4.8,0a2.4,2.4 0 1,0 -4.8,0M359.2,2602.5a2.4,2.4 0 1,0 4.8,0a2.4,2.4 0 1,0 -4.8,0M364.9,2602.2a2.4,2.4 0 1,0 4.8,0a2.4,2.4 0 1,0 -4.8,0M370.7,2601.8a2.4,2.4 0 1,0 4.8,0a2.4,2.4 0 1,0 -4.8,0M376.4,2601.5a2.4,2.4 0 1,0 4.8,0a2.4,2.4 0 1,0 -4.8,0M382.2,2601.1a2.4,2.4 0 1,0 4.8,0a2.4,2.4 0 1,0 -4.8,0M387.9,2600.7a2.4,2.4 0 1,0 4.8,0a2.4,2.4 0 1,0 -4.8,0M393.7,2600.1a2.4,2.4 0 1,0 4.8,0a2.4,2.4 0 1,0 -4.8,0M399.4,2599.5a2.4,2.4 0 1,0 4.8,0a2.4,2.4 0 1,0 -4.8,0M405.2,2598.8a2.4,2.4 0 1,0 4.8,0a2.4,2.4 0 1,0 -4.8,0M410.9,2598.1a2.4,2.4 0 1,0 4.8,0a2.4,2.4 0 1,0 -4.8,0M416.7,2597.4a2.4,2.4 0 1,0 4.8,0a2.4,2.4 0 1,0 -4.8,0M422.4,2596.7a2.4,2.4 0 1,0 4.8,0a2.4,2.4 0 1,0 -4.8,0M428.2,2595.9a2.4,2.4 0 1,0 4.8,0a2.4,2.4 0 1,0 -4.8,0M433.9,2595.3a2.4,2.4 0 1,0 4.8,0a2.4,2.4 0 1,0 -4.8,0M439.7,2594.6a2.4,2.4 0 1,0 4.8,0a2.4,2.4 0 1,0 -4.8,0M445.4,2593.9a2.4,2.4 0 1,0 4.8,0a2.4,2.4 0 1,0 -4.8,0M451.2,2593.0a2.4,2.4 0 1,0 4.8,0a2.4,2.4 0 1,0 -4.8,0M456.9,2591.9a2.4,2.4 0 1,0 4.8,0a2.4,2.4 0 1,0 -4.8,0M462.7,2590.1a2.4,2.4 0 1,0 4.8,0a2.4,2.4 0 1,0 -4.8,0M468.4,2587.4a2.4,2.4 0 1,0 4.8,0a2.4,2.4 0 1,0 -4.8,0M474.2,2584.3a2.4,2.4 0 1,0 4.8,0a2.4,2.4 0 1,0 -4.8,0M479.9,2580.5a2.4,2.4 0 1,0 4.8,0a2.4,2.4 0 1,0 -4.8,0M485.7,2575.8a2.4,2.4 0 1,0 4.8,0a2.4,2.4 0 1,0 -4.8,0M491.4,2570.0a2.4,2.4 0 1,0 4.8,0a2.4,2.4 0 1,0 -4.8,0M497.2,2562.2a2.4,2.4 0 1,0 4.8,0a2.4,2.4 0 1,0 -4.8,0M502.9,2552.4a2.4,2.4 0 1,0 4.8,0a2.4,2.4 0 1,0 -4.8,0M508.7,2539.4a2.4,2.4 0 1,0 4.8,0a2.4,2.4 0 1,0 -4.8,0M514.4,2524.6a2.4,2.4 0 1,0 4.8,0a2.4,2.4 0 1,0 -4.8,0M520.1,2511.6a2.4,2.4 0 1,0 4.8,0a2.4,2.4 0 1,0 -4.8,0M525.9,2492.8a2.4,2.4 0 1,0 4.8,0a2.4,2.4 0 1,0 -4.8,0M531.6,2466.5a2.4,2.4 0 1,0 4.8,0a2.4,2.4 0 1,0 -4.8,0M537.4,2446.6a2.4,2.4 0 1,0 4.8,0a2.4,2.4 0 1,0 -4.8,0M543.1,2427.1a2.4,2.4 0 1,0 4.8,0a2.4,2.4 0 1,0 -4.8,0M548.9,2404.8a2.4,2.4 0 1,0 4.8,0a2.4,2.4 0 1,0 -4.8,0M554.6,2385.1a2.4,2.4 0 1,0 4.8,0a2.4,2.4 0 1,0 -4.8,0M560.4,2369.9a2.4,2.4 0 1,0 4.8,0a2.4,2.4 0 1,0 -4.8,0M566.1,2359.9a2.4,2.4 0 1,0 4.8,0a2.4,2.4 0 1,0 -4.8,0M571.9,2353.9a2.4,2.4 0 1,0 4.8,0a2.4,2.4 0 1,0 -4.8,0M577.6,2350.6a2.4,2.4 0 1,0 4.8,0a2.4,2.4 0 1,0 -4.8,0M583.4,2351.0a2.4,2.4 0 1,0 4.8,0a2.4,2.4 0 1,0 -4.8,0M589.1,2353.5a2.4,2.4 0 1,0 4.8,0a2.4,2.4 0 1,0 -4.8,0M594.9,2362.5a2.4,2.4 0 1,0 4.8,0a2.4,2.4 0 1,0 -4.8,0M600.6,2371.1a2.4,2.4 0 1,0 4.8,0a2.4,2.4 0 1,0 -4.8,0M606.4,2383.0a2.4,2.4 0 1,0 4.8,0a2.4,2.4 0 1,0 -4.8,0M612.1,2401.7a2.4,2.4 0 1,0 4.8,0a2.4,2.4 0 1,0 -4.8,0M617.9,2422.9a2.4,2.4 0 1,0 4.8,0a2.4,2.4 0 1,0 -4.8,0M623.6,2447.3a2.4,2.4 0 1,0 4.8,0a2.4,2.4 0 1,0 -4.8,0M629.4,2468.8a2.4,2.4 0 1,0 4.8,0a2.4,2.4 0 1,0 -4.8,0M635.1,2491.9a2.4,2.4 0 1,0 4.8,0a2.4,2.4 0 1,0 -4.8,0M640.9,2513.3a2.4,2.4 0 1,0 4.8,0a2.4,2.4 0 1,0 -4.8,0M646.6,2530.7a2.4,2.4 0 1,0 4.8,0a2.4,2.4 0 1,0 -4.8,0M652.4,2544.0a2.4,2.4 0 1,0 4.8,0a2.4,2.4 0 1,0 -4.8,0M658.1,2554.8a2.4,2.4 0 1,0 4.8,0a2.4,2.4 0 1,0 -4.8,0M663.9,2564.0a2.4,2.4 0 1,0 4.8,0a2.4,2.4 0 1,0 -4.8,0M669.6,2571.6a2.4,2.4 0 1,0 4.8,0a2.4,2.4 0 1,0 -4.8,0M675.4,2577.6a2.4,2.4 0 1,0 4.8,0a2.4,2.4 0 1,0 -4.8,0M681.1,2582.7a2.4,2.4 0 1,0 4.8,0a2.4,2.4 0 1,0 -4.8,0M686.9,2586.8a2.4,2.4 0 1,0 4.8,0a2.4,2.4 0 1,0 -4.8,0M692.6,2590.2a2.4,2.4 0 1,0 4.8,0a2.4,2.4 0 1,0 -4.8,0M698.4,2592.9a2.4,2.4 0 1,0 4.8,0a2.4,2.4 0 1,0 -4.8,0M704.1,2594.8a2.4,2.4 0 1,0 4.8,0a2.4,2.4 0 1,0 -4.8,0M709.9,2596.0a2.4,2.4 0 1,0 4.8,0a2.4,2.4 0 1,0 -4.8,0M715.6,2597.0a2.4,2.4 0 1,0 4.8,0a2.4,2.4 0 1,0 -4.8,0M721.4,2598.1a2.4,2.4 0 1,0 4.8,0a2.4,2.4 0 1,0 -4.8,0M727.1,2599.2a2.4,2.4 0 1,0 4.8,0a2.4,2.4 0 1,0 -4.8,0M732.9,2600.4a2.4,2.4 0 1,0 4.8,0a2.4,2.4 0 1,0 -4.8,0M738.6,2601.4a2.4,2.4 0 1,0 4.8,0a2.4,2.4 0 1,0 -4.8,0M744.4,2602.3a2.4,2.4 0 1,0 4.8,0a2.4,2.4 0 1,0 -4.8,0M750.1,2603.0a2.4,2.4 0 1,0 4.8,0a2.4,2.4 0 1,0 -4.8,0M755.9,2603.6a2.4,2.4 0 1,0 4.8,0a2.4,2.4 0 1,0 -4.8,0M761.6,2604.1a2.4,2.4 0 1,0 4.8,0a2.4,2.4 0 1,0 -4.8,0M767.4,2604.5a2.4,2.4 0 1,0 4.8,0a2.4,2.4 0 1,0 -4.8,0M773.1,2604.9a2.4,2.4 0 1,0 4.8,0a2.4,2.4 0 1,0 -4.8,0M778.9,2605.3a2.4,2.4 0 1,0 4.8,0a2.4,2.4 0 1,0 -4.8,0M784.6,2605.6a2.4,2.4 0 1,0 4.8,0a2.4,2.4 0 1,0 -4.8,0M790.4,2606.0a2.4,2.4 0 1,0 4.8,0a2.4,2.4 0 1,0 -4.8,0M796.1,2606.4a2.4,2.4 0 1,0 4.8,0a2.4,2.4 0 1,0 -4.8,0M801.9,2606.8a2.4,2.4 0 1,0 4.8,0a2.4,2.4 0 1,0 -4.8,0M807.6,2607.1a2.4,2.4 0 1,0 4.8,0a2.4,2.4 0 1,0 -4.8,0M813.4,2607.3a2.4,2.4 0 1,0 4.8,0a2.4,2.4 0 1,0 -4.8,0M819.1,2607.5a2.4,2.4 0 1,0 4.8,0a2.4,2.4 0 1,0 -4.8,0M824.9,2607.5a2.4,2.4 0 1,0 4.8,0a2.4,2.4 0 1,0 -4.8,0M830.6,2607.5a2.4,2.4 0 1,0 4.8,0a2.4,2.4 0 1,0 -4.8,0M836.4,2607.4a2.4,2.4 0 1,0 4.8,0a2.4,2.4 0 1,0 -4.8,0M842.1,2607.4a2.4,2.4 0 1,0 4.8,0a2.4,2.4 0 1,0 -4.8,0M847.9,2607.3a2.4,2.4 0 1,0 4.8,0a2.4,2.4 0 1,0 -4.8,0M853.6,2607.2a2.4,2.4 0 1,0 4.8,0a2.4,2.4 0 1,0 -4.8,0M859.4,2607.1a2.4,2.4 0 1,0 4.8,0a2.4,2.4 0 1,0 -4.8,0M865.1,2607.1a2.4,2.4 0 1,0 4.8,0a2.4,2.4 0 1,0 -4.8,0M870.9,2607.0a2.4,2.4 0 1,0 4.8,0a2.4,2.4 0 1,0 -4.8,0M876.6,2606.9a2.4,2.4 0 1,0 4.8,0a2.4,2.4 0 1,0 -4.8,0M882.4,2606.8a2.4,2.4 0 1,0 4.8,0a2.4,2.4 0 1,0 -4.8,0M888.1,2606.7a2.4,2.4 0 1,0 4.8,0a2.4,2.4 0 1,0 -4.8,0M893.9,2606.6a2.4,2.4 0 1,0 4.8,0a2.4,2.4 0 1,0 -4.8,0M899.6,2606.4a2.4,2.4 0 1,0 4.8,0a2.4,2.4 0 1,0 -4.8,0M905.4,2606.3a2.4,2.4 0 1,0 4.8,0a2.4,2.4 0 1,0 -4.8,0M911.1,2606.2a2.4,2.4 0 1,0 4.8,0a2.4,2.4 0 1,0 -4.8,0M916.9,2606.0a2.4,2.4 0 1,0 4.8,0a2.4,2.4 0 1,0 -4.8,0M922.6,2605.9a2.4,2.4 0 1,0 4.8,0a2.4,2.4 0 1,0 -4.8,0M928.4,2605.7a2.4,2.4 0 1,0 4.8,0a2.4,2.4 0 1,0 -4.8,0" fill="#000" fill-opacity="1.0"/>
<line x1="581.40" y1="1711.50" x2="581.40" y2="2623.00" stroke="#1a1a1a" stroke-width="2.6"/>
<rect x="194.6" y="1715.6" width="741.90" height="907.40" fill="none" stroke="#111" stroke-width="3.2"/>
<line x1="194.60" y1="2623.00" x2="194.60" y2="2641.00" stroke="#111" stroke-width="3"/>
<line x1="268.79" y1="2623.00" x2="268.79" y2="2632.50" stroke="#111" stroke-width="3"/>
<line x1="342.98" y1="2623.00" x2="342.98" y2="2641.00" stroke="#111" stroke-width="3"/>
<line x1="417.17" y1="2623.00" x2="417.17" y2="2632.50" stroke="#111" stroke-width="3"/>
<line x1="491.36" y1="2623.00" x2="491.36" y2="2641.00" stroke="#111" stroke-width="3"/>
<line x1="565.55" y1="2623.00" x2="565.55" y2="2632.50" stroke="#111" stroke-width="3"/>
<line x1="639.74" y1="2623.00" x2="639.74" y2="2641.00" stroke="#111" stroke-width="3"/>
<line x1="713.93" y1="2623.00" x2="713.93" y2="2632.50" stroke="#111" stroke-width="3"/>
<line x1="788.12" y1="2623.00" x2="788.12" y2="2641.00" stroke="#111" stroke-width="3"/>
<line x1="862.31" y1="2623.00" x2="862.31" y2="2632.50" stroke="#111" stroke-width="3"/>
<line x1="936.50" y1="2623.00" x2="936.50" y2="2641.00" stroke="#111" stroke-width="3"/>
<text transform="translate(157.00 2702.02)" font-size="67.62" fill="#000">75</text>
<text transform="translate(286.45 2702.03)" font-size="66.67" fill="#000">100</text>
<text transform="translate(434.93 2702.03)" font-size="66.67" fill="#000">125</text>
<text transform="translate(583.21 2702.03)" font-size="66.67" fill="#000">150</text>
<text transform="translate(730.87 2702.02)" font-size="67.62" fill="#000">175</text>
<text transform="translate(880.83 2702.03)" font-size="66.67" fill="#000">200</text>
<text transform="matrix(1.0127 0 0 1 204.16 2814.04)" font-size="86.03" fill="#000">Raman Shift (cm</text>
<text transform="matrix(0.8389 0 0 1 851.24 2766.64)" font-size="53.97" fill="#000">-1</text>
<text transform="matrix(0.8901 0 0 1 901.83 2814.04)" font-size="86.03" fill="#000">)</text>
<text transform="rotate(-90) translate(-2448.13 131.09)" font-size="87.57" fill="#000">Intensity (a.u.)</text>
<text transform="translate(183.26 1677.73)" font-size="131.76" fill="#000">(b)</text>
<text transform="matrix(0.9554 0 0 1 434.50 1769.70)" font-size="50.00" font-weight="bold" fill="#000">E</text>
<text transform="matrix(1.1480 0 0 1 466.97 1788.22)" font-size="28.23" font-weight="bold" fill="#000">g</text>
<text transform="matrix(1.0193 0 0 1 366.19 1857.62)" font-size="48.42" font-weight="bold" fill="#000">145 cm</text>
<text transform="matrix(0.8410 0 0 1 535.70 1831.90)" font-size="30.52" font-weight="bold" fill="#000">-1</text>
<text transform="matrix(0.9077 0 0 1 363.37 2128.50)" font-size="51.45" font-weight="bold" fill="#000">E</text>
<text transform="matrix(1.0195 0 0 1 395.94 2147.99)" font-size="30.23" font-weight="bold" fill="#000">g</text>
<text transform="matrix(0.9919 0 0 1 294.50 2217.30)" font-size="49.58" font-weight="bold" fill="#000">140 cm</text>
<text transform="matrix(0.8410 0 0 1 463.40 2190.30)" font-size="30.52" font-weight="bold" fill="#000">-1</text>
<text transform="matrix(0.9077 0 0 1 376.27 2427.50)" font-size="51.45" font-weight="bold" fill="#000">E</text>
<text transform="matrix(1.0195 0 0 1 408.84 2446.99)" font-size="30.23" font-weight="bold" fill="#000">g</text>
<text transform="matrix(0.9919 0 0 1 307.40 2516.30)" font-size="49.58" font-weight="bold" fill="#000">140 cm</text>
<text transform="matrix(0.8410 0 0 1 476.30 2489.30)" font-size="30.52" font-weight="bold" fill="#000">-1</text>
<text transform="matrix(0.9446 0 0 1 730.44 1785.80)" font-size="69.77" fill="#960000">CuO-</text>
<text transform="matrix(1.0266 0 0 1 695.63 1865.65)" font-size="64.90" fill="#960000">TiO</text>
<text transform="matrix(1.0387 0 0 1 799.32 1891.40)" font-size="40.11" fill="#960000">2</text>
<text transform="matrix(0.9574 0 0 1 840.07 1865.30)" font-size="67.88" fill="#960000">NT</text>
<text transform="matrix(1.0076 0 0 1 694.83 2111.54)" font-size="66.12" fill="#000080">TiO</text>
<text transform="matrix(0.9840 0 0 1 798.83 2137.80)" font-size="42.12" fill="#000080">2</text>
<text transform="matrix(0.9654 0 0 1 839.54 2111.40)" font-size="67.73" fill="#000080">NT</text>
<text transform="matrix(1.0111 0 0 1 688.87 2454.95)" font-size="64.61" fill="#000">Anatase</text>
<text transform="matrix(1.1433 0 0 1 759.93 2535.91)" font-size="58.50" fill="#000">TiO</text>
<text transform="matrix(1.1685 0 0 1 864.01 2561.00)" font-size="37.54" fill="#000">2</text>
<path d="M1242.8,1721.7 L1247.0,1757.1 L1251.2,1776.7 L1255.5,1797.8 L1259.7,1816.3 L1263.9,1833.7 L1268.1,1850.5 L1272.3,1866.8 L1276.6,1882.9 L1280.8,1896.2 L1285.0,1909.3 L1289.2,1920.7 L1293.4,1927.7 L1297.7,1936.7 L1301.9,1944.2 L1306.1,1949.5 L1310.3,1955.3 L1314.5,1960.5 L1318.8,1964.4 L1323.0,1966.5 L1327.2,1967.9 L1331.4,1968.7 L1335.6,1968.7 L1339.9,1968.2 L1344.1,1967.3 L1348.3,1966.2 L1352.5,1965.1 L1356.7,1964.0 L1361.0,1962.9 L1365.2,1961.6 L1369.4,1960.3 L1373.6,1958.9 L1377.8,1957.4 L1382.1,1955.9 L1386.3,1954.4 L1390.5,1952.6 L1394.7,1950.6 L1398.9,1948.0 L1403.2,1944.8 L1407.4,1941.2 L1411.6,1937.5 L1415.8,1933.9 L1420.0,1930.5 L1424.3,1927.2 L1428.5,1923.8 L1432.7,1920.4 L1436.9,1917.0 L1441.1,1913.7 L1445.4,1910.4 L1449.6,1907.1 L1453.8,1903.7 L1458.0,1900.2 L1462.2,1896.6 L1466.5,1893.0 L1470.7,1889.2 L1474.9,1885.2 L1479.1,1880.9 L1483.3,1876.4 L1487.6,1871.4 L1491.8,1865.5 L1496.0,1857.7 L1500.2,1851.1 L1504.4,1846.2 L1508.7,1841.3 L1512.9,1835.3 L1517.1,1828.4 L1521.3,1820.3 L1525.5,1810.3 L1529.8,1801.9 L1534.0,1795.1 L1538.2,1788.9 L1542.4,1785.1 L1546.6,1782.6 L1550.9,1781.6 L1555.1,1781.0 L1559.3,1782.0 L1563.5,1784.8 L1567.7,1788.7 L1572.0,1793.9 L1576.2,1799.4 L1580.4,1805.4 L1584.6,1811.4 L1588.8,1817.3 L1593.1,1823.2 L1597.3,1829.6 L1601.5,1836.5 L1605.7,1843.2 L1609.9,1849.1 L1614.2,1854.9 L1618.4,1861.1 L1622.6,1867.7 L1626.8,1874.7 L1631.0,1882.2 L1635.3,1890.2 L1639.5,1897.2 L1643.7,1903.1 L1647.9,1908.3 L1652.1,1913.0 L1656.4,1917.5 L1660.6,1921.0 L1664.8,1923.1 L1669.0,1924.7 L1673.2,1925.9 L1677.5,1926.9 L1681.7,1927.7 L1685.9,1928.4 L1690.1,1929.1 L1694.3,1929.7 L1698.6,1930.0 L1702.8,1929.9 L1707.0,1929.5 L1711.2,1929.0 L1715.4,1928.3 L1719.7,1927.7 L1723.9,1927.2 L1728.1,1927.0 L1732.3,1926.9 L1736.5,1926.8 L1740.8,1926.8 L1745.0,1926.7 L1749.2,1926.7 L1753.4,1926.9 L1757.6,1927.2 L1761.9,1927.5 L1766.1,1927.8 L1770.3,1927.5 L1774.5,1925.9 L1778.7,1923.6 L1783.0,1921.4 L1787.2,1919.0 L1791.4,1916.3 L1795.6,1913.5 L1799.8,1910.5 L1804.1,1907.5 L1808.3,1904.4 L1812.5,1901.5 L1816.7,1898.7 L1820.9,1896.0 L1825.2,1893.4 L1829.4,1890.8 L1833.6,1888.1 L1837.8,1885.3 L1842.0,1882.3 L1846.3,1879.0 L1850.5,1875.4 L1854.7,1871.3 L1858.9,1866.8 L1863.1,1861.7 L1867.4,1856.1 L1871.6,1850.0 L1875.8,1843.3" fill="none" stroke="#960000" stroke-width="2.4" stroke-opacity="0.7"/>
<path d="M1240.0,1721.7a2.8,2.8 0 1,0 5.6,0a2.8,2.8 0 1,0 -5.6,0M1244.2,1757.1a2.8,2.8 0 1,0 5.6,0a2.8,2.8 0 1,0 -5.6,0M1248.4,1776.7a2.8,2.8 0 1,0 5.6,0a2.8,2.8 0 1,0 -5.6,0M1252.7,1797.8a2.8,2.8 0 1,0 5.6,0a2.8,2.8 0 1,0 -5.6,0M1256.9,1816.3a2.8,2.8 0 1,0 5.6,0a2.8,2.8 0 1,0 -5.6,0M1261.1,1833.7a2.8,2.8 0 1,0 5.6,0a2.8,2.8 0 1,0 -5.6,0M1265.3,1850.5a2.8,2.8 0 1,0 5.6,0a2.8,2.8 0 1,0 -5.6,0M1269.5,1866.8a2.8,2.8 0 1,0 5.6,0a2.8,2.8 0 1,0 -5.6,0M1273.8,1882.9a2.8,2.8 0 1,0 5.6,0a2.8,2.8 0 1,0 -5.6,0M1278.0,1896.2a2.8,2.8 0 1,0 5.6,0a2.8,2.8 0 1,0 -5.6,0M1282.2,1909.3a2.8,2.8 0 1,0 5.6,0a2.8,2.8 0 1,0 -5.6,0M1286.4,1920.7a2.8,2.8 0 1,0 5.6,0a2.8,2.8 0 1,0 -5.6,0M1290.6,1927.7a2.8,2.8 0 1,0 5.6,0a2.8,2.8 0 1,0 -5.6,0M1294.9,1936.7a2.8,2.8 0 1,0 5.6,0a2.8,2.8 0 1,0 -5.6,0M1299.1,1944.2a2.8,2.8 0 1,0 5.6,0a2.8,2.8 0 1,0 -5.6,0M1303.3,1949.5a2.8,2.8 0 1,0 5.6,0a2.8,2.8 0 1,0 -5.6,0M1307.5,1955.3a2.8,2.8 0 1,0 5.6,0a2.8,2.8 0 1,0 -5.6,0M1311.7,1960.5a2.8,2.8 0 1,0 5.6,0a2.8,2.8 0 1,0 -5.6,0M1316.0,1964.4a2.8,2.8 0 1,0 5.6,0a2.8,2.8 0 1,0 -5.6,0M1320.2,1966.5a2.8,2.8 0 1,0 5.6,0a2.8,2.8 0 1,0 -5.6,0M1324.4,1967.9a2.8,2.8 0 1,0 5.6,0a2.8,2.8 0 1,0 -5.6,0M1328.6,1968.7a2.8,2.8 0 1,0 5.6,0a2.8,2.8 0 1,0 -5.6,0M1332.8,1968.7a2.8,2.8 0 1,0 5.6,0a2.8,2.8 0 1,0 -5.6,0M1337.1,1968.2a2.8,2.8 0 1,0 5.6,0a2.8,2.8 0 1,0 -5.6,0M1341.3,1967.3a2.8,2.8 0 1,0 5.6,0a2.8,2.8 0 1,0 -5.6,0M1345.5,1966.2a2.8,2.8 0 1,0 5.6,0a2.8,2.8 0 1,0 -5.6,0M1349.7,1965.1a2.8,2.8 0 1,0 5.6,0a2.8,2.8 0 1,0 -5.6,0M1353.9,1964.0a2.8,2.8 0 1,0 5.6,0a2.8,2.8 0 1,0 -5.6,0M1358.2,1962.9a2.8,2.8 0 1,0 5.6,0a2.8,2.8 0 1,0 -5.6,0M1362.4,1961.6a2.8,2.8 0 1,0 5.6,0a2.8,2.8 0 1,0 -5.6,0M1366.6,1960.3a2.8,2.8 0 1,0 5.6,0a2.8,2.8 0 1,0 -5.6,0M1370.8,1958.9a2.8,2.8 0 1,0 5.6,0a2.8,2.8 0 1,0 -5.6,0M1375.0,1957.4a2.8,2.8 0 1,0 5.6,0a2.8,2.8 0 1,0 -5.6,0M1379.3,1955.9a2.8,2.8 0 1,0 5.6,0a2.8,2.8 0 1,0 -5.6,0M1383.5,1954.4a2.8,2.8 0 1,0 5.6,0a2.8,2.8 0 1,0 -5.6,0M1387.7,1952.6a2.8,2.8 0 1,0 5.6,0a2.8,2.8 0 1,0 -5.6,0M1391.9,1950.6a2.8,2.8 0 1,0 5.6,0a2.8,2.8 0 1,0 -5.6,0M1396.1,1948.0a2.8,2.8 0 1,0 5.6,0a2.8,2.8 0 1,0 -5.6,0M1400.4,1944.8a2.8,2.8 0 1,0 5.6,0a2.8,2.8 0 1,0 -5.6,0M1404.6,1941.2a2.8,2.8 0 1,0 5.6,0a2.8,2.8 0 1,0 -5.6,0M1408.8,1937.5a2.8,2.8 0 1,0 5.6,0a2.8,2.8 0 1,0 -5.6,0M1413.0,1933.9a2.8,2.8 0 1,0 5.6,0a2.8,2.8 0 1,0 -5.6,0M1417.2,1930.5a2.8,2.8 0 1,0 5.6,0a2.8,2.8 0 1,0 -5.6,0M1421.5,1927.2a2.8,2.8 0 1,0 5.6,0a2.8,2.8 0 1,0 -5.6,0M1425.7,1923.8a2.8,2.8 0 1,0 5.6,0a2.8,2.8 0 1,0 -5.6,0M1429.9,1920.4a2.8,2.8 0 1,0 5.6,0a2.8,2.8 0 1,0 -5.6,0M1434.1,1917.0a2.8,2.8 0 1,0 5.6,0a2.8,2.8 0 1,0 -5.6,0M1438.3,1913.7a2.8,2.8 0 1,0 5.6,0a2.8,2.8 0 1,0 -5.6,0M1442.6,1910.4a2.8,2.8 0 1,0 5.6,0a2.8,2.8 0 1,0 -5.6,0M1446.8,1907.1a2.8,2.8 0 1,0 5.6,0a2.8,2.8 0 1,0 -5.6,0M1451.0,1903.7a2.8,2.8 0 1,0 5.6,0a2.8,2.8 0 1,0 -5.6,0M1455.2,1900.2a2.8,2.8 0 1,0 5.6,0a2.8,2.8 0 1,0 -5.6,0M1459.4,1896.6a2.8,2.8 0 1,0 5.6,0a2.8,2.8 0 1,0 -5.6,0M1463.7,1893.0a2.8,2.8 0 1,0 5.6,0a2.8,2.8 0 1,0 -5.6,0M1467.9,1889.2a2.8,2.8 0 1,0 5.6,0a2.8,2.8 0 1,0 -5.6,0M1472.1,1885.2a2.8,2.8 0 1,0 5.6,0a2.8,2.8 0 1,0 -5.6,0M1476.3,1880.9a2.8,2.8 0 1,0 5.6,0a2.8,2.8 0 1,0 -5.6,0M1480.5,1876.4a2.8,2.8 0 1,0 5.6,0a2.8,2.8 0 1,0 -5.6,0M1484.8,1871.4a2.8,2.8 0 1,0 5.6,0a2.8,2.8 0 1,0 -5.6,0M1489.0,1865.5a2.8,2.8 0 1,0 5.6,0a2.8,2.8 0 1,0 -5.6,0M1493.2,1857.7a2.8,2.8 0 1,0 5.6,0a2.8,2.8 0 1,0 -5.6,0M1497.4,1851.1a2.8,2.8 0 1,0 5.6,0a2.8,2.8 0 1,0 -5.6,0M1501.6,1846.2a2.8,2.8 0 1,0 5.6,0a2.8,2.8 0 1,0 -5.6,0M1505.9,1841.3a2.8,2.8 0 1,0 5.6,0a2.8,2.8 0 1,0 -5.6,0M1510.1,1835.3a2.8,2.8 0 1,0 5.6,0a2.8,2.8 0 1,0 -5.6,0M1514.3,1828.4a2.8,2.8 0 1,0 5.6,0a2.8,2.8 0 1,0 -5.6,0M1518.5,1820.3a2.8,2.8 0 1,0 5.6,0a2.8,2.8 0 1,0 -5.6,0M1522.7,1810.3a2.8,2.8 0 1,0 5.6,0a2.8,2.8 0 1,0 -5.6,0M1527.0,1801.9a2.8,2.8 0 1,0 5.6,0a2.8,2.8 0 1,0 -5.6,0M1531.2,1795.1a2.8,2.8 0 1,0 5.6,0a2.8,2.8 0 1,0 -5.6,0M1535.4,1788.9a2.8,2.8 0 1,0 5.6,0a2.8,2.8 0 1,0 -5.6,0M1539.6,1785.1a2.8,2.8 0 1,0 5.6,0a2.8,2.8 0 1,0 -5.6,0M1543.8,1782.6a2.8,2.8 0 1,0 5.6,0a2.8,2.8 0 1,0 -5.6,0M1548.1,1781.6a2.8,2.8 0 1,0 5.6,0a2.8,2.8 0 1,0 -5.6,0M1552.3,1781.0a2.8,2.8 0 1,0 5.6,0a2.8,2.8 0 1,0 -5.6,0M1556.5,1782.0a2.8,2.8 0 1,0 5.6,0a2.8,2.8 0 1,0 -5.6,0M1560.7,1784.8a2.8,2.8 0 1,0 5.6,0a2.8,2.8 0 1,0 -5.6,0M1564.9,1788.7a2.8,2.8 0 1,0 5.6,0a2.8,2.8 0 1,0 -5.6,0M1569.2,1793.9a2.8,2.8 0 1,0 5.6,0a2.8,2.8 0 1,0 -5.6,0M1573.4,1799.4a2.8,2.8 0 1,0 5.6,0a2.8,2.8 0 1,0 -5.6,0M1577.6,1805.4a2.8,2.8 0 1,0 5.6,0a2.8,2.8 0 1,0 -5.6,0M1581.8,1811.4a2.8,2.8 0 1,0 5.6,0a2.8,2.8 0 1,0 -5.6,0M1586.0,1817.3a2.8,2.8 0 1,0 5.6,0a2.8,2.8 0 1,0 -5.6,0M1590.3,1823.2a2.8,2.8 0 1,0 5.6,0a2.8,2.8 0 1,0 -5.6,0M1594.5,1829.6a2.8,2.8 0 1,0 5.6,0a2.8,2.8 0 1,0 -5.6,0M1598.7,1836.5a2.8,2.8 0 1,0 5.6,0a2.8,2.8 0 1,0 -5.6,0M1602.9,1843.2a2.8,2.8 0 1,0 5.6,0a2.8,2.8 0 1,0 -5.6,0M1607.1,1849.1a2.8,2.8 0 1,0 5.6,0a2.8,2.8 0 1,0 -5.6,0M1611.4,1854.9a2.8,2.8 0 1,0 5.6,0a2.8,2.8 0 1,0 -5.6,0M1615.6,1861.1a2.8,2.8 0 1,0 5.6,0a2.8,2.8 0 1,0 -5.6,0M1619.8,1867.7a2.8,2.8 0 1,0 5.6,0a2.8,2.8 0 1,0 -5.6,0M1624.0,1874.7a2.8,2.8 0 1,0 5.6,0a2.8,2.8 0 1,0 -5.6,0M1628.2,1882.2a2.8,2.8 0 1,0 5.6,0a2.8,2.8 0 1,0 -5.6,0M1632.5,1890.2a2.8,2.8 0 1,0 5.6,0a2.8,2.8 0 1,0 -5.6,0M1636.7,1897.2a2.8,2.8 0 1,0 5.6,0a2.8,2.8 0 1,0 -5.6,0M1640.9,1903.1a2.8,2.8 0 1,0 5.6,0a2.8,2.8 0 1,0 -5.6,0M1645.1,1908.3a2.8,2.8 0 1,0 5.6,0a2.8,2.8 0 1,0 -5.6,0M1649.3,1913.0a2.8,2.8 0 1,0 5.6,0a2.8,2.8 0 1,0 -5.6,0M1653.6,1917.5a2.8,2.8 0 1,0 5.6,0a2.8,2.8 0 1,0 -5.6,0M1657.8,1921.0a2.8,2.8 0 1,0 5.6,0a2.8,2.8 0 1,0 -5.6,0M1662.0,1923.1a2.8,2.8 0 1,0 5.6,0a2.8,2.8 0 1,0 -5.6,0M1666.2,1924.7a2.8,2.8 0 1,0 5.6,0a2.8,2.8 0 1,0 -5.6,0M1670.4,1925.9a2.8,2.8 0 1,0 5.6,0a2.8,2.8 0 1,0 -5.6,0M1674.7,1926.9a2.8,2.8 0 1,0 5.6,0a2.8,2.8 0 1,0 -5.6,0M1678.9,1927.7a2.8,2.8 0 1,0 5.6,0a2.8,2.8 0 1,0 -5.6,0M1683.1,1928.4a2.8,2.8 0 1,0 5.6,0a2.8,2.8 0 1,0 -5.6,0M1687.3,1929.1a2.8,2.8 0 1,0 5.6,0a2.8,2.8 0 1,0 -5.6,0M1691.5,1929.7a2.8,2.8 0 1,0 5.6,0a2.8,2.8 0 1,0 -5.6,0M1695.8,1930.0a2.8,2.8 0 1,0 5.6,0a2.8,2.8 0 1,0 -5.6,0M1700.0,1929.9a2.8,2.8 0 1,0 5.6,0a2.8,2.8 0 1,0 -5.6,0M1704.2,1929.5a2.8,2.8 0 1,0 5.6,0a2.8,2.8 0 1,0 -5.6,0M1708.4,1929.0a2.8,2.8 0 1,0 5.6,0a2.8,2.8 0 1,0 -5.6,0M1712.6,1928.3a2.8,2.8 0 1,0 5.6,0a2.8,2.8 0 1,0 -5.6,0M1716.9,1927.7a2.8,2.8 0 1,0 5.6,0a2.8,2.8 0 1,0 -5.6,0M1721.1,1927.2a2.8,2.8 0 1,0 5.6,0a2.8,2.8 0 1,0 -5.6,0M1725.3,1927.0a2.8,2.8 0 1,0 5.6,0a2.8,2.8 0 1,0 -5.6,0M1729.5,1926.9a2.8,2.8 0 1,0 5.6,0a2.8,2.8 0 1,0 -5.6,0M1733.7,1926.8a2.8,2.8 0 1,0 5.6,0a2.8,2.8 0 1,0 -5.6,0M1738.0,1926.8a2.8,2.8 0 1,0 5.6,0a2.8,2.8 0 1,0 -5.6,0M1742.2,1926.7a2.8,2.8 0 1,0 5.6,0a2.8,2.8 0 1,0 -5.6,0M1746.4,1926.7a2.8,2.8 0 1,0 5.6,0a2.8,2.8 0 1,0 -5.6,0M1750.6,1926.9a2.8,2.8 0 1,0 5.6,0a2.8,2.8 0 1,0 -5.6,0M1754.8,1927.2a2.8,2.8 0 1,0 5.6,0a2.8,2.8 0 1,0 -5.6,0M1759.1,1927.5a2.8,2.8 0 1,0 5.6,0a2.8,2.8 0 1,0 -5.6,0M1763.3,1927.8a2.8,2.8 0 1,0 5.6,0a2.8,2.8 0 1,0 -5.6,0M1767.5,1927.5a2.8,2.8 0 1,0 5.6,0a2.8,2.8 0 1,0 -5.6,0M1771.7,1925.9a2.8,2.8 0 1,0 5.6,0a2.8,2.8 0 1,0 -5.6,0M1775.9,1923.6a2.8,2.8 0 1,0 5.6,0a2.8,2.8 0 1,0 -5.6,0M1780.2,1921.4a2.8,2.8 0 1,0 5.6,0a2.8,2.8 0 1,0 -5.6,0M1784.4,1919.0a2.8,2.8 0 1,0 5.6,0a2.8,2.8 0 1,0 -5.6,0M1788.6,1916.3a2.8,2.8 0 1,0 5.6,0a2.8,2.8 0 1,0 -5.6,0M1792.8,1913.5a2.8,2.8 0 1,0 5.6,0a2.8,2.8 0 1,0 -5.6,0M1797.0,1910.5a2.8,2.8 0 1,0 5.6,0a2.8,2.8 0 1,0 -5.6,0M1801.3,1907.5a2.8,2.8 0 1,0 5.6,0a2.8,2.8 0 1,0 -5.6,0M1805.5,1904.4a2.8,2.8 0 1,0 5.6,0a2.8,2.8 0 1,0 -5.6,0M1809.7,1901.5a2.8,2.8 0 1,0 5.6,0a2.8,2.8 0 1,0 -5.6,0M1813.9,1898.7a2.8,2.8 0 1,0 5.6,0a2.8,2.8 0 1,0 -5.6,0M1818.1,1896.0a2.8,2.8 0 1,0 5.6,0a2.8,2.8 0 1,0 -5.6,0M1822.4,1893.4a2.8,2.8 0 1,0 5.6,0a2.8,2.8 0 1,0 -5.6,0M1826.6,1890.8a2.8,2.8 0 1,0 5.6,0a2.8,2.8 0 1,0 -5.6,0M1830.8,1888.1a2.8,2.8 0 1,0 5.6,0a2.8,2.8 0 1,0 -5.6,0M1835.0,1885.3a2.8,2.8 0 1,0 5.6,0a2.8,2.8 0 1,0 -5.6,0M1839.2,1882.3a2.8,2.8 0 1,0 5.6,0a2.8,2.8 0 1,0 -5.6,0M1843.5,1879.0a2.8,2.8 0 1,0 5.6,0a2.8,2.8 0 1,0 -5.6,0M1847.7,1875.4a2.8,2.8 0 1,0 5.6,0a2.8,2.8 0 1,0 -5.6,0M1851.9,1871.3a2.8,2.8 0 1,0 5.6,0a2.8,2.8 0 1,0 -5.6,0M1856.1,1866.8a2.8,2.8 0 1,0 5.6,0a2.8,2.8 0 1,0 -5.6,0M1860.3,1861.7a2.8,2.8 0 1,0 5.6,0a2.8,2.8 0 1,0 -5.6,0M1864.6,1856.1a2.8,2.8 0 1,0 5.6,0a2.8,2.8 0 1,0 -5.6,0M1868.8,1850.0a2.8,2.8 0 1,0 5.6,0a2.8,2.8 0 1,0 -5.6,0M1873.0,1843.3a2.8,2.8 0 1,0 5.6,0a2.8,2.8 0 1,0 -5.6,0" fill="#960000" fill-opacity="1.0"/>
<path d="M1250.7,2018.6 L1254.9,2031.4 L1259.1,2047.3 L1263.4,2061.2 L1267.6,2072.8 L1271.8,2081.1 L1276.0,2087.9 L1280.2,2093.5 L1284.5,2097.8 L1288.7,2101.6 L1292.9,2105.2 L1297.1,2108.5 L1301.3,2111.4 L1305.6,2113.5 L1309.8,2114.7 L1314.0,2115.0 L1318.2,2114.9 L1322.4,2114.8 L1326.7,2114.6 L1330.9,2114.4 L1335.1,2114.2 L1339.3,2113.8 L1343.5,2113.5 L1347.8,2113.1 L1352.0,2112.7 L1356.2,2112.2 L1360.4,2111.4 L1364.6,2110.4 L1368.9,2109.1 L1373.1,2107.8 L1377.3,2106.5 L1381.5,2105.3 L1385.7,2104.4 L1390.0,2103.8 L1394.2,2103.2 L1398.4,2102.6 L1402.6,2102.0 L1406.8,2101.5 L1411.1,2101.1 L1415.3,2100.7 L1419.5,2100.4 L1423.7,2100.2 L1427.9,2100.1 L1432.2,2100.3 L1436.4,2100.9 L1440.6,2101.8 L1444.8,2103.0 L1449.0,2104.2 L1453.3,2105.7 L1457.5,2108.0 L1461.7,2110.6 L1465.9,2113.4 L1470.1,2116.1 L1474.4,2118.4 L1478.6,2120.1 L1482.8,2121.4 L1487.0,2122.8 L1491.2,2124.0 L1495.5,2125.2 L1499.7,2126.2 L1503.9,2126.9 L1508.1,2127.3 L1512.3,2127.4 L1516.6,2127.2 L1520.8,2126.8 L1525.0,2126.2 L1529.2,2125.7 L1533.4,2125.2 L1537.7,2125.0 L1541.9,2124.9 L1546.1,2124.9 L1550.3,2125.0 L1554.5,2125.1 L1558.8,2125.2 L1563.0,2125.3 L1567.2,2125.5 L1571.4,2125.6 L1575.6,2125.8 L1579.9,2126.0 L1584.1,2126.2 L1588.3,2126.6 L1592.5,2127.0 L1596.7,2127.4 L1601.0,2128.0 L1605.2,2128.7 L1609.4,2129.4 L1613.6,2130.2 L1617.8,2131.1 L1622.1,2132.1 L1626.3,2133.3 L1630.5,2135.1 L1634.7,2137.5 L1638.9,2140.1 L1643.2,2143.1 L1647.4,2146.1 L1651.6,2149.2 L1655.8,2152.1 L1660.0,2154.9 L1664.3,2157.2 L1668.5,2159.4 L1672.7,2161.7 L1676.9,2163.9 L1681.1,2166.1 L1685.4,2168.1 L1689.6,2170.1 L1693.8,2171.9 L1698.0,2173.5 L1702.2,2174.9 L1706.5,2176.0 L1710.7,2177.0 L1714.9,2178.0 L1719.1,2178.9 L1723.3,2179.7 L1727.6,2180.3 L1731.8,2180.6 L1736.0,2180.7 L1740.2,2180.5 L1744.4,2180.3 L1748.7,2179.8 L1752.9,2179.3 L1757.1,2178.6 L1761.3,2177.9 L1765.5,2177.0 L1769.8,2176.1 L1774.0,2175.1 L1778.2,2174.1 L1782.4,2173.1 L1786.6,2172.0 L1790.9,2170.9 L1795.1,2169.6 L1799.3,2168.1 L1803.5,2166.3 L1807.7,2164.4 L1812.0,2162.4 L1816.2,2160.3 L1820.4,2158.1 L1824.6,2155.8 L1828.8,2153.5 L1833.1,2151.1 L1837.3,2148.6 L1841.5,2145.9 L1845.7,2143.1 L1849.9,2140.2 L1854.2,2137.1 L1858.4,2133.9 L1862.6,2130.6 L1866.8,2127.2 L1871.0,2123.7 L1875.3,2120.1" fill="none" stroke="#000080" stroke-width="2.4" stroke-opacity="0.7"/>
<path d="M1247.9,2018.6a2.8,2.8 0 1,0 5.6,0a2.8,2.8 0 1,0 -5.6,0M1252.1,2031.4a2.8,2.8 0 1,0 5.6,0a2.8,2.8 0 1,0 -5.6,0M1256.3,2047.3a2.8,2.8 0 1,0 5.6,0a2.8,2.8 0 1,0 -5.6,0M1260.6,2061.2a2.8,2.8 0 1,0 5.6,0a2.8,2.8 0 1,0 -5.6,0M1264.8,2072.8a2.8,2.8 0 1,0 5.6,0a2.8,2.8 0 1,0 -5.6,0M1269.0,2081.1a2.8,2.8 0 1,0 5.6,0a2.8,2.8 0 1,0 -5.6,0M1273.2,2087.9a2.8,2.8 0 1,0 5.6,0a2.8,2.8 0 1,0 -5.6,0M1277.4,2093.5a2.8,2.8 0 1,0 5.6,0a2.8,2.8 0 1,0 -5.6,0M1281.7,2097.8a2.8,2.8 0 1,0 5.6,0a2.8,2.8 0 1,0 -5.6,0M1285.9,2101.6a2.8,2.8 0 1,0 5.6,0a2.8,2.8 0 1,0 -5.6,0M1290.1,2105.2a2.8,2.8 0 1,0 5.6,0a2.8,2.8 0 1,0 -5.6,0M1294.3,2108.5a2.8,2.8 0 1,0 5.6,0a2.8,2.8 0 1,0 -5.6,0M1298.5,2111.4a2.8,2.8 0 1,0 5.6,0a2.8,2.8 0 1,0 -5.6,0M1302.8,2113.5a2.8,2.8 0 1,0 5.6,0a2.8,2.8 0 1,0 -5.6,0M1307.0,2114.7a2.8,2.8 0 1,0 5.6,0a2.8,2.8 0 1,0 -5.6,0M1311.2,2115.0a2.8,2.8 0 1,0 5.6,0a2.8,2.8 0 1,0 -5.6,0M1315.4,2114.9a2.8,2.8 0 1,0 5.6,0a2.8,2.8 0 1,0 -5.6,0M1319.6,2114.8a2.8,2.8 0 1,0 5.6,0a2.8,2.8 0 1,0 -5.6,0M1323.9,2114.6a2.8,2.8 0 1,0 5.6,0a2.8,2.8 0 1,0 -5.6,0M1328.1,2114.4a2.8,2.8 0 1,0 5.6,0a2.8,2.8 0 1,0 -5.6,0M1332.3,2114.2a2.8,2.8 0 1,0 5.6,0a2.8,2.8 0 1,0 -5.6,0M1336.5,2113.8a2.8,2.8 0 1,0 5.6,0a2.8,2.8 0 1,0 -5.6,0M1340.7,2113.5a2.8,2.8 0 1,0 5.6,0a2.8,2.8 0 1,0 -5.6,0M1345.0,2113.1a2.8,2.8 0 1,0 5.6,0a2.8,2.8 0 1,0 -5.6,0M1349.2,2112.7a2.8,2.8 0 1,0 5.6,0a2.8,2.8 0 1,0 -5.6,0M1353.4,2112.2a2.8,2.8 0 1,0 5.6,0a2.8,2.8 0 1,0 -5.6,0M1357.6,2111.4a2.8,2.8 0 1,0 5.6,0a2.8,2.8 0 1,0 -5.6,0M1361.8,2110.4a2.8,2.8 0 1,0 5.6,0a2.8,2.8 0 1,0 -5.6,0M1366.1,2109.1a2.8,2.8 0 1,0 5.6,0a2.8,2.8 0 1,0 -5.6,0M1370.3,2107.8a2.8,2.8 0 1,0 5.6,0a2.8,2.8 0 1,0 -5.6,0M1374.5,2106.5a2.8,2.8 0 1,0 5.6,0a2.8,2.8 0 1,0 -5.6,0M1378.7,2105.3a2.8,2.8 0 1,0 5.6,0a2.8,2.8 0 1,0 -5.6,0M1382.9,2104.4a2.8,2.8 0 1,0 5.6,0a2.8,2.8 0 1,0 -5.6,0M1387.2,2103.8a2.8,2.8 0 1,0 5.6,0a2.8,2.8 0 1,0 -5.6,0M1391.4,2103.2a2.8,2.8 0 1,0 5.6,0a2.8,2.8 0 1,0 -5.6,0M1395.6,2102.6a2.8,2.8 0 1,0 5.6,0a2.8,2.8 0 1,0 -5.6,0M1399.8,2102.0a2.8,2.8 0 1,0 5.6,0a2.8,2.8 0 1,0 -5.6,0M1404.0,2101.5a2.8,2.8 0 1,0 5.6,0a2.8,2.8 0 1,0 -5.6,0M1408.3,2101.1a2.8,2.8 0 1,0 5.6,0a2.8,2.8 0 1,0 -5.6,0M1412.5,2100.7a2.8,2.8 0 1,0 5.6,0a2.8,2.8 0 1,0 -5.6,0M1416.7,2100.4a2.8,2.8 0 1,0 5.6,0a2.8,2.8 0 1,0 -5.6,0M1420.9,2100.2a2.8,2.8 0 1,0 5.6,0a2.8,2.8 0 1,0 -5.6,0M1425.1,2100.1a2.8,2.8 0 1,0 5.6,0a2.8,2.8 0 1,0 -5.6,0M1429.4,2100.3a2.8,2.8 0 1,0 5.6,0a2.8,2.8 0 1,0 -5.6,0M1433.6,2100.9a2.8,2.8 0 1,0 5.6,0a2.8,2.8 0 1,0 -5.6,0M1437.8,2101.8a2.8,2.8 0 1,0 5.6,0a2.8,2.8 0 1,0 -5.6,0M1442.0,2103.0a2.8,2.8 0 1,0 5.6,0a2.8,2.8 0 1,0 -5.6,0M1446.2,2104.2a2.8,2.8 0 1,0 5.6,0a2.8,2.8 0 1,0 -5.6,0M1450.5,2105.7a2.8,2.8 0 1,0 5.6,0a2.8,2.8 0 1,0 -5.6,0M1454.7,2108.0a2.8,2.8 0 1,0 5.6,0a2.8,2.8 0 1,0 -5.6,0M1458.9,2110.6a2.8,2.8 0 1,0 5.6,0a2.8,2.8 0 1,0 -5.6,0M1463.1,2113.4a2.8,2.8 0 1,0 5.6,0a2.8,2.8 0 1,0 -5.6,0M1467.3,2116.1a2.8,2.8 0 1,0 5.6,0a2.8,2.8 0 1,0 -5.6,0M1471.6,2118.4a2.8,2.8 0 1,0 5.6,0a2.8,2.8 0 1,0 -5.6,0M1475.8,2120.1a2.8,2.8 0 1,0 5.6,0a2.8,2.8 0 1,0 -5.6,0M1480.0,2121.4a2.8,2.8 0 1,0 5.6,0a2.8,2.8 0 1,0 -5.6,0M1484.2,2122.8a2.8,2.8 0 1,0 5.6,0a2.8,2.8 0 1,0 -5.6,0M1488.4,2124.0a2.8,2.8 0 1,0 5.6,0a2.8,2.8 0 1,0 -5.6,0M1492.7,2125.2a2.8,2.8 0 1,0 5.6,0a2.8,2.8 0 1,0 -5.6,0M1496.9,2126.2a2.8,2.8 0 1,0 5.6,0a2.8,2.8 0 1,0 -5.6,0M1501.1,2126.9a2.8,2.8 0 1,0 5.6,0a2.8,2.8 0 1,0 -5.6,0M1505.3,2127.3a2.8,2.8 0 1,0 5.6,0a2.8,2.8 0 1,0 -5.6,0M1509.5,2127.4a2.8,2.8 0 1,0 5.6,0a2.8,2.8 0 1,0 -5.6,0M1513.8,2127.2a2.8,2.8 0 1,0 5.6,0a2.8,2.8 0 1,0 -5.6,0M1518.0,2126.8a2.8,2.8 0 1,0 5.6,0a2.8,2.8 0 1,0 -5.6,0M1522.2,2126.2a2.8,2.8 0 1,0 5.6,0a2.8,2.8 0 1,0 -5.6,0M1526.4,2125.7a2.8,2.8 0 1,0 5.6,0a2.8,2.8 0 1,0 -5.6,0M1530.6,2125.2a2.8,2.8 0 1,0 5.6,0a2.8,2.8 0 1,0 -5.6,0M1534.9,2125.0a2.8,2.8 0 1,0 5.6,0a2.8,2.8 0 1,0 -5.6,0M1539.1,2124.9a2.8,2.8 0 1,0 5.6,0a2.8,2.8 0 1,0 -5.6,0M1543.3,2124.9a2.8,2.8 0 1,0 5.6,0a2.8,2.8 0 1,0 -5.6,0M1547.5,2125.0a2.8,2.8 0 1,0 5.6,0a2.8,2.8 0 1,0 -5.6,0M1551.7,2125.1a2.8,2.8 0 1,0 5.6,0a2.8,2.8 0 1,0 -5.6,0M1556.0,2125.2a2.8,2.8 0 1,0 5.6,0a2.8,2.8 0 1,0 -5.6,0M1560.2,2125.3a2.8,2.8 0 1,0 5.6,0a2.8,2.8 0 1,0 -5.6,0M1564.4,2125.5a2.8,2.8 0 1,0 5.6,0a2.8,2.8 0 1,0 -5.6,0M1568.6,2125.6a2.8,2.8 0 1,0 5.6,0a2.8,2.8 0 1,0 -5.6,0M1572.8,2125.8a2.8,2.8 0 1,0 5.6,0a2.8,2.8 0 1,0 -5.6,0M1577.1,2126.0a2.8,2.8 0 1,0 5.6,0a2.8,2.8 0 1,0 -5.6,0M1581.3,2126.2a2.8,2.8 0 1,0 5.6,0a2.8,2.8 0 1,0 -5.6,0M1585.5,2126.6a2.8,2.8 0 1,0 5.6,0a2.8,2.8 0 1,0 -5.6,0M1589.7,2127.0a2.8,2.8 0 1,0 5.6,0a2.8,2.8 0 1,0 -5.6,0M1593.9,2127.4a2.8,2.8 0 1,0 5.6,0a2.8,2.8 0 1,0 -5.6,0M1598.2,2128.0a2.8,2.8 0 1,0 5.6,0a2.8,2.8 0 1,0 -5.6,0M1602.4,2128.7a2.8,2.8 0 1,0 5.6,0a2.8,2.8 0 1,0 -5.6,0M1606.6,2129.4a2.8,2.8 0 1,0 5.6,0a2.8,2.8 0 1,0 -5.6,0M1610.8,2130.2a2.8,2.8 0 1,0 5.6,0a2.8,2.8 0 1,0 -5.6,0M1615.0,2131.1a2.8,2.8 0 1,0 5.6,0a2.8,2.8 0 1,0 -5.6,0M1619.3,2132.1a2.8,2.8 0 1,0 5.6,0a2.8,2.8 0 1,0 -5.6,0M1623.5,2133.3a2.8,2.8 0 1,0 5.6,0a2.8,2.8 0 1,0 -5.6,0M1627.7,2135.1a2.8,2.8 0 1,0 5.6,0a2.8,2.8 0 1,0 -5.6,0M1631.9,2137.5a2.8,2.8 0 1,0 5.6,0a2.8,2.8 0 1,0 -5.6,0M1636.1,2140.1a2.8,2.8 0 1,0 5.6,0a2.8,2.8 0 1,0 -5.6,0M1640.4,2143.1a2.8,2.8 0 1,0 5.6,0a2.8,2.8 0 1,0 -5.6,0M1644.6,2146.1a2.8,2.8 0 1,0 5.6,0a2.8,2.8 0 1,0 -5.6,0M1648.8,2149.2a2.8,2.8 0 1,0 5.6,0a2.8,2.8 0 1,0 -5.6,0M1653.0,2152.1a2.8,2.8 0 1,0 5.6,0a2.8,2.8 0 1,0 -5.6,0M1657.2,2154.9a2.8,2.8 0 1,0 5.6,0a2.8,2.8 0 1,0 -5.6,0M1661.5,2157.2a2.8,2.8 0 1,0 5.6,0a2.8,2.8 0 1,0 -5.6,0M1665.7,2159.4a2.8,2.8 0 1,0 5.6,0a2.8,2.8 0 1,0 -5.6,0M1669.9,2161.7a2.8,2.8 0 1,0 5.6,0a2.8,2.8 0 1,0 -5.6,0M1674.1,2163.9a2.8,2.8 0 1,0 5.6,0a2.8,2.8 0 1,0 -5.6,0M1678.3,2166.1a2.8,2.8 0 1,0 5.6,0a2.8,2.8 0 1,0 -5.6,0M1682.6,2168.1a2.8,2.8 0 1,0 5.6,0a2.8,2.8 0 1,0 -5.6,0M1686.8,2170.1a2.8,2.8 0 1,0 5.6,0a2.8,2.8 0 1,0 -5.6,0M1691.0,2171.9a2.8,2.8 0 1,0 5.6,0a2.8,2.8 0 1,0 -5.6,0M1695.2,2173.5a2.8,2.8 0 1,0 5.6,0a2.8,2.8 0 1,0 -5.6,0M1699.4,2174.9a2.8,2.8 0 1,0 5.6,0a2.8,2.8 0 1,0 -5.6,0M1703.7,2176.0a2.8,2.8 0 1,0 5.6,0a2.8,2.8 0 1,0 -5.6,0M1707.9,2177.0a2.8,2.8 0 1,0 5.6,0a2.8,2.8 0 1,0 -5.6,0M1712.1,2178.0a2.8,2.8 0 1,0 5.6,0a2.8,2.8 0 1,0 -5.6,0M1716.3,2178.9a2.8,2.8 0 1,0 5.6,0a2.8,2.8 0 1,0 -5.6,0M1720.5,2179.7a2.8,2.8 0 1,0 5.6,0a2.8,2.8 0 1,0 -5.6,0M1724.8,2180.3a2.8,2.8 0 1,0 5.6,0a2.8,2.8 0 1,0 -5.6,0M1729.0,2180.6a2.8,2.8 0 1,0 5.6,0a2.8,2.8 0 1,0 -5.6,0M1733.2,2180.7a2.8,2.8 0 1,0 5.6,0a2.8,2.8 0 1,0 -5.6,0M1737.4,2180.5a2.8,2.8 0 1,0 5.6,0a2.8,2.8 0 1,0 -5.6,0M1741.6,2180.3a2.8,2.8 0 1,0 5.6,0a2.8,2.8 0 1,0 -5.6,0M1745.9,2179.8a2.8,2.8 0 1,0 5.6,0a2.8,2.8 0 1,0 -5.6,0M1750.1,2179.3a2.8,2.8 0 1,0 5.6,0a2.8,2.8 0 1,0 -5.6,0M1754.3,2178.6a2.8,2.8 0 1,0 5.6,0a2.8,2.8 0 1,0 -5.6,0M1758.5,2177.9a2.8,2.8 0 1,0 5.6,0a2.8,2.8 0 1,0 -5.6,0M1762.7,2177.0a2.8,2.8 0 1,0 5.6,0a2.8,2.8 0 1,0 -5.6,0M1767.0,2176.1a2.8,2.8 0 1,0 5.6,0a2.8,2.8 0 1,0 -5.6,0M1771.2,2175.1a2.8,2.8 0 1,0 5.6,0a2.8,2.8 0 1,0 -5.6,0M1775.4,2174.1a2.8,2.8 0 1,0 5.6,0a2.8,2.8 0 1,0 -5.6,0M1779.6,2173.1a2.8,2.8 0 1,0 5.6,0a2.8,2.8 0 1,0 -5.6,0M1783.8,2172.0a2.8,2.8 0 1,0 5.6,0a2.8,2.8 0 1,0 -5.6,0M1788.1,2170.9a2.8,2.8 0 1,0 5.6,0a2.8,2.8 0 1,0 -5.6,0M1792.3,2169.6a2.8,2.8 0 1,0 5.6,0a2.8,2.8 0 1,0 -5.6,0M1796.5,2168.1a2.8,2.8 0 1,0 5.6,0a2.8,2.8 0 1,0 -5.6,0M1800.7,2166.3a2.8,2.8 0 1,0 5.6,0a2.8,2.8 0 1,0 -5.6,0M1804.9,2164.4a2.8,2.8 0 1,0 5.6,0a2.8,2.8 0 1,0 -5.6,0M1809.2,2162.4a2.8,2.8 0 1,0 5.6,0a2.8,2.8 0 1,0 -5.6,0M1813.4,2160.3a2.8,2.8 0 1,0 5.6,0a2.8,2.8 0 1,0 -5.6,0M1817.6,2158.1a2.8,2.8 0 1,0 5.6,0a2.8,2.8 0 1,0 -5.6,0M1821.8,2155.8a2.8,2.8 0 1,0 5.6,0a2.8,2.8 0 1,0 -5.6,0M1826.0,2153.5a2.8,2.8 0 1,0 5.6,0a2.8,2.8 0 1,0 -5.6,0M1830.3,2151.1a2.8,2.8 0 1,0 5.6,0a2.8,2.8 0 1,0 -5.6,0M1834.5,2148.6a2.8,2.8 0 1,0 5.6,0a2.8,2.8 0 1,0 -5.6,0M1838.7,2145.9a2.8,2.8 0 1,0 5.6,0a2.8,2.8 0 1,0 -5.6,0M1842.9,2143.1a2.8,2.8 0 1,0 5.6,0a2.8,2.8 0 1,0 -5.6,0M1847.1,2140.2a2.8,2.8 0 1,0 5.6,0a2.8,2.8 0 1,0 -5.6,0M1851.4,2137.1a2.8,2.8 0 1,0 5.6,0a2.8,2.8 0 1,0 -5.6,0M1855.6,2133.9a2.8,2.8 0 1,0 5.6,0a2.8,2.8 0 1,0 -5.6,0M1859.8,2130.6a2.8,2.8 0 1,0 5.6,0a2.8,2.8 0 1,0 -5.6,0M1864.0,2127.2a2.8,2.8 0 1,0 5.6,0a2.8,2.8 0 1,0 -5.6,0M1868.2,2123.7a2.8,2.8 0 1,0 5.6,0a2.8,2.8 0 1,0 -5.6,0M1872.5,2120.1a2.8,2.8 0 1,0 5.6,0a2.8,2.8 0 1,0 -5.6,0" fill="#000080" fill-opacity="1.0"/>
<path d="M1242.4,2479.3 L1246.6,2482.7 L1250.8,2485.9 L1255.1,2488.7 L1259.3,2491.0 L1263.5,2492.9 L1267.7,2494.7 L1271.9,2496.4 L1276.2,2497.9 L1280.4,2499.3 L1284.6,2500.4 L1288.8,2501.4 L1293.0,2502.2 L1297.3,2502.9 L1301.5,2503.5 L1305.7,2504.2 L1309.9,2504.7 L1314.1,2505.2 L1318.4,2505.6 L1322.6,2505.9 L1326.8,2506.1 L1331.0,2506.1 L1335.2,2505.8 L1339.5,2505.3 L1343.7,2504.6 L1347.9,2503.9 L1352.1,2503.2 L1356.3,2502.7 L1360.6,2502.4 L1364.8,2502.4 L1369.0,2502.6 L1373.2,2502.8 L1377.4,2503.1 L1381.7,2503.5 L1385.9,2503.9 L1390.1,2504.3 L1394.3,2504.8 L1398.5,2505.2 L1402.8,2505.5 L1407.0,2505.8 L1411.2,2506.0 L1415.4,2506.1 L1419.6,2506.1 L1423.9,2505.9 L1428.1,2505.7 L1432.3,2505.4 L1436.5,2505.0 L1440.7,2504.7 L1445.0,2504.3 L1449.2,2503.9 L1453.4,2503.5 L1457.6,2503.2 L1461.8,2503.0 L1466.1,2502.8 L1470.3,2502.8 L1474.5,2502.9 L1478.7,2503.1 L1482.9,2503.3 L1487.2,2503.7 L1491.4,2504.1 L1495.6,2504.6 L1499.8,2505.1 L1504.0,2505.6 L1508.3,2506.1 L1512.5,2506.6 L1516.7,2507.1 L1520.9,2507.5 L1525.1,2507.8 L1529.4,2508.0 L1533.6,2508.2 L1537.8,2508.2 L1542.0,2508.0 L1546.2,2507.7 L1550.5,2507.2 L1554.7,2506.7 L1558.9,2506.1 L1563.1,2505.5 L1567.3,2504.9 L1571.6,2504.3 L1575.8,2503.7 L1580.0,2503.3 L1584.2,2503.0 L1588.4,2502.7 L1592.7,2502.5 L1596.9,2502.2 L1601.1,2502.0 L1605.3,2501.8 L1609.5,2501.6 L1613.8,2501.4 L1618.0,2501.1 L1622.2,2500.8 L1626.4,2500.5 L1630.6,2500.1 L1634.9,2499.6 L1639.1,2499.1 L1643.3,2498.6 L1647.5,2498.1 L1651.7,2497.6 L1656.0,2497.3 L1660.2,2497.1 L1664.4,2497.0 L1668.6,2497.0 L1672.8,2497.1 L1677.1,2497.2 L1681.3,2497.3 L1685.5,2497.5 L1689.7,2497.6 L1693.9,2497.7 L1698.2,2497.8 L1702.4,2497.9 L1706.6,2497.9 L1710.8,2497.6 L1715.0,2496.9 L1719.3,2496.0 L1723.5,2495.1 L1727.7,2494.2 L1731.9,2493.4 L1736.1,2493.0 L1740.4,2492.9 L1744.6,2493.0 L1748.8,2493.1 L1753.0,2493.3 L1757.2,2493.6 L1761.5,2493.8 L1765.7,2494.1 L1769.9,2494.3 L1774.1,2494.6 L1778.3,2494.8 L1782.6,2494.9 L1786.8,2495.0 L1791.0,2495.0 L1795.2,2494.8 L1799.4,2494.6 L1803.7,2494.2 L1807.9,2493.9 L1812.1,2493.5 L1816.3,2493.1 L1820.5,2492.8 L1824.8,2492.6 L1829.0,2492.5 L1833.2,2492.5 L1837.4,2492.6 L1841.6,2492.7 L1845.9,2492.9 L1850.1,2493.1 L1854.3,2493.4 L1858.5,2493.8 L1862.7,2494.2 L1867.0,2494.6 L1871.2,2495.2 L1875.4,2495.7" fill="none" stroke="#000" stroke-width="3.0" stroke-opacity="0.95"/>
<path d="M1239.7,2479.3a2.7,2.7 0 1,0 5.4,0a2.7,2.7 0 1,0 -5.4,0M1243.9,2482.7a2.7,2.7 0 1,0 5.4,0a2.7,2.7 0 1,0 -5.4,0M1248.1,2485.9a2.7,2.7 0 1,0 5.4,0a2.7,2.7 0 1,0 -5.4,0M1252.4,2488.7a2.7,2.7 0 1,0 5.4,0a2.7,2.7 0 1,0 -5.4,0M1256.6,2491.0a2.7,2.7 0 1,0 5.4,0a2.7,2.7 0 1,0 -5.4,0M1260.8,2492.9a2.7,2.7 0 1,0 5.4,0a2.7,2.7 0 1,0 -5.4,0M1265.0,2494.7a2.7,2.7 0 1,0 5.4,0a2.7,2.7 0 1,0 -5.4,0M1269.2,2496.4a2.7,2.7 0 1,0 5.4,0a2.7,2.7 0 1,0 -5.4,0M1273.5,2497.9a2.7,2.7 0 1,0 5.4,0a2.7,2.7 0 1,0 -5.4,0M1277.7,2499.3a2.7,2.7 0 1,0 5.4,0a2.7,2.7 0 1,0 -5.4,0M1281.9,2500.4a2.7,2.7 0 1,0 5.4,0a2.7,2.7 0 1,0 -5.4,0M1286.1,2501.4a2.7,2.7 0 1,0 5.4,0a2.7,2.7 0 1,0 -5.4,0M1290.3,2502.2a2.7,2.7 0 1,0 5.4,0a2.7,2.7 0 1,0 -5.4,0M1294.6,2502.9a2.7,2.7 0 1,0 5.4,0a2.7,2.7 0 1,0 -5.4,0M1298.8,2503.5a2.7,2.7 0 1,0 5.4,0a2.7,2.7 0 1,0 -5.4,0M1303.0,2504.2a2.7,2.7 0 1,0 5.4,0a2.7,2.7 0 1,0 -5.4,0M1307.2,2504.7a2.7,2.7 0 1,0 5.4,0a2.7,2.7 0 1,0 -5.4,0M1311.4,2505.2a2.7,2.7 0 1,0 5.4,0a2.7,2.7 0 1,0 -5.4,0M1315.7,2505.6a2.7,2.7 0 1,0 5.4,0a2.7,2.7 0 1,0 -5.4,0M1319.9,2505.9a2.7,2.7 0 1,0 5.4,0a2.7,2.7 0 1,0 -5.4,0M1324.1,2506.1a2.7,2.7 0 1,0 5.4,0a2.7,2.7 0 1,0 -5.4,0M1328.3,2506.1a2.7,2.7 0 1,0 5.4,0a2.7,2.7 0 1,0 -5.4,0M1332.5,2505.8a2.7,2.7 0 1,0 5.4,0a2.7,2.7 0 1,0 -5.4,0M1336.8,2505.3a2.7,2.7 0 1,0 5.4,0a2.7,2.7 0 1,0 -5.4,0M1341.0,2504.6a2.7,2.7 0 1,0 5.4,0a2.7,2.7 0 1,0 -5.4,0M1345.2,2503.9a2.7,2.7 0 1,0 5.4,0a2.7,2.7 0 1,0 -5.4,0M1349.4,2503.2a2.7,2.7 0 1,0 5.4,0a2.7,2.7 0 1,0 -5.4,0M1353.6,2502.7a2.7,2.7 0 1,0 5.4,0a2.7,2.7 0 1,0 -5.4,0M1357.9,2502.4a2.7,2.7 0 1,0 5.4,0a2.7,2.7 0 1,0 -5.4,0M1362.1,2502.4a2.7,2.7 0 1,0 5.4,0a2.7,2.7 0 1,0 -5.4,0M1366.3,2502.6a2.7,2.7 0 1,0 5.4,0a2.7,2.7 0 1,0 -5.4,0M1370.5,2502.8a2.7,2.7 0 1,0 5.4,0a2.7,2.7 0 1,0 -5.4,0M1374.7,2503.1a2.7,2.7 0 1,0 5.4,0a2.7,2.7 0 1,0 -5.4,0M1379.0,2503.5a2.7,2.7 0 1,0 5.4,0a2.7,2.7 0 1,0 -5.4,0M1383.2,2503.9a2.7,2.7 0 1,0 5.4,0a2.7,2.7 0 1,0 -5.4,0M1387.4,2504.3a2.7,2.7 0 1,0 5.4,0a2.7,2.7 0 1,0 -5.4,0M1391.6,2504.8a2.7,2.7 0 1,0 5.4,0a2.7,2.7 0 1,0 -5.4,0M1395.8,2505.2a2.7,2.7 0 1,0 5.4,0a2.7,2.7 0 1,0 -5.4,0M1400.1,2505.5a2.7,2.7 0 1,0 5.4,0a2.7,2.7 0 1,0 -5.4,0M1404.3,2505.8a2.7,2.7 0 1,0 5.4,0a2.7,2.7 0 1,0 -5.4,0M1408.5,2506.0a2.7,2.7 0 1,0 5.4,0a2.7,2.7 0 1,0 -5.4,0M1412.7,2506.1a2.7,2.7 0 1,0 5.4,0a2.7,2.7 0 1,0 -5.4,0M1416.9,2506.1a2.7,2.7 0 1,0 5.4,0a2.7,2.7 0 1,0 -5.4,0M1421.2,2505.9a2.7,2.7 0 1,0 5.4,0a2.7,2.7 0 1,0 -5.4,0M1425.4,2505.7a2.7,2.7 0 1,0 5.4,0a2.7,2.7 0 1,0 -5.4,0M1429.6,2505.4a2.7,2.7 0 1,0 5.4,0a2.7,2.7 0 1,0 -5.4,0M1433.8,2505.0a2.7,2.7 0 1,0 5.4,0a2.7,2.7 0 1,0 -5.4,0M1438.0,2504.7a2.7,2.7 0 1,0 5.4,0a2.7,2.7 0 1,0 -5.4,0M1442.3,2504.3a2.7,2.7 0 1,0 5.4,0a2.7,2.7 0 1,0 -5.4,0M1446.5,2503.9a2.7,2.7 0 1,0 5.4,0a2.7,2.7 0 1,0 -5.4,0M1450.7,2503.5a2.7,2.7 0 1,0 5.4,0a2.7,2.7 0 1,0 -5.4,0M1454.9,2503.2a2.7,2.7 0 1,0 5.4,0a2.7,2.7 0 1,0 -5.4,0M1459.1,2503.0a2.7,2.7 0 1,0 5.4,0a2.7,2.7 0 1,0 -5.4,0M1463.4,2502.8a2.7,2.7 0 1,0 5.4,0a2.7,2.7 0 1,0 -5.4,0M1467.6,2502.8a2.7,2.7 0 1,0 5.4,0a2.7,2.7 0 1,0 -5.4,0M1471.8,2502.9a2.7,2.7 0 1,0 5.4,0a2.7,2.7 0 1,0 -5.4,0M1476.0,2503.1a2.7,2.7 0 1,0 5.4,0a2.7,2.7 0 1,0 -5.4,0M1480.2,2503.3a2.7,2.7 0 1,0 5.4,0a2.7,2.7 0 1,0 -5.4,0M1484.5,2503.7a2.7,2.7 0 1,0 5.4,0a2.7,2.7 0 1,0 -5.4,0M1488.7,2504.1a2.7,2.7 0 1,0 5.4,0a2.7,2.7 0 1,0 -5.4,0M1492.9,2504.6a2.7,2.7 0 1,0 5.4,0a2.7,2.7 0 1,0 -5.4,0M1497.1,2505.1a2.7,2.7 0 1,0 5.4,0a2.7,2.7 0 1,0 -5.4,0M1501.3,2505.6a2.7,2.7 0 1,0 5.4,0a2.7,2.7 0 1,0 -5.4,0M1505.6,2506.1a2.7,2.7 0 1,0 5.4,0a2.7,2.7 0 1,0 -5.4,0M1509.8,2506.6a2.7,2.7 0 1,0 5.4,0a2.7,2.7 0 1,0 -5.4,0M1514.0,2507.1a2.7,2.7 0 1,0 5.4,0a2.7,2.7 0 1,0 -5.4,0M1518.2,2507.5a2.7,2.7 0 1,0 5.4,0a2.7,2.7 0 1,0 -5.4,0M1522.4,2507.8a2.7,2.7 0 1,0 5.4,0a2.7,2.7 0 1,0 -5.4,0M1526.7,2508.0a2.7,2.7 0 1,0 5.4,0a2.7,2.7 0 1,0 -5.4,0M1530.9,2508.2a2.7,2.7 0 1,0 5.4,0a2.7,2.7 0 1,0 -5.4,0M1535.1,2508.2a2.7,2.7 0 1,0 5.4,0a2.7,2.7 0 1,0 -5.4,0M1539.3,2508.0a2.7,2.7 0 1,0 5.4,0a2.7,2.7 0 1,0 -5.4,0M1543.5,2507.7a2.7,2.7 0 1,0 5.4,0a2.7,2.7 0 1,0 -5.4,0M1547.8,2507.2a2.7,2.7 0 1,0 5.4,0a2.7,2.7 0 1,0 -5.4,0M1552.0,2506.7a2.7,2.7 0 1,0 5.4,0a2.7,2.7 0 1,0 -5.4,0M1556.2,2506.1a2.7,2.7 0 1,0 5.4,0a2.7,2.7 0 1,0 -5.4,0M1560.4,2505.5a2.7,2.7 0 1,0 5.4,0a2.7,2.7 0 1,0 -5.4,0M1564.6,2504.9a2.7,2.7 0 1,0 5.4,0a2.7,2.7 0 1,0 -5.4,0M1568.9,2504.3a2.7,2.7 0 1,0 5.4,0a2.7,2.7 0 1,0 -5.4,0M1573.1,2503.7a2.7,2.7 0 1,0 5.4,0a2.7,2.7 0 1,0 -5.4,0M1577.3,2503.3a2.7,2.7 0 1,0 5.4,0a2.7,2.7 0 1,0 -5.4,0M1581.5,2503.0a2.7,2.7 0 1,0 5.4,0a2.7,2.7 0 1,0 -5.4,0M1585.7,2502.7a2.7,2.7 0 1,0 5.4,0a2.7,2.7 0 1,0 -5.4,0M1590.0,2502.5a2.7,2.7 0 1,0 5.4,0a2.7,2.7 0 1,0 -5.4,0M1594.2,2502.2a2.7,2.7 0 1,0 5.4,0a2.7,2.7 0 1,0 -5.4,0M1598.4,2502.0a2.7,2.7 0 1,0 5.4,0a2.7,2.7 0 1,0 -5.4,0M1602.6,2501.8a2.7,2.7 0 1,0 5.4,0a2.7,2.7 0 1,0 -5.4,0M1606.8,2501.6a2.7,2.7 0 1,0 5.4,0a2.7,2.7 0 1,0 -5.4,0M1611.1,2501.4a2.7,2.7 0 1,0 5.4,0a2.7,2.7 0 1,0 -5.4,0M1615.3,2501.1a2.7,2.7 0 1,0 5.4,0a2.7,2.7 0 1,0 -5.4,0M1619.5,2500.8a2.7,2.7 0 1,0 5.4,0a2.7,2.7 0 1,0 -5.4,0M1623.7,2500.5a2.7,2.7 0 1,0 5.4,0a2.7,2.7 0 1,0 -5.4,0M1627.9,2500.1a2.7,2.7 0 1,0 5.4,0a2.7,2.7 0 1,0 -5.4,0M1632.2,2499.6a2.7,2.7 0 1,0 5.4,0a2.7,2.7 0 1,0 -5.4,0M1636.4,2499.1a2.7,2.7 0 1,0 5.4,0a2.7,2.7 0 1,0 -5.4,0M1640.6,2498.6a2.7,2.7 0 1,0 5.4,0a2.7,2.7 0 1,0 -5.4,0M1644.8,2498.1a2.7,2.7 0 1,0 5.4,0a2.7,2.7 0 1,0 -5.4,0M1649.0,2497.6a2.7,2.7 0 1,0 5.4,0a2.7,2.7 0 1,0 -5.4,0M1653.3,2497.3a2.7,2.7 0 1,0 5.4,0a2.7,2.7 0 1,0 -5.4,0M1657.5,2497.1a2.7,2.7 0 1,0 5.4,0a2.7,2.7 0 1,0 -5.4,0M1661.7,2497.0a2.7,2.7 0 1,0 5.4,0a2.7,2.7 0 1,0 -5.4,0M1665.9,2497.0a2.7,2.7 0 1,0 5.4,0a2.7,2.7 0 1,0 -5.4,0M1670.1,2497.1a2.7,2.7 0 1,0 5.4,0a2.7,2.7 0 1,0 -5.4,0M1674.4,2497.2a2.7,2.7 0 1,0 5.4,0a2.7,2.7 0 1,0 -5.4,0M1678.6,2497.3a2.7,2.7 0 1,0 5.4,0a2.7,2.7 0 1,0 -5.4,0M1682.8,2497.5a2.7,2.7 0 1,0 5.4,0a2.7,2.7 0 1,0 -5.4,0M1687.0,2497.6a2.7,2.7 0 1,0 5.4,0a2.7,2.7 0 1,0 -5.4,0M1691.2,2497.7a2.7,2.7 0 1,0 5.4,0a2.7,2.7 0 1,0 -5.4,0M1695.5,2497.8a2.7,2.7 0 1,0 5.4,0a2.7,2.7 0 1,0 -5.4,0M1699.7,2497.9a2.7,2.7 0 1,0 5.4,0a2.7,2.7 0 1,0 -5.4,0M1703.9,2497.9a2.7,2.7 0 1,0 5.4,0a2.7,2.7 0 1,0 -5.4,0M1708.1,2497.6a2.7,2.7 0 1,0 5.4,0a2.7,2.7 0 1,0 -5.4,0M1712.3,2496.9a2.7,2.7 0 1,0 5.4,0a2.7,2.7 0 1,0 -5.4,0M1716.6,2496.0a2.7,2.7 0 1,0 5.4,0a2.7,2.7 0 1,0 -5.4,0M1720.8,2495.1a2.7,2.7 0 1,0 5.4,0a2.7,2.7 0 1,0 -5.4,0M1725.0,2494.2a2.7,2.7 0 1,0 5.4,0a2.7,2.7 0 1,0 -5.4,0M1729.2,2493.4a2.7,2.7 0 1,0 5.4,0a2.7,2.7 0 1,0 -5.4,0M1733.4,2493.0a2.7,2.7 0 1,0 5.4,0a2.7,2.7 0 1,0 -5.4,0M1737.7,2492.9a2.7,2.7 0 1,0 5.4,0a2.7,2.7 0 1,0 -5.4,0M1741.9,2493.0a2.7,2.7 0 1,0 5.4,0a2.7,2.7 0 1,0 -5.4,0M1746.1,2493.1a2.7,2.7 0 1,0 5.4,0a2.7,2.7 0 1,0 -5.4,0M1750.3,2493.3a2.7,2.7 0 1,0 5.4,0a2.7,2.7 0 1,0 -5.4,0M1754.5,2493.6a2.7,2.7 0 1,0 5.4,0a2.7,2.7 0 1,0 -5.4,0M1758.8,2493.8a2.7,2.7 0 1,0 5.4,0a2.7,2.7 0 1,0 -5.4,0M1763.0,2494.1a2.7,2.7 0 1,0 5.4,0a2.7,2.7 0 1,0 -5.4,0M1767.2,2494.3a2.7,2.7 0 1,0 5.4,0a2.7,2.7 0 1,0 -5.4,0M1771.4,2494.6a2.7,2.7 0 1,0 5.4,0a2.7,2.7 0 1,0 -5.4,0M1775.6,2494.8a2.7,2.7 0 1,0 5.4,0a2.7,2.7 0 1,0 -5.4,0M1779.9,2494.9a2.7,2.7 0 1,0 5.4,0a2.7,2.7 0 1,0 -5.4,0M1784.1,2495.0a2.7,2.7 0 1,0 5.4,0a2.7,2.7 0 1,0 -5.4,0M1788.3,2495.0a2.7,2.7 0 1,0 5.4,0a2.7,2.7 0 1,0 -5.4,0M1792.5,2494.8a2.7,2.7 0 1,0 5.4,0a2.7,2.7 0 1,0 -5.4,0M1796.7,2494.6a2.7,2.7 0 1,0 5.4,0a2.7,2.7 0 1,0 -5.4,0M1801.0,2494.2a2.7,2.7 0 1,0 5.4,0a2.7,2.7 0 1,0 -5.4,0M1805.2,2493.9a2.7,2.7 0 1,0 5.4,0a2.7,2.7 0 1,0 -5.4,0M1809.4,2493.5a2.7,2.7 0 1,0 5.4,0a2.7,2.7 0 1,0 -5.4,0M1813.6,2493.1a2.7,2.7 0 1,0 5.4,0a2.7,2.7 0 1,0 -5.4,0M1817.8,2492.8a2.7,2.7 0 1,0 5.4,0a2.7,2.7 0 1,0 -5.4,0M1822.1,2492.6a2.7,2.7 0 1,0 5.4,0a2.7,2.7 0 1,0 -5.4,0M1826.3,2492.5a2.7,2.7 0 1,0 5.4,0a2.7,2.7 0 1,0 -5.4,0M1830.5,2492.5a2.7,2.7 0 1,0 5.4,0a2.7,2.7 0 1,0 -5.4,0M1834.7,2492.6a2.7,2.7 0 1,0 5.4,0a2.7,2.7 0 1,0 -5.4,0M1838.9,2492.7a2.7,2.7 0 1,0 5.4,0a2.7,2.7 0 1,0 -5.4,0M1843.2,2492.9a2.7,2.7 0 1,0 5.4,0a2.7,2.7 0 1,0 -5.4,0M1847.4,2493.1a2.7,2.7 0 1,0 5.4,0a2.7,2.7 0 1,0 -5.4,0M1851.6,2493.4a2.7,2.7 0 1,0 5.4,0a2.7,2.7 0 1,0 -5.4,0M1855.8,2493.8a2.7,2.7 0 1,0 5.4,0a2.7,2.7 0 1,0 -5.4,0M1860.0,2494.2a2.7,2.7 0 1,0 5.4,0a2.7,2.7 0 1,0 -5.4,0M1864.3,2494.6a2.7,2.7 0 1,0 5.4,0a2.7,2.7 0 1,0 -5.4,0M1868.5,2495.2a2.7,2.7 0 1,0 5.4,0a2.7,2.7 0 1,0 -5.4,0M1872.7,2495.7a2.7,2.7 0 1,0 5.4,0a2.7,2.7 0 1,0 -5.4,0" fill="#000" fill-opacity="1.0"/>
<rect x="1241.5" y="1715.6" width="635.80" height="907.40" fill="none" stroke="#111" stroke-width="3.2"/>
<line x1="1241.50" y1="2623.00" x2="1241.50" y2="2641.00" stroke="#111" stroke-width="3"/>
<line x1="1347.47" y1="2623.00" x2="1347.47" y2="2632.50" stroke="#111" stroke-width="3"/>
<line x1="1453.43" y1="2623.00" x2="1453.43" y2="2641.00" stroke="#111" stroke-width="3"/>
<line x1="1559.40" y1="2623.00" x2="1559.40" y2="2632.50" stroke="#111" stroke-width="3"/>
<line x1="1665.37" y1="2623.00" x2="1665.37" y2="2641.00" stroke="#111" stroke-width="3"/>
<line x1="1771.33" y1="2623.00" x2="1771.33" y2="2632.50" stroke="#111" stroke-width="3"/>
<line x1="1877.30" y1="2623.00" x2="1877.30" y2="2641.00" stroke="#111" stroke-width="3"/>
<text transform="matrix(0.9800 0 0 1 1184.69 2702.02)" font-size="68.08" fill="#000">200</text>
<text transform="matrix(0.9800 0 0 1 1396.62 2702.02)" font-size="68.08" fill="#000">250</text>
<text transform="matrix(0.9800 0 0 1 1608.96 2702.02)" font-size="68.08" fill="#000">300</text>
<text transform="matrix(0.9800 0 0 1 1820.89 2702.02)" font-size="68.08" fill="#000">350</text>
<text transform="matrix(1.0127 0 0 1 1198.36 2814.04)" font-size="86.03" fill="#000">Raman Shift (cm</text>
<text transform="matrix(0.8389 0 0 1 1845.44 2766.64)" font-size="53.97" fill="#000">-1</text>
<text transform="matrix(0.8901 0 0 1 1896.03 2814.04)" font-size="86.03" fill="#000">)</text>
<text transform="rotate(-90) matrix(0.9858 0 0 1 -2447.62 1178.41)" font-size="88.42" fill="#000">Intensity (a.u.)</text>
<text transform="matrix(0.9213 0 0 1 1733.84 1669.19)" font-size="132.40" fill="#000">(c)</text>
<text transform="matrix(0.9793 0 0 1 1351.08 1769.77)" font-size="52.54" fill="#000">CuO</text>
<text transform="matrix(0.9075 0 0 1 1288.23 1812.70)" font-size="40.55" fill="#000">A</text>
<text transform="matrix(1.3701 0 0 1 1314.08 1829.35)" font-size="19.46" fill="#000">g</text>
<text transform="matrix(1.0048 0 0 1 1333.41 1812.72)" font-size="40.02" fill="#000">(274 cm</text>
<text transform="matrix(0.9895 0 0 1 1479.28 1791.00)" font-size="21.08" fill="#000">-1</text>
<text transform="translate(1500.35 1812.72)" font-size="40.02" fill="#000">)</text>
<line x1="1470.90" y1="1760.00" x2="1513.57" y2="1772.02" stroke="#555" stroke-width="1.4"/>
<polygon points="1530.90,1776.90 1510.29,1776.29 1513.00,1766.66" fill="#000"/>
<text transform="matrix(1.0233 0 0 1 1568.98 1764.00)" font-size="50.20" fill="#960000">CuO-TiO</text>
<text transform="translate(1771.29 1784.60)" font-size="32.23" fill="#960000">2</text>
<text transform="matrix(0.9699 0 0 1 1802.87 1763.70)" font-size="51.89" fill="#960000">NT</text>
<text transform="matrix(1.0070 0 0 1 1671.25 2061.58)" font-size="51.70" fill="#000080">TiO</text>
<text transform="matrix(1.0114 0 0 1 1752.78 2082.00)" font-size="32.09" fill="#000080">2</text>
<text transform="matrix(0.9677 0 0 1 1784.01 2061.70)" font-size="52.76" fill="#000080">NT</text>
<text transform="matrix(1.0263 0 0 1 1561.30 2430.40)" font-size="50.07" fill="#000">Anatase TiO</text>
<text transform="matrix(1.0510 0 0 1 1843.07 2451.30)" font-size="31.09" fill="#000">2</text>
</g>
</svg>
</body></html>
